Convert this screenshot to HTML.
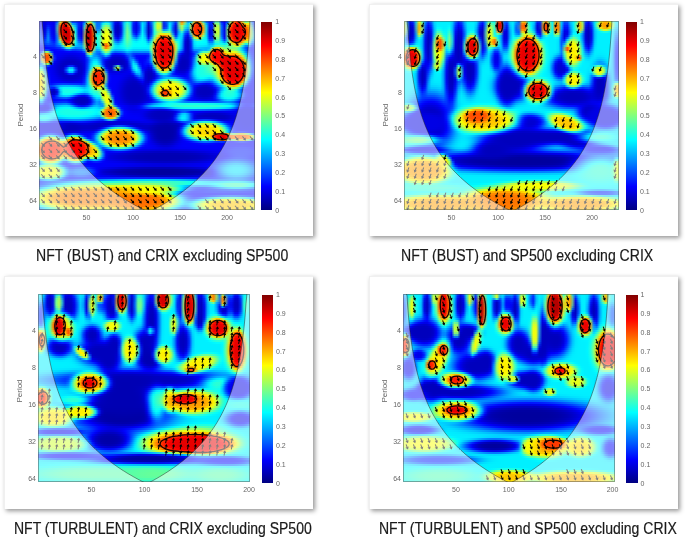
<!DOCTYPE html><html><head><meta charset="utf-8"><style>
*{margin:0;padding:0;box-sizing:border-box}
html,body{width:685px;height:541px;background:#fff;overflow:hidden;position:relative;font-family:"Liberation Sans",sans-serif}
.card{position:absolute;background:#fff;border-top:1px solid #f0f0f0;border-left:1px solid #f0f0f0;box-shadow:1.5px 1.5px 4.5px rgba(0,0,0,.42)}
.hm{position:absolute;overflow:hidden}
.ax{position:absolute;border:0.7px solid rgba(60,60,60,.45);pointer-events:none}
.hm i{position:absolute;left:0;width:100%;display:block}
.lb{position:absolute;font-size:7px;color:#666;line-height:1;white-space:nowrap;filter:blur(0.25px)}
.cap{position:absolute;font-size:16px;color:#1a1a1a;white-space:nowrap;transform-origin:0 0;line-height:1;-webkit-text-stroke:0.2px #1a1a1a}
.cb{position:absolute;background:linear-gradient(0deg,#000080 0%,#0000ff 12.5%,#00ffff 37.5%,#ffff00 62.5%,#ff0000 87.5%,#800000 100%)}
svg{position:absolute;overflow:hidden}
</style></head><body>
<svg width="0" height="0" style="position:absolute"><defs><filter id="bl" x="-5%" y="-5%" width="110%" height="110%"><feGaussianBlur stdDeviation="0.45"/></filter><g id="ar"><path d="M-2.6 0H1" stroke="#000" stroke-width="1"/><path d="M2.9 0L0.3-1.7V1.7Z" fill="#000"/></g></defs></svg>
<div class="card" style="left:4px;top:4px;width:309px;height:231.6px"></div>
<div class="hm" style="left:39px;top:21px;width:216px;height:189px"><i style="top:0px;height:2px;background:linear-gradient(90deg,#0000fa,#0000e8,#0000df,#0000fa,#0000f2,#0000ee,#005bff,#c0e23f,#ff6000,#fd9402,#4fdfb0,#0040ff,#003bff,#0017fe,#000afc,#0065ff,#78f487,#c0f43f,#0ab5f5,#0062ff,#006aff,#00adff,#00d9ff,#00c6ff,#0078ff,#000cf7,#0000e3,#002dfe,#00c2ff,#18ffe7,#04d8fb,#0030ff,#0003fc,#0055ff,#00c6ff,#009fff,#0008f7,#006aff,#16f9e9,#a2ff5d,#78fc87,#0028fc,#005dff,#00c4ff,#0087ff,#0032ff,#5ed1a1,#ff8300,#9dcd62,#00a2ff,#10d1ef,#ded421,#ff7200,#f8ac07,#40ddbf,#006bff,#0022ff,#001cff,#56e4a9,#55e0aa,#0025ff,#0000f6,#0058ff,#96f669,#ff7100,#ff2f00,#ff4e00,#dad925,#66ff99,#a3ff5c,#0061ff,#0000fa)"></i><i style="top:2px;height:2px;background:linear-gradient(90deg,#0000fd,#0000e6,#0000db,#0007fe,#0000f5,#0000ee,#138aec,#f79808,#f90a00,#fb1900,#d0c62f,#05a5fa,#007dff,#0025fc,#000bf6,#08acf7,#e5bd1a,#ff8500,#4bf0b4,#006eff,#0073ff,#0bf2f4,#3fffc0,#1efce1,#0086ff,#0004e8,#0000ce,#001ff7,#06d2f9,#3effc1,#10e2ef,#0021fc,#0000ee,#0044ff,#00e1ff,#00a1ff,#0000de,#005dfc,#37ffc8,#d0ff2f,#b5ff4a,#0020ec,#0050f7,#00edff,#007cff,#000df9,#65db9a,#ffb500,#6be794,#00cfff,#68fa97,#ff6f00,#ff2f00,#ff4900,#b1e44e,#00b4ff,#0023fd,#0023fd,#87ff78,#87fe78,#004dff,#0000f6,#149ceb,#eeb911,#fe1d00,#f90100,#fd0c00,#ff7e00,#f1ea0e,#f6ea09,#1f8ce0,#0001fe)"></i><i style="top:4px;height:2px;background:linear-gradient(90deg,#000cff,#0001e7,#0000da,#001dff,#0004f7,#0000ec,#31a2ce,#fe5500,#e00000,#e20000,#fe5e00,#41ebbe,#00b1ff,#0025f7,#0006eb,#30c6cf,#ff5d00,#fd2100,#8fe770,#006fff,#0076ff,#3dffc2,#8bff74,#5dffa2,#0088ff,#0000d9,#0000c2,#0012ee,#0bcff4,#52ffad,#18e2e7,#0019f9,#0000e8,#0035fe,#00e7ff,#0093ff,#0000ca,#004ef3,#43ffbc,#d8ff27,#c4ff3b,#0020eb,#0048f5,#00fcff,#0063fd,#0000e5,#5bd4a4,#b9ff46,#27f0d8,#00d2ff,#a2e75d,#ff4000,#ff2500,#ff2d00,#e6b419,#0ed7f1,#0018f5,#0020f4,#abff54,#b0ff4f,#0064ff,#0000f0,#3ec4c1,#ff6b00,#f60200,#e90000,#ef0000,#ff3300,#ff9000,#ffbd00,#41b7be,#000dff)"></i><i style="top:6px;height:2px;background:linear-gradient(90deg,#0026ff,#0005e8,#0000da,#0039ff,#0007f6,#0000ea,#40abbf,#f93600,#d60000,#d40000,#f41a00,#93eb6c,#00d2ff,#001ef2,#0001e4,#5bc9a4,#f42000,#e80200,#c0c33f,#0077ff,#0280fd,#70ff8f,#bfff40,#93ff6c,#0491fb,#0000d0,#0000be,#000de6,#0dcbf2,#60ff9f,#20e3df,#0017f8,#0000e7,#0031fc,#01e7fe,#0086ff,#0000c2,#0042ef,#3dffc2,#d1ff2e,#baff45,#002efc,#005dfd,#09fff6,#0055f7,#0000d9,#4ec7b1,#acff53,#1ddde2,#00b3ff,#b6d949,#ff3300,#ff2400,#ff2700,#f99c06,#1edde1,#000fea,#001eea,#baff45,#c1ff3e,#0068ff,#0005eb,#67d498,#ff3900,#ec0000,#e60000,#e80000,#fb1300,#ff5900,#ffa600,#69ce96,#0028ff)"></i><i style="top:8px;height:2px;background:linear-gradient(90deg,#0043ff,#000ce9,#0000db,#0051ff,#0009f5,#0000e8,#43a6bc,#f62e00,#d30000,#d10000,#e80400,#cfc430,#05e4fa,#001bed,#0000de,#73b28c,#e50900,#d40000,#d69729,#028cfd,#0d93f2,#9aff65,#dfff20,#bcff43,#139eec,#0000cd,#0000bd,#000be3,#0fcbf0,#6bff94,#27e7d8,#001cf9,#0000e8,#0037fe,#01e9fe,#0081ff,#0000c1,#003bee,#2fffd0,#b1ff4e,#a2ff5d,#008fff,#07b2f8,#24ffdb,#0055f5,#0000d6,#29b8d6,#8aff75,#06b8f9,#007eff,#a8da57,#ff3300,#ff2400,#ff2700,#fb9c04,#21dbde,#000ae5,#001be5,#bdff42,#c7ff38,#0065fe,#000ae9,#78d387,#fd2500,#e80000,#e60000,#e60000,#f70800,#ff4000,#ff9c00,#7dd682,#0046ff)"></i><i style="top:10px;height:2px;background:linear-gradient(90deg,#005dff,#0012ec,#0000df,#0065ff,#000bf5,#0000e7,#3998c6,#f73500,#d30000,#d10000,#de0000,#e99a16,#13eaec,#001aeb,#0000dc,#85a27a,#dc0000,#cc0000,#e57b17,#09b2f6,#18bde7,#b9ff46,#f0ff0f,#d7ff28,#23b6dc,#0000d2,#0000be,#000ee6,#11cfee,#71ff8e,#2eeed1,#002afc,#0000ef,#004bff,#01effe,#0087ff,#0000c2,#003dee,#26ffd9,#88ff77,#aeff51,#43fcbc,#57fda8,#5fffa0,#006bfa,#0000da,#0bacf4,#2ffcd0,#007cff,#0040ff,#87d978,#ff3f00,#ff2500,#ff2c00,#edaf12,#18d8e7,#0008e4,#0017e4,#b9ff46,#c5ff3a,#0064fd,#000ce9,#7dd282,#fc1f00,#e80000,#e60000,#e60000,#f50500,#ff3900,#ff9a00,#84dd7b,#0060ff)"></i><i style="top:12px;height:2px;background:linear-gradient(90deg,#006eff,#001af2,#0003e5,#0076ff,#000ef7,#0000e7,#2787d8,#fa4b00,#d40000,#d10000,#d90000,#fb8204,#23eedc,#001ced,#0000de,#959d6a,#d30000,#c90000,#ed6e0a,#0fe2f0,#28e9d7,#cdff32,#f7ff08,#e7ff18,#35cfca,#0002dd,#0000c2,#0014ef,#13d8ec,#74ff8b,#32f6cd,#0048ff,#0008fd,#006fff,#02f7fd,#0096ff,#0000ca,#0049f3,#2fffd0,#a4ff5b,#f5f00a,#e9ea16,#e9ef16,#b6ff49,#1397ec,#0001ed,#01bafe,#02e9fd,#0049ff,#000dfc,#53cdac,#ff6a00,#ff2e00,#ff4400,#cddb32,#0bd9f4,#000ae5,#0015e5,#adff52,#bbff44,#0067ff,#000aea,#79d286,#fd2300,#e80000,#e60000,#e60000,#f70700,#ff3e00,#ff9c00,#83e17c,#0070ff)"></i><i style="top:14px;height:2px;background:linear-gradient(90deg,#0074ff,#0028f8,#000ced,#0084ff,#0014f9,#0000ea,#0f7df0,#fb7604,#d90000,#d10000,#d90000,#ff7400,#2ff1d0,#0024f3,#0002e5,#a0a05f,#cf0000,#c80000,#f26802,#13fcec,#38fec7,#daff25,#f9ff06,#efff10,#4ddfb2,#000ceb,#0000d0,#0026f8,#14e4eb,#72ff8d,#35feca,#007aff,#0036ff,#009fff,#03fcfc,#00adff,#0000df,#0061fc,#4fffb0,#e2f31d,#ff9a00,#ff7800,#ff8900,#f7df08,#3dd5c2,#0023ff,#01d2fe,#00d9ff,#0026fa,#0000e4,#1391ec,#f1c40e,#ff6100,#ff9200,#83fd7c,#03dffc,#0011eb,#0017eb,#98ff67,#a8ff57,#0076ff,#0006ee,#6dd492,#ff3400,#ed0000,#e70000,#e80000,#fb0f00,#ff5400,#ffa500,#79e486,#0076ff)"></i><i style="top:16px;height:2px;background:linear-gradient(90deg,#006fff,#0036fe,#0019fb,#008dff,#001efd,#0000f2,#0077ff,#deaa21,#e60200,#d20000,#dd0000,#ff7900,#32f5cd,#0036f8,#000bee,#a5a85a,#ce0000,#c80000,#f36400,#17ffe8,#43ffbc,#e0ff1f,#faff05,#f2ff0d,#5eefa1,#0024fc,#0001ee,#004aff,#17eee8,#6bff94,#39ffc6,#00b4ff,#007dff,#00ceff,#04fffb,#00c9ff,#0012fa,#0190fe,#84ff7b,#fdbd02,#ff4f00,#ff2c00,#ff3d00,#ff9100,#8cf873,#0080ff,#01eafe,#00caff,#0012ef,#0000ce,#004ffc,#84fe7b,#ede012,#c4f63b,#29ffd6,#01e9fe,#0020f7,#0021f7,#77ff88,#86ff79,#0092ff,#000bfc,#4fd0b0,#ff5e00,#f90300,#ed0000,#f00000,#ff2700,#ff8100,#ffb800,#5bdfa4,#0070ff)"></i><i style="top:18px;height:2px;background:linear-gradient(90deg,#005fff,#0044ff,#0033ff,#008aff,#002eff,#0005fd,#0074ff,#a6e359,#f61900,#da0000,#e90100,#fb9104,#2af8d5,#0052ff,#001dfd,#a4b35b,#cf0000,#c80000,#f26802,#15ffea,#45ffba,#e2ff1d,#faff05,#f3ff0c,#67fc98,#005aff,#0026ff,#0080ff,#19f7e6,#61ff9e,#38ffc7,#01e4fe,#00c4ff,#00f0ff,#05fffa,#01e3fe,#0050ff,#10c2ef,#bef941,#ff7900,#ff1d00,#fe0600,#ff1000,#ff4f00,#d8df27,#0ce7f3,#02fbfd,#00bcff,#000ae3,#0000c3,#0031f5,#16f0e9,#53ffac,#33ffcc,#06fff9,#01f2fe,#0043ff,#0043ff,#50fcaf,#59ffa6,#00bbff,#003eff,#31d4ce,#fea301,#ff2400,#fd0700,#fe0b00,#ff6200,#ffd500,#fbe004,#30cccf,#005fff)"></i><i style="top:20px;height:2px;background:linear-gradient(90deg,#0045ff,#0044ff,#0044ff,#0078ff,#003dff,#0019ff,#0078ff,#4ff2b0,#ff6b00,#f40300,#fa1000,#e8b817,#19f8e6,#007cff,#004bff,#9dc062,#d30000,#c90000,#ec6f0a,#10ffef,#42ffbd,#e0ff1f,#fcfd03,#f3ff0c,#70ff8f,#0099ff,#006dff,#00b6ff,#18fee7,#55ffaa,#32ffcd,#04fbfb,#00f1ff,#02fefd,#05fffa,#02f5fd,#009dff,#26ebd9,#e3e01c,#ff4500,#fb0500,#f10000,#f70100,#ff2400,#fbb204,#54ffab,#08fff7,#00b2ff,#0004dd,#0000bf,#0025f1,#01e5fe,#07fff8,#03fffc,#00feff,#00f7ff,#007bff,#007cff,#27fad8,#2effd1,#02e7fd,#0096ff,#22e8dd,#e2e61d,#ff7000,#ff3c00,#ff4800,#f4c20b,#a4ff5b,#c2ff3d,#0aa2f5,#0045ff)"></i><i style="top:22px;height:2px;background:linear-gradient(90deg,#0027ff,#0030ff,#003bff,#0057ff,#003fff,#002cff,#0071ff,#09c6f6,#cdd932,#ff4b00,#ff5700,#beec41,#05ecfa,#009fff,#007eff,#8dce72,#dc0000,#cc0000,#e47c19,#08fef7,#37ffc8,#def321,#ff7600,#f6cd09,#6eff91,#00cfff,#00b2ff,#00e0ff,#17ffe8,#47ffb8,#2affd5,#07fff8,#01fffe,#04fffb,#04fffb,#02fdfd,#00dbff,#47fdb8,#f7be08,#ff2200,#f10000,#e90000,#ed0000,#fd0c00,#ff8000,#90ff6f,#0dfff2,#00abff,#0001db,#0000be,#001ff0,#00deff,#00fbff,#00f9ff,#00f7ff,#00f1ff,#00aeff,#00b1ff,#0bfbf4,#19ffe6,#13feec,#05effa,#2afdd5,#a1ff5e,#fad905,#ffa300,#febd01,#95fc6a,#15ecea,#3af9c5,#005dff,#0027ff)"></i><i style="top:24px;height:2px;background:linear-gradient(90deg,#000dff,#0015ff,#001fff,#002eff,#002dff,#002bff,#0054ff,#0079ff,#3be9c4,#e8df17,#f1dd0e,#54faab,#00c2ff,#00a7ff,#009cff,#76dd89,#e60b00,#d50000,#d29b2d,#01f5fe,#25fdda,#d6d829,#ff4e00,#f69e09,#5effa1,#00eaff,#00ddff,#00f3ff,#10ffef,#37ffc8,#1fffe0,#03fffc,#01fefe,#01fffe,#01fffe,#01fffe,#01f8fe,#67ff98,#ff9e00,#fc1000,#ea0000,#e60000,#e80000,#f70300,#ff5c00,#affa50,#0efdf1,#00a5ff,#0001da,#0000be,#001cef,#00d2ff,#00edff,#00e8ff,#00e3ff,#00ddff,#00c3ff,#04dafb,#3fffc0,#59ffa6,#41ffbe,#3affc5,#4effb1,#71ff8e,#b4ff4b,#d8ff27,#a6ff59,#1ce3e3,#0081ff,#0096ff,#0022ff,#000dff)"></i><i style="top:26px;height:2px;background:linear-gradient(90deg,#0001fe,#0003ff,#0007ff,#000dff,#0011ff,#0016ff,#0028ff,#0038ff,#0075ff,#29ead6,#3cfbc3,#04b6fb,#0082ff,#0085ff,#008bff,#4ddeb2,#f62800,#ea0400,#b0ca4f,#00d8ff,#0eedf1,#b5f54a,#ff7a00,#e3d11c,#3cfdc3,#00e4ff,#00e2ff,#00eaff,#04f9fb,#20ffdf,#0efef1,#00f4ff,#00f2ff,#00f3ff,#00f3ff,#00f3ff,#01f6fe,#76ff89,#ff8400,#f90700,#e80000,#e60000,#e60000,#f20000,#ff4700,#baf145,#0bf5f4,#009aff,#0001dc,#0000bf,#001af0,#00b9ff,#00ccff,#00c5ff,#00beff,#00b6ff,#00bcff,#5ffba0,#ecd613,#f8cc07,#baf945,#70ff8f,#76ff89,#79ff86,#80ff7f,#79ff86,#36ffc9,#00b4ff,#0053ff,#0036ff,#0007ff,#0001fe)"></i><i style="top:28px;height:2px;background:linear-gradient(90deg,#0000fa,#0003fd,#003dff,#003fff,#0005ff,#0002fe,#0007ff,#000dff,#0019ff,#004dff,#0069ff,#0040ff,#003aff,#0045ff,#0051ff,#15a4ea,#fc7503,#fe2d00,#78e387,#00a9ff,#00bfff,#73ff8c,#daff25,#abff54,#13e4ec,#00b7ff,#00bbff,#00c1ff,#00d4ff,#03f4fc,#00e5ff,#00cfff,#00ceff,#00cfff,#00d0ff,#00d0ff,#00d5ff,#6cff93,#ff7a00,#f60500,#e70000,#e60000,#e60000,#ef0000,#ff3e00,#b3ef4c,#02d3fd,#0078ff,#0001de,#0000c1,#0014f1,#0087ff,#0094ff,#00a0ff,#00b9ff,#00b0ff,#12d2ed,#e6c619,#ff3c00,#ff3200,#ff9400,#befd41,#a2ff5d,#a6ff59,#9bff64,#78ff87,#2effd1,#00c5ff,#0065ff,#0025ff,#0004ff,#0000fb)"></i><i style="top:30px;height:2px;background:linear-gradient(90deg,#0000fa,#055dfa,#88f577,#88f577,#055efa,#0000fb,#0000fb,#0000fa,#0000fa,#0004fb,#0008fc,#0005fb,#0007fd,#000cff,#0015ff,#004dff,#c4d33b,#fda102,#2ed0d1,#007cff,#0078ff,#27ebd8,#96ff69,#57fea8,#0092ff,#0062ff,#0068ff,#0070ff,#0087ff,#00b5ff,#00a5ff,#0088ff,#0086ff,#0088ff,#0089ff,#0088ff,#008dff,#4ef1b1,#ff8100,#f60400,#e60000,#e60000,#e60000,#ee0000,#ff4100,#98f467,#0085ff,#0035ff,#0000da,#0000c4,#0009ee,#0049ff,#0070ff,#0ed8f1,#4cffb3,#4affb5,#8af975,#ff5500,#fe0500,#fe0300,#ff3200,#f6d509,#d7ff28,#e9fe16,#e7fe18,#c4ff3b,#74ff8b,#13f1ec,#0092ff,#0039ff,#000aff,#0000fc)"></i><i style="top:32px;height:2px;background:linear-gradient(90deg,#0007fc,#65d09a,#ff8400,#ff8400,#65d09a,#0007fc,#0000f8,#0000f5,#0000f0,#0000ed,#0000eb,#0000eb,#0000ed,#0000f2,#0000f8,#0011fd,#55e4aa,#b2fc4d,#04adfb,#0074ff,#0053ff,#01a5fe,#2afed5,#09cff6,#0029fe,#000efb,#000ffc,#0015ff,#002dff,#0069ff,#006dff,#003fff,#0031ff,#0032ff,#0032ff,#0031ff,#003aff,#2dd6d2,#ff9500,#f70600,#e60000,#e60000,#e60000,#ef0000,#ff4c00,#7bf584,#0035fd,#0002ef,#0000ce,#0000c6,#0001ea,#002cff,#04a7fb,#7eff81,#d5ff2a,#d9ff26,#f8c107,#ff1c00,#fb0000,#fa0000,#ff0f00,#ff8300,#ffd400,#ffc000,#ffb400,#ffd000,#d8fa27,#59ffa6,#01c7fe,#0056ff,#0015ff,#0001fd)"></i><i style="top:34px;height:2px;background:linear-gradient(90deg,#001ffd,#b9cf46,#ff5200,#ff5200,#b9cf46,#001efc,#0000f5,#0000ee,#0000e7,#0000e1,#0000dd,#0000dd,#0000e1,#0000e7,#0000ee,#0003f9,#079af8,#1cf8e3,#00a3ff,#0090ff,#005dff,#005aff,#00a9ff,#0060ff,#0002ea,#0000dc,#0000dc,#0000e3,#0002f4,#0037ff,#0067ff,#0033ff,#0007ff,#0004fe,#0004fe,#0004fe,#0018ff,#1fc0e0,#f7a608,#f90900,#e70000,#e60000,#e60000,#f20000,#ff5b00,#65e79a,#0016f2,#0000d1,#0000c7,#0000c7,#0002ec,#0042ff,#2ae4d5,#d0ff2f,#f7ff08,#fbfd04,#ff9000,#fe0e00,#fa0000,#fa0000,#fe0300,#ff1d00,#ff4200,#ff5e00,#ff5b00,#ff6e00,#ffb300,#bcfb43,#1ceee3,#0077ff,#0022ff,#0002fe)"></i><i style="top:36px;height:2px;background:linear-gradient(90deg,#002ffd,#d2b82d,#ff4e00,#ff4e00,#d1b82e,#002dfc,#0000ef,#0000e5,#0000dc,#0000d4,#0000d1,#0000d1,#0000d4,#0000dc,#0000e6,#0000f5,#004bff,#00b4ff,#00b7ff,#00b4ff,#0077ff,#0035ff,#003dff,#0011f7,#0000d0,#0000c9,#0000c9,#0000ce,#0000dd,#0018fc,#0074ff,#0062ff,#000dff,#0000fa,#0000fa,#0002fd,#0024ff,#17bce8,#edb712,#fc1100,#e90000,#e60000,#e70000,#f50300,#ff7300,#49dab6,#000be5,#0000c5,#0000c3,#0000c8,#0006ef,#0063ff,#4af8b5,#e3ff1c,#faff05,#fcfd03,#ff9700,#ff1300,#fb0000,#fa0000,#f90000,#f10000,#f20000,#fe1000,#ff1d00,#ff2900,#ff5a00,#f8ce07,#5cffa3,#009cff,#0030ff,#0005ff)"></i><i style="top:38px;height:2px;background:linear-gradient(90deg,#0023fe,#bacf45,#ff5200,#ff5200,#b8cf47,#001df9,#0000e9,#0000dc,#0000d1,#0000ca,#0000c7,#0000c7,#0000ca,#0000d1,#0000dc,#0000ef,#0034ff,#009eff,#00d6ff,#00d6ff,#0091ff,#0028ff,#0003f6,#0000d8,#0000c3,#0000c0,#0000c0,#0000c3,#0000cd,#0007f0,#0071ff,#009fff,#0031ff,#0000fc,#0000fa,#0008fe,#0030ff,#0bb2f4,#dfd120,#fe2100,#ed0000,#e70000,#e90000,#fa0a00,#fe9901,#2ac3d5,#0002dc,#0000bf,#0000bf,#0000c6,#0009f0,#0076ff,#46fbb9,#daff25,#f8ff07,#f9ff06,#ffc400,#ff3200,#fe0200,#fc0000,#f50000,#e90000,#e70000,#ef0000,#fa0000,#fd0400,#ff2100,#ff7f00,#affa50,#04c2fb,#003eff,#0008ff)"></i><i style="top:40px;height:2px;background:linear-gradient(90deg,#001eff,#6ad995,#ff8400,#ff8400,#64cf9b,#0005f3,#0000e2,#0000d4,#0000c9,#0000c3,#0000c1,#0000c1,#0000c3,#0000c9,#0000d4,#0000ea,#0036ff,#00acff,#01f2fe,#01f2fe,#00a8ff,#0029ff,#0000df,#0000c7,#0000bf,#0000bd,#0000bd,#0000bf,#0000c6,#0000e2,#0060ff,#00ceff,#0070ff,#0007fd,#0000fa,#000efe,#0028ff,#0093ff,#bdea42,#ff4000,#f60100,#eb0000,#f00000,#fe1c00,#eabf15,#129eed,#0000d0,#0000bd,#0000bd,#0000c5,#000bf0,#0083ff,#29f7d6,#afff50,#e4ff1b,#e5ff1a,#e2f91d,#ff8b00,#ff2400,#ff0800,#f10000,#e70000,#e60000,#e80000,#ec0000,#ef0000,#fb0500,#ff4300,#e2dd1d,#19dde6,#004bff,#000bff)"></i><i style="top:42px;height:2px;background:linear-gradient(90deg,#004aff,#089ef7,#8af875,#88f577,#045bf9,#0000eb,#0000dc,#0000cd,#0000c4,#0000c2,#0000c9,#0000c9,#0000c2,#0000c4,#0000ce,#0000e6,#003dff,#00bfff,#0cfef3,#12feed,#00c6ff,#0033ff,#0000da,#0000c4,#0000be,#0000c0,#0000d3,#0000be,#0000c4,#0000d9,#004bff,#01e7fe,#00baff,#001eff,#0000fa,#000dff,#0010ff,#0059ff,#81fd7e,#ff7400,#fe0f00,#f70000,#fc0500,#ff4300,#c3e73c,#006eff,#0000c7,#0000bd,#0000bd,#0000c5,#000df3,#0092ff,#0df7f2,#5dffa2,#9cff63,#a2ff5d,#87ff78,#d5f22a,#ff8f00,#ff3a00,#f00000,#e60000,#e60000,#e70000,#e70000,#e80000,#f10000,#ff1e00,#fab505,#39ecc6,#0056ff,#000eff)"></i><i style="top:44px;height:2px;background:linear-gradient(90deg,#00a1ff,#00a5ff,#005bff,#003bff,#0003f6,#0000e8,#0000d8,#0000c9,#0000c3,#0002dd,#0029fc,#0029fc,#0002dd,#0000c3,#0000ca,#0000e4,#0043ff,#00cfff,#2dffd2,#66ff99,#33f7cc,#0061ff,#0000e1,#0000c6,#0000bf,#1762d4,#67f098,#001cd7,#0000c6,#0000d8,#0038fe,#06e8f9,#09eef6,#004eff,#0001fa,#0005fd,#0001f1,#0024fa,#38e6c7,#f8bc07,#ff3900,#ff1500,#ff2500,#ff8500,#7bfa84,#003bf7,#0000c3,#0000bd,#0000be,#0000c8,#0016f7,#00a5ff,#09fbf6,#23ffdc,#3dffc2,#4effb1,#57ffa8,#8aff75,#e2f91d,#ffa200,#f80e00,#e80000,#e60000,#e60000,#e60000,#e60000,#eb0000,#fc0d00,#ff8e00,#57f5a8,#005eff,#000eff)"></i><i style="top:46px;height:2px;background:linear-gradient(90deg,#19f1e6,#19f1e6,#0047ff,#0000fa,#0000f3,#0000e6,#0000d5,#0000c8,#0000ca,#0031fb,#00beff,#00beff,#0031fb,#0000ca,#0000c8,#0000e4,#004bff,#07dcf8,#8bff74,#efe510,#daee25,#28c9d7,#000cee,#0000cd,#0000c3,#50aaad,#deff21,#0b55df,#0000cc,#0000dd,#0024fb,#04d8fb,#11feee,#008bff,#0007fb,#0000f4,#0000db,#0007e9,#08abf7,#c3f53c,#ff8400,#ff4e00,#ff6800,#f0d80f,#2ddbd2,#0016f0,#0000c3,#0000bf,#0000c0,#0000d0,#0027fd,#00baff,#0cfff3,#1affe5,#22ffdd,#36ffc9,#52ffad,#7cff83,#bbff44,#f9dc06,#ff3a00,#f20000,#e80000,#e60000,#e60000,#e60000,#e80000,#f90600,#ff7500,#6afb95,#0061ff,#000eff)"></i><i style="top:48px;height:2px;background:linear-gradient(90deg,#6fff90,#6fff90,#0081ff,#0001fb,#0000f3,#0000e6,#0000d5,#0000c8,#0000d0,#0059ff,#01f1fe,#01f1fe,#0059ff,#0000d0,#0000c8,#0000e6,#0057ff,#26ecd9,#ead815,#ff7000,#ff7900,#adef52,#0046fb,#0000da,#0000ce,#1864d9,#69f296,#001ee3,#0000d8,#0000e6,#000ffa,#00abff,#06fdf9,#00bcff,#0018fb,#0000e5,#0000cc,#0000d3,#0051ff,#51f7ae,#f0e70f,#ffb000,#fccf03,#96ff69,#039bfc,#0005eb,#0000ca,#0000c5,#0000c8,#0000e0,#0040ff,#00ccff,#0ffff0,#1affe5,#20ffdf,#34ffcb,#4dffb2,#74ff8b,#b2ff4d,#f8e407,#ff5b00,#fa0600,#e90000,#e60000,#e60000,#e60000,#e70000,#f70400,#ff6c00,#6ffc90,#005dff,#000cff)"></i><i style="top:50px;height:2px;background:linear-gradient(90deg,#bcff43,#bcff43,#14b0eb,#0005fb,#0000f4,#0000e8,#0000d8,#0000c9,#0000cb,#0031fb,#00beff,#00beff,#0031fb,#0000cb,#0000ca,#0002eb,#0068ff,#65f99a,#ff8600,#ff3600,#ff3800,#f7a408,#1b97e4,#0000ec,#0000df,#0000de,#0004eb,#0000df,#0000e6,#0000ec,#0002f5,#0063ff,#00d7ff,#00c9ff,#002ffd,#0000d9,#0000c3,#0000c5,#0015f4,#07baf8,#74ff8b,#c1ff3e,#9aff65,#1ee7e1,#004bff,#0000ed,#0000d8,#0000d2,#0000d6,#0003f1,#0058ff,#00d4ff,#0efff1,#19ffe6,#1fffe0,#2dffd2,#41ffbe,#63ff9c,#a3ff5c,#f4e80b,#ff6100,#fb0800,#e90000,#e60000,#e60000,#e60000,#e70000,#f70500,#ff7200,#67f798,#0053ff,#0008ff)"></i><i style="top:52px;height:2px;background:linear-gradient(90deg,#ecfd13,#ecfd13,#31d4ce,#000bfc,#0000f5,#0000eb,#0000dc,#0000cd,#0000c6,#0002de,#0029fd,#0029fd,#0002de,#0000c6,#0000ce,#0007f0,#007fff,#9df062,#ff5100,#ff2700,#ff2700,#ff6200,#51ceae,#0005f8,#0000f0,#0000ed,#0000ec,#0000ee,#0000ee,#0000ec,#0000e9,#001ffc,#0091ff,#00aeff,#0041ff,#0000d3,#0000bf,#0000bf,#0001e1,#0054ff,#06d2f9,#23fadc,#11ebee,#008bff,#0020ff,#0001f8,#0000eb,#0000e5,#0000e8,#000afb,#0061ff,#00cfff,#0afef5,#17ffe8,#1bffe4,#22ffdd,#2bffd4,#48ffb7,#8bff74,#eaf115,#ff6e00,#fd0d00,#eb0000,#e60000,#e60000,#e60000,#e80000,#fa0800,#ff8800,#4fedb0,#0043ff,#0005ff)"></i><i style="top:54px;height:2px;background:linear-gradient(90deg,#fcf103,#fcf103,#56e6a9,#0014fd,#0000f7,#0000ef,#0000e2,#0000d4,#0000c9,#0000c6,#0000cc,#0000cc,#0000c6,#0000c9,#0000d5,#000df7,#0099ff,#c1df3e,#ff3c00,#ff2400,#ff2400,#ff4600,#79d586,#000cfd,#0000f8,#0000f7,#0000f6,#0000f3,#0000ed,#0000e5,#0000de,#0002ea,#0040ff,#007aff,#0044ff,#0000d2,#0000be,#0000be,#0000d5,#001cff,#006dff,#00a5ff,#009cff,#0068ff,#003dff,#0027ff,#0011ff,#0004fa,#0000f8,#000dff,#0059ff,#00bfff,#04f9fb,#12ffed,#14ffeb,#11ffee,#0cfff3,#22ffdd,#68ff97,#d3fc2c,#ff8900,#ff1800,#ef0000,#e70000,#e60000,#e60000,#ec0000,#fe1400,#f9af06,#2bdcd4,#002fff,#0002fe)"></i><i style="top:56px;height:2px;background:linear-gradient(90deg,#ffe600,#ffe600,#71f48e,#001efd,#0000f8,#0000f3,#0000e9,#0000dc,#0000d1,#0000ca,#0000c7,#0000c7,#0000ca,#0000d1,#0000de,#0017fb,#00afff,#d1d92e,#ff3700,#ff2400,#ff2400,#ff3e00,#82d47d,#0010fd,#0000fa,#0000f9,#0000f7,#0000f1,#0000e7,#0000dd,#0000d4,#0000d4,#0009f4,#003bff,#0033ff,#0000d3,#0000be,#0000c1,#0000e1,#002aff,#0071ff,#00adff,#00c7ff,#00c6ff,#00b7ff,#0098ff,#0069ff,#0038ff,#0014ff,#000fff,#0047ff,#00a5ff,#00e8ff,#04fdfb,#05fcfa,#01f2fe,#00e1ff,#03eefc,#39ffc6,#a7ff58,#ffb700,#ff3100,#f70100,#ea0000,#e70000,#e90000,#f40100,#ff3300,#dcd923,#0db7f2,#001cff,#0001fd)"></i><i style="top:58px;height:2px;background:linear-gradient(90deg,#ffe100,#ffe100,#84fe7b,#0026fe,#0000f9,#0000f6,#0000f0,#0000e6,#0000dc,#0000d5,#0000d1,#0000d1,#0000d5,#0000dc,#0000e8,#0020fe,#00bbff,#cbde34,#ff3c00,#ff2400,#ff2600,#ff4600,#79d586,#000dfd,#0000fa,#0000f9,#0000f6,#0000ed,#0000e0,#0000d4,#0000cc,#0000c9,#0000d6,#0009f9,#0017ff,#0000d3,#0000c1,#0000d2,#0019fb,#0081ff,#04d8fb,#27fcd8,#4dffb2,#5cffa3,#53ffac,#31fece,#0ce6f3,#00a2ff,#0051ff,#0022ff,#0036ff,#0081ff,#00c0ff,#00d3ff,#00ccff,#00b8ff,#00a4ff,#00b5ff,#0df2f2,#69ff96,#eae615,#ff6000,#fe1100,#f40000,#ee0000,#f20000,#fe0e00,#ff6f00,#97fa68,#007eff,#000dff,#0000fc)"></i><i style="top:60px;height:2px;background:linear-gradient(90deg,#ffde00,#ffde00,#93ff6c,#002dfe,#0000fc,#0001fc,#0002fb,#0001f8,#0000f3,#0000ed,#0000e9,#0000e8,#0000eb,#0000ef,#0000f6,#002bff,#00bfff,#b1ed4e,#ff5000,#ff2700,#ff3300,#ff6b00,#55d0aa,#0007fd,#0000fa,#0000f9,#0000f4,#0000e8,#0000da,#0000cd,#0000c6,#0000c3,#0000c5,#0000dc,#0001f7,#0000d3,#0000cb,#000af3,#006eff,#0fe9f0,#5cffa3,#9cff63,#beff41,#caff35,#c4ff3b,#aaff55,#75ff8a,#25fada,#00b2ff,#0051ff,#0031ff,#0055ff,#007aff,#007aff,#0068ff,#0057ff,#0052ff,#0070ff,#00beff,#24fcdb,#a8ff57,#ffb000,#ff4000,#ff1100,#fd0700,#ff1000,#ff4300,#f4ca0b,#36e9c9,#0042ff,#0004fe,#0000fb)"></i><i style="top:62px;height:2px;background:linear-gradient(90deg,#ffde00,#ffde00,#99ff66,#0036ff,#0010ff,#0020ff,#0031ff,#003dff,#0041ff,#003fff,#003aff,#0036ff,#0033ff,#002eff,#0028ff,#0046ff,#00c1ff,#85ff7a,#ff8300,#ff3700,#ff5700,#fbb804,#26a8d9,#0003fc,#0000fa,#0000f8,#0000f1,#0000e4,#0000d4,#0000c8,#0000c2,#0000bf,#0000c0,#0000c8,#0000df,#0000d4,#0000e1,#003cff,#05ccfa,#60ff9f,#b5ff4a,#e3ff1c,#f6ff09,#fafd05,#f9fe06,#ebff14,#c8ff37,#83ff7c,#1cf7e3,#0093ff,#003bff,#0028ff,#0028ff,#0018fe,#000cf7,#0007f4,#000afa,#002dff,#0078ff,#01d0fe,#3ffec0,#d0f72f,#ff9d00,#ff5400,#ff3f00,#ff5600,#fead01,#92fd6d,#039ffc,#001aff,#0000fd,#0000fa)"></i><i style="top:64px;height:2px;background:linear-gradient(90deg,#ffde00,#ffde00,#99ff66,#0052ff,#003bff,#0056ff,#0086ff,#00aaff,#00b7ff,#00b9ff,#00b6ff,#00b1ff,#00aaff,#009cff,#0085ff,#0081ff,#00ccff,#47ffb8,#f0d70f,#ff7000,#ff9a00,#dff520,#15a4ea,#0003fc,#0000fa,#0000f7,#0000ef,#0000e0,#0000d0,#0000c4,#0000bf,#0000be,#0000be,#0000c1,#0000cf,#0000d7,#000af4,#007bff,#29f8d6,#a2ff5d,#e4ff1b,#fdfc02,#fff500,#fff200,#fff300,#fff900,#f0ff0f,#beff41,#5cffa3,#03cefc,#0050ff,#000cfd,#0000ed,#0000da,#0000ce,#0000cc,#0000d7,#0004f4,#0037ff,#0085ff,#03d4fc,#4effb1,#cdf932,#fdcf02,#ffb700,#f7d708,#a7fd58,#13d7ec,#0044ff,#0006ff,#0000fb,#0000fa)"></i><i style="top:66px;height:2px;background:linear-gradient(90deg,#ffe100,#ffe000,#93ff6c,#0067ff,#0023fe,#001cfc,#0071ff,#00e4ff,#06fbf9,#07fcf8,#07fbf8,#06faf9,#03f7fc,#00edff,#00d5ff,#00beff,#00ddff,#22ffdd,#99ff66,#f3e30c,#f4f00b,#caff35,#37e5c8,#001afe,#0000fa,#0000f7,#0000ed,#0000dd,#0000cc,#0000c2,#0000be,#0000bd,#0000bd,#0000be,#0000c7,#0000da,#001bfc,#00a7ff,#51ffae,#c4ff3b,#f7fe08,#ffed00,#ffe900,#fff000,#fff000,#fff200,#fdfc02,#dbff24,#85ff7a,#10eaef,#0063ff,#0007f5,#0000d2,#0000c4,#0000bf,#0000bf,#0000c4,#0000d8,#000bfa,#004dff,#009eff,#07edf8,#53ffac,#9bff64,#aaff55,#72ff8d,#12e2ed,#0065ff,#0013ff,#0000fd,#0000fa,#0000fa)"></i><i style="top:68px;height:2px;background:linear-gradient(90deg,#ffe600,#ffe600,#80ff7f,#004fff,#0000dd,#0000c9,#001cf3,#01cdfe,#15ffea,#17ffe8,#17ffe8,#16ffe9,#14ffeb,#0bfff4,#00f6ff,#00ddff,#00e6ff,#15ffea,#44ffbb,#7aff85,#a2ff5d,#d6ff29,#9aff65,#0167fe,#0000fa,#0000f6,#0000ec,#0000db,#0000cb,#0000c1,#0000bd,#0000bd,#0000bd,#0000be,#0000c3,#0000db,#0023fe,#00b9ff,#61ff9e,#ceff31,#fce203,#ff7300,#ff7200,#ffd500,#fff000,#fff100,#fffa00,#e3ff1c,#92ff6d,#18f0e7,#0069ff,#0006f0,#0000c9,#0000bf,#0000bd,#0000bd,#0000bf,#0000ca,#0001ed,#0041ff,#00aaff,#03f3fc,#29ffd6,#49ffb6,#43ffbc,#0ef4f1,#0095ff,#0031ff,#0005ff,#0000fb,#0000fa,#0000fa)"></i><i style="top:70px;height:2px;background:linear-gradient(90deg,#fcf103,#fdf002,#63f79c,#0034fd,#0000c9,#0000bd,#0009e3,#00b4ff,#15ffea,#19ffe6,#19ffe6,#16ffe9,#0cfff3,#03f6fc,#00e1ff,#00caff,#00d5ff,#0afcf5,#2affd5,#33ffcc,#6dff92,#e3ff1c,#dfff20,#2bbdd4,#0004fb,#0000f6,#0000eb,#0000da,#0000ca,#0000c1,#0000bd,#0000bd,#0000bd,#0000bd,#0000c2,#0000d7,#001efd,#00acff,#54ffab,#c4ff3b,#ffa500,#ff3b00,#ff3b00,#ff9700,#fff000,#fff200,#fdfc02,#dbff24,#85ff7a,#10e9ef,#005eff,#0004ee,#0000c8,#0000be,#0000bd,#0000bd,#0000be,#0000c7,#0003ed,#0058ff,#00cfff,#11ffee,#27ffd8,#2effd1,#22ffdd,#03eefc,#0098ff,#003cff,#0009ff,#0000fb,#0000fa,#0000fa)"></i><i style="top:72px;height:2px;background:linear-gradient(90deg,#ecfd13,#eefd11,#3be3c4,#002aff,#0000d7,#0000c7,#0016f1,#00bcff,#07fef8,#0dfff2,#0afef5,#03eefc,#00c4ff,#0093ff,#0071ff,#0064ff,#0085ff,#00d6ff,#16ffe9,#20ffdf,#4bffb4,#e3ff1c,#f5ff0a,#72f58d,#001cfd,#0000f6,#0000ec,#0000db,#0000cb,#0000c1,#0000bd,#0000bd,#0000bd,#0000bd,#0000c2,#0000d2,#000ff9,#0086ff,#2efbd1,#a3ff5c,#faac05,#ff3b00,#ff3b00,#ff9900,#fff300,#fff900,#f0ff0f,#beff41,#5cffa3,#03cdfc,#0045ff,#0001eb,#0000ca,#0000c0,#0000be,#0000be,#0000c0,#0000cd,#000cf6,#0078ff,#01e7fe,#17ffe8,#21ffde,#22ffdd,#1affe5,#04f6fb,#00afff,#0050ff,#000fff,#0000fb,#0000fa,#0000fa)"></i><i style="top:74px;height:2px;background:linear-gradient(90deg,#bcff43,#bdff42,#15bbea,#001eff,#0005fa,#0006f5,#0041ff,#00a4ff,#00c6ff,#00cfff,#00bdff,#0085ff,#003dff,#0012f6,#0004ec,#0002ed,#001afb,#0078ff,#01dffe,#07fef8,#1ffbe0,#d7ff28,#faff05,#baff45,#0054fe,#0000f7,#0000ed,#0000dd,#0000cc,#0000c2,#0000be,#0000bd,#0000bd,#0000be,#0000c2,#0000ce,#0002ee,#0050ff,#07daf8,#62ff9d,#cbf134,#ff8200,#ff7b00,#fde302,#f9fe06,#ebff14,#c8ff37,#83ff7c,#1cf7e3,#0090ff,#0026ff,#0000eb,#0000d2,#0000c8,#0000c3,#0000c3,#0000c8,#0000da,#001afd,#008bff,#01ecfe,#13ffec,#1bffe4,#1bffe4,#14ffeb,#01f1fe,#00a8ff,#004aff,#000dff,#0000fa,#0000f9,#0000fa)"></i><i style="top:76px;height:2px;background:linear-gradient(90deg,#6fff90,#70ff8f,#0084ff,#0007ff,#0009ff,#0013ff,#002eff,#0049ff,#0059ff,#005dff,#0044ff,#0014fa,#0000df,#0000c8,#0000c2,#0000c3,#0000d7,#0024fc,#0099ff,#00deff,#04dcfb,#b5ff4a,#faff05,#e0ff1f,#158dea,#0000f8,#0000ef,#0000e0,#0000d0,#0000c4,#0000bf,#0000be,#0000be,#0000bf,#0000c4,#0000cf,#0000e2,#001dfe,#0087ff,#0fecf0,#5cffa3,#a6ff59,#c8ff37,#caff35,#c4ff3b,#aaff55,#75ff8a,#25fada,#00b1ff,#004cff,#000dff,#0000f0,#0000e1,#0000d6,#0000d1,#0000d1,#0000d7,#0000e8,#001eff,#007bff,#00d0ff,#04f9fb,#0dfff2,#0dfff2,#04f8fb,#00ccff,#007aff,#002aff,#0003fd,#0000f7,#0000f8,#0000f9)"></i><i style="top:78px;height:2px;background:linear-gradient(90deg,#19f1e6,#19f1e6,#0048ff,#0000fe,#0001ff,#0004ff,#000aff,#0010ff,#0015ff,#0014ff,#0004fb,#0000de,#0000c6,#0000be,#0000bd,#0000bd,#0000c5,#0007ef,#0065ff,#00b6ff,#00a8ff,#75fa8a,#f7ff08,#eeff11,#31bfce,#0002fa,#0000f1,#0000e4,#0000d4,#0000c8,#0000c2,#0000bf,#0000bf,#0000c2,#0000c8,#0000d3,#0000df,#0004f7,#0037ff,#0086ff,#04d6fb,#24fadb,#4bffb4,#5cffa3,#54ffab,#32ffcd,#0ce8f3,#00a5ff,#0055ff,#001dff,#0005fe,#0000fa,#0000f3,#0000ec,#0000e7,#0000e7,#0000eb,#0000f5,#0010ff,#0046ff,#0087ff,#00b9ff,#00d1ff,#00d1ff,#00b6ff,#007bff,#0035ff,#0008fe,#0000f5,#0000f3,#0000f5,#0000f8)"></i><i style="top:80px;height:2px;background:linear-gradient(90deg,#00a2ff,#00a3ff,#0024ff,#0009ff,#0012ff,#001aff,#0022ff,#002aff,#0030ff,#002eff,#0016fe,#0000e9,#0000ca,#0000bf,#0000bd,#0000be,#0000c6,#0005ee,#0056ff,#009eff,#0084ff,#33d6cc,#e9ff16,#f1ff0e,#4fdbb0,#000afc,#0000f4,#0000e9,#0000da,#0000ce,#0000c6,#0000c3,#0000c3,#0000c7,#0000d0,#0000e0,#0001f1,#000cfb,#0028ff,#0051ff,#0084ff,#00b7ff,#00ddff,#00f1ff,#00efff,#00dbff,#00baff,#0097ff,#007cff,#0070ff,#006eff,#006dff,#0069ff,#0061ff,#005bff,#0057ff,#0057ff,#0058ff,#0058ff,#005fff,#006fff,#0082ff,#008cff,#0085ff,#0069ff,#003cff,#0013ff,#0001fb,#0000f5,#0000f4,#0000f6,#0000f9)"></i><i style="top:82px;height:2px;background:linear-gradient(90deg,#004aff,#0048ff,#000afe,#000fff,#0030ff,#0052ff,#0068ff,#0076ff,#0081ff,#0083ff,#0066ff,#0027fe,#0002e9,#0000ce,#0000c6,#0000c9,#0000dd,#001afc,#0071ff,#00a3ff,#0083ff,#07a4f8,#bbff44,#eeff11,#60ef9f,#001dff,#0000fb,#0000f2,#0000e6,#0000da,#0000d2,#0000cf,#0000d1,#0000dc,#0003f1,#001cfe,#0046ff,#0071ff,#0098ff,#00b3ff,#00ceff,#01e8fe,#08f8f7,#10ffef,#17ffe8,#18ffe7,#15ffea,#12feed,#13feec,#13ffec,#14ffeb,#15ffea,#14ffeb,#13fdec,#12fbed,#11f9ee,#10f7ef,#0ff5f0,#0cf2f3,#09edf6,#05e9fa,#01e3fe,#00d8ff,#00c7ff,#00a6ff,#0071ff,#003aff,#0016ff,#0006ff,#0004ff,#000aff,#0012ff)"></i><i style="top:84px;height:2px;background:linear-gradient(90deg,#000cfe,#0009fc,#0000ed,#0002f8,#002eff,#007eff,#00b4ff,#00c8ff,#00d3ff,#00d8ff,#00c8ff,#0093ff,#004cff,#001cfc,#0010f4,#0014f7,#002fff,#006fff,#00aeff,#00c0ff,#00a0ff,#0095ff,#94ff6b,#fee601,#b9f846,#098cf6,#0018ff,#0003fe,#0000f7,#0000ed,#0000e5,#0000e4,#0000ea,#0003fa,#0021ff,#0054ff,#0088ff,#00b1ff,#00ccff,#00daff,#00e7ff,#03f4fc,#0afcf5,#17ffe8,#22ffdd,#29ffd6,#2bffd4,#2cffd3,#2dffd2,#2effd1,#2effd1,#2effd1,#2effd1,#2effd1,#2dffd2,#2dffd2,#2cffd3,#2affd5,#28ffd7,#24ffdb,#1effe1,#16ffe9,#0cfff3,#01f8fe,#00cfff,#0084ff,#003bff,#0010ff,#0002fd,#0003fd,#000dff,#001fff)"></i><i style="top:86px;height:2px;background:linear-gradient(90deg,#0000f1,#0000ec,#0000e6,#0000f0,#002aff,#0097ff,#00e4ff,#02f9fd,#05fdfa,#08fff7,#08fef7,#02f0fd,#00ccff,#00a4ff,#008fff,#0096ff,#00b1ff,#00d4ff,#00e7ff,#00e1ff,#00c8ff,#1fe6e0,#dedf21,#ff8c00,#ff9c00,#adf252,#0a8cf5,#000eff,#0000fb,#0000f1,#0000ea,#0000e9,#0000ef,#0003fb,#0019ff,#0039ff,#0053ff,#005fff,#0060ff,#0060ff,#0064ff,#0073ff,#008cff,#00adff,#00d0ff,#07e6f8,#0ef2f1,#11f9ee,#12fced,#13feec,#14ffeb,#15ffea,#15ffea,#14ffeb,#13feec,#12fced,#11faee,#0ff6f0,#0cf2f3,#09edf6,#05e7fa,#00dfff,#00d1ff,#00baff,#008cff,#0049ff,#0012fe,#0001f5,#0000ee,#0000ee,#0000f6,#0006fd)"></i><i style="top:88px;height:2px;background:linear-gradient(90deg,#0003f9,#0000ef,#0000f0,#000dfb,#0056ff,#00c3ff,#05fcfa,#10ffef,#15ffea,#17ffe8,#18ffe7,#16ffe9,#0ffff0,#08fcf7,#06f7f9,#06f8f9,#07fcf8,#07fff8,#03fefc,#00f5ff,#05effa,#a7f858,#ff9000,#ff6600,#ff6700,#ff9b00,#6aef95,#0030ff,#0002fd,#0000f3,#0000ea,#0000e6,#0000e7,#0000ec,#0000f2,#0000f5,#0000f1,#0000e9,#0000e0,#0000db,#0000da,#0000de,#0002e8,#000eef,#0020f9,#0038ff,#0053ff,#0065ff,#006dff,#006eff,#006eff,#006eff,#006eff,#006cff,#0069ff,#0064ff,#005fff,#0059ff,#0053ff,#004cff,#0044ff,#003dff,#0034ff,#0029ff,#0017ff,#0005f9,#0000ee,#0000e8,#0000e6,#0000e7,#0000e9,#0000ee)"></i><i style="top:90px;height:2px;background:linear-gradient(90deg,#0041ff,#0039ff,#0043ff,#006dff,#00b6ff,#01f3fe,#0efff1,#15ffea,#18ffe7,#19ffe6,#19ffe6,#19ffe6,#19ffe6,#19ffe6,#18ffe7,#17ffe8,#14ffeb,#10ffef,#08fff7,#00faff,#19fbe6,#e2de1d,#ff6f00,#ff6100,#ff6100,#ff7300,#b7e948,#0059ff,#0007ff,#0000fa,#0000f2,#0000ee,#0000ed,#0000ed,#0000eb,#0000e2,#0000d6,#0000cb,#0000c4,#0000c0,#0000bf,#0000c0,#0000c2,#0000c8,#0000d3,#0000ec,#0021ff,#0055ff,#005fff,#003bff,#0010ff,#0001fa,#0000f6,#0000f2,#0000ed,#0000e9,#0000e7,#0000e5,#0000e6,#0000e7,#0000ea,#0000ee,#0000f1,#0000f4,#0000f3,#0000ed,#0000e8,#0000e6,#0000e6,#0000e6,#0000e7,#0000eb)"></i><i style="top:92px;height:2px;background:linear-gradient(90deg,#00a0ff,#00baff,#00cbff,#00dbff,#00eeff,#01fdfe,#09fff6,#10ffef,#15ffea,#17ffe8,#18ffe7,#18ffe7,#18ffe7,#18ffe7,#17ffe8,#15ffea,#10ffef,#0afff5,#02fdfd,#00f0ff,#14f5eb,#dfdf20,#ff7000,#ff6100,#ff6100,#ff7300,#b5ea4a,#0057ff,#0007ff,#0000fd,#0000f7,#0000f4,#0000f3,#0000f1,#0000e9,#0000dc,#0000ce,#0000c4,#0000bf,#0000bd,#0000bd,#0000bd,#0000be,#0000c1,#0000ce,#000cf6,#006cff,#00c4ff,#00d5ff,#009dff,#0037ff,#0000ef,#0000db,#0000d3,#0000cd,#0000c8,#0000c6,#0000c5,#0000c6,#0000c7,#0000cb,#0000d0,#0000d8,#0000e1,#0000e8,#0000e9,#0000e7,#0000e6,#0000e6,#0000e6,#0000e7,#0000ea)"></i><i style="top:94px;height:2px;background:linear-gradient(90deg,#00e5ff,#07faf8,#08fef7,#03fcfc,#00f2ff,#00edff,#00f2ff,#02f9fd,#05fdfa,#09fff6,#0cfff3,#0dfff2,#0dfff2,#0cfff3,#09fff6,#05fdfa,#02f9fd,#00f0ff,#00e2ff,#00cfff,#00cdff,#94f96b,#ff9600,#ff6900,#ff6a00,#ff9f00,#67ed98,#002aff,#0003ff,#0000fc,#0000f9,#0000f8,#0000f7,#0000f4,#0000eb,#0000dc,#0000ce,#0000c4,#0000bf,#0000bd,#0000bc,#0000bc,#0000bd,#0000c1,#0000d4,#0023fd,#0098ff,#00e1ff,#00e6ff,#00adff,#0040ff,#0000e6,#0000cb,#0000c4,#0000c0,#0000be,#0000be,#0000bd,#0000bd,#0000be,#0000bf,#0000c2,#0000c8,#0000d2,#0000df,#0000e6,#0000e6,#0000e6,#0000e6,#0000e6,#0000e6,#0000ea)"></i><i style="top:96px;height:2px;background:linear-gradient(90deg,#06fbf9,#17ffe8,#18ffe7,#0afff5,#00e9ff,#00cbff,#00c2ff,#00c9ff,#00d3ff,#00dbff,#00e1ff,#00e3ff,#00e3ff,#00e1ff,#00dbff,#00d3ff,#00c8ff,#00b9ff,#00a8ff,#0093ff,#007eff,#11c0ee,#aff350,#fcc503,#fbc704,#9df662,#0880f7,#0006fe,#0000fc,#0000fa,#0000f9,#0000f9,#0000f9,#0000f7,#0000f0,#0000e4,#0000d6,#0000ca,#0000c3,#0000bf,#0000bd,#0000bd,#0000bf,#0000c6,#0000df,#003bff,#00b4ff,#00f0ff,#00eaff,#00aeff,#0041ff,#0000ea,#0000d3,#0000d0,#0000d0,#0000d0,#0000cd,#0000c8,#0000c3,#0000c0,#0000c0,#0000c2,#0000c8,#0000d2,#0000df,#0000e6,#0000e7,#0000e6,#0000e6,#0000e6,#0000e7,#0000ea)"></i><i style="top:98px;height:2px;background:linear-gradient(90deg,#00ceff,#04ecfb,#05eefa,#00d8ff,#00a9ff,#007fff,#0070ff,#0074ff,#007bff,#0081ff,#0086ff,#008aff,#008cff,#008bff,#0085ff,#007cff,#006eff,#005fff,#004eff,#003dff,#002cff,#0027ff,#0076ff,#27bcd8,#24badb,#0063ff,#0009f6,#0000f2,#0000f2,#0000f2,#0000f3,#0000f4,#0000f5,#0000f5,#0000f4,#0000ee,#0000e4,#0000d9,#0000cf,#0000c8,#0000c3,#0000c2,#0000c5,#0000cd,#0000e1,#002aff,#0096ff,#00d7ff,#00d9ff,#00a1ff,#0048ff,#001bff,#0024ff,#0036ff,#0043ff,#0044ff,#0039ff,#0025fc,#0013f2,#0003e9,#0000db,#0000d5,#0000d9,#0000e1,#0000e8,#0000ea,#0000e8,#0000e6,#0000e6,#0000e6,#0000e7,#0000eb)"></i><i style="top:100px;height:2px;background:linear-gradient(90deg,#004aff,#0062ff,#0062ff,#004cff,#002dff,#0019ff,#0013ff,#0014fd,#0013fa,#0013f8,#0013f7,#0015f9,#0018fc,#001aff,#001bff,#0016fe,#0010fb,#000af6,#0004f2,#0000ec,#0000e5,#0000df,#0000dd,#0000e4,#0000e2,#0000d9,#0000d7,#0000d7,#0000d8,#0000da,#0000dc,#0000df,#0000e3,#0000e6,#0000e9,#0000ea,#0000e8,#0000e1,#0000d6,#0000cc,#0000c4,#0000c1,#0000c1,#0000c6,#0000cf,#0001e4,#0018f7,#003dff,#0053ff,#0058ff,#006aff,#009bff,#06cff9,#1ce6e3,#29f2d6,#2cf4d3,#25ecda,#13dbec,#01b8fe,#007aff,#003dff,#0013fd,#0003f8,#0000f5,#0000f3,#0000ee,#0000e9,#0000e7,#0000e6,#0000e6,#0000e8,#0000ed)"></i><i style="top:102px;height:2px;background:linear-gradient(90deg,#0000f7,#0002f6,#0001f5,#0000f1,#0000ed,#0000ea,#0000e6,#0000df,#0000d5,#0000cd,#0000ca,#0000cb,#0000cf,#0000d5,#0000d9,#0000da,#0000d7,#0000d2,#0000cd,#0000c9,#0000c6,#0000c5,#0000c6,#0000ca,#0000d0,#0000d7,#0000dc,#0000dd,#0000d9,#0000d3,#0000ce,#0000cc,#0000cd,#0000d1,#0000d4,#0000d7,#0000d6,#0000d0,#0000c6,#0000bd,#0000b6,#0000b3,#0000b2,#0000b4,#0000b9,#0000c1,#0000ce,#0000ea,#0024ff,#007cff,#09daf6,#40ffbf,#84ff7b,#afff50,#c4ff3b,#c9ff36,#bfff40,#a3ff5c,#72ff8d,#2dfad2,#03c8fc,#006fff,#002aff,#0007ff,#0000f8,#0000f1,#0000eb,#0000e8,#0000e7,#0000e7,#0000ea,#0000ee)"></i><i style="top:104px;height:2px;background:linear-gradient(90deg,#0000e9,#0000e7,#0000e6,#0000e6,#0000e6,#0000e5,#0000e3,#0000db,#0000ce,#0000c4,#0000bf,#0000be,#0000c0,#0000c3,#0000c7,#0000c8,#0000c8,#0000c5,#0000c2,#0000c0,#0000c2,#0000cb,#0000e0,#000ef2,#0026fe,#0042ff,#0053ff,#0053ff,#0042ff,#0026fe,#000ef3,#0000e4,#0000d0,#0000c9,#0000c9,#0000c9,#0000c7,#0000c1,#0000b8,#0000b1,#0000ad,#0000ac,#0000ab,#0000ad,#0000b0,#0000b6,#0000ca,#000cf6,#006aff,#0ae2f5,#64ff9b,#b8ff47,#e9fe16,#fbf704,#fff100,#ffee00,#fff300,#f8fa07,#dfff20,#a6ff59,#4effb1,#05d6fa,#006cff,#0021ff,#0002fd,#0000f3,#0000ed,#0000ea,#0000e9,#0000e9,#0000ec,#0000f1)"></i><i style="top:106px;height:2px;background:linear-gradient(90deg,#0000e9,#0000e7,#0000e6,#0000e6,#0000e6,#0000e5,#0000e2,#0000d9,#0000cd,#0000c3,#0000be,#0000bd,#0000be,#0000c0,#0000c4,#0000c7,#0000c7,#0000c5,#0000c3,#0000c7,#0000db,#0011f7,#004eff,#009cff,#0dd5f2,#27edd8,#34f9cb,#34f9cb,#27edd8,#0dd5f2,#009eff,#0051ff,#0014f9,#0000e1,#0000ce,#0000c8,#0000c3,#0000bb,#0000b3,#0000ad,#0000aa,#0000a9,#0000a9,#0000aa,#0000ad,#0000b6,#0000d9,#0031ff,#00b9ff,#49ffb6,#b5ff4a,#f2fd0d,#ffec00,#ffe100,#ffde00,#ffdd00,#ffde00,#ffe400,#fff200,#e7ff18,#a0ff5f,#33fdcc,#00afff,#0044ff,#000cff,#0000f7,#0000f0,#0000ed,#0000eb,#0000ec,#0000ef,#0000f3)"></i><i style="top:108px;height:2px;background:linear-gradient(90deg,#0000ef,#0000eb,#0000e9,#0000e8,#0000e7,#0000e5,#0000de,#0000d3,#0000c7,#0000c0,#0000be,#0000bf,#0000c1,#0000c5,#0000cb,#0000d0,#0000d1,#0000d0,#0000d2,#0002e7,#0029fd,#008bff,#16e7e9,#63ff9c,#acff53,#d7fd28,#e5f51a,#e5f51a,#d8fd27,#adff52,#65ff9a,#18e9e7,#0092ff,#0030ff,#0003ef,#0000d7,#0000c9,#0000bc,#0000b2,#0000ab,#0000a9,#0000a9,#0000a9,#0000a9,#0000ac,#0000b8,#0001e6,#0053ff,#0ae0f5,#78ff87,#d8ff27,#fef401,#ffe200,#ffdc00,#ffdb00,#ffdb00,#ffdc00,#ffdd00,#ffe600,#fafa05,#c4ff3b,#5effa1,#02d5fd,#005cff,#0015ff,#0000fa,#0000f3,#0000f0,#0000ef,#0000ef,#0000f2,#0000f6)"></i><i style="top:110px;height:2px;background:linear-gradient(90deg,#0000f7,#0000f6,#0000f7,#0002f8,#0002f8,#0000f2,#0000e5,#0000d8,#0000cf,#0000cb,#0000cf,#0000d7,#0000db,#0000dc,#0000e0,#0000e5,#0000e7,#0000e8,#0004f4,#0033ff,#00a0ff,#2ff8d0,#a1ff5e,#edf512,#ffd300,#ffb800,#ffad00,#ffad00,#ffb800,#ffd200,#eef511,#a3ff5c,#32f9cd,#00a7ff,#003aff,#0005f5,#0000da,#0000c4,#0000b4,#0000ac,#0000a9,#0000a8,#0000a8,#0000a9,#0000ab,#0000b9,#0003e9,#005cff,#0de5f2,#7dff82,#daff25,#fff400,#ffe200,#ffdc00,#ffdb00,#ffdb00,#ffdc00,#ffdd00,#ffe500,#fdf602,#d8ff27,#78ff87,#09ddf6,#0060ff,#001dff,#0018fd,#0025fb,#0024f9,#0014f8,#0003f8,#0000f6,#0000f8)"></i><i style="top:112px;height:2px;background:linear-gradient(90deg,#0000fc,#000bff,#0027ff,#0044ff,#004dff,#003aff,#0018fe,#0003f5,#0000ec,#0007f3,#0026fd,#004dff,#0050ff,#002eff,#000bfc,#0000f8,#0000f8,#0002fc,#0025ff,#0084ff,#1df3e2,#9dff62,#f6f009,#ffbc00,#ff9f00,#ff9300,#ff8f00,#ff8f00,#ff9300,#ff9f00,#ffbc00,#f7f008,#9eff61,#1ef4e1,#0086ff,#0022ff,#0000ec,#0000cd,#0000b8,#0000ad,#0000a9,#0000a8,#0000a8,#0000a9,#0000ad,#0000bb,#0001e8,#004aff,#03cefc,#58ffa7,#bbff44,#f4fd0b,#ffec00,#ffe100,#ffde00,#ffdd00,#ffde00,#ffd100,#ff9500,#ff5300,#ff3a00,#ff5400,#e0a61f,#87df78,#7fea80,#abd754,#cec631,#cec631,#aad855,#6ee091,#1594ea,#0024fe)"></i><i style="top:114px;height:2px;background:linear-gradient(90deg,#0016ff,#005aff,#01b3fe,#19dfe6,#23e8dc,#0fd7f0,#0096ff,#003eff,#001eff,#0068ff,#11d2ee,#3bf9c4,#3dfac2,#14d7eb,#0072ff,#0016ff,#0000fd,#000aff,#0041ff,#00b8ff,#52ffad,#d8fe27,#ffcd00,#ffa100,#ff9000,#ff8b00,#ff8a00,#ff8a00,#ff8b00,#ff9000,#ffa100,#ffcd00,#d8fe27,#53ffac,#00b8ff,#003dff,#0003f4,#0000d3,#0000bc,#0000ae,#0000aa,#0000a8,#0000a8,#0000a9,#0000ae,#0000bd,#0000df,#0024ff,#008aff,#13efec,#6fff90,#bcff43,#eafe15,#fbf704,#fff000,#ffee00,#ffe900,#ff9200,#fd1a00,#ed0000,#e70000,#ee0000,#ff1c00,#ff5f00,#ff7400,#ff6700,#ff6200,#ff6200,#ff6700,#ff8700,#dfe520,#21cfde)"></i><i style="top:116px;height:2px;background:linear-gradient(90deg,#0069ff,#1ae5e5,#89ff76,#d1f82e,#dcf023,#c2fd3d,#61ff9e,#09c9f6,#0098ff,#30eecf,#c1f83e,#f6d609,#fad205,#d3ef2c,#56f7a9,#018cfe,#001aff,#0010ff,#004bff,#00caff,#67ff98,#e6fa19,#ffc100,#ff9a00,#ff8d00,#ff8a00,#ff8a00,#ff8a00,#ff8a00,#ff8d00,#ff9a00,#ffc100,#e6fa19,#67ff98,#00c9ff,#0048ff,#0005f8,#0000d8,#0000c0,#0000b2,#0000ab,#0000a9,#0000a9,#0000ab,#0000b2,#0000c1,#0000da,#0006f9,#003aff,#008dff,#0ce1f3,#44ffbb,#86ff79,#afff50,#c5ff3a,#caff35,#cbff34,#f7c308,#fe2e00,#f00100,#e70000,#ee0000,#ff1d00,#ff6000,#ff7400,#ff6700,#ff6200,#ff6200,#ff6700,#ff8700,#dfe520,#21d0de)"></i><i style="top:118px;height:2px;background:linear-gradient(90deg,#1bdde4,#b7fa48,#fec101,#ff8700,#ff7b00,#ff9500,#f5da0a,#93ff6c,#5cffa3,#d4f12b,#ff8c00,#ff4d00,#ff4400,#ff6400,#f8ba07,#86fa79,#09a8f6,#003fff,#0049ff,#00b8ff,#53ffac,#d8fe27,#ffcd00,#ffa100,#ff9000,#ff8b00,#ff8a00,#ff8a00,#ff8b00,#ff9000,#ffa100,#ffcd00,#d8fe27,#53ffac,#00b8ff,#003fff,#0005fa,#0000df,#0000c8,#0000b8,#0000b0,#0000ad,#0000ad,#0000b0,#0000b8,#0000c8,#0000de,#0000f2,#0009fe,#002bff,#005fff,#009fff,#07d4f8,#1debe2,#2bf8d4,#2efbd1,#28f5d7,#36e9c9,#80e57f,#caa635,#fa8a05,#f48d0b,#afb350,#7ece81,#7de482,#abd754,#cfc630,#cfc630,#abd754,#6fe190,#1595ea,#0024fe)"></i><i style="top:120px;height:2px;background:linear-gradient(90deg,#91ff6e,#feb501,#ff5c00,#ff3b00,#ff3500,#ff4200,#ff7100,#fccb03,#f4e70b,#ff9000,#ff3200,#ff1100,#ff0b00,#ff1500,#ff3b00,#ff9e00,#a6f959,#19d9e6,#007bff,#0092ff,#1ef6e1,#a0ff5f,#f7f008,#ffbb00,#ff9e00,#ff9300,#ff8f00,#ff8f00,#ff9300,#ff9e00,#ffbb00,#f7f008,#a0ff5f,#1ef5e1,#0088ff,#0029ff,#0002fa,#0000e7,#0000d4,#0000c3,#0000b9,#0000b4,#0000b4,#0000b9,#0000c3,#0000d4,#0000e6,#0000f3,#0000fa,#0003fe,#000fff,#0024ff,#003eff,#0057ff,#0068ff,#006cff,#0063ff,#0050ff,#0038ff,#0030ff,#0037ff,#002ffe,#0014fd,#0001fc,#0006fc,#0017fd,#0027fd,#0027fd,#0017fd,#0006fc,#0000fb,#0000fa)"></i><i style="top:122px;height:2px;background:linear-gradient(90deg,#e7e018,#ff6600,#ff3000,#ff2100,#ff1f00,#ff2400,#ff3b00,#ff7200,#ff8800,#ff4800,#ff0f00,#fd0100,#fc0000,#fe0100,#ff0e00,#ff3f00,#ffac00,#c0fb3f,#2ff0d0,#009aff,#00bcff,#3bfcc4,#acff53,#f2f30d,#ffcf00,#ffb500,#ffab00,#ffab00,#ffb500,#ffcf00,#f2f30d,#acff53,#3bfcc4,#00b6ff,#004bff,#0010ff,#0000fa,#0000ee,#0000e1,#0000d2,#0000c7,#0000c1,#0000c1,#0000c7,#0000d2,#0000e1,#0000ee,#0000f6,#0000f9,#0000fa,#0000fb,#0001fd,#0003fe,#0007ff,#000aff,#000bff,#0009ff,#0006fe,#0002fd,#0000fc,#0000fb,#0000fa,#0000fa,#0000fa,#0000fb,#0000fb,#0000fb,#0000fb,#0000fb,#0000fb,#0000fa,#0000fa)"></i><i style="top:124px;height:2px;background:linear-gradient(90deg,#ffb000,#ff4000,#ff2100,#ff1b00,#ff1a00,#ff1c00,#ff2600,#ff4700,#ff5600,#ff2b00,#fe0500,#fb0000,#fa0000,#fb0000,#fe0300,#ff2000,#ff6f00,#ffcf00,#c5fd3a,#25e8da,#0086ff,#00b4ff,#26f5d9,#79ff86,#bdff42,#e1fa1e,#ecf113,#ecf113,#e1fa1e,#bdff42,#79ff86,#26f5d9,#00b2ff,#0055ff,#0019ff,#0002fe,#0000f9,#0000f4,#0000ec,#0000e1,#0000d8,#0000d3,#0000d3,#0000d8,#0000e1,#0000ec,#0000f4,#0000f8,#0000fa,#0000fa,#0000fa,#0000fa,#0000fa,#0000fa,#0000fa,#0000fa,#0000fa,#0000fa,#0000fa,#0000fa,#0000fa,#0000fa,#0000fb,#0000fd,#0002fe,#0004ff,#0006ff,#0006ff,#0004ff,#0002fe,#0000fd,#0000fb)"></i><i style="top:126px;height:2px;background:linear-gradient(90deg,#ff8b00,#ff3100,#ff1c00,#ff1a00,#ff1a00,#ff1a00,#ff1f00,#ff3600,#ff4400,#ff2200,#fe0300,#fa0000,#fa0000,#fa0000,#fd0100,#ff1500,#ff5b00,#ffb100,#fde302,#9aff65,#06b1f9,#0050ff,#007fff,#02c4fd,#1ce9e3,#36fdc9,#4bffb4,#4bffb4,#35fdca,#1ce9e3,#02c3fd,#007dff,#003dff,#0012ff,#0002fb,#0000f7,#0000f6,#0000f4,#0000f0,#0000ea,#0000e5,#0000e1,#0000e1,#0000e5,#0000ea,#0000f0,#0000f4,#0000f6,#0000f6,#0000f7,#0000f7,#0000f8,#0000f8,#0000f9,#0000f9,#0000f9,#0000f9,#0000fa,#0000fa,#0000fa,#0000fa,#0000fc,#0002ff,#0008ff,#000eff,#0012ff,#0013ff,#0013ff,#0012ff,#000eff,#0008ff,#0002ff)"></i><i style="top:128px;height:2px;background:linear-gradient(90deg,#ff8000,#ff2d00,#ff1b00,#ff1a00,#ff1a00,#ff1a00,#ff1e00,#ff3300,#ff4300,#ff2400,#fe0300,#fa0000,#fa0000,#fa0000,#fd0000,#ff1300,#ff5700,#ffab00,#ffce00,#e5f81a,#32ebcd,#0045ff,#001cff,#0037ff,#0056ff,#0071ff,#007fff,#007eff,#006dff,#0051ff,#002eff,#0011fd,#0003f5,#0000ed,#0000e8,#0000e5,#0000e4,#0000e2,#0000e0,#0000de,#0000db,#0000da,#0000da,#0000db,#0000de,#0000e0,#0000e2,#0000e4,#0000e5,#0000e7,#0000e9,#0000eb,#0000ed,#0000ef,#0000f1,#0000f3,#0000f4,#0000f6,#0000f7,#0000f8,#0000fa,#0001fe,#0008ff,#0010ff,#0016ff,#0018ff,#0019ff,#0019ff,#0018ff,#0015ff,#0010ff,#0008ff)"></i><i style="top:130px;height:2px;background:linear-gradient(90deg,#ff8b00,#ff3100,#ff1c00,#ff1a00,#ff1a00,#ff1a00,#ff1f00,#ff3900,#ff5300,#ff3200,#ff0800,#fb0000,#fa0000,#fb0000,#ff0300,#ff1a00,#ff5e00,#ffae00,#ffcb00,#f8ee07,#68ff97,#0070ff,#0004fd,#0001f9,#0005f9,#0009f9,#000bf8,#0009f6,#0005f3,#0000ed,#0000e2,#0000da,#0000d4,#0000d0,#0000cd,#0000cb,#0000c9,#0000c7,#0000c5,#0000c4,#0000c3,#0000c3,#0000c3,#0000c3,#0000c4,#0000c5,#0000c7,#0000c9,#0000cb,#0000cd,#0000d0,#0000d3,#0000d7,#0000da,#0000de,#0000e2,#0000e6,#0000ea,#0000ed,#0000f1,#0000f5,#0001fd,#0009ff,#0013ff,#0018ff,#001aff,#001aff,#001aff,#001aff,#0018ff,#0013ff,#000bff)"></i><i style="top:132px;height:2px;background:linear-gradient(90deg,#ffb000,#ff4000,#ff2100,#ff1b00,#ff1a00,#ff1c00,#ff2600,#ff5000,#ff7e00,#ff5900,#ff1800,#fe0200,#fd0000,#fe0200,#ff1100,#ff3700,#ff7b00,#ffbd00,#ffd300,#f8f307,#7aff85,#008dff,#0007f8,#0000ea,#0000e5,#0000e1,#0000dc,#0000d6,#0000d1,#0000cc,#0000c7,#0000c3,#0000c0,#0000bd,#0000bb,#0000b9,#0000b8,#0000b7,#0000b6,#0000b6,#0000b5,#0000b5,#0000b5,#0000b5,#0000b6,#0000b6,#0000b7,#0000b8,#0000b9,#0000bb,#0000bd,#0000c0,#0000c3,#0000c7,#0000cb,#0000d0,#0000d5,#0000da,#0000e0,#0000e5,#0000ec,#0000f7,#0005ff,#0011ff,#0018ff,#001cff,#001cff,#001cff,#001aff,#0017ff,#0011ff,#0008ff)"></i><i style="top:134px;height:2px;background:linear-gradient(90deg,#e7e018,#ff6600,#ff3000,#ff2100,#ff1f00,#ff2400,#ff3b00,#ff8300,#fdd902,#ffb300,#ff4a00,#ff1800,#ff0d00,#ff1700,#ff4300,#ff9300,#fad905,#f6ef09,#f8f407,#d7ff28,#53ffac,#0082ff,#0006f5,#0000e2,#0000dc,#0000d6,#0000d1,#0000cb,#0000c6,#0000c2,#0000be,#0000bb,#0000b8,#0000b7,#0000b5,#0000b4,#0000b3,#0000b3,#0000b3,#0000b3,#0000b3,#0000b3,#0000b3,#0000b3,#0000b3,#0000b3,#0000b3,#0000b3,#0000b4,#0000b5,#0000b7,#0000b8,#0000bb,#0000be,#0000c2,#0000c6,#0000cb,#0000d1,#0000d8,#0000df,#0000e8,#0000f3,#0002fe,#000fff,#0019ff,#001eff,#0020ff,#001eff,#001aff,#0014ff,#000bff,#0003ff)"></i><i style="top:136px;height:2px;background:linear-gradient(90deg,#91ff6e,#feb501,#ff5c00,#ff3b00,#ff3500,#ff4200,#ff7100,#f4da0b,#89ff76,#a2fe5d,#fabb05,#ff6000,#ff4500,#ff5b00,#fdb002,#aafb55,#47feb8,#61ff9e,#85ff7a,#64ff9b,#0fe1f0,#0053ff,#0002f3,#0000e2,#0000dc,#0000d6,#0000d1,#0000cb,#0000c6,#0000c2,#0000be,#0000bb,#0000b8,#0000b7,#0000b5,#0000b4,#0000b3,#0000b3,#0000b3,#0000b3,#0000b3,#0000b3,#0000b3,#0000b3,#0000b3,#0000b3,#0000b3,#0000b3,#0000b4,#0000b5,#0000b7,#0000b8,#0000bb,#0000be,#0000c2,#0000c7,#0000cc,#0000d3,#0000dc,#0000e7,#0000f3,#0004fc,#000fff,#001bff,#0025ff,#002aff,#002bff,#0026ff,#001fff,#0015ff,#000bff,#0004ff)"></i><i style="top:138px;height:2px;background:linear-gradient(90deg,#1bdde4,#b7fa48,#fec101,#ff8800,#ff7b00,#ff9500,#f5da0a,#81ff7e,#07c9f8,#08c5f7,#76ff89,#e3e61c,#fdd002,#ece013,#95ff6a,#0ecaf1,#005fff,#007eff,#00b4ff,#00afff,#006fff,#001dff,#0000f3,#0000e9,#0000e4,#0000df,#0000da,#0000d5,#0000d0,#0000cb,#0000c7,#0000c3,#0000c0,#0000bd,#0000bb,#0000b9,#0000b8,#0000b7,#0000b6,#0000b6,#0000b5,#0000b5,#0000b5,#0000b5,#0000b6,#0000b6,#0000b7,#0000b8,#0000b9,#0000bb,#0000bd,#0000c0,#0000c3,#0000c7,#0000cc,#0000d1,#0000d8,#0000e1,#0000ee,#0003fa,#0011ff,#0024ff,#0036ff,#0044ff,#004dff,#0050ff,#004eff,#0045ff,#0038ff,#0029ff,#001aff,#000eff)"></i><i style="top:140px;height:2px;background:linear-gradient(90deg,#006fff,#1debe2,#90ff6f,#d5f92a,#dff020,#c5fd3a,#64ff9b,#08c4f7,#0047ff,#0035ff,#009aff,#25e6da,#42febd,#31f2ce,#05b8fa,#0045ff,#0008fe,#000afe,#001dff,#0023ff,#0015ff,#0002fd,#0000f6,#0000f3,#0000f0,#0000ed,#0000ea,#0000e6,#0000e2,#0000de,#0000da,#0000d7,#0000d3,#0000d0,#0000cd,#0000cb,#0000c9,#0000c7,#0000c5,#0000c4,#0000c4,#0000c3,#0000c3,#0000c4,#0000c4,#0000c5,#0000c7,#0000c9,#0000cb,#0000cd,#0000d0,#0000d3,#0000d7,#0000db,#0000df,#0000e5,#0000ed,#0001f8,#000bfe,#0020ff,#0039ff,#0052ff,#0068ff,#007aff,#0084ff,#0087ff,#0082ff,#0076ff,#0064ff,#004dff,#0036ff,#0021ff)"></i><i style="top:142px;height:2px;background:linear-gradient(90deg,#0066ff,#00c9ff,#28ffd7,#5effa1,#66ff99,#3dffc2,#03defc,#006dff,#001cff,#0005ff,#001bff,#0048ff,#0064ff,#0057ff,#002cff,#0009ff,#0000fc,#0000fb,#0000fc,#0000fc,#0000fb,#0000fa,#0000f9,#0000f8,#0000f8,#0000f7,#0000f6,#0000f4,#0000f2,#0000f1,#0000ef,#0000ed,#0000ea,#0000e8,#0000e6,#0000e4,#0000e3,#0000e1,#0000e0,#0000df,#0000de,#0000de,#0000de,#0000df,#0000df,#0000e0,#0000e1,#0000e3,#0000e5,#0000e7,#0000e9,#0000eb,#0000ed,#0000ef,#0000f2,#0000f7,#0002fd,#000fff,#0025ff,#0041ff,#0060ff,#007eff,#0098ff,#00aaff,#00b4ff,#00b7ff,#00b2ff,#00a5ff,#0090ff,#0075ff,#0056ff,#0038ff)"></i><i style="top:144px;height:2px;background:linear-gradient(90deg,#1aeae5,#53ffac,#85ff7a,#9bff64,#97ff68,#75ff8a,#33fbcc,#04c6fb,#0064ff,#0020ff,#0009ff,#000fff,#0019ff,#001bff,#0017ff,#0011ff,#000cff,#0005ff,#0001fe,#0000fb,#0000f9,#0000f8,#0000f7,#0000f6,#0000f5,#0000f4,#0000f2,#0000f1,#0000ef,#0000ed,#0000eb,#0000e9,#0000e7,#0000e6,#0000e4,#0000e2,#0000e1,#0000e0,#0000df,#0000df,#0000de,#0000de,#0000df,#0000df,#0000e0,#0000e2,#0000e3,#0000e5,#0000e7,#0000e9,#0000eb,#0000ed,#0000ef,#0000f1,#0000f5,#0000fb,#0007ff,#001bff,#0037ff,#005aff,#007fff,#00a0ff,#00baff,#00cbff,#00d4ff,#00d6ff,#00d2ff,#00c7ff,#00b3ff,#0096ff,#0073ff,#004fff)"></i><i style="top:146px;height:2px;background:linear-gradient(90deg,#98ff67,#cbff34,#e1ff1e,#e8ff17,#e5ff1a,#d5ff2a,#adff52,#5cffa3,#07daf8,#006aff,#002fff,#002dff,#003cff,#0047ff,#0049ff,#0043ff,#0035ff,#0022ff,#000eff,#0001fc,#0000f2,#0000ec,#0000e8,#0000e3,#0000df,#0000db,#0000d7,#0000d2,#0000ce,#0000ca,#0000c7,#0000c3,#0000c0,#0000be,#0000bb,#0000ba,#0000b8,#0000b7,#0000b6,#0000b6,#0000b6,#0000b6,#0000b6,#0000b7,#0000b8,#0000ba,#0000bc,#0000be,#0000c1,#0000c4,#0000c8,#0000cb,#0000d0,#0000d5,#0000db,#0000e6,#0001f7,#0015ff,#003aff,#0065ff,#0090ff,#00b4ff,#00cdff,#00dcff,#00e2ff,#00e3ff,#00e1ff,#00d8ff,#00c7ff,#00abff,#0087ff,#005fff)"></i><i style="top:148px;height:2px;background:linear-gradient(90deg,#d5ff2a,#f0ff0f,#f8ff07,#f9ff06,#f8ff07,#f4ff0b,#dfff20,#a5ff5a,#32fdcd,#00a7ff,#005aff,#0057ff,#0068ff,#0073ff,#0075ff,#0070ff,#0061ff,#0046ff,#0023ff,#0004fc,#0000e8,#0000d9,#0000d0,#0000ca,#0000c4,#0000be,#0000b9,#0000b4,#0000b0,#0000ad,#0000aa,#0000a8,#0000a6,#0000a4,#0000a3,#0000a2,#0000a1,#0000a1,#0000a0,#0000a0,#0000a0,#0000a0,#0000a1,#0000a1,#0000a1,#0000a2,#0000a3,#0000a4,#0000a6,#0000a8,#0000ab,#0000ae,#0000b2,#0000b7,#0000bf,#0000cc,#0000e2,#0007fc,#0030ff,#0062ff,#0091ff,#00b8ff,#00d2ff,#00e0ff,#00e5ff,#00e5ff,#00e4ff,#00ddff,#00cdff,#00b2ff,#008dff,#0065ff)"></i><i style="top:150px;height:2px;background:linear-gradient(90deg,#e3ff1c,#f6ff09,#faff05,#faff05,#faff05,#f8ff07,#e9ff16,#b5ff4a,#44ffbb,#00b8ff,#0069ff,#0066ff,#0076ff,#007eff,#007fff,#007cff,#0070ff,#0055ff,#002eff,#0007fd,#0000e4,#0000d1,#0000c7,#0000c0,#0000ba,#0000b4,#0000af,#0000ab,#0000a8,#0000a5,#0000a3,#0000a1,#0000a0,#00009f,#00009f,#00009e,#00009e,#00009e,#00009e,#00009e,#00009e,#00009e,#00009e,#00009e,#00009e,#00009f,#00009f,#0000a0,#0000a1,#0000a2,#0000a4,#0000a6,#0000a9,#0000ae,#0000b5,#0000c1,#0000d7,#0002f5,#0024ff,#0056ff,#0087ff,#00afff,#00cbff,#00dbff,#00e2ff,#00e3ff,#00e0ff,#00d8ff,#00c6ff,#00abff,#0086ff,#005fff)"></i><i style="top:152px;height:2px;background:linear-gradient(90deg,#d5ff2a,#f0ff0f,#f8ff07,#f9ff06,#f8ff07,#f4ff0b,#dfff20,#a5ff5a,#32fdcd,#00a7ff,#005aff,#0057ff,#0068ff,#0073ff,#0075ff,#0070ff,#0061ff,#0046ff,#0023ff,#0004fc,#0000e8,#0000d9,#0000d0,#0000ca,#0000c4,#0000be,#0000b9,#0000b4,#0000b0,#0000ad,#0000aa,#0000a8,#0000a6,#0000a4,#0000a3,#0000a2,#0000a1,#0000a1,#0000a0,#0000a0,#0000a0,#0000a0,#0000a1,#0000a1,#0000a1,#0000a2,#0000a3,#0000a4,#0000a6,#0000a8,#0000ab,#0000ae,#0000b2,#0000b7,#0000be,#0000c9,#0000da,#0001f5,#001cff,#0047ff,#0073ff,#009aff,#00b7ff,#00caff,#00d3ff,#00d6ff,#00d2ff,#00c6ff,#00b2ff,#0096ff,#0073ff,#004fff)"></i><i style="top:154px;height:2px;background:linear-gradient(90deg,#97ff68,#caff35,#e1ff1e,#e7ff18,#e4ff1b,#d4ff2b,#acff53,#5cffa3,#07daf8,#006bff,#002fff,#002dff,#003cff,#0047ff,#0049ff,#0043ff,#0036ff,#0023ff,#000fff,#0001fd,#0000f3,#0000ed,#0000e9,#0000e5,#0000e1,#0000dd,#0000d8,#0000d4,#0000d0,#0000cc,#0000c9,#0000c6,#0000c3,#0000c0,#0000be,#0000bd,#0000bb,#0000ba,#0000b9,#0000b9,#0000b9,#0000b9,#0000b9,#0000ba,#0000bb,#0000bc,#0000be,#0000c0,#0000c3,#0000c6,#0000c9,#0000cd,#0000d1,#0000d5,#0000da,#0000e2,#0000ee,#0003fc,#001aff,#0039ff,#005bff,#007bff,#0096ff,#00a9ff,#00b4ff,#00b7ff,#00b2ff,#00a5ff,#0090ff,#0075ff,#0056ff,#0038ff)"></i><i style="top:156px;height:2px;background:linear-gradient(90deg,#1aeae5,#4effb1,#79ff86,#89ff76,#81ff7e,#60ff9f,#2af6d5,#04c3fb,#0068ff,#0026ff,#000fff,#0011ff,#0018ff,#001eff,#0020ff,#0020ff,#001dff,#0019ff,#0016ff,#0015ff,#0015ff,#0016ff,#0018ff,#0019ff,#001aff,#001bff,#001cff,#001dff,#001eff,#001fff,#001ffe,#0020fd,#0021fd,#0021fc,#0021fb,#0022fb,#0021fa,#0021fa,#0021f9,#0020f9,#0020f9,#001ff9,#001ef9,#001df8,#001cf8,#001bf9,#001af9,#0019f9,#0017f9,#0016fa,#0015fa,#0013fb,#0012fb,#0010fc,#000ffd,#000efe,#000fff,#0016ff,#0021ff,#0032ff,#0046ff,#005cff,#0070ff,#007fff,#0089ff,#008bff,#0085ff,#0079ff,#0066ff,#0050ff,#0038ff,#0023ff)"></i><i style="top:158px;height:2px;background:linear-gradient(90deg,#0057ff,#0089ff,#00b0ff,#00c3ff,#00beff,#00a3ff,#007cff,#0054ff,#003bff,#0035ff,#003bff,#0043ff,#004dff,#0056ff,#005fff,#0067ff,#006fff,#0076ff,#007eff,#0085ff,#008cff,#0093ff,#0099ff,#00a0ff,#00a6ff,#00acff,#00b2ff,#00b8ff,#00bdff,#00c2ff,#00c7ff,#00caff,#00ceff,#00d0ff,#01d2fe,#01d2fe,#02d2fd,#02d2fd,#01d2fe,#01d1fe,#00d0ff,#00cdff,#00caff,#00c6ff,#00c2ff,#00bcff,#00b7ff,#00b0ff,#00aaff,#00a2ff,#009aff,#0092ff,#008aff,#0081ff,#0079ff,#0071ff,#006bff,#0067ff,#0066ff,#0069ff,#0070ff,#007aff,#0083ff,#008bff,#008eff,#008dff,#0086ff,#007aff,#0068ff,#0053ff,#003eff,#002aff)"></i><i style="top:160px;height:2px;background:linear-gradient(90deg,#001bff,#002bff,#003cff,#004bff,#0055ff,#005dff,#0066ff,#0072ff,#0082ff,#0094ff,#00a6ff,#00b8ff,#00c9ff,#00d8ff,#04e2fb,#0ae9f5,#0feef0,#14f3eb,#17f8e8,#1afce5,#1dffe2,#21ffde,#25ffda,#29ffd6,#2cffd3,#2fffd0,#32ffcd,#35ffca,#38ffc7,#3bffc4,#3effc1,#40ffbf,#42ffbd,#44ffbb,#45ffba,#45ffba,#45ffba,#45ffba,#44ffbb,#43ffbc,#42ffbd,#40ffbf,#3effc1,#3bffc4,#37ffc8,#33ffcc,#2effd1,#28ffd7,#21ffde,#1affe5,#11ffee,#0cfbf3,#07f6f8,#02f1fd,#00e9ff,#00e0ff,#00daff,#00d7ff,#00d8ff,#00ddff,#00e4ff,#05e8fa,#0aecf5,#0deff2,#0ff0f0,#0eeef1,#0bebf4,#06e4f9,#00d6ff,#00bdff,#009fff,#007fff)"></i><i style="top:162px;height:2px;background:linear-gradient(90deg,#0025ff,#0034ff,#0047ff,#005dff,#0075ff,#008fff,#00aaff,#00c5ff,#00dfff,#09f0f6,#14fbeb,#25ffda,#37ffc8,#46ffb9,#52ffad,#5cffa3,#63ff9c,#68ff97,#6bff94,#6dff92,#6dff92,#6eff91,#6eff91,#6fff90,#70ff8f,#73ff8c,#76ff89,#79ff86,#7dff82,#81ff7e,#84ff7b,#87ff78,#89ff76,#8aff75,#8aff75,#88ff77,#85ff7a,#80ff7f,#7aff85,#73ff8c,#6aff95,#61ff9e,#58ffa7,#4effb1,#45ffba,#3cffc3,#33ffcc,#2bffd4,#23ffdc,#1affe5,#11ffee,#0cfcf3,#07f7f8,#02f3fd,#00efff,#00ecff,#00eeff,#00f6ff,#04fefb,#12ffed,#22ffdd,#31ffce,#3bffc4,#42ffbd,#46ffb9,#46ffb9,#44ffbb,#3effc1,#31ffce,#1cffe3,#05f7fa,#00d6ff)"></i><i style="top:164px;height:2px;background:linear-gradient(90deg,#0045ff,#0061ff,#0081ff,#00a3ff,#00c6ff,#04e5fb,#15f7ea,#2dffd2,#4affb5,#64ff9b,#7aff85,#8cff73,#9bff64,#a6ff59,#aeff51,#b3ff4c,#b7ff48,#b9ff46,#bbff44,#beff41,#c2ff3d,#c7ff38,#cdff32,#d4ff2b,#daff25,#e0ff1f,#e4ff1b,#e6fe19,#e8fe17,#e9ff16,#e9ff16,#e8ff17,#e7ff18,#e6ff19,#e4ff1b,#e2ff1d,#deff21,#d8ff27,#d1ff2e,#c6ff39,#b8ff47,#a6ff59,#8fff70,#74ff8b,#55ffaa,#33ffcc,#11ffee,#01eefe,#00d1ff,#00b9ff,#00a6ff,#0099ff,#0090ff,#008cff,#008dff,#0094ff,#00a3ff,#00b9ff,#00d5ff,#04eefb,#10fcef,#24ffdb,#34ffcb,#3effc1,#43ffbc,#44ffbb,#42ffbd,#3affc5,#2cffd3,#16fee9,#04f0fb,#00cdff)"></i><i style="top:166px;height:2px;background:linear-gradient(90deg,#0091ff,#00bbff,#05e3fa,#1bf9e4,#40ffbf,#68ff97,#8cff73,#abff54,#c5ff3a,#dbff24,#e9fa16,#f0f40f,#f6ef09,#faec05,#fdea02,#ffe800,#ffe500,#ffe300,#ffe000,#ffdc00,#ffd800,#ffd300,#ffcf00,#ffcc00,#ffcb00,#ffcb00,#ffce00,#ffd300,#ffda00,#ffe200,#ffe900,#fff000,#fff700,#fffc00,#fefe01,#fcff03,#faff05,#f8ff07,#f6ff09,#f2ff0d,#ebff14,#dfff20,#cdff32,#b2ff4d,#8dff72,#5fffa0,#28ffd7,#01ebfe,#00b2ff,#007dff,#0053ff,#0036ff,#0025ff,#001fff,#0020ff,#0027ff,#0035ff,#0048ff,#005fff,#0079ff,#0094ff,#00acff,#00c0ff,#00ceff,#02d5fd,#03d6fc,#01d3fe,#00c7ff,#00b5ff,#009eff,#0082ff,#0065ff)"></i><i style="top:168px;height:2px;background:linear-gradient(90deg,#07ebf8,#28fed7,#5bffa4,#8aff75,#b4ff4b,#d8ff27,#f0f80f,#fdeb02,#ffd900,#ffca00,#ffbd00,#ffb400,#ffae00,#ffaa00,#ffa700,#ffa500,#ffa500,#ffa500,#ffa500,#ffa500,#ffa500,#ffa500,#ffa500,#ffa600,#ffa800,#ffab00,#ffb100,#ffb800,#ffc100,#ffcb00,#ffd500,#ffdf00,#ffe900,#fff100,#fff800,#fffd00,#fdff02,#fbff04,#f8ff07,#f5ff0a,#efff10,#e4ff1b,#d2ff2d,#b6ff49,#8eff71,#5affa5,#1efde1,#00d9ff,#009aff,#0063ff,#003aff,#001fff,#0012ff,#000eff,#000fff,#0013ff,#0018ff,#001dff,#0023ff,#002aff,#0032ff,#0039ff,#003fff,#0044ff,#0047ff,#0047ff,#0044ff,#003eff,#0036ff,#002cff,#0021ff,#0016ff)"></i><i style="top:170px;height:2px;background:linear-gradient(90deg,#4dffb2,#84ff7b,#b5ff4a,#e1ff1e,#faf405,#ffdc00,#ffc500,#ffb300,#ffa500,#ff9c00,#ff9500,#ff9000,#ff8d00,#ff8b00,#ff8a00,#ff8900,#ff8a00,#ff8b00,#ff8c00,#ff8e00,#ff9100,#ff9300,#ff9600,#ff9800,#ff9b00,#ff9e00,#ffa200,#ffa800,#ffaf00,#ffb800,#ffc200,#ffce00,#ffd900,#ffe300,#ffed00,#fff500,#fffb00,#fcfe03,#f6ff09,#ecff13,#ddff22,#c6ff39,#a4ff5b,#76ff89,#3bffc4,#0aedf5,#00b3ff,#0075ff,#0044ff,#0023ff,#0010ff,#0008ff,#0007ff,#0009ff,#000cff,#0010ff,#0012ff,#0015ff,#0016ff,#0017ff,#0018ff,#0019ff,#0019ff,#0019ff,#0019ff,#0018ff,#0017ff,#0014ff,#0011ff,#000dff,#0009ff,#0005ff)"></i><i style="top:172px;height:2px;background:linear-gradient(90deg,#8eff71,#c3ff3c,#effd10,#ffe800,#ffca00,#ffb400,#ffa300,#ff9700,#ff8f00,#ff8900,#ff8600,#ff8300,#ff8200,#ff8100,#ff8100,#ff8100,#ff8100,#ff8100,#ff8200,#ff8300,#ff8500,#ff8700,#ff8a00,#ff8c00,#ff8e00,#ff9000,#ff9200,#ff9400,#ff9600,#ff9900,#ff9c00,#ffa100,#ffa600,#ffab00,#ffb100,#ffb700,#ffbe00,#ffc600,#ffd200,#fee401,#f4f40b,#daff25,#a9ff56,#6cff93,#27fed8,#01dbfe,#0097ff,#005cff,#0030ff,#0014ff,#0005ff,#0000fd,#0000fb,#0000fb,#0000fc,#0000fd,#0000fd,#0001fe,#0002ff,#0004ff,#0005ff,#0006ff,#0007ff,#0007ff,#0006ff,#0005ff,#0004ff,#0002ff,#0000ff,#0000fd,#0000fc,#0000fb)"></i><i style="top:174px;height:2px;background:linear-gradient(90deg,#b5ff4a,#e7ff18,#ffee00,#ffcd00,#ffb300,#ffa100,#ff9400,#ff8c00,#ff8600,#ff8300,#ff8100,#ff8000,#ff8000,#ff8000,#ff8000,#ff8000,#ff8000,#ff8000,#ff8000,#ff8000,#ff8100,#ff8200,#ff8300,#ff8400,#ff8500,#ff8500,#ff8500,#ff8400,#ff8300,#ff8100,#ff7f00,#ff7d00,#ff7b00,#ff7a00,#ff7900,#ff7900,#ff7c00,#ff8100,#ff8b00,#ff9a00,#ffb100,#ffd200,#f6f509,#c7ff38,#83ff7c,#36ffc9,#04e2fb,#009cff,#005dff,#0030ff,#0014ff,#0006ff,#0002fe,#0004fe,#0009ff,#0011ff,#001cff,#0028ff,#0035ff,#0042ff,#004eff,#0057ff,#005dff,#005fff,#005eff,#0059ff,#0051ff,#0046ff,#003aff,#002dff,#0020ff,#0014ff)"></i><i style="top:176px;height:2px;background:linear-gradient(90deg,#c1ff3e,#f1fe0e,#ffe400,#ffc400,#ffad00,#ff9c00,#ff9000,#ff8900,#ff8400,#ff8200,#ff8000,#ff8000,#ff8000,#ff8000,#ff8000,#ff8000,#ff8000,#ff8000,#ff8000,#ff8000,#ff8000,#ff8100,#ff8100,#ff8200,#ff8200,#ff8200,#ff8100,#ff8000,#ff7e00,#ff7c00,#ff7a00,#ff7800,#ff7600,#ff7300,#ff7200,#ff7000,#ff7000,#ff7100,#ff7500,#ff7e00,#ff8c00,#ffa300,#ffc500,#fbf204,#cbff34,#80ff7f,#2cffd3,#00d7ff,#008cff,#0052ff,#002fff,#0024ff,#002eff,#0045ff,#0066ff,#008cff,#00b3ff,#0acff5,#1cdee3,#2becd4,#37f7c8,#40febf,#4affb5,#4effb1,#4cffb3,#44ffbb,#3afbc5,#2ff0d0,#21e3de,#10d4ef,#01bffe,#0099ff)"></i><i style="top:178px;height:2px;background:linear-gradient(90deg,#b5ff4a,#e7ff18,#ffee00,#ffcd00,#ffb300,#ffa100,#ff9400,#ff8c00,#ff8600,#ff8300,#ff8100,#ff8000,#ff8000,#ff8000,#ff8000,#ff8000,#ff8000,#ff8000,#ff8000,#ff8000,#ff8100,#ff8100,#ff8200,#ff8200,#ff8200,#ff8100,#ff8000,#ff7e00,#ff7d00,#ff7b00,#ff7900,#ff7700,#ff7500,#ff7300,#ff7100,#ff6f00,#ff6e00,#ff6e00,#ff7000,#ff7500,#ff7f00,#ff9100,#ffae00,#ffd800,#ebfe14,#a5ff5a,#52ffad,#08f3f7,#00b0ff,#007dff,#006cff,#007cff,#00a5ff,#06d7f9,#22f5dd,#4fffb0,#7fff80,#a6ff59,#c4ff3b,#dbff24,#e6fa19,#edf612,#f1f40e,#f2f30d,#f2f30d,#eef511,#e9f916,#e0fe1f,#ccff33,#b1ff4e,#8cff73,#60ff9f)"></i><i style="top:180px;height:2px;background:linear-gradient(90deg,#8eff71,#c3ff3c,#effd10,#ffe800,#ffca00,#ffb400,#ffa300,#ff9700,#ff8f00,#ff8900,#ff8600,#ff8300,#ff8200,#ff8100,#ff8100,#ff8100,#ff8100,#ff8100,#ff8200,#ff8200,#ff8300,#ff8400,#ff8400,#ff8400,#ff8300,#ff8200,#ff8000,#ff7e00,#ff7c00,#ff7a00,#ff7800,#ff7500,#ff7300,#ff7100,#ff7000,#ff6e00,#ff6d00,#ff6e00,#ff7000,#ff7500,#ff7f00,#ff9100,#ffae00,#ffd800,#ecfe13,#a5ff5a,#54ffab,#0cf9f3,#00c8ff,#00aeff,#00bbff,#04e4fb,#29fed6,#69ff96,#a2ff5d,#d1ff2e,#f0fc0f,#fdf102,#ffe300,#ffd800,#ffd200,#ffcf00,#ffcd00,#ffcc00,#ffcd00,#ffce00,#ffd100,#ffd600,#ffdf00,#ffec00,#f6f909,#ddff22)"></i><i style="top:182px;height:2px;background:linear-gradient(90deg,#4dffb2,#84ff7b,#b5ff4a,#e1ff1e,#faf405,#ffdc00,#ffc500,#ffb300,#ffa500,#ff9c00,#ff9500,#ff9000,#ff8d00,#ff8b00,#ff8a00,#ff8900,#ff8900,#ff8a00,#ff8b00,#ff8c00,#ff8d00,#ff8d00,#ff8d00,#ff8c00,#ff8a00,#ff8700,#ff8400,#ff8000,#ff7d00,#ff7a00,#ff7700,#ff7400,#ff7200,#ff7000,#ff6f00,#ff6e00,#ff6f00,#ff7100,#ff7500,#ff7e00,#ff8c00,#ffa300,#ffc600,#fbf204,#cbff34,#81ff7e,#34ffcb,#02edfd,#00c7ff,#00c6ff,#01eafe,#28ffd7,#6dff92,#abff54,#ddff22,#fcfa03,#ffe500,#ffd600,#ffce00,#ffca00,#ffc800,#ffc700,#ffc700,#ffc700,#ffc700,#ffc700,#ffc800,#ffc900,#ffcc00,#ffd300,#ffdf00,#fff300)"></i><i style="top:184px;height:2px;background:linear-gradient(90deg,#07ebf8,#28fed7,#5bffa4,#8aff75,#b4ff4b,#d8ff27,#f0f80f,#fdeb02,#ffd900,#ffca00,#ffbd00,#ffb400,#ffae00,#ffaa00,#ffa700,#ffa700,#ffa700,#ffa800,#ffaa00,#ffab00,#ffac00,#ffac00,#ffa900,#ffa600,#ffa100,#ff9a00,#ff9400,#ff8d00,#ff8700,#ff8200,#ff7d00,#ff7a00,#ff7700,#ff7600,#ff7600,#ff7700,#ff7a00,#ff8000,#ff8a00,#ff9a00,#ffb100,#ffd200,#f6f509,#c7ff38,#83ff7c,#38ffc7,#06eaf9,#00b8ff,#00a0ff,#00afff,#00dfff,#24ffdb,#6cff93,#abff54,#ddff22,#fcfa03,#ffe500,#ffd600,#ffce00,#ffca00,#ffc800,#ffc700,#ffc700,#ffc700,#ffc700,#ffc700,#ffc800,#ffc900,#ffcc00,#ffd300,#ffdf00,#fff300)"></i><i style="top:186px;height:2px;background:linear-gradient(90deg,#0090ff,#00bbff,#05e3fa,#1bf9e4,#3fffc0,#67ff98,#8aff75,#a9ff56,#c4ff3b,#daff25,#e7fb18,#eff410,#f4f00b,#f8ed07,#faeb05,#fbea04,#faeb05,#f9ec06,#f6ed09,#f4ee0b,#f3ef0c,#f4ee0b,#f6ec09,#fae905,#ffe400,#ffd800,#ffcc00,#ffbf00,#ffb400,#ffaa00,#ffa200,#ff9c00,#ff9800,#ff9700,#ff9900,#ff9d00,#ffa600,#ffb300,#ffc600,#fedf01,#f0f30f,#cfff30,#99ff66,#5affa5,#1df8e2,#01cffe,#0093ff,#0069ff,#005bff,#006cff,#009bff,#02d9fd,#26fdd9,#68ff97,#a2ff5d,#d1ff2e,#f0fc0f,#fdf102,#ffe300,#ffd800,#ffd200,#ffcf00,#ffcd00,#ffcc00,#ffcd00,#ffce00,#ffd100,#ffd600,#ffdf00,#ffec00,#f6f909,#ddff22)"></i><i style="top:188px;height:1px;background:linear-gradient(90deg,#004fff,#006dff,#0090ff,#00b4ff,#00d9ff,#04fafb,#21ffde,#41ffbe,#5dffa2,#76ff89,#8aff75,#9bff64,#a7ff58,#b0ff4f,#b5ff4a,#b6ff49,#b4ff4b,#b0ff4f,#a9ff56,#a3ff5c,#9fff60,#9eff61,#a2ff5d,#abff54,#b8ff47,#c8ff37,#daff25,#ecff13,#fcfe03,#fff100,#ffe500,#ffdc00,#ffd600,#ffd500,#ffd800,#ffdf00,#ffec00,#fcfd03,#e5ff1a,#c3ff3c,#9aff65,#68ff97,#2fffd0,#02effd,#00b5ff,#007dff,#0050ff,#0032ff,#0027ff,#0033ff,#0054ff,#0087ff,#00c4ff,#0bfaf4,#44ffbb,#7bff84,#a9ff56,#cdff32,#e8ff17,#fbff04,#fff600,#ffed00,#ffe800,#ffe600,#ffe700,#ffeb00,#fff200,#fefd01,#efff10,#d7ff28,#b6ff49,#8cff73)"></i></div>
<svg style="left:39px;top:21px" width="216" height="189" viewBox="0 0 216 189"><path d="M31.5 22.9L29.5 23.4L27.5 22.6L26.5 21.8L25.5 20.7L24.7 19.5L24.1 18.5L23.5 17.2L22.9 15.5L22.5 14.3L22.2 12.5L22.0 10.5L21.9 8.5L22.1 6.5L22.5 4.6L23.0 3.5L23.6 2.5L24.8 1.5L26.5 1.1L28.0 1.5L29.5 2.5L30.4 3.5L31.1 4.5L31.8 5.5L32.5 6.9L33.1 8.5L33.5 9.6L33.9 11.5L34.2 13.5L34.3 15.5L34.1 17.5L33.7 19.5L33.4 20.5L32.5 22.1L31.5 22.9 M198.6 0.5L200.4 1.5L201.5 2.5L202.2 3.5L202.8 4.5L203.5 5.7L204.5 7.0L205.5 7.5L206.2 9.5L206.3 11.5L206.0 13.5L205.5 14.8L204.5 15.5L203.5 16.9L202.6 18.5L201.8 19.5L200.8 20.5L199.5 21.2L198.4 21.5L196.8 21.5L195.5 21.2L193.9 20.5L192.5 19.5L191.5 18.5L190.9 17.5L190.4 16.5L189.9 14.5L189.5 12.5L189.5 11.5L189.5 10.5L189.7 8.5L190.2 6.5L190.5 5.5L191.5 3.7L192.5 2.5L193.5 1.5L194.5 0.9 M158.5 14.6L157.0 14.5L155.5 13.6L154.5 12.5L154.1 11.5L153.5 9.8L153.4 8.5L153.5 6.5L153.7 5.5L154.5 3.7L155.5 2.5L156.5 1.9L158.5 1.6L160.4 2.5L161.3 3.5L161.8 4.5L162.5 6.3L162.6 7.5L162.5 9.5L162.3 10.5L161.5 12.5L160.6 13.5L159.5 14.3L158.5 14.6 M52.5 30.0L50.5 29.9L49.5 28.7L49.0 27.5L48.5 26.3L48.1 24.5L47.7 22.5L47.5 20.9L47.4 19.5L47.4 17.5L47.4 15.5L47.5 13.5L47.6 12.5L47.9 10.5L48.3 8.5L48.5 7.3L49.2 5.5L49.8 4.5L50.8 3.5L52.2 3.5L53.2 4.5L53.8 5.5L54.5 7.3L54.7 8.5L55.1 10.5L55.4 12.5L55.5 13.5L55.6 15.5L55.6 17.5L55.6 19.5L55.5 21.0L55.3 22.5L54.9 24.5L54.5 26.5L54.0 27.5L53.5 28.8L52.5 30.0 M126.5 46.8L124.5 47.0L122.7 46.5L121.5 45.8L120.5 44.8L119.5 43.6L118.9 42.5L118.3 41.5L117.5 39.5L117.3 38.5L116.8 36.5L116.5 34.7L116.4 33.5L116.2 31.5L116.1 29.5L116.2 27.5L116.5 25.6L116.8 24.5L117.5 22.5L118.0 21.5L118.5 20.4L119.5 18.9L120.5 17.8L121.5 17.0L122.5 16.4L124.5 15.9L126.5 16.1L127.7 16.5L129.1 17.5L130.1 18.5L130.9 19.5L131.5 20.5L132.5 22.5L132.9 23.5L133.5 25.5L133.6 26.5L133.8 28.5L133.8 30.5L133.7 32.5L133.5 34.5L133.3 35.5L132.9 37.5L132.5 39.3L132.0 40.5L131.5 41.8L130.5 43.5L129.8 44.5L128.8 45.5L127.5 46.4L126.5 46.8 M197.5 62.5L195.5 63.1L193.5 63.4L191.5 63.1L189.5 62.5L188.5 62.0L187.5 61.4L186.3 60.5L185.3 59.5L184.5 58.4L183.5 56.8L182.9 55.5L182.5 54.3L182.1 52.5L181.9 50.5L181.7 48.5L181.3 47.5L180.5 46.1L179.5 44.6L178.6 43.5L177.5 42.7L176.5 42.4L174.5 41.6L173.5 40.9L172.5 39.9L171.5 38.7L170.9 37.5L170.5 35.7L170.5 35.4L171.0 33.5L171.5 32.4L172.5 30.9L173.5 29.8L174.5 29.1L175.7 28.5L177.5 28.3L178.9 28.5L180.5 29.3L181.5 30.1L182.5 31.3L183.2 32.5L183.9 33.5L185.5 34.4L186.5 34.7L188.5 35.0L190.5 35.4L192.5 35.4L194.5 35.4L195.5 35.5L197.5 36.2L198.5 36.7L199.8 37.5L200.9 38.5L201.8 39.5L202.6 40.5L203.5 42.2L204.0 43.5L204.5 44.7L204.9 46.5L205.1 48.5L205.0 50.5L204.8 52.5L204.5 53.9L203.9 55.5L203.5 56.5L202.5 58.2L201.5 59.5L200.5 60.5L199.5 61.3L198.5 62.0L197.5 62.5 M60.5 63.7L58.5 64.2L57.3 63.5L56.3 62.5L55.5 61.3L54.9 59.5L54.5 57.5L54.7 55.5L55.2 53.5L55.6 52.5L56.5 51.2L57.5 50.3L59.5 49.5L61.5 49.9L62.5 50.5L63.5 51.6L64.5 53.4L64.8 54.5L65.1 56.5L65.0 58.5L64.5 60.3L63.5 61.3L62.5 61.9L61.5 62.6L60.5 63.7 M126.5 74.6L124.7 74.5L123.5 73.7L122.7 72.5L123.2 70.5L124.5 69.5L125.5 69.3L127.5 69.5L128.5 70.2L129.4 71.5L128.8 73.5L127.5 74.5L126.5 74.6 M186.5 118.5L184.5 118.7L182.5 118.8L180.5 118.7L178.5 118.5L177.5 118.2L175.5 117.6L174.5 116.9L173.6 115.5L174.5 114.4L176.3 113.5L177.5 113.2L179.5 112.9L181.5 112.8L183.5 112.9L185.5 113.2L187.5 113.5L188.5 114.1L189.5 114.9L189.7 116.5L189.3 117.5L187.5 118.2L186.5 118.5 M15.5 137.7L13.5 137.9L11.5 137.9L9.6 137.5L8.5 137.0L7.3 136.5L5.9 135.5L4.9 134.5L4.1 133.5L3.5 132.5L2.9 130.5L2.8 128.5L3.2 126.5L3.5 125.5L4.5 124.0L5.5 122.9L6.5 122.1L7.5 121.4L9.5 120.5L10.5 120.3L12.5 120.1L14.5 120.1L16.4 120.5L17.5 121.0L18.7 121.5L20.1 122.5L21.3 123.5L22.4 124.5L23.5 125.5L24.5 126.2L26.0 125.5L27.0 124.5L27.8 123.5L28.7 122.5L29.7 121.5L30.9 120.5L32.5 119.6L33.5 119.2L35.5 118.8L37.5 118.8L39.5 119.1L41.1 119.5L42.5 120.1L43.5 120.5L45.3 121.5L46.5 122.4L47.5 123.4L48.2 124.5L48.7 125.5L49.1 127.5L49.2 129.5L48.8 131.5L48.2 132.5L47.0 133.5L45.5 134.2L44.5 134.7L43.2 135.5L41.5 136.4L40.5 136.8L38.5 137.2L36.5 137.1L34.5 136.7L33.5 136.3L32.0 135.5L30.6 134.5L29.5 133.5L28.5 132.6L27.5 131.6L26.5 130.7L25.5 130.2L24.5 130.5L23.5 131.6L22.5 132.9L21.5 134.1L20.5 135.1L19.5 135.9L18.5 136.6L16.5 137.5L15.5 137.7" fill="none" stroke="#140500" stroke-width="1.3" stroke-linejoin="round"/><g filter="url(#bl)"><use href="#ar" transform="translate(26.3 4.0) rotate(50)"/><use href="#ar" transform="translate(48.7 4.0) rotate(50)"/><use href="#ar" transform="translate(153.0 4.0) rotate(50)"/><use href="#ar" transform="translate(160.4 4.0) rotate(50)"/><use href="#ar" transform="translate(175.3 4.0) rotate(50)"/><use href="#ar" transform="translate(190.2 4.0) rotate(50)"/><use href="#ar" transform="translate(197.7 4.0) rotate(50)"/><use href="#ar" transform="translate(205.1 4.0) rotate(50)"/><use href="#ar" transform="translate(26.3 10.3) rotate(50)"/><use href="#ar" transform="translate(33.8 10.3) rotate(50)"/><use href="#ar" transform="translate(48.7 10.3) rotate(50)"/><use href="#ar" transform="translate(56.2 10.3) rotate(50)"/><use href="#ar" transform="translate(63.6 10.3) rotate(50)"/><use href="#ar" transform="translate(71.1 10.3) rotate(50)"/><use href="#ar" transform="translate(153.0 10.3) rotate(50)"/><use href="#ar" transform="translate(160.4 10.3) rotate(50)"/><use href="#ar" transform="translate(175.3 10.3) rotate(50)"/><use href="#ar" transform="translate(190.2 10.3) rotate(50)"/><use href="#ar" transform="translate(197.7 10.3) rotate(50)"/><use href="#ar" transform="translate(205.1 10.3) rotate(50)"/><use href="#ar" transform="translate(26.3 16.6) rotate(50)"/><use href="#ar" transform="translate(33.8 16.6) rotate(50)"/><use href="#ar" transform="translate(48.7 16.6) rotate(50)"/><use href="#ar" transform="translate(56.2 16.6) rotate(50)"/><use href="#ar" transform="translate(63.6 16.6) rotate(50)"/><use href="#ar" transform="translate(71.1 16.6) rotate(50)"/><use href="#ar" transform="translate(123.2 16.6) rotate(50)"/><use href="#ar" transform="translate(130.7 16.6) rotate(50)"/><use href="#ar" transform="translate(160.4 16.6) rotate(50)"/><use href="#ar" transform="translate(175.3 16.6) rotate(50)"/><use href="#ar" transform="translate(190.2 16.6) rotate(50)"/><use href="#ar" transform="translate(197.7 16.6) rotate(50)"/><use href="#ar" transform="translate(205.1 16.6) rotate(50)"/><use href="#ar" transform="translate(26.3 22.9) rotate(50)"/><use href="#ar" transform="translate(33.8 22.9) rotate(50)"/><use href="#ar" transform="translate(48.7 22.9) rotate(50)"/><use href="#ar" transform="translate(56.2 22.9) rotate(50)"/><use href="#ar" transform="translate(63.6 22.9) rotate(50)"/><use href="#ar" transform="translate(71.1 22.9) rotate(50)"/><use href="#ar" transform="translate(115.8 22.9) rotate(50)"/><use href="#ar" transform="translate(123.2 22.9) rotate(50)"/><use href="#ar" transform="translate(130.7 22.9) rotate(50)"/><use href="#ar" transform="translate(190.2 22.9) rotate(50)"/><use href="#ar" transform="translate(197.7 22.9) rotate(50)"/><use href="#ar" transform="translate(48.7 29.2) rotate(50)"/><use href="#ar" transform="translate(115.8 29.2) rotate(50)"/><use href="#ar" transform="translate(123.2 29.2) rotate(50)"/><use href="#ar" transform="translate(130.7 29.2) rotate(50)"/><use href="#ar" transform="translate(175.3 29.2) rotate(50)"/><use href="#ar" transform="translate(182.8 29.2) rotate(50)"/><use href="#ar" transform="translate(190.2 29.2) rotate(50)"/><use href="#ar" transform="translate(4.0 35.5) rotate(50)"/><use href="#ar" transform="translate(11.4 35.5) rotate(50)"/><use href="#ar" transform="translate(115.8 35.5) rotate(50)"/><use href="#ar" transform="translate(123.2 35.5) rotate(50)"/><use href="#ar" transform="translate(130.7 35.5) rotate(50)"/><use href="#ar" transform="translate(160.4 35.5) rotate(50)"/><use href="#ar" transform="translate(167.9 35.5) rotate(50)"/><use href="#ar" transform="translate(175.3 35.5) rotate(50)"/><use href="#ar" transform="translate(182.8 35.5) rotate(50)"/><use href="#ar" transform="translate(190.2 35.5) rotate(50)"/><use href="#ar" transform="translate(197.7 35.5) rotate(50)"/><use href="#ar" transform="translate(11.4 41.8) rotate(50)"/><use href="#ar" transform="translate(115.8 41.8) rotate(50)"/><use href="#ar" transform="translate(123.2 41.8) rotate(50)"/><use href="#ar" transform="translate(130.7 41.8) rotate(50)"/><use href="#ar" transform="translate(160.4 41.8) rotate(50)"/><use href="#ar" transform="translate(167.9 41.8) rotate(50)"/><use href="#ar" transform="translate(175.3 41.8) rotate(50)"/><use href="#ar" transform="translate(182.8 41.8) rotate(50)"/><use href="#ar" transform="translate(190.2 41.8) rotate(50)"/><use href="#ar" transform="translate(197.7 41.8) rotate(50)"/><use href="#ar" transform="translate(205.1 41.8) rotate(50)"/><use href="#ar" transform="translate(56.2 48.1) rotate(50)"/><use href="#ar" transform="translate(63.6 48.1) rotate(50)"/><use href="#ar" transform="translate(78.5 48.1) rotate(50)"/><use href="#ar" transform="translate(123.2 48.1) rotate(50)"/><use href="#ar" transform="translate(130.7 48.1) rotate(50)"/><use href="#ar" transform="translate(175.3 48.1) rotate(50)"/><use href="#ar" transform="translate(182.8 48.1) rotate(50)"/><use href="#ar" transform="translate(190.2 48.1) rotate(50)"/><use href="#ar" transform="translate(197.7 48.1) rotate(50)"/><use href="#ar" transform="translate(205.1 48.1) rotate(50)"/><use href="#ar" transform="translate(4.0 54.4) rotate(50)"/><use href="#ar" transform="translate(56.2 54.4) rotate(50)"/><use href="#ar" transform="translate(63.6 54.4) rotate(50)"/><use href="#ar" transform="translate(182.8 54.4) rotate(50)"/><use href="#ar" transform="translate(190.2 54.4) rotate(50)"/><use href="#ar" transform="translate(197.7 54.4) rotate(50)"/><use href="#ar" transform="translate(205.1 54.4) rotate(50)"/><use href="#ar" transform="translate(4.0 60.7) rotate(50)"/><use href="#ar" transform="translate(56.2 60.7) rotate(50)"/><use href="#ar" transform="translate(63.6 60.7) rotate(50)"/><use href="#ar" transform="translate(130.7 60.7) rotate(50)"/><use href="#ar" transform="translate(182.8 60.7) rotate(50)"/><use href="#ar" transform="translate(190.2 60.7) rotate(50)"/><use href="#ar" transform="translate(197.7 60.7) rotate(50)"/><use href="#ar" transform="translate(4.0 67.0) rotate(50)"/><use href="#ar" transform="translate(56.2 67.0) rotate(50)"/><use href="#ar" transform="translate(63.6 67.0) rotate(50)"/><use href="#ar" transform="translate(123.2 67.0) rotate(50)"/><use href="#ar" transform="translate(130.7 67.0) rotate(50)"/><use href="#ar" transform="translate(138.1 67.0) rotate(50)"/><use href="#ar" transform="translate(145.6 67.0) rotate(50)"/><use href="#ar" transform="translate(190.2 67.0) rotate(50)"/><use href="#ar" transform="translate(4.0 73.3) rotate(50)"/><use href="#ar" transform="translate(63.6 73.3) rotate(50)"/><use href="#ar" transform="translate(123.2 73.3) rotate(50)"/><use href="#ar" transform="translate(130.7 73.3) rotate(50)"/><use href="#ar" transform="translate(138.1 73.3) rotate(50)"/><use href="#ar" transform="translate(71.1 79.6) rotate(50)"/><use href="#ar" transform="translate(71.1 85.9) rotate(50)"/><use href="#ar" transform="translate(63.6 92.2) rotate(50)"/><use href="#ar" transform="translate(71.1 92.2) rotate(50)"/><use href="#ar" transform="translate(78.5 92.2) rotate(50)"/><use href="#ar" transform="translate(153.0 104.8) rotate(50)"/><use href="#ar" transform="translate(160.4 104.8) rotate(50)"/><use href="#ar" transform="translate(167.9 104.8) rotate(50)"/><use href="#ar" transform="translate(175.3 104.8) rotate(50)"/><use href="#ar" transform="translate(71.1 111.1) rotate(50)"/><use href="#ar" transform="translate(78.5 111.1) rotate(50)"/><use href="#ar" transform="translate(86.0 111.1) rotate(50)"/><use href="#ar" transform="translate(93.4 111.1) rotate(50)"/><use href="#ar" transform="translate(153.0 111.1) rotate(50)"/><use href="#ar" transform="translate(160.4 111.1) rotate(50)"/><use href="#ar" transform="translate(167.9 111.1) rotate(50)"/><use href="#ar" transform="translate(175.3 111.1) rotate(50)"/><use href="#ar" transform="translate(182.8 111.1) rotate(50)"/><use href="#ar" transform="translate(11.4 117.4) rotate(50)"/><use href="#ar" transform="translate(18.9 117.4) rotate(50)"/><use href="#ar" transform="translate(33.8 117.4) rotate(50)"/><use href="#ar" transform="translate(41.2 117.4) rotate(50)"/><use href="#ar" transform="translate(63.6 117.4) rotate(50)"/><use href="#ar" transform="translate(71.1 117.4) rotate(50)"/><use href="#ar" transform="translate(78.5 117.4) rotate(50)"/><use href="#ar" transform="translate(86.0 117.4) rotate(50)"/><use href="#ar" transform="translate(93.4 117.4) rotate(50)"/><use href="#ar" transform="translate(160.4 117.4) rotate(50)"/><use href="#ar" transform="translate(167.9 117.4) rotate(50)"/><use href="#ar" transform="translate(175.3 117.4) rotate(50)"/><use href="#ar" transform="translate(182.8 117.4) rotate(50)"/><use href="#ar" transform="translate(190.2 117.4) rotate(50)"/><use href="#ar" transform="translate(197.7 117.4) rotate(50)"/><use href="#ar" transform="translate(205.1 117.4) rotate(50)"/><use href="#ar" transform="translate(212.6 117.4) rotate(50)"/><use href="#ar" transform="translate(4.0 123.7) rotate(50)"/><use href="#ar" transform="translate(11.4 123.7) rotate(50)"/><use href="#ar" transform="translate(18.9 123.7) rotate(50)"/><use href="#ar" transform="translate(26.3 123.7) rotate(50)"/><use href="#ar" transform="translate(33.8 123.7) rotate(50)"/><use href="#ar" transform="translate(41.2 123.7) rotate(50)"/><use href="#ar" transform="translate(48.7 123.7) rotate(50)"/><use href="#ar" transform="translate(71.1 123.7) rotate(50)"/><use href="#ar" transform="translate(78.5 123.7) rotate(50)"/><use href="#ar" transform="translate(86.0 123.7) rotate(50)"/><use href="#ar" transform="translate(93.4 123.7) rotate(50)"/><use href="#ar" transform="translate(4.0 130.0) rotate(50)"/><use href="#ar" transform="translate(11.4 130.0) rotate(50)"/><use href="#ar" transform="translate(18.9 130.0) rotate(50)"/><use href="#ar" transform="translate(26.3 130.0) rotate(50)"/><use href="#ar" transform="translate(33.8 130.0) rotate(50)"/><use href="#ar" transform="translate(41.2 130.0) rotate(50)"/><use href="#ar" transform="translate(48.7 130.0) rotate(50)"/><use href="#ar" transform="translate(56.2 130.0) rotate(50)"/><use href="#ar" transform="translate(4.0 136.3) rotate(50)"/><use href="#ar" transform="translate(11.4 136.3) rotate(50)"/><use href="#ar" transform="translate(18.9 136.3) rotate(50)"/><use href="#ar" transform="translate(26.3 136.3) rotate(50)"/><use href="#ar" transform="translate(33.8 136.3) rotate(50)"/><use href="#ar" transform="translate(41.2 136.3) rotate(50)"/><use href="#ar" transform="translate(48.7 136.3) rotate(50)"/><use href="#ar" transform="translate(56.2 136.3) rotate(50)"/><use href="#ar" transform="translate(4.0 148.9) rotate(50)"/><use href="#ar" transform="translate(11.4 148.9) rotate(50)"/><use href="#ar" transform="translate(18.9 148.9) rotate(50)"/><use href="#ar" transform="translate(4.0 155.2) rotate(50)"/><use href="#ar" transform="translate(11.4 155.2) rotate(50)"/><use href="#ar" transform="translate(18.9 155.2) rotate(50)"/><use href="#ar" transform="translate(18.9 167.8) rotate(50)"/><use href="#ar" transform="translate(26.3 167.8) rotate(50)"/><use href="#ar" transform="translate(33.8 167.8) rotate(50)"/><use href="#ar" transform="translate(41.2 167.8) rotate(50)"/><use href="#ar" transform="translate(48.7 167.8) rotate(50)"/><use href="#ar" transform="translate(56.2 167.8) rotate(50)"/><use href="#ar" transform="translate(63.6 167.8) rotate(50)"/><use href="#ar" transform="translate(71.1 167.8) rotate(50)"/><use href="#ar" transform="translate(78.5 167.8) rotate(50)"/><use href="#ar" transform="translate(86.0 167.8) rotate(50)"/><use href="#ar" transform="translate(93.4 167.8) rotate(50)"/><use href="#ar" transform="translate(100.9 167.8) rotate(50)"/><use href="#ar" transform="translate(108.3 167.8) rotate(50)"/><use href="#ar" transform="translate(115.8 167.8) rotate(50)"/><use href="#ar" transform="translate(123.2 167.8) rotate(50)"/><use href="#ar" transform="translate(130.7 167.8) rotate(50)"/><use href="#ar" transform="translate(4.0 174.1) rotate(50)"/><use href="#ar" transform="translate(11.4 174.1) rotate(50)"/><use href="#ar" transform="translate(18.9 174.1) rotate(50)"/><use href="#ar" transform="translate(26.3 174.1) rotate(50)"/><use href="#ar" transform="translate(33.8 174.1) rotate(50)"/><use href="#ar" transform="translate(41.2 174.1) rotate(50)"/><use href="#ar" transform="translate(48.7 174.1) rotate(50)"/><use href="#ar" transform="translate(56.2 174.1) rotate(50)"/><use href="#ar" transform="translate(63.6 174.1) rotate(50)"/><use href="#ar" transform="translate(71.1 174.1) rotate(50)"/><use href="#ar" transform="translate(78.5 174.1) rotate(50)"/><use href="#ar" transform="translate(86.0 174.1) rotate(50)"/><use href="#ar" transform="translate(93.4 174.1) rotate(50)"/><use href="#ar" transform="translate(100.9 174.1) rotate(50)"/><use href="#ar" transform="translate(108.3 174.1) rotate(50)"/><use href="#ar" transform="translate(115.8 174.1) rotate(50)"/><use href="#ar" transform="translate(123.2 174.1) rotate(50)"/><use href="#ar" transform="translate(130.7 174.1) rotate(50)"/><use href="#ar" transform="translate(4.0 180.4) rotate(50)"/><use href="#ar" transform="translate(11.4 180.4) rotate(50)"/><use href="#ar" transform="translate(18.9 180.4) rotate(50)"/><use href="#ar" transform="translate(26.3 180.4) rotate(50)"/><use href="#ar" transform="translate(33.8 180.4) rotate(50)"/><use href="#ar" transform="translate(41.2 180.4) rotate(50)"/><use href="#ar" transform="translate(48.7 180.4) rotate(50)"/><use href="#ar" transform="translate(56.2 180.4) rotate(50)"/><use href="#ar" transform="translate(63.6 180.4) rotate(50)"/><use href="#ar" transform="translate(71.1 180.4) rotate(50)"/><use href="#ar" transform="translate(78.5 180.4) rotate(50)"/><use href="#ar" transform="translate(86.0 180.4) rotate(50)"/><use href="#ar" transform="translate(93.4 180.4) rotate(50)"/><use href="#ar" transform="translate(100.9 180.4) rotate(50)"/><use href="#ar" transform="translate(108.3 180.4) rotate(50)"/><use href="#ar" transform="translate(115.8 180.4) rotate(50)"/><use href="#ar" transform="translate(123.2 180.4) rotate(50)"/><use href="#ar" transform="translate(130.7 180.4) rotate(50)"/><use href="#ar" transform="translate(167.9 180.4) rotate(50)"/><use href="#ar" transform="translate(175.3 180.4) rotate(50)"/><use href="#ar" transform="translate(182.8 180.4) rotate(50)"/><use href="#ar" transform="translate(190.2 180.4) rotate(50)"/><use href="#ar" transform="translate(197.7 180.4) rotate(50)"/><use href="#ar" transform="translate(205.1 180.4) rotate(50)"/><use href="#ar" transform="translate(212.6 180.4) rotate(50)"/><use href="#ar" transform="translate(18.9 186.7) rotate(50)"/><use href="#ar" transform="translate(26.3 186.7) rotate(50)"/><use href="#ar" transform="translate(33.8 186.7) rotate(50)"/><use href="#ar" transform="translate(41.2 186.7) rotate(50)"/><use href="#ar" transform="translate(48.7 186.7) rotate(50)"/><use href="#ar" transform="translate(56.2 186.7) rotate(50)"/><use href="#ar" transform="translate(63.6 186.7) rotate(50)"/><use href="#ar" transform="translate(71.1 186.7) rotate(50)"/><use href="#ar" transform="translate(78.5 186.7) rotate(50)"/><use href="#ar" transform="translate(86.0 186.7) rotate(50)"/><use href="#ar" transform="translate(93.4 186.7) rotate(50)"/><use href="#ar" transform="translate(100.9 186.7) rotate(50)"/><use href="#ar" transform="translate(108.3 186.7) rotate(50)"/><use href="#ar" transform="translate(115.8 186.7) rotate(50)"/><use href="#ar" transform="translate(123.2 186.7) rotate(50)"/><use href="#ar" transform="translate(160.4 186.7) rotate(50)"/><use href="#ar" transform="translate(167.9 186.7) rotate(50)"/><use href="#ar" transform="translate(175.3 186.7) rotate(50)"/><use href="#ar" transform="translate(182.8 186.7) rotate(50)"/><use href="#ar" transform="translate(190.2 186.7) rotate(50)"/><use href="#ar" transform="translate(197.7 186.7) rotate(50)"/><use href="#ar" transform="translate(205.1 186.7) rotate(50)"/><use href="#ar" transform="translate(212.6 186.7) rotate(50)"/></g><polygon points="0,190 0,-1.0 1,-1.0 2,-1.0 3,-1.0 4,10.0 5,23.7 6,34.4 7,43.4 8,51.0 9,57.6 10,63.5 11,68.8 12,73.6 13,78.0 14,82.0 15,85.8 16,89.3 17,92.6 18,95.7 19,98.6 20,101.3 21,103.9 22,106.4 23,108.8 24,111.1 25,113.3 26,115.4 27,117.4 28,119.3 29,121.2 30,123.0 31,124.7 32,126.4 33,128.0 34,129.6 35,131.2 36,132.6 37,134.1 38,135.5 39,136.9 40,138.2 41,139.5 42,140.8 43,142.0 44,143.2 45,144.4 46,145.6 47,146.7 48,147.8 49,148.9 50,150.0 51,151.0 52,152.0 53,153.0 54,154.0 55,155.0 56,155.9 57,156.9 58,157.8 59,158.7 60,159.6 61,160.4 62,161.3 63,162.1 64,163.0 65,163.8 66,164.6 67,165.4 68,166.1 69,166.9 70,167.7 71,168.4 72,169.1 73,169.9 74,170.6 75,171.3 76,172.0 77,172.7 78,173.3 79,174.0 80,174.7 81,175.3 82,175.9 83,176.6 84,177.2 85,177.8 86,178.4 87,179.0 88,179.6 89,180.2 90,180.8 91,181.4 92,182.0 93,182.5 94,183.1 95,183.7 96,184.2 97,184.7 98,185.3 99,185.8 100,186.3 101,186.9 102,187.4 103,187.9 104,188.4 105,188.9 106,189.4 107,189.9 108,190.0 109,190.0 110,190.0 111,190.0 112,190.0 113,189.5 114,189.0 115,188.5 116,188.0 117,187.4 118,186.9 119,186.3 120,185.8 121,185.2 122,184.7 123,184.1 124,183.5 125,182.9 126,182.3 127,181.7 128,181.1 129,180.5 130,179.9 131,179.3 132,178.7 133,178.0 134,177.4 135,176.7 136,176.0 137,175.4 138,174.7 139,174.0 140,173.3 141,172.6 142,171.9 143,171.1 144,170.4 145,169.6 146,168.9 147,168.1 148,167.3 149,166.5 150,165.7 151,164.9 152,164.0 153,163.2 154,162.3 155,161.4 156,160.6 157,159.6 158,158.7 159,157.8 160,156.8 161,155.8 162,154.8 163,153.8 164,152.8 165,151.7 166,150.6 167,149.5 168,148.4 169,147.3 170,146.1 171,144.9 172,143.6 173,142.4 174,141.1 175,139.8 176,138.4 177,137.0 178,135.5 179,134.1 180,132.5 181,131.0 182,129.4 183,127.7 184,126.0 185,124.2 186,122.3 187,120.4 188,118.4 189,116.3 190,114.2 191,111.9 192,109.6 193,107.1 194,104.5 195,101.8 196,98.9 197,95.9 198,92.6 199,89.2 200,85.5 201,81.5 202,77.2 203,72.5 204,67.4 205,61.6 206,55.2 207,47.8 208,39.3 209,29.0 210,16.2 211,-0.9 212,-1.0 213,-1.0 214,-1.0 215,-1.0 216,-1.0 216,190" fill="#fff" fill-opacity="0.5"/><polyline points="0,-1.0 1,-1.0 2,-1.0 3,-1.0 4,10.0 5,23.7 6,34.4 7,43.4 8,51.0 9,57.6 10,63.5 11,68.8 12,73.6 13,78.0 14,82.0 15,85.8 16,89.3 17,92.6 18,95.7 19,98.6 20,101.3 21,103.9 22,106.4 23,108.8 24,111.1 25,113.3 26,115.4 27,117.4 28,119.3 29,121.2 30,123.0 31,124.7 32,126.4 33,128.0 34,129.6 35,131.2 36,132.6 37,134.1 38,135.5 39,136.9 40,138.2 41,139.5 42,140.8 43,142.0 44,143.2 45,144.4 46,145.6 47,146.7 48,147.8 49,148.9 50,150.0 51,151.0 52,152.0 53,153.0 54,154.0 55,155.0 56,155.9 57,156.9 58,157.8 59,158.7 60,159.6 61,160.4 62,161.3 63,162.1 64,163.0 65,163.8 66,164.6 67,165.4 68,166.1 69,166.9 70,167.7 71,168.4 72,169.1 73,169.9 74,170.6 75,171.3 76,172.0 77,172.7 78,173.3 79,174.0 80,174.7 81,175.3 82,175.9 83,176.6 84,177.2 85,177.8 86,178.4 87,179.0 88,179.6 89,180.2 90,180.8 91,181.4 92,182.0 93,182.5 94,183.1 95,183.7 96,184.2 97,184.7 98,185.3 99,185.8 100,186.3 101,186.9 102,187.4 103,187.9 104,188.4 105,188.9 106,189.4 107,189.9 108,190.0 109,190.0 110,190.0 111,190.0 112,190.0 113,189.5 114,189.0 115,188.5 116,188.0 117,187.4 118,186.9 119,186.3 120,185.8 121,185.2 122,184.7 123,184.1 124,183.5 125,182.9 126,182.3 127,181.7 128,181.1 129,180.5 130,179.9 131,179.3 132,178.7 133,178.0 134,177.4 135,176.7 136,176.0 137,175.4 138,174.7 139,174.0 140,173.3 141,172.6 142,171.9 143,171.1 144,170.4 145,169.6 146,168.9 147,168.1 148,167.3 149,166.5 150,165.7 151,164.9 152,164.0 153,163.2 154,162.3 155,161.4 156,160.6 157,159.6 158,158.7 159,157.8 160,156.8 161,155.8 162,154.8 163,153.8 164,152.8 165,151.7 166,150.6 167,149.5 168,148.4 169,147.3 170,146.1 171,144.9 172,143.6 173,142.4 174,141.1 175,139.8 176,138.4 177,137.0 178,135.5 179,134.1 180,132.5 181,131.0 182,129.4 183,127.7 184,126.0 185,124.2 186,122.3 187,120.4 188,118.4 189,116.3 190,114.2 191,111.9 192,109.6 193,107.1 194,104.5 195,101.8 196,98.9 197,95.9 198,92.6 199,89.2 200,85.5 201,81.5 202,77.2 203,72.5 204,67.4 205,61.6 206,55.2 207,47.8 208,39.3 209,29.0 210,16.2 211,-0.9 212,-1.0 213,-1.0 214,-1.0 215,-1.0 216,-1.0" fill="none" stroke="#222" stroke-width="0.6" opacity=".8"/></svg>
<div class="ax" style="left:38.7px;top:20.7px;width:216.6px;height:189.6px"></div>
<div class="cb" style="left:261px;top:21.7px;width:11.300000000000011px;height:188.3px"></div>
<div class="lb" style="left:275.3px;top:206.5px">0</div>
<div class="lb" style="left:275.3px;top:187.7px">0.1</div>
<div class="lb" style="left:275.3px;top:168.8px">0.2</div>
<div class="lb" style="left:275.3px;top:150.0px">0.3</div>
<div class="lb" style="left:275.3px;top:131.2px">0.4</div>
<div class="lb" style="left:275.3px;top:112.3px">0.5</div>
<div class="lb" style="left:275.3px;top:93.5px">0.6</div>
<div class="lb" style="left:275.3px;top:74.7px">0.7</div>
<div class="lb" style="left:275.3px;top:55.9px">0.8</div>
<div class="lb" style="left:275.3px;top:37.0px">0.9</div>
<div class="lb" style="left:275.3px;top:18.2px">1</div>
<div class="lb" style="right:648.0px;top:52.5px">4</div>
<div class="lb" style="right:648.0px;top:88.5px">8</div>
<div class="lb" style="right:648.0px;top:124.5px">16</div>
<div class="lb" style="right:648.0px;top:160.5px">32</div>
<div class="lb" style="right:648.0px;top:196.5px">64</div>
<div class="lb" style="left:6.2px;width:30px;text-align:center;top:111.4px;height:8px;font-size:8px;line-height:8px;transform:rotate(-90deg);transform-origin:50% 50%">Period</div>
<div class="lb" style="left:80.5px;width:12px;text-align:center;top:214.0px">50</div>
<div class="lb" style="left:127.0px;width:12px;text-align:center;top:214.0px">100</div>
<div class="lb" style="left:174.0px;width:12px;text-align:center;top:214.0px">150</div>
<div class="lb" style="left:221.0px;width:12px;text-align:center;top:214.0px">200</div>
<div class="cap" style="left:36.4px;top:247.8px;transform:scaleX(0.879)">NFT (BUST) and CRIX excluding SP500</div>
<div class="card" style="left:369px;top:4px;width:308.79999999999995px;height:231.8px"></div>
<div class="hm" style="left:404px;top:21px;width:215px;height:189px"><i style="top:0px;height:2px;background:linear-gradient(90deg,#c7ff38,#21a5de,#0001f2,#0029fd,#16cce9,#f2ee0d,#5ff5a0,#008cff,#002cff,#0060ff,#00d7ff,#00f0ff,#00f0ff,#00f0ff,#00f0ff,#00f0ff,#00cdff,#0061ff,#001fff,#0041ff,#00adff,#00ebff,#00f0ff,#00f0ff,#00d5ff,#005aff,#0026ff,#009eff,#62ff9d,#26fdd9,#16f5e9,#f13900,#f23f00,#0073ff,#0052ff,#00dbff,#00efff,#00a6ff,#005eff,#e1c01e,#f7b208,#1ff9e0,#00f0ff,#00ceff,#0024fc,#002afc,#afd650,#ff7800,#70f88f,#00f4ff,#dbb224,#dbb224,#00c3ff,#004dff,#004dff,#00beff,#00efff,#42fabd,#fed801,#86ec79,#0034ff,#0004fa,#0065ff,#00e6ff,#54ffab,#f0e80f,#ffb300,#ffb300,#f0e80f,#54ffab,#00e8ff,#00e1ff)"></i><i style="top:2px;height:2px;background:linear-gradient(90deg,#deff21,#34b2cb,#0000d7,#0011f2,#2ec0d1,#ffc800,#85ed7a,#0075ff,#0011ff,#0046ff,#00ceff,#00f0ff,#00f0ff,#00f0ff,#00f0ff,#00f2ff,#00c4ff,#004bff,#0009ff,#002aff,#009eff,#00e9ff,#00f0ff,#00efff,#00c8ff,#0036ff,#0006fb,#0a97f5,#a1ff5e,#50ffaf,#34f7cb,#e41200,#e41600,#1164ee,#002bff,#00cfff,#00eeff,#0087ff,#126ded,#ff8300,#ff7200,#48fbb7,#00f0ff,#00bbff,#000be8,#0020e9,#d7a228,#ff4300,#a1db5e,#06f5f9,#f89507,#f79508,#00bcff,#0034ff,#0034ff,#00b1ff,#00eeff,#6efb91,#ffb800,#a7ea58,#001df8,#0000e2,#0046ff,#04e3fb,#96ff69,#ffbe00,#ff9f00,#ff9f00,#ffbe00,#95ff6a,#02e6fd,#00d7ff)"></i><i style="top:4px;height:2px;background:linear-gradient(90deg,#e4ff1b,#45b9ba,#0000c8,#0006e5,#3fb7c0,#ffb900,#96e669,#005fff,#0002f7,#002eff,#00c5ff,#00f2ff,#00f3ff,#00f0ff,#00f1ff,#00f9ff,#00bdff,#0036ff,#0000f5,#0017fe,#008fff,#00e7ff,#00f0ff,#00efff,#00baff,#001dfa,#0000e6,#1d96e2,#d0ff2f,#7cff83,#40f9bf,#e20900,#e20d00,#1958df,#0014f7,#00c2ff,#00edff,#006fff,#2d73d0,#ff6800,#ff6000,#65fc9a,#00f4ff,#00abff,#0001da,#0024dc,#ea8e15,#ff3a00,#bccb43,#0bf6f4,#ff8600,#ff8600,#03b2fc,#001dff,#001dff,#00a4ff,#00edff,#7af885,#ffb400,#b3e64c,#0012ed,#0000d0,#0030fa,#04dcfb,#96ff69,#ffbe00,#ff9f00,#ff9f00,#ffbe00,#94ff6b,#01dcfe,#00c9ff)"></i><i style="top:6px;height:2px;background:linear-gradient(90deg,#e5ff1a,#4bb8b4,#0000c1,#0000dc,#44aebb,#ffb600,#9ce463,#004bff,#0000e6,#001dfa,#00bcff,#02fafd,#02fbfd,#00f1ff,#00f3ff,#06fff9,#00b9ff,#0024fe,#0000e5,#000bf7,#0080ff,#00e4ff,#00f0ff,#00efff,#00abff,#000ef0,#0000d3,#2ea1d1,#e9ff16,#a0ff5f,#34fbcb,#e41200,#e41a00,#0651e8,#0009ec,#00b5ff,#00ecff,#0061ff,#2d73cf,#ff6d00,#ff6700,#69ff96,#01fcfe,#00a6ff,#0000d4,#001fd8,#e78e18,#ff3a00,#bccb43,#0bf6f4,#ff8600,#ff8700,#01a6fe,#000efa,#000efa,#0095ff,#00ecff,#6efb91,#ffb800,#a1e35e,#0008e3,#0000c5,#0021f5,#00d0ff,#54ffab,#f0e80f,#ffb300,#ffb300,#f0e80f,#52ffad,#00c6ff,#00b7ff)"></i><i style="top:8px;height:2px;background:linear-gradient(90deg,#e4ff1b,#3fb2c0,#0000bf,#0000d5,#3ea4c1,#ffb900,#95e06a,#0039fe,#0000d8,#0011f4,#00b6ff,#16ffe9,#17ffe8,#00f5ff,#00f6ff,#1affe5,#00baff,#0019fa,#0000d8,#0005ee,#0071ff,#00e2ff,#00f5ff,#00f3ff,#009fff,#0007e5,#0000c8,#3bb0c4,#f4ff0b,#b8ff47,#1afae5,#f13900,#f04a02,#0029e6,#0003e6,#00aaff,#00edff,#0060ff,#136beb,#ff9200,#ff8500,#62ff9d,#14ffeb,#01b2fe,#0001dd,#000fd9,#cba434,#ff4300,#a1db5e,#06f5f9,#f89507,#f69509,#0093ff,#0006f1,#0006f1,#0087ff,#00ebff,#42fabd,#fed801,#7bd284,#0001dc,#0000c0,#0017f0,#00c6ff,#0dfaf2,#74ff8b,#cefb31,#cefb31,#74ff8b,#0df6f2,#00b1ff,#00a3ff)"></i><i style="top:10px;height:2px;background:linear-gradient(90deg,#ddff22,#2f99ce,#0000be,#0000d3,#2b9bd4,#ffc800,#83e07c,#002df9,#0000ce,#000beb,#01b7fe,#40ffbf,#40ffbf,#06faf9,#04f7fb,#33ffcc,#05bcfa,#000ff5,#0000cf,#0000e6,#0064ff,#01e7fe,#0efff1,#0efef1,#009eff,#0002df,#0000c2,#4ab6b5,#f8ff07,#c6ff39,#09f9f6,#dd9d22,#bca043,#0006e3,#0000e2,#00a3ff,#00eeff,#0071ff,#005dff,#dfd220,#fdc202,#6dff92,#40ffbf,#0ccff3,#000df0,#0003e1,#9fce60,#ff7800,#70f88f,#00f4ff,#dbb224,#d8b227,#007eff,#0001e8,#0002e9,#007fff,#00eeff,#10f8ef,#aeff51,#28b6d7,#0000d6,#0000be,#0013eb,#00c1ff,#00f0ff,#06f8f9,#1cfee3,#1cfee3,#06f8f9,#00eaff,#009dff,#008cff)"></i><i style="top:12px;height:2px;background:linear-gradient(90deg,#c3ff3c,#157ce0,#0000be,#0000d5,#0f98f0,#f1ee0e,#59e3a6,#0023f5,#0000c7,#0007e4,#0cbcf3,#73ff8c,#74ff8b,#17fde8,#08f9f7,#4bffb4,#0ec0f1,#000bee,#0000c8,#0000dd,#005cff,#10f2ef,#4affb5,#49ffb6,#05b5fa,#0003dc,#0000c0,#53b8ac,#f9ff06,#cdff32,#09f6f6,#62fd9d,#4ecab1,#0000e0,#0000e0,#009fff,#00f3ff,#0095ff,#0072ff,#92fd6d,#f4f60b,#b1ff4e,#8fff70,#32f0cd,#003afe,#0006f6,#55d7aa,#dcee23,#25fada,#00f0ff,#aded52,#a7ed58,#006dff,#0000df,#0004e9,#008bff,#03fbfc,#00f9ff,#1bfee4,#008fff,#0000d3,#0000bd,#0011e8,#00beff,#00efff,#00f0ff,#00f0ff,#00f0ff,#00f0ff,#00e6ff,#0087ff,#0074ff)"></i><i style="top:14px;height:2px;background:linear-gradient(90deg,#82ff7d,#0056f2,#0000c0,#0000dc,#0097ff,#94ff6b,#20d9df,#001bf2,#0000c2,#0004e0,#1bc9e4,#a9ff56,#beff41,#33ffcc,#0cfbf3,#60ff9f,#16c5e9,#0007e8,#0000c3,#0000d6,#0061ff,#3dfdc2,#bffe40,#befe41,#26dad9,#000ee2,#0000bf,#52b7ad,#f9ff06,#d1ff2e,#24fcdb,#02f5fd,#01a5fe,#0000e0,#0000e0,#00a0ff,#01fbfe,#00ccff,#06cbf9,#97ff68,#ffe500,#ffde00,#eff310,#8aff75,#0198fe,#0035ff,#0bd1f4,#36ffc9,#02f4fd,#00f0ff,#45fdba,#44f7bb,#0061ff,#0000dd,#0019f8,#04befb,#2bffd4,#10feef,#00f3ff,#0082ff,#0000d3,#0000bd,#0011e8,#00beff,#00efff,#00f0ff,#00f0ff,#00f0ff,#00f0ff,#00e2ff,#0072ff,#005eff)"></i><i style="top:16px;height:2px;background:linear-gradient(90deg,#2cfad3,#0035f6,#0000c7,#0006e5,#009eff,#22fedd,#03cbfc,#0016ef,#0000c0,#0005dd,#31d7ce,#e5e21a,#ffac00,#6eff91,#10fdef,#6eff91,#1ccae3,#0005e4,#0000c0,#0000d1,#0079ff,#96fa69,#ff9400,#ff9300,#78f587,#002bf1,#0000c0,#47b2b8,#f8ff07,#f3f60c,#dce223,#0ff5f0,#00a2ff,#0000e2,#0000e3,#00a7ff,#0afef5,#16fce9,#5affa5,#efdf10,#ff8800,#ff7600,#ff9900,#e8e917,#2ee9d1,#0089ff,#00e2ff,#00f6ff,#00f0ff,#00f0ff,#05f8fa,#05eefa,#0057ff,#0002ec,#0066ff,#28f5d7,#6eff91,#3cffc3,#05f8fa,#0087ff,#0000d6,#0000be,#0013eb,#00c1ff,#00efff,#00f0ff,#00f0ff,#00f0ff,#00f0ff,#00ddff,#005eff,#0048ff)"></i><i style="top:18px;height:2px;background:linear-gradient(90deg,#02e8fd,#003afd,#0000d7,#0011f2,#00afff,#00f3ff,#00c2ff,#0014eb,#0000be,#0009dc,#4ee2b1,#fe9f01,#ff5b00,#aadf55,#13ffec,#75ff8a,#1fcce0,#0002e0,#0000bf,#0000d0,#0998f6,#dec721,#fe1f00,#fe1f00,#cdc932,#005efb,#0000c3,#39a3c6,#f4ff0b,#fdc402,#ff7700,#45faba,#00aaff,#0003e6,#0004e6,#00b4ff,#1cffe3,#60ff9f,#d8f327,#ff7f00,#ff3b00,#ff2e00,#ff4800,#ff9b00,#9dfc62,#07e8f8,#02fbfd,#00f4ff,#00f0ff,#00f0ff,#00f0ff,#00e5ff,#0051ff,#001ffc,#0acef5,#7fff80,#b1ff4e,#76ff89,#18fde7,#0091ff,#0000dc,#0000c0,#0017f0,#00c6ff,#00f0ff,#00f0ff,#00f0ff,#00f0ff,#00f0ff,#00d8ff,#004bff,#0036ff)"></i><i style="top:20px;height:2px;background:linear-gradient(90deg,#00e1ff,#005cff,#0005f6,#0030fe,#00c4ff,#00efff,#00bfff,#0012e9,#0000be,#000edc,#6aee95,#ff7400,#ff4e00,#ccbd33,#13ffec,#77ff88,#20c9df,#0000de,#0000be,#0000d3,#20b2df,#fc8103,#f10100,#f10100,#f88407,#118eee,#0000ca,#2a8fd1,#e8ff17,#fcb403,#ff6600,#5ff6a0,#00b5ff,#0009ed,#000bed,#01c5fe,#33ffcc,#abff54,#ffae00,#ff3800,#ff0d00,#fe0600,#ff1600,#ff5100,#edd912,#53ffac,#17ffe8,#00f7ff,#00f0ff,#00f0ff,#00f0ff,#00e3ff,#0051ff,#005fff,#4afbb5,#c8ff37,#e2ff1d,#acff53,#39ffc6,#00a1ff,#0005e3,#0000c5,#0021f5,#00ccff,#00f0ff,#00f0ff,#00f0ff,#00f0ff,#00f0ff,#00d2ff,#003bff,#0026ff)"></i><i style="top:22px;height:2px;background:linear-gradient(90deg,#00e9ff,#0096ff,#0054ff,#0082ff,#00e3ff,#00f2ff,#00beff,#0011e8,#0000bd,#0015dd,#7dfa82,#ff6800,#ff4d00,#d7ad28,#12fced,#73ff8c,#1dc0e2,#0000da,#0000bd,#0000d8,#36c8c9,#fe4b00,#e80000,#e80000,#fe4d00,#2daed2,#0000d3,#147be3,#ccff33,#edd112,#ff7800,#43f6bc,#00c1ff,#0014f7,#0017f8,#06d6f9,#4fffb0,#dfef20,#ff6600,#fe1100,#f50000,#f10000,#f90100,#ff2300,#ff9900,#a5ff5a,#2effd1,#02fafd,#00f1ff,#00f0ff,#00f0ff,#00e2ff,#0057ff,#05a4fa,#98ff67,#f2fe0d,#fbfe04,#d4ff2b,#5fffa0,#00b6ff,#000ced,#0000d0,#0030fa,#00d3ff,#00f0ff,#00f0ff,#00f0ff,#00f0ff,#00f0ff,#00cdff,#002dff,#001aff)"></i><i style="top:24px;height:2px;background:linear-gradient(90deg,#02f8fd,#0aebf5,#1ce3e3,#28f5d7,#21ffde,#04fafb,#00beff,#0011e8,#0000bd,#001cdf,#88ff77,#ff7100,#ff4e00,#d6b629,#0bf8f4,#66ff99,#16b1e9,#0000d6,#0000bd,#0002d9,#46d1b9,#fb3600,#e60000,#e60000,#fb3600,#3dc2c2,#0000dd,#0167f7,#9aff65,#99fe66,#cbe434,#09dcf6,#00caff,#002bff,#0031ff,#0ce7f3,#6dff92,#f6cd09,#ff3900,#f80200,#eb0000,#e90000,#ee0000,#fd0a00,#ff6200,#d4f22b,#43ffbc,#05fdfa,#00f1ff,#00f0ff,#00f0ff,#00e1ff,#0063ff,#2fd1d0,#e9d916,#fef701,#fff500,#edfe12,#80ff7f,#06c9f9,#001af8,#0000e2,#0046ff,#00dbff,#00f0ff,#00f0ff,#00f0ff,#00f0ff,#00f0ff,#00c7ff,#0022ff,#0010ff)"></i><i style="top:26px;height:2px;background:linear-gradient(90deg,#21ffde,#8aff75,#dde222,#e4df1b,#98ff67,#22ffdd,#00c2ff,#0012e9,#0000be,#0021e1,#8fff70,#ff9400,#ff5900,#cfd630,#05ecfa,#48ffb7,#099cf6,#0000d3,#0000bd,#0001d9,#43d0bc,#fb3600,#e60000,#e60000,#fb3600,#3fc9c0,#0001e7,#0050fc,#57ffa8,#22f7dd,#05c3fa,#00a0ff,#00c9ff,#0052ff,#005bff,#15f2ea,#8aff75,#ffa900,#ff1d00,#f00000,#e70000,#e60000,#e90000,#f70100,#ff3f00,#ecdc13,#58ffa7,#0afef5,#00f2ff,#00f0ff,#00f0ff,#00e1ff,#0071ff,#82bc7d,#ff5a00,#ffe300,#fff100,#f8fc07,#98ff67,#0ddbf2,#0034ff,#0004fa,#0065ff,#00e2ff,#00f0ff,#00f0ff,#00f0ff,#00f0ff,#00f0ff,#00c1ff,#001aff,#0009ff)"></i><i style="top:28px;height:2px;background:linear-gradient(90deg,#66ff99,#f6bb09,#ff4600,#ff4500,#f7b908,#65ff9a,#02cafd,#0013eb,#0000be,#0023e3,#93ff6c,#fed301,#ff9700,#bef641,#02d6fd,#19fce6,#007aff,#0000d0,#0000bd,#0000d6,#31c1ce,#fe4e00,#e80000,#e80000,#fe4b00,#33c3cc,#0003f3,#0052ff,#1bfbe4,#05d5fa,#0063ff,#0063ff,#00baff,#007eff,#0088ff,#1dfbe2,#a3ff5c,#ff8a00,#fd0f00,#eb0000,#e60000,#e60000,#e70000,#f00000,#ff2900,#f7c508,#6aff95,#0ffff0,#00f3ff,#00f0ff,#00efff,#00e0ff,#007bff,#8ac475,#ff5900,#ffe200,#fff000,#fbf904,#a6ff59,#12eaed,#005aff,#0025ff,#0086ff,#00e7ff,#00efff,#00efff,#00f0ff,#00f0ff,#00f0ff,#00bcff,#0014ff,#0005fe)"></i><i style="top:30px;height:2px;background:linear-gradient(90deg,#b8f247,#ff4700,#f80300,#f80300,#ff4700,#b5f24a,#0ad0f5,#0015ee,#0000c0,#0023e5,#91ff6e,#fbfc04,#fef101,#afff50,#00baff,#00d0ff,#004cfe,#0000ce,#0000bd,#0000d0,#16a5e9,#f78708,#f10100,#f10100,#fb8204,#1fb8e0,#000dfe,#0069ff,#01effe,#00a9ff,#002cff,#002cff,#009fff,#00a6ff,#00b3ff,#24ffdb,#b5ff4a,#ff7500,#fb0800,#e90000,#e60000,#e60000,#e60000,#ed0000,#ff1c00,#feb601,#78ff87,#12ffed,#00f4ff,#00efff,#00ecff,#00d7ff,#007cff,#60f39f,#fdcc02,#ffef00,#fff000,#fcf903,#abff54,#16f2e9,#0082ff,#0052ff,#00a6ff,#00ebff,#00efff,#00eeff,#00efff,#00f0ff,#00f0ff,#00b8ff,#0010fe,#0003fd)"></i><i style="top:32px;height:2px;background:linear-gradient(90deg,#e4c71b,#fb1200,#e90000,#e90000,#fb1200,#e0c81f,#13d4ec,#0017f2,#0000c2,#0022e6,#88ff77,#f7ff08,#f7ff08,#a4ff5b,#009aff,#0084ff,#0025f9,#0000cd,#0000be,#0000cc,#0078ff,#c3d03c,#ff2200,#ff2100,#d7cb28,#09aff6,#002bff,#0087ff,#00e4ff,#0083ff,#000afc,#000afc,#0080ff,#00c4ff,#00d3ff,#29ffd6,#bbfc44,#ff6c00,#f90600,#e80000,#e60000,#e60000,#e60000,#eb0000,#fe1800,#ffad00,#7fff80,#15ffea,#00f4ff,#00edff,#00ddff,#00bbff,#006fff,#4af0b5,#f0fc0f,#fff000,#fff000,#fcf903,#b0ff4f,#16f7e9,#00a8ff,#0081ff,#00c2ff,#00edff,#00ecff,#00ebff,#00edff,#00efff,#00f0ff,#00b4ff,#000dfe,#0001fd)"></i><i style="top:34px;height:2px;background:linear-gradient(90deg,#f5a20a,#f40400,#e60000,#e60000,#f40400,#efa410,#19d1e6,#0019f4,#0000c6,#001fe9,#79ff86,#f4ff0b,#f5ff0a,#92ff6d,#007aff,#003eff,#0009f2,#0000cd,#0000be,#0000ca,#003bfd,#52f1ad,#faa905,#fda702,#7afe85,#00a6ff,#0052ff,#00a6ff,#00e2ff,#0068ff,#0001f2,#0001f2,#0066ff,#00d2ff,#00e3ff,#28ffd7,#bbfc44,#ff6c00,#f90600,#e80000,#e60000,#e60000,#e60000,#eb0000,#fe1800,#ffad00,#7fff80,#14ffeb,#00f3ff,#00e5ff,#00bbff,#0087ff,#0052ff,#37e7c8,#e5fe1a,#fff200,#fff100,#ffda00,#f79b08,#1ff9e0,#00c6ff,#00abff,#00d7ff,#00ebff,#00e6ff,#00e4ff,#00e8ff,#00eeff,#00efff,#00b2ff,#000bfd,#0000fd)"></i><i style="top:36px;height:2px;background:linear-gradient(90deg,#fb9704,#f20200,#e60000,#e60000,#f20200,#f3990c,#17c4e8,#0016f7,#0000cd,#001cee,#69f996,#eeff11,#eeff11,#78ff87,#005dff,#000bfd,#0000e3,#0000cd,#0000c0,#0000cb,#0011f8,#0399fc,#60fc9f,#6aff95,#0ce7f3,#00a2ff,#007dff,#00c0ff,#00e1ff,#0057ff,#0000ec,#0000ec,#0054ff,#00d2ff,#00e3ff,#20ffdf,#b3ff4c,#ff7600,#fb0800,#e90000,#e60000,#e60000,#e60000,#ed0000,#ff1c00,#feb601,#78ff87,#12ffed,#00f2ff,#00d3ff,#0088ff,#0046ff,#002bff,#1cd3e3,#cbff34,#fef801,#fff500,#ffb800,#ff5700,#39fac6,#00dbff,#00ccff,#00e3ff,#00e7ff,#00daff,#00d6ff,#00deff,#00eaff,#00efff,#00b0ff,#000afd,#0000fc)"></i><i style="top:38px;height:2px;background:linear-gradient(90deg,#f5a20a,#f40400,#e60000,#e60000,#f40400,#e7a718,#09aaf6,#000ef8,#0000d6,#001cf4,#55f1aa,#e0ff1f,#e0ff1f,#59fca6,#0044ff,#0000e8,#0000d4,#0000cd,#0000c3,#0000cf,#0000ef,#0024fd,#0086ff,#009aff,#0090ff,#00aaff,#00a5ff,#00d5ff,#00e2ff,#0051ff,#0000ea,#0000ea,#004bff,#00c5ff,#00d2ff,#13faec,#9fff60,#ff8a00,#fd0f00,#eb0000,#e60000,#e60000,#e70000,#f00000,#ff2900,#f7c508,#6aff95,#0ffff0,#00eeff,#00b8ff,#0050ff,#000ffe,#0008fb,#06a9f9,#99ff66,#f2fe0d,#fbfd04,#f2ea0d,#f0a70f,#12f8ed,#00e7ff,#00e0ff,#00e8ff,#00ddff,#00c6ff,#00beff,#00cdff,#00e3ff,#00eeff,#00b0ff,#000afd,#0000fc)"></i><i style="top:40px;height:2px;background:linear-gradient(90deg,#e4c71b,#fb1200,#e90000,#e90000,#fb1200,#c8ce37,#0078ff,#0003f8,#0000e1,#0023fa,#49ebb6,#daff25,#c9ff36,#3eefc1,#0031fd,#0000d5,#0000cb,#0000ce,#0000d9,#0000d6,#0000e5,#0000df,#000df5,#001afe,#0054ff,#00b4ff,#00c5ff,#00e2ff,#00e3ff,#0057ff,#0000ec,#0000ec,#004aff,#00aeff,#00b5ff,#06eaf9,#80ff7f,#ffaa00,#ff1d00,#f00000,#e70000,#e60000,#e90000,#f70100,#ff3f00,#ecdc13,#58ffa7,#0afef5,#00e8ff,#009aff,#0023fe,#0000e9,#0000e7,#0065ff,#4dfcb2,#caff35,#e2ff1d,#adff52,#47ffb8,#00f5ff,#00edff,#00eaff,#00e6ff,#00ccff,#00a9ff,#009dff,#00b3ff,#00d7ff,#00ecff,#00b0ff,#000afd,#0000fc)"></i><i style="top:42px;height:2px;background:linear-gradient(90deg,#b8f247,#ff4600,#f80300,#f80300,#ff4800,#80ee7f,#0037fd,#0000ef,#0000ef,#0030ff,#70eb8f,#f3ff0c,#aeff51,#20e2df,#0024f9,#0000cc,#0000c6,#0000d3,#005aff,#000eed,#0000e2,#0000c8,#0000ca,#0000dd,#003aff,#00baff,#00daff,#00eaff,#00e6ff,#0068ff,#0001f2,#0001f2,#004eff,#008fff,#008dff,#00c9ff,#55ffaa,#f4ce0b,#ff3800,#f80200,#eb0000,#e90000,#ee0000,#fd0a00,#ff6100,#d6f129,#44ffbb,#05fcfa,#00e2ff,#007fff,#000cf7,#0000d9,#0000d8,#0026fb,#0bd3f4,#84ff7b,#b2ff4d,#76ff89,#19fee6,#00f2ff,#00efff,#00edff,#00e0ff,#00bdff,#00aeff,#00a1ff,#009cff,#00c5ff,#00e7ff,#00b1ff,#000bfd,#0000fd)"></i><i style="top:44px;height:2px;background:linear-gradient(90deg,#67ff98,#f7b908,#ff4400,#ff4400,#f3bc0c,#27c8d8,#000cee,#0000e4,#0003fb,#0046ff,#87f378,#f8ff07,#90ff6f,#0dd0f2,#001bf6,#0000c6,#0000c3,#000de0,#2af1d5,#0258f7,#0000e1,#0000c3,#0000be,#0000cf,#0030ff,#00bcff,#00e6ff,#00eeff,#00eaff,#0082ff,#000afc,#0007fb,#0052ff,#0068ff,#005cff,#0095ff,#26f6d9,#d7ef28,#ff6500,#fe1100,#f50000,#f10000,#f90100,#ff2300,#ff9400,#b2ff4d,#2fffd0,#02fafd,#00ddff,#006dff,#0005ef,#0000d3,#0000d3,#0004ed,#006fff,#2ef7d1,#6fff90,#3cffc3,#05fbfa,#00f0ff,#00f0ff,#00edff,#00dbff,#11ecee,#56ffa9,#4fffb0,#0ad5f5,#00b6ff,#00e1ff,#00b3ff,#000dfe,#0001fd)"></i><i style="top:46px;height:2px;background:linear-gradient(90deg,#22ffdd,#9bff64,#f0db0f,#f0db0f,#89ff76,#0074ff,#0000d4,#0000db,#000ffe,#005fff,#63ee9c,#e7ff18,#58ffa7,#01bffe,#0014f3,#0000c3,#0000c1,#0035e5,#8aff75,#228fdc,#0000e2,#0000c1,#0000bd,#0000cb,#002dfd,#00bcff,#00ebff,#00efff,#00edff,#00a4ff,#002aff,#0020ff,#004fff,#003bff,#0029ff,#0059ff,#06d1f9,#94ff6b,#ffa800,#ff3800,#ff0e00,#fe0700,#ff1600,#ff5100,#f9d106,#7eff81,#1cffe3,#00f7ff,#00dbff,#0067ff,#0003ec,#0000d2,#0000d2,#0000db,#0020fc,#05c8fa,#2dffd2,#10feef,#00f4ff,#00f0ff,#00f0ff,#00ebff,#04ebfb,#7dff82,#deff21,#ddff22,#6dff92,#00c3ff,#00d7ff,#00b6ff,#0010fe,#0003fd)"></i><i style="top:48px;height:2px;background:linear-gradient(90deg,#04fbfb,#2cffd3,#61ff9e,#61ff9e,#1befe4,#0031f6,#0000c4,#0000d5,#001fff,#007aff,#10e9ef,#5cffa3,#18ffe7,#00b0ff,#0011f0,#0000c1,#0000c0,#0152eb,#a9ff56,#36b3c9,#0000e4,#0000c1,#0000bd,#0000ca,#002cfc,#00bcff,#00edff,#00f0ff,#00eeff,#00c3ff,#005dff,#0042ff,#003fff,#0010fe,#0003f8,#001fff,#0088ff,#37f9c8,#e0eb1f,#ff7c00,#ff3d00,#ff2f00,#ff4900,#ff9800,#d2f92d,#50ffaf,#0dfff2,#00f4ff,#00dcff,#006dff,#0005ef,#0000d3,#0000d2,#0000d6,#000bf2,#00a9ff,#10ffef,#03fcfc,#00f1ff,#00f0ff,#00efff,#00e8ff,#14f4eb,#bcff43,#f8ff07,#f8ff07,#b3ff4c,#08d1f7,#00ccff,#00b9ff,#0014ff,#0005fe)"></i><i style="top:50px;height:2px;background:linear-gradient(90deg,#00f2ff,#03fbfc,#0efff1,#0efff1,#01d1fe,#0017ef,#0000bf,#0000d1,#002fff,#0094ff,#00e5ff,#02fbfd,#01f9fe,#00a7ff,#000fee,#0000c0,#0000bf,#0859e6,#aeff51,#43bcbc,#0000e9,#0000c2,#0000bd,#0000cb,#002dfd,#00bdff,#00edff,#00f0ff,#00efff,#00d9ff,#008fff,#005aff,#0023ff,#0000eb,#0000db,#0002ee,#003dff,#04c0fb,#75ff8a,#f4df0b,#ff9100,#ff7b00,#ff9c00,#f2e90d,#89ff76,#2bffd4,#03fcfc,#00f1ff,#00e0ff,#007fff,#000cf7,#0000d9,#0000d6,#0000e1,#003bfc,#1de5e2,#58ffa7,#38ffc7,#08fbf7,#00f1ff,#00efff,#00e3ff,#10eaef,#b7ff48,#f8ff07,#f7ff08,#aeff51,#04c0fb,#00beff,#00bcff,#001aff,#0009ff)"></i><i style="top:52px;height:2px;background:linear-gradient(90deg,#00f0ff,#00f1ff,#00f4ff,#00f3ff,#00c1ff,#0012e9,#0000be,#0000cf,#0040ff,#00abff,#00e8ff,#00f2ff,#00f0ff,#00a4ff,#000eec,#0000bf,#0000bf,#0254ec,#a9ff56,#39bdc6,#0002ee,#0000c3,#0000bd,#0000ce,#0030ff,#00bfff,#00eeff,#00efff,#00eeff,#00e1ff,#00aaff,#0059ff,#000bf7,#0000d3,#0000c9,#0000d3,#000bf6,#0062ff,#0edef1,#82ff7d,#e1f51e,#f4e70b,#e6f619,#a0ff5f,#49ffb6,#12ffed,#00f8ff,#00f0ff,#00e6ff,#009aff,#0023fe,#0000ea,#0000e4,#001efb,#15cdea,#9fff60,#ccff33,#a6ff59,#46ffb9,#03f8fc,#00efff,#00ddff,#00beff,#62fc9d,#d8ff27,#d7ff28,#57f6a8,#007aff,#00afff,#00bfff,#0022ff,#0010ff)"></i><i style="top:54px;height:2px;background:linear-gradient(90deg,#00f0ff,#00f0ff,#00f0ff,#00f0ff,#00beff,#0011e8,#0000bd,#0000d0,#0051ff,#00bfff,#00ebff,#00f0ff,#00edff,#00a3ff,#000dec,#0000bf,#0000be,#003ae8,#8fff70,#26acd9,#0007f3,#0000c6,#0000bf,#0000d3,#0039ff,#00c4ff,#00eeff,#00efff,#00ebff,#00dcff,#00a8ff,#0043ff,#0001e7,#0000c6,#0000c1,#0000c5,#0000db,#0019fc,#0073ff,#0bdcf4,#4affb5,#79ff86,#71ff8e,#4cffb3,#26ffd9,#0bfff4,#00f9ff,#00f2ff,#00ebff,#00b8ff,#0050ff,#0010fe,#000cfd,#0085ff,#81ff7e,#f3fd0c,#fefa01,#eefe11,#96ff69,#18fde7,#00efff,#00d7ff,#0082ff,#0393fc,#35e8ca,#33e5cc,#0076ff,#0033ff,#00a0ff,#00c3ff,#002dff,#001aff)"></i><i style="top:56px;height:2px;background:linear-gradient(90deg,#00f0ff,#00f0ff,#00f0ff,#00efff,#00bfff,#0012e9,#0000be,#0000d2,#0062ff,#00ceff,#00ecff,#00efff,#00ecff,#00a4ff,#000eec,#0000bf,#0000bf,#0018e6,#3ff8c0,#0894f7,#0010f9,#0000cc,#0000c2,#0000da,#0045ff,#00c9ff,#00eeff,#00eeff,#00e8ff,#00d3ff,#0095ff,#0028ff,#0000d7,#0000c0,#0000be,#0000bf,#0000c8,#0000e4,#001efe,#0069ff,#00b8ff,#08edf7,#1cffe3,#31ffce,#36ffc9,#2bffd4,#15ffea,#03fcfc,#00f1ff,#00d3ff,#0088ff,#004aff,#0047ff,#18d2e7,#cdff32,#fff400,#fff000,#fef701,#c7ff38,#35ffca,#00f1ff,#00d2ff,#0069ff,#000cf8,#0019ed,#0016ea,#0000df,#001afb,#0093ff,#00c6ff,#003bff,#0027ff)"></i><i style="top:58px;height:2px;background:linear-gradient(90deg,#00f0ff,#00f0ff,#00f0ff,#00efff,#00c2ff,#0015ed,#0000bf,#0000d7,#0072ff,#00d9ff,#00ebff,#00edff,#00ecff,#00a5ff,#000fee,#0000c0,#0000bf,#0006e8,#00acff,#0074ff,#001cfd,#0000d5,#0000c7,#0000e5,#0054ff,#00cfff,#00eeff,#00eeff,#00e4ff,#00c7ff,#0080ff,#0016fa,#0000cd,#0000be,#0000bd,#0000bd,#0000c0,#0000cb,#0000e7,#0019fe,#005eff,#00bdff,#1ffee0,#66ff99,#88ff77,#7fff80,#57ffa8,#27ffd8,#05fcfa,#00e6ff,#00baff,#008dff,#0089ff,#30edcf,#e1fe1e,#fff100,#fff000,#fff400,#d4ff2b,#3fffc0,#00efff,#00cbff,#005cff,#0002e9,#0000c3,#0000bf,#0000ca,#0012f7,#0089ff,#00c9ff,#005bff,#004cff)"></i><i style="top:60px;height:2px;background:linear-gradient(90deg,#00f0ff,#00f0ff,#00efff,#00efff,#00c7ff,#001bf2,#0000c2,#0001df,#0082ff,#00ddff,#00e8ff,#00eaff,#00e9ff,#00a7ff,#0010f0,#0000c1,#0000c0,#0007eb,#0065ff,#0078ff,#0030ff,#0000e2,#0000d2,#0005f0,#0066ff,#00d6ff,#00efff,#00edff,#00e0ff,#00bdff,#006eff,#000bf5,#0000c7,#0000bd,#0000bd,#0000bd,#0000bd,#0000c0,#0000cc,#0002ee,#004dff,#09d9f6,#86ff79,#e8e317,#ffc600,#f8d307,#cdf932,#6dff92,#20ffdf,#00f1ff,#00d5ff,#00bbff,#00afff,#27f0d8,#d4ff2b,#fff400,#fff000,#fef801,#c1ff3e,#28fcd7,#00e0ff,#00bfff,#0050ff,#0000e4,#0000c0,#0000bd,#0000c6,#000cf4,#0082ff,#00cfff,#0bcdf4,#10d7ef)"></i><i style="top:62px;height:2px;background:linear-gradient(90deg,#00f0ff,#00efff,#00efff,#00eeff,#00ccff,#0027f7,#0000c9,#0007e6,#008fff,#00dbff,#00e2ff,#00e4ff,#00e5ff,#00a9ff,#0013f3,#0000c3,#0000c2,#000bf0,#006fff,#0091ff,#0049ff,#0003f2,#0000e1,#0010fb,#007bff,#00dcff,#00efff,#00ecff,#00deff,#00b6ff,#0063ff,#0008f0,#0000c5,#0000bd,#0000bd,#0000bd,#0000bd,#0000bd,#0000c4,#0004ea,#0079ff,#5dfba2,#f7bb08,#ff4c00,#ff2900,#ff3800,#ff8500,#d4f42b,#4cffb3,#04f1fb,#00cdff,#00b9ff,#00a5ff,#07cff8,#94ff6b,#f1fd0e,#fbfb04,#e5ff1a,#78ff87,#06daf9,#00bbff,#00a4ff,#0041ff,#0000df,#0000bf,#0000bd,#0000c4,#000bf2,#007eff,#03e0fc,#98ff67,#bdff42)"></i><i style="top:64px;height:2px;background:linear-gradient(90deg,#00f0ff,#00efff,#00eeff,#00ecff,#00d0ff,#0035fd,#0000d6,#000df2,#0098ff,#00d2ff,#00d7ff,#00daff,#00deff,#00aaff,#0019f6,#0000c6,#0000c6,#0012f5,#0084ff,#00a9ff,#0064ff,#0010fd,#0001f6,#0025ff,#0091ff,#00e1ff,#00efff,#00ecff,#00ddff,#00b4ff,#005fff,#0006ee,#0000c4,#0000bd,#0000bd,#0000bd,#0000bd,#0000bd,#0000c4,#0013f4,#0bbcf4,#d1df2e,#ff3f00,#f80400,#f00000,#f40100,#fe1d00,#ffa000,#85ff7a,#07e8f8,#00a7ff,#008aff,#0072ff,#0071ff,#1de3e2,#8aff75,#a9ff56,#6eff91,#0fd3f0,#0080ff,#007eff,#0076ff,#002cff,#0000da,#0000bf,#0000bd,#0000c4,#000af1,#007dff,#1de9e2,#f1e10e,#ffd300)"></i><i style="top:66px;height:2px;background:linear-gradient(90deg,#00efff,#00eeff,#00ecff,#00e8ff,#00d1ff,#004aff,#0000ea,#001afb,#009aff,#00c3ff,#00c6ff,#00ccff,#00d2ff,#00a9ff,#001ef8,#0000cb,#0000cb,#001cf8,#0098ff,#00bfff,#0081ff,#002cff,#0014ff,#0044ff,#00a6ff,#00e6ff,#00efff,#00ecff,#00deff,#00b6ff,#0063ff,#0008f0,#0000c5,#0000bd,#0000bd,#0000bd,#0000bd,#0000bd,#0000ca,#002bfb,#36e5c9,#fc9c03,#fb0c00,#e90000,#e60000,#e70000,#f40200,#ff5000,#b6f449,#09daf6,#0073ff,#004aff,#0032ff,#001bff,#0049ff,#01a8fe,#06c2f9,#008fff,#003fff,#002bff,#003aff,#003fff,#0014fe,#0000d6,#0000bf,#0000bd,#0000c5,#000bf3,#007dff,#39eec6,#ffc700,#ffb700)"></i><i style="top:68px;height:2px;background:linear-gradient(90deg,#00efff,#00edff,#00e9ff,#00e1ff,#00cdff,#0060ff,#0007fc,#002bff,#0094ff,#00adff,#00b0ff,#00b8ff,#00c2ff,#00a4ff,#0024fc,#0000d1,#0000d2,#0026fc,#00aaff,#00cfff,#009cff,#004eff,#0037ff,#0065ff,#00bbff,#00eaff,#00efff,#00edff,#00e0ff,#00bdff,#006eff,#000bf5,#0000c7,#0000bd,#0000bd,#0000bd,#0000bd,#0000bf,#0000d0,#003eff,#5df3a2,#ff6e00,#f40200,#e60000,#e60000,#e60000,#ed0000,#ff2f00,#c9e536,#08c9f7,#0042ff,#0012ff,#0003f7,#0000e9,#0000e6,#0007ef,#000df0,#0003ed,#0000ea,#0000f2,#0007fa,#000eff,#0002f6,#0000d3,#0000c0,#0000be,#0000c7,#000cf5,#007eff,#45eeba,#ffc000,#ffb400)"></i><i style="top:70px;height:2px;background:linear-gradient(90deg,#00eeff,#00eaff,#00e3ff,#00d8ff,#00c4ff,#0070ff,#001eff,#003dff,#0085ff,#0091ff,#0096ff,#009fff,#00adff,#009cff,#002bff,#0000da,#0000db,#0034ff,#00b9ff,#00dcff,#00b5ff,#0072ff,#005cff,#0086ff,#00ccff,#00ecff,#00efff,#00eeff,#00e4ff,#00c7ff,#0080ff,#0016fa,#0000cd,#0000be,#0000bd,#0000bd,#0000bf,#0000c3,#0000d9,#004aff,#61f69e,#ff6d00,#f40200,#e60000,#e60000,#e60000,#ed0000,#ff3000,#c0e73f,#01b1fe,#001cfe,#0000ea,#0000d9,#0000ce,#0000c9,#0000c7,#0000c7,#0000c8,#0000cb,#0000d2,#0000de,#0000ea,#0000e6,#0000d0,#0000c1,#0000bf,#0000cb,#0010f7,#0080ff,#39edc6,#ffc600,#ffb700)"></i><i style="top:72px;height:2px;background:linear-gradient(90deg,#00ecff,#00e7ff,#00dcff,#00ccff,#00b5ff,#0076ff,#0033ff,#0045ff,#006eff,#0073ff,#0078ff,#0083ff,#0094ff,#008fff,#0032ff,#0000e5,#0000e7,#0045ff,#00c4ff,#00e4ff,#00caff,#0095ff,#0082ff,#00a5ff,#00d9ff,#00eeff,#00f0ff,#00eeff,#00e8ff,#00d3ff,#0096ff,#0028ff,#0000d7,#0000c0,#0000be,#0000bf,#0000c3,#0000ce,#0000e8,#004cff,#45f0ba,#fe9801,#fb0c00,#e90000,#e60000,#e70000,#f40200,#ff5500,#95f96a,#0086ff,#0008f4,#0000d5,#0000c9,#0000c3,#0000c0,#0000be,#0000be,#0000bf,#0000c0,#0000c4,#0000cc,#0000d7,#0000da,#0000cf,#0000c4,#0000c2,#0000d1,#0016fa,#0084ff,#1fe5e0,#f5de0a,#ffcd00)"></i><i style="top:74px;height:2px;background:linear-gradient(90deg,#00eaff,#00e1ff,#00d2ff,#00bcff,#00a1ff,#0072ff,#003dff,#0041ff,#0052ff,#0053ff,#0058ff,#0065ff,#0078ff,#007dff,#0038ff,#0000f1,#0003f3,#0056ff,#00cdff,#00e9ff,#00d9ff,#00b3ff,#00a5ff,#00c0ff,#00e3ff,#00efff,#00f0ff,#00efff,#00ebff,#00ddff,#00aeff,#0046ff,#0001e8,#0000c6,#0000c1,#0000c4,#0000cf,#0000e5,#0008fb,#0051ff,#1ce5e3,#e0da1f,#ff3c00,#f80400,#f00000,#f50100,#fe1f00,#f8ac07,#42f2bd,#0054ff,#0000e8,#0000cd,#0000c3,#0000bf,#0000bd,#0000bd,#0000bd,#0000bd,#0000be,#0000c0,#0000c6,#0000cf,#0000d6,#0000d0,#0000c7,#0000c7,#0000da,#001ffe,#008bff,#05defa,#b8fc47,#dbfb24)"></i><i style="top:76px;height:2px;background:linear-gradient(90deg,#00e7ff,#00daff,#00c5ff,#00a9ff,#008aff,#0063ff,#003aff,#0033ff,#0035ff,#0033ff,#0039ff,#0046ff,#005bff,#0069ff,#003bff,#0004fb,#000afc,#0067ff,#00d3ff,#00ebff,#00e3ff,#00cbff,#00c1ff,#00d4ff,#00e9ff,#00efff,#00f0ff,#00efff,#00eeff,#00e6ff,#00c5ff,#006aff,#000cf7,#0000d3,#0000c9,#0000cf,#0000e7,#000efd,#002eff,#0064ff,#05d6fa,#8bff74,#fbb304,#ff4b00,#ff2900,#ff3a00,#ff9000,#a5f85a,#07c1f8,#0029ff,#0000e1,#0000cc,#0000c3,#0000bf,#0000bd,#0000bd,#0000bd,#0000bd,#0000be,#0000c0,#0000c6,#0000cf,#0000d8,#0000d5,#0000ce,#0000cf,#0000e8,#0031ff,#0098ff,#00d7ff,#37fdc8,#4fffb0)"></i><i style="top:78px;height:2px;background:linear-gradient(90deg,#00e2ff,#00d1ff,#00b6ff,#0095ff,#0071ff,#004dff,#002cff,#001fff,#0019ff,#0017ff,#001cff,#0029ff,#003eff,#0053ff,#003aff,#000cff,#0018ff,#0076ff,#00d6ff,#00ecff,#00e9ff,#00dcff,#00d6ff,#00e1ff,#00edff,#00f0ff,#00f0ff,#00f0ff,#00efff,#00ebff,#00d7ff,#008fff,#0029ff,#0000eb,#0000db,#0000e7,#0010fd,#0040ff,#0064ff,#0087ff,#00ccff,#32ffcd,#a5ff5a,#ece113,#ffc900,#f0d80f,#abfc54,#20f1df,#007cff,#0015ff,#0000e8,#0000d4,#0000c9,#0000c3,#0000c0,#0000be,#0000be,#0000bf,#0000c0,#0000c4,#0000cb,#0000d6,#0000e0,#0000e0,#0000da,#0000de,#0006f7,#004bff,#00a8ff,#00d9ff,#00edff,#00f3ff)"></i><i style="top:80px;height:2px;background:linear-gradient(90deg,#00ddff,#00c7ff,#00a7ff,#007fff,#0058ff,#0035ff,#0019ff,#0009ff,#0003fc,#0002fb,#0004fd,#000fff,#0024ff,#003cff,#0035ff,#0017ff,#0029ff,#0083ff,#00d7ff,#00ebff,#00ecff,#00e7ff,#00e4ff,#00eaff,#00f0ff,#00f2ff,#00f2ff,#00f2ff,#00f2ff,#00f0ff,#00e5ff,#00b0ff,#0053ff,#0011fe,#0003f8,#0010fe,#0042ff,#007aff,#009aff,#00b1ff,#00d2ff,#0afaf5,#3dffc2,#6aff95,#7cff83,#61ff9e,#1ffbe0,#00baff,#005dff,#0021ff,#0004fb,#0000e9,#0000da,#0000d0,#0000ca,#0000c7,#0000c6,#0000c8,#0000ca,#0000cf,#0000d5,#0000df,#0000e9,#0000ec,#0000eb,#0000f4,#0019ff,#0061ff,#00adff,#00d5ff,#00e3ff,#00e9ff)"></i><i style="top:82px;height:2px;background:linear-gradient(90deg,#0cf0f3,#22f0dd,#18e0e7,#00a2ff,#0049ff,#001eff,#0006fe,#0000f3,#0000eb,#0000e8,#0000ed,#0001f7,#000dff,#0026ff,#002eff,#0020ff,#0037ff,#008dff,#00d6ff,#00eaff,#00f0ff,#00f1ff,#00f3ff,#01f9fe,#04fcfb,#06fdf9,#07fdf8,#07fdf8,#06fdf9,#04fcfb,#01f6fe,#00d1ff,#0084ff,#0040ff,#0029ff,#0041ff,#007aff,#00aeff,#00c5ff,#00d2ff,#00e0ff,#00f1ff,#09fef6,#1affe5,#1dffe2,#0cfbf3,#00dbff,#00a2ff,#006fff,#0049ff,#002aff,#0011ff,#0004f8,#0000ee,#0000e5,#0000e0,#0000df,#0000df,#0000df,#0000de,#0000dd,#0000df,#0000e6,#0000ed,#0000f4,#0003fd,#0021ff,#0054ff,#0087ff,#00acff,#00caff,#00ddff)"></i><i style="top:84px;height:2px;background:linear-gradient(90deg,#7aff85,#a1ff5e,#9eff61,#5affa5,#0292fd,#0010fe,#0000f1,#0000e2,#0000db,#0000d9,#0000dd,#0000e6,#0001f7,#0012ff,#0024ff,#0025ff,#0043ff,#0095ff,#00d8ff,#00f1ff,#04fcfb,#0dfff2,#1affe5,#28ffd7,#34ffcb,#3bffc4,#3effc1,#3effc1,#3affc5,#32ffcd,#25ffda,#0df9f2,#00c7ff,#0085ff,#0067ff,#007aff,#00abff,#00d2ff,#00dfff,#00e5ff,#00eaff,#00eeff,#00f2ff,#00f6ff,#00f4ff,#00e8ff,#00d2ff,#00b7ff,#009bff,#007eff,#0063ff,#004aff,#0035ff,#0025ff,#0019ff,#0013ff,#000fff,#0009fd,#0001f6,#0000e6,#0000d9,#0000d4,#0000d9,#0000e3,#0000ed,#0001f9,#000dff,#0026ff,#0042ff,#0062ff,#008bff,#00b1ff)"></i><i style="top:86px;height:2px;background:linear-gradient(90deg,#a1ff5e,#b2ff4d,#b2ff4d,#95ff6a,#12c4ed,#000ef9,#0000e2,#0000d5,#0000cf,#0000ce,#0000d1,#0000d9,#0000e8,#0004fc,#001aff,#0029ff,#0050ff,#00a2ff,#00e7ff,#10feef,#2effd1,#4dffb2,#73ff8c,#9aff65,#b2ff4d,#b7ff48,#acff53,#9eff61,#92ff6d,#86ff79,#74ff8b,#58ffa7,#27fdd8,#04e2fb,#00bdff,#00bcff,#00d6ff,#00e9ff,#00ecff,#00edff,#00eeff,#00efff,#00efff,#00efff,#00edff,#00e9ff,#00e1ff,#00d5ff,#00c5ff,#00b3ff,#009fff,#008bff,#007aff,#006bff,#0061ff,#0059ff,#004eff,#0033ff,#000bfd,#0000e2,#0000ce,#0000cc,#0000d3,#0000de,#0000e6,#0000ed,#0000f5,#0003fb,#000cff,#0020ff,#0045ff,#0071ff)"></i><i style="top:88px;height:2px;background:linear-gradient(90deg,#76ff89,#9eff61,#97ff68,#4ef9b1,#0075ff,#0002ed,#0000d8,#0000ce,#0000c9,#0000c7,#0000c9,#0000cf,#0000dc,#0000f3,#0011ff,#0030ff,#0067ff,#00c0ff,#12fced,#47ffb8,#7dff82,#c3fe3c,#f4e20b,#ffb800,#ffa200,#ffa500,#ffbe00,#fbe304,#ecfa13,#daff25,#c8ff37,#afff50,#88ff77,#52ffad,#22ffdd,#0ef9f1,#07fbf8,#02fbfd,#00f4ff,#00efff,#00ecff,#00ebff,#00ebff,#00ecff,#00edff,#00edff,#00ebff,#00e8ff,#00e3ff,#00ddff,#00d4ff,#00c7ff,#00baff,#00afff,#00a7ff,#00a0ff,#008bff,#0056ff,#0012fd,#0000db,#0000c9,#0000ce,#0000d8,#0000e0,#0000e5,#0000e7,#0000e9,#0000ec,#0000f0,#0002f9,#0014ff,#0038ff)"></i><i style="top:90px;height:2px;background:linear-gradient(90deg,#04dbfb,#13d0ec,#06b0f9,#0052ff,#0007f7,#0000e2,#0000d7,#0000d2,#0000ce,#0000cb,#0000ca,#0000cc,#0000d5,#0000ea,#000fff,#0040ff,#008cff,#06eaf9,#48ffb7,#8eff71,#ddfa22,#ffbb00,#ff7b00,#ff6000,#ff5800,#ff5a00,#ff6800,#ff8a00,#ffbd00,#ffe500,#fcf603,#f1fe0e,#d5ff2a,#acff53,#7dff82,#54ffab,#34ffcb,#15ffea,#00f7ff,#00e1ff,#00d1ff,#00c9ff,#00c9ff,#00cfff,#00daff,#00e5ff,#00ecff,#00f5ff,#07fcf8,#14ffeb,#1dffe2,#18fde7,#0ef4f1,#01eafe,#00dbff,#00d1ff,#00b5ff,#006eff,#0017fe,#0000da,#0000cb,#0000d4,#0000dd,#0000e3,#0000e5,#0000e6,#0000e6,#0000e6,#0000e8,#0000ec,#0001f9,#0014ff)"></i><i style="top:92px;height:2px;background:linear-gradient(90deg,#0098ff,#005aff,#0024ff,#0003fa,#0000ea,#0000e2,#0000de,#0000dc,#0000da,#0000d8,#0000d4,#0000d2,#0000d5,#0000e7,#0013ff,#0059ff,#00baff,#29fed6,#81ff7e,#d0ff2f,#ffce00,#ff7c00,#ff5800,#ff4e00,#ff4d00,#ff4d00,#ff5200,#ff6400,#ff8f00,#ffc100,#ffd900,#ffe600,#fdf702,#e8ff17,#c0ff3f,#92ff6d,#60ff9f,#26ffd9,#00e7ff,#00b0ff,#0089ff,#0076ff,#0075ff,#0083ff,#009eff,#00beff,#00ddff,#07fbf8,#35ffca,#68ff97,#8aff75,#92ff6d,#81ff7e,#59ffa6,#26ffd9,#06f4f9,#00cfff,#0085ff,#0026ff,#0000e3,#0000d1,#0000d8,#0000e0,#0000e4,#0000e5,#0000e6,#0000e6,#0000e6,#0000e6,#0000e8,#0000f0,#0004fe)"></i><i style="top:94px;height:2px;background:linear-gradient(90deg,#0067ff,#002aff,#0005fc,#0000ee,#0000e6,#0000e4,#0000e3,#0000e3,#0000e2,#0000e1,#0000de,#0000db,#0000da,#0000e8,#0017ff,#0070ff,#04dffb,#55ffaa,#acff53,#f1f80e,#ffad00,#ff6b00,#ff5200,#ff4d00,#ff4d00,#ff4d00,#ff4f00,#ff5c00,#ff8200,#ffb300,#ffcb00,#ffd400,#ffe000,#fef501,#e8ff17,#bbff44,#7cff83,#27ffd8,#00c4ff,#006dff,#0034ff,#001bff,#0018ff,#0027ff,#0048ff,#0078ff,#00b5ff,#0df7f2,#63ff9c,#b3ff4c,#e4ff1b,#f3f90c,#f0f90f,#defe21,#aaff55,#5cffa3,#10f4ef,#00a9ff,#0049ff,#0006f6,#0000dd,#0000dd,#0000e3,#0000e5,#0000e6,#0000e6,#0000e6,#0000e6,#0000e6,#0000e7,#0000ec,#0000fa)"></i><i style="top:96px;height:2px;background:linear-gradient(90deg,#0039ff,#000afe,#0000f0,#0000e8,#0000e6,#0000e5,#0000e5,#0000e5,#0000e5,#0000e4,#0000e3,#0000e1,#0000e0,#0000e8,#0015ff,#0075ff,#0cecf3,#70ff8f,#c4ff3b,#faf405,#ffb000,#ff7200,#ff5600,#ff4e00,#ff4d00,#ff4d00,#ff5200,#ff6300,#ff8b00,#ffb600,#ffc800,#ffcd00,#ffd600,#ffe600,#f9fc06,#cfff30,#87ff78,#21fbde,#00a4ff,#003fff,#0007fa,#0000e7,#0000e3,#0000ec,#000afb,#0036ff,#007fff,#09e5f6,#73ff8c,#d8ff27,#ffef00,#ffd900,#ffd400,#ffd900,#fdec02,#dafd25,#7dff82,#14eceb,#0088ff,#002dff,#0003f5,#0000e8,#0000e6,#0000e6,#0000e6,#0000e6,#0000e6,#0000e6,#0000e6,#0000e7,#0000ec,#0000fa)"></i><i style="top:98px;height:2px;background:linear-gradient(90deg,#001cff,#0001f7,#0000ea,#0000e6,#0000e5,#0000e5,#0000e5,#0000e5,#0000e5,#0000e5,#0000e5,#0000e4,#0000e2,#0000e8,#000ffd,#006aff,#0de9f2,#76ff89,#cbff34,#fbf704,#ffc800,#ff9100,#ff6b00,#ff5a00,#ff5500,#ff5700,#ff6300,#ff7e00,#ffa500,#ffc000,#ffc800,#ffcc00,#ffd300,#ffe200,#fcfa03,#d2ff2d,#82ff7d,#17f5e8,#008dff,#0028ff,#0000ef,#0000d9,#0000d4,#0000d7,#0000e7,#000ffe,#0053ff,#00c6ff,#5effa1,#daff25,#ffe400,#ffce00,#ffc900,#ffc800,#ffcc00,#ffdd00,#e8fb17,#81ff7e,#0ee3f1,#0079ff,#002cff,#0006fc,#0000f0,#0000ea,#0000e7,#0000e6,#0000e6,#0000e6,#0000e6,#0000e8,#0000f0,#0004fe)"></i><i style="top:100px;height:2px;background:linear-gradient(90deg,#0010ff,#0000f2,#0000e8,#0000e6,#0000e6,#0000e5,#0000e5,#0000e5,#0000e5,#0000e5,#0000e5,#0000e4,#0000e3,#0000e7,#0008fb,#0059ff,#07dcf8,#69ff96,#c2ff3d,#f6fd09,#ffe100,#ffbe00,#ff9c00,#ff8500,#ff7c00,#ff8000,#ff9000,#ffa900,#ffbf00,#ffc700,#ffc900,#ffcd00,#ffd700,#ffe800,#f6fd09,#c3ff3c,#6dff92,#0be9f4,#0077ff,#001aff,#0000e8,#0000d6,#0000d1,#0000d3,#0000df,#0006fa,#0041ff,#00a2ff,#30fccf,#b8ff47,#fdee02,#ffcf00,#ffc800,#ffc700,#ffc700,#ffca00,#ffde00,#e0fd1f,#69ff96,#06d7f9,#0077ff,#0033ff,#000bfe,#0000f4,#0000eb,#0000e8,#0000e7,#0000e7,#0000e8,#0000ec,#0001f9,#0014ff)"></i><i style="top:102px;height:2px;background:linear-gradient(90deg,#0010ff,#0000f2,#0000e8,#0000e6,#0000e6,#0000e5,#0000e5,#0000e5,#0000e5,#0000e5,#0000e5,#0000e4,#0000e3,#0000e5,#0004f8,#0049ff,#00c8ff,#4bffb4,#a8ff57,#e4ff1b,#fef501,#ffde00,#ffcc00,#ffbe00,#ffb700,#ffb800,#ffbe00,#ffc500,#ffc800,#ffca00,#ffce00,#ffd500,#ffe400,#fbf904,#daff25,#9eff61,#44ffbb,#01cffe,#005eff,#000ffd,#0000e1,#0000d3,#0000d1,#0000d5,#0000e4,#000dfd,#004bff,#009aff,#0aedf5,#72ff8d,#e1fd1e,#ffde00,#ffca00,#ffc700,#ffc700,#ffc800,#ffcf00,#fdee02,#b9ff46,#39fec6,#00c5ff,#0077ff,#0039ff,#0011ff,#0001f9,#0000f0,#0000ed,#0000ed,#0000f1,#0002f9,#0014ff,#0038ff)"></i><i style="top:104px;height:2px;background:linear-gradient(90deg,#001dff,#0001f8,#0000ea,#0000e6,#0000e6,#0000e5,#0000e5,#0000e5,#0000e5,#0000e5,#0000e5,#0000e4,#0000e2,#0000e3,#0002f6,#003bff,#00aaff,#22fcdd,#7cff83,#bdff42,#e9ff16,#fdf602,#ffe500,#ffda00,#ffd300,#ffd000,#ffce00,#ffcf00,#ffd100,#ffd500,#ffde00,#ffed00,#f5fc0a,#d2ff2d,#9dff62,#56ffa9,#0ef0f1,#009bff,#0042ff,#0007fb,#0000e2,#0000d7,#0000d7,#0000e1,#0002f6,#0023ff,#0060ff,#009eff,#00cfff,#1af8e5,#82ff7d,#e5fb1a,#ffdf00,#ffcd00,#ffc900,#ffc900,#ffce00,#ffe500,#d8ff27,#69ff96,#09f1f6,#00b2ff,#0077ff,#0043ff,#0020ff,#000dff,#0007fd,#0007fd,#000dff,#0021ff,#0045ff,#0071ff)"></i><i style="top:106px;height:2px;background:linear-gradient(90deg,#003bff,#000bfe,#0000f1,#0000e8,#0000e6,#0000e5,#0000e5,#0000e5,#0000e5,#0000e4,#0000e3,#0000e1,#0000df,#0000e2,#0002f6,#0031ff,#008aff,#04e7fb,#42ffbd,#84ff7b,#b5ff4a,#d9ff26,#f1fe0e,#fcf703,#ffef00,#ffe900,#ffe700,#ffe800,#ffee00,#fbf504,#f0fc0f,#d6ff29,#acff53,#75ff8a,#32fdcd,#06ddf9,#0097ff,#0052ff,#001bff,#0001f6,#0000e6,#0000e1,#0000e4,#0000f0,#0009ff,#002bff,#0054ff,#0077ff,#008dff,#00a2ff,#0bd5f4,#57fda8,#c4ff3b,#f7f108,#ffde00,#ffd700,#ffde00,#fbf504,#c4ff3b,#59ffa6,#05ecfa,#00bdff,#00a2ff,#0082ff,#0062ff,#004cff,#0041ff,#0040ff,#004cff,#0065ff,#008cff,#00b2ff)"></i><i style="top:108px;height:2px;background:linear-gradient(90deg,#006bff,#002eff,#0007fd,#0000f0,#0000e7,#0000e5,#0000e4,#0000e3,#0000e2,#0000e1,#0000df,#0000dc,#0000db,#0000e2,#0003f9,#002fff,#0074ff,#00bfff,#0df9f2,#42ffbd,#70ff8f,#94ff6b,#b0ff4f,#c5ff3a,#d3ff2c,#daff25,#daff25,#d3ff2c,#c5ff3a,#aeff51,#8dff72,#60ff9f,#2bfbd4,#09dcf6,#009fff,#005eff,#0028ff,#0009f7,#0000ea,#0000de,#0000da,#0000db,#0000de,#0000e6,#0001f2,#0008fa,#0013fe,#001fff,#0028ff,#002fff,#003dff,#0074ff,#15cdea,#5cfda3,#abff54,#d1ff2e,#d3ff2c,#b2ff4d,#67ff98,#10ecef,#00a2ff,#0088ff,#0095ff,#00a1ff,#00a2ff,#009fff,#009bff,#009bff,#00a3ff,#00b4ff,#00cbff,#00dcff)"></i><i style="top:110px;height:2px;background:linear-gradient(90deg,#009fff,#0063ff,#002eff,#000cfd,#0001f5,#0000ec,#0000e7,#0000e4,#0000e0,#0000dc,#0000d8,#0000d5,#0000d9,#0000e8,#0009fd,#0036ff,#006eff,#00a9ff,#00deff,#0cfcf3,#2affd5,#43ffbc,#58ffa7,#67ff98,#6fff90,#6fff90,#66ff99,#54ffab,#3affc5,#21f5de,#0cdff3,#00b9ff,#0083ff,#004eff,#001ffe,#0005f1,#0000dd,#0000cf,#0000c9,#0000c7,#0000c7,#0000c8,#0000ca,#0000cc,#0000cf,#0000d3,#0000d7,#0000da,#0000dd,#0000df,#0000e2,#0001e9,#0015f2,#004eff,#02a4fd,#1ad3e5,#25e6da,#19e3e6,#02c7fd,#008bff,#0069ff,#0076ff,#0098ff,#00b9ff,#00cfff,#00dbff,#00e0ff,#00e0ff,#00dfff,#00e0ff,#00e3ff,#00e5ff)"></i><i style="top:112px;height:2px;background:linear-gradient(90deg,#00c9ff,#00a4ff,#007dff,#005cff,#0045ff,#0035ff,#0027ff,#001afe,#000ff8,#0004f2,#0000e8,#0000e1,#0000e4,#0001f5,#0017ff,#0043ff,#0076ff,#00a7ff,#00ceff,#00e9ff,#02f7fd,#08fbf7,#0cfaf3,#0df7f2,#0bf0f4,#05e5fa,#00d3ff,#00b5ff,#0093ff,#006fff,#0049ff,#0026ff,#000ef6,#0001e9,#0000d6,#0000c9,#0000c2,#0000c0,#0000bf,#0000be,#0000bf,#0000bf,#0000bf,#0000c0,#0000c0,#0000c0,#0000c0,#0000c1,#0000c1,#0000c2,#0000c2,#0000c3,#0000c5,#0000cd,#0002e3,#0018f4,#0032ff,#0049ff,#0054ff,#0064ff,#0084ff,#00b1ff,#00daff,#04f3fb,#0cfdf3,#11ffee,#10ffef,#0bfff4,#05fcfa,#00f6ff,#00ecff,#00e6ff)"></i><i style="top:114px;height:2px;background:linear-gradient(90deg,#06f6f9,#07f0f8,#08e9f7,#0ae3f5,#0adef5,#07d8f8,#01cefe,#00b5ff,#0091ff,#0068ff,#003fff,#001fff,#000fff,#0014ff,#002cff,#0055ff,#0083ff,#00afff,#00cfff,#00e1ff,#00e6ff,#00e3ff,#00d9ff,#00c7ff,#00adff,#008cff,#0068ff,#0043ff,#0021ff,#000af9,#0000eb,#0000da,#0000cd,#0000c5,#0000c0,#0000be,#0000bd,#0000bd,#0000bd,#0000bd,#0000bd,#0000bd,#0000bd,#0000bd,#0000bd,#0000bd,#0000bd,#0000bd,#0000bd,#0000bd,#0000bd,#0000bd,#0000be,#0000bf,#0000c3,#0000cf,#0000e6,#000dfe,#003cff,#0075ff,#00b0ff,#00e5ff,#0cfef3,#21ffde,#2affd5,#2cffd3,#2affd5,#23ffdc,#17ffe8,#08fff7,#00f6ff,#00ebff)"></i><i style="top:116px;height:2px;background:linear-gradient(90deg,#32ffcd,#41ffbe,#50ffaf,#5cffa3,#64ff9b,#64ff9b,#5bffa4,#46ffb9,#23fedc,#06e8f9,#00b2ff,#0078ff,#004fff,#003fff,#004aff,#006aff,#0094ff,#00baff,#00d5ff,#00e2ff,#00e4ff,#00dcff,#00cdff,#00b3ff,#0091ff,#0068ff,#003dff,#0016ff,#0001f5,#0000de,#0000cf,#0000c6,#0000c1,#0000be,#0000bd,#0000bd,#0000bd,#0000bd,#0000bd,#0000bd,#0000bd,#0000bd,#0000bd,#0000bd,#0000bd,#0000bd,#0000bd,#0000bd,#0000bd,#0000bd,#0000bd,#0000bd,#0000bd,#0000bf,#0000c2,#0000cb,#0000df,#0007fb,#0035ff,#0071ff,#00afff,#00e4ff,#0cfef3,#21ffde,#2affd5,#2bffd4,#29ffd6,#23ffdc,#17ffe8,#08fff7,#00f6ff,#00ebff)"></i><i style="top:118px;height:2px;background:linear-gradient(90deg,#49ffb6,#5cffa3,#6dff92,#78ff87,#7eff81,#7fff80,#7cff83,#70ff8f,#53ffac,#24ffdb,#00e6ff,#00a7ff,#0076ff,#005fff,#0065ff,#0080ff,#00a4ff,#00c5ff,#00dbff,#00e6ff,#00e6ff,#00dfff,#00ceff,#00b1ff,#0089ff,#005aff,#002bff,#0007fd,#0000e8,#0000d6,#0000ca,#0000c3,#0000c0,#0000be,#0000bd,#0000bd,#0000bd,#0000bd,#0000bd,#0000bd,#0000bd,#0000bd,#0000be,#0000be,#0000be,#0000bf,#0000bf,#0000c0,#0000c0,#0000c1,#0000c2,#0000c2,#0000c1,#0000c1,#0000c1,#0000c6,#0000d3,#0000eb,#0012fe,#0041ff,#0076ff,#00a9ff,#00d2ff,#03eefc,#0af8f5,#0dfef2,#0efff1,#0afff5,#04fcfb,#00f6ff,#00ecff,#00e6ff)"></i><i style="top:120px;height:2px;background:linear-gradient(90deg,#39ffc6,#49ffb6,#57ffa8,#62ff9d,#68ff97,#68ff97,#60ff9f,#4cffb3,#2bffd4,#09f2f6,#00c5ff,#0092ff,#0070ff,#0067ff,#0074ff,#0092ff,#00b3ff,#00cfff,#00e1ff,#00e9ff,#00e9ff,#00e1ff,#00cdff,#00a9ff,#0078ff,#0043ff,#0014ff,#0000f1,#0000dc,#0000cf,#0000c7,#0000c3,#0000c0,#0000be,#0000bd,#0000bd,#0000bd,#0000bd,#0000bd,#0000bd,#0000be,#0000bf,#0000c0,#0000c3,#0000c6,#0000c9,#0000cd,#0000d2,#0000d6,#0000da,#0000dc,#0000da,#0000d5,#0000cd,#0000c7,#0000c4,#0000c7,#0000d0,#0000e3,#0007f6,#0020ff,#0045ff,#006bff,#008fff,#00afff,#00c9ff,#00dbff,#00e5ff,#00e8ff,#00e8ff,#00e6ff,#00e6ff)"></i><i style="top:122px;height:2px;background:linear-gradient(90deg,#10ffef,#15ffea,#17ffe8,#16fee9,#16f9e9,#13f2ec,#0be8f4,#01d8fe,#00b9ff,#0096ff,#0076ff,#0061ff,#005cff,#0068ff,#0082ff,#00a2ff,#00c0ff,#00d8ff,#00e6ff,#00ebff,#00eaff,#00deff,#00c2ff,#0092ff,#0056ff,#001fff,#0002f3,#0000db,#0000cd,#0000c6,#0000c3,#0000c2,#0000c0,#0000c0,#0000bf,#0000be,#0000be,#0000be,#0000be,#0000c0,#0000c2,#0000c5,#0000cb,#0000d2,#0000dc,#0000e8,#0002f3,#000bf9,#0013fe,#001dff,#0022ff,#001dff,#0011fc,#0005f3,#0000e3,#0000d4,#0000cb,#0000c9,#0000cc,#0000d6,#0000e6,#0004fa,#001dff,#0042ff,#0068ff,#008dff,#00acff,#00c3ff,#00d2ff,#00ddff,#00e5ff,#00e9ff)"></i><i style="top:124px;height:2px;background:linear-gradient(90deg,#00e6ff,#00d9ff,#00c5ff,#00adff,#0094ff,#007dff,#0068ff,#0056ff,#0048ff,#0040ff,#003eff,#0045ff,#0057ff,#0071ff,#0091ff,#00b0ff,#00cbff,#00ddff,#00e7ff,#00eaff,#00e5ff,#00d3ff,#00acff,#0071ff,#0031ff,#0004f7,#0000da,#0000c9,#0000c2,#0000c0,#0000bf,#0000bf,#0000c0,#0000c1,#0000c2,#0000c2,#0000c3,#0000c3,#0000c5,#0000c8,#0000ce,#0000d6,#0000e1,#0000f0,#0008fc,#001cff,#0034ff,#004eff,#0065ff,#0077ff,#0081ff,#007eff,#006aff,#004bff,#0028ff,#000efb,#0003f1,#0000e8,#0000e4,#0000e8,#0000f2,#0002fc,#000dff,#001aff,#0026ff,#0033ff,#0043ff,#0057ff,#0072ff,#0092ff,#00b4ff,#00cdff)"></i><i style="top:126px;height:2px;background:linear-gradient(90deg,#0080ff,#0059ff,#0037ff,#001dfe,#0010f9,#0008f6,#0003f5,#0001f4,#0001f5,#0003f6,#0007f9,#0010fe,#0026ff,#0047ff,#006fff,#0099ff,#00bbff,#00d1ff,#00daff,#00dcff,#00d4ff,#00bcff,#008eff,#0050ff,#0013fe,#0000e5,#0000cc,#0000c1,#0000be,#0000bd,#0000bd,#0000be,#0000bf,#0000c1,#0000c4,#0000c8,#0000cb,#0000ce,#0000d3,#0000d8,#0000e0,#0000ec,#0002fa,#0010ff,#0028ff,#0043ff,#005fff,#0079ff,#0091ff,#00a3ff,#00aeff,#00b0ff,#00a6ff,#0090ff,#0073ff,#0055ff,#003cff,#0028ff,#001aff,#0010ff,#0009ff,#0003ff,#0000fb,#0000f7,#0000f5,#0000f5,#0000f7,#0005fb,#0012ff,#0031ff,#005dff,#0088ff)"></i><i style="top:128px;height:2px;background:linear-gradient(90deg,#003bff,#0016ff,#0001fb,#0000ee,#0000e8,#0000e6,#0000e6,#0000e6,#0000e6,#0000e7,#0000eb,#0000f3,#0004fe,#001eff,#0042ff,#006cff,#0090ff,#00a8ff,#00b3ff,#00b3ff,#00a9ff,#0090ff,#0066ff,#0030ff,#0004f8,#0000d9,#0000c6,#0000bf,#0000bd,#0000bd,#0000bd,#0000bd,#0000bf,#0000c2,#0000c6,#0000cc,#0000d2,#0000d7,#0000dd,#0000e3,#0000eb,#0000f6,#0005ff,#0015ff,#0028ff,#003bff,#004fff,#0061ff,#0071ff,#007dff,#0085ff,#008aff,#008bff,#0087ff,#007eff,#0072ff,#0063ff,#0051ff,#003bff,#0025ff,#0011ff,#0003fe,#0000fa,#0000f7,#0000f7,#0000f7,#0000f7,#0000f8,#0002fd,#0014ff,#0039ff,#0062ff)"></i><i style="top:130px;height:2px;background:linear-gradient(90deg,#0079ff,#0055ff,#0036ff,#0020ff,#0015fa,#0010f8,#000df7,#000bf6,#000af7,#000bf8,#000dfb,#0015ff,#0029ff,#003cff,#0053ff,#0067ff,#0074ff,#0079ff,#0076ff,#0070ff,#0065ff,#0052ff,#0034ff,#0010fe,#0000ec,#0000d3,#0000c5,#0000bf,#0000bd,#0000bd,#0000bd,#0000be,#0000bf,#0000c2,#0000c6,#0000ca,#0000cf,#0000d3,#0000d7,#0000db,#0000e0,#0000e6,#0000ee,#0001f6,#0007fa,#000dfe,#0016ff,#001fff,#0027ff,#002dff,#0033ff,#0038ff,#003dff,#0041ff,#0044ff,#0047ff,#0048ff,#0046ff,#003eff,#0032ff,#0025ff,#001bff,#0015ff,#0012ff,#0012ff,#0013ff,#0013ff,#0016ff,#001eff,#0030ff,#004fff,#0070ff)"></i><i style="top:132px;height:2px;background:linear-gradient(90deg,#00c4ff,#00b9ff,#00b0ff,#00a8ff,#00a1ff,#009bff,#0093ff,#0089ff,#007bff,#006cff,#0061ff,#008aff,#05c4fa,#01abfe,#005cff,#0044ff,#003eff,#0037ff,#002fff,#0027ff,#001dff,#0011ff,#0006f9,#0000ed,#0000db,#0000cd,#0000c5,#0000c0,#0000be,#0000be,#0000be,#0000be,#0000be,#0000bf,#0000c0,#0000c0,#0000c1,#0000c1,#0000c1,#0000c2,#0000c4,#0000c6,#0000c9,#0000cd,#0000d0,#0000d4,#0000d8,#0000dc,#0000e0,#0000e3,#0000e7,#0000eb,#0000ef,#0003f2,#0006f5,#0009f9,#000dfd,#0015ff,#0020ff,#002aff,#0033ff,#003aff,#003fff,#0044ff,#0047ff,#004aff,#004dff,#0051ff,#0058ff,#0063ff,#0076ff,#0085ff)"></i><i style="top:134px;height:2px;background:linear-gradient(90deg,#00c3ff,#00d0ff,#00e3ff,#09f1f6,#15f8ea,#1dfce2,#20fbdf,#1cf6e3,#11ebee,#02d9fd,#00bfff,#31f6ce,#9fff60,#94ff6b,#20d2df,#002bff,#0009fc,#0004f8,#0001f3,#0000ec,#0000e5,#0000dd,#0000d5,#0000cd,#0000c7,#0000c2,#0000bf,#0000bd,#0000bc,#0000bc,#0000bb,#0000bb,#0000b9,#0000b7,#0000b4,#0000b1,#0000ae,#0000ac,#0000ab,#0000ab,#0000ab,#0000ac,#0000ad,#0000ae,#0000af,#0000b0,#0000b1,#0000b3,#0000b5,#0000b7,#0000b9,#0000bc,#0000c0,#0000c4,#0000cb,#0000d3,#0000df,#0000ef,#0004fd,#0018ff,#002eff,#0043ff,#0056ff,#0065ff,#0070ff,#0076ff,#0079ff,#0079ff,#0078ff,#0076ff,#008dff,#0095ff)"></i><i style="top:136px;height:2px;background:linear-gradient(90deg,#01e4fe,#17fbe8,#43ffbc,#6fff90,#90ff6f,#a4ff5b,#acff53,#a8ff57,#95ff6a,#73ff8c,#4cffb3,#9eff61,#f5fc0a,#f5fe0a,#b8ff47,#0f99f0,#0000e9,#0000d9,#0000d1,#0000cb,#0000c5,#0000bf,#0000bb,#0000b7,#0000b5,#0000b4,#0000b3,#0000b4,#0000b4,#0000b4,#0000b3,#0000b1,#0000af,#0000ab,#0000a8,#0000a5,#0000a2,#0000a1,#0000a0,#0000a0,#0000a0,#0000a0,#0000a0,#0000a1,#0000a1,#0000a1,#0000a2,#0000a3,#0000a4,#0000a5,#0000a6,#0000a8,#0000ab,#0000af,#0000b7,#0000c2,#0000d2,#0000e8,#0005fd,#0020ff,#003eff,#005aff,#0072ff,#0084ff,#0091ff,#0097ff,#0098ff,#0093ff,#008aff,#0081ff,#03c9fc,#04dafb)"></i><i style="top:138px;height:2px;background:linear-gradient(90deg,#3affc5,#7eff81,#b8ff47,#e2fe1d,#f5f30a,#feec01,#ffe600,#ffe800,#faee05,#edf812,#cfff30,#deff21,#ffe400,#ffeb00,#f6fc09,#5ef2a1,#001cef,#0000cc,#0000c2,#0000bc,#0000b7,#0000b3,#0000af,#0000ac,#0000aa,#0000a9,#0000a9,#0000a9,#0000aa,#0000a9,#0000a9,#0000a7,#0000a5,#0000a3,#0000a1,#00009f,#00009f,#00009e,#00009e,#00009e,#00009e,#00009e,#00009e,#00009e,#00009e,#00009e,#00009f,#00009f,#00009f,#0000a0,#0000a1,#0000a2,#0000a5,#0000ab,#0000b5,#0000c4,#0000da,#0002f6,#001aff,#0040ff,#0064ff,#0085ff,#00a0ff,#00b4ff,#00c0ff,#00c5ff,#00c3ff,#00bbff,#00aeff,#00a5ff,#3bf9c4,#50ffaf)"></i><i style="top:140px;height:2px;background:linear-gradient(90deg,#9cff63,#defe21,#fced03,#ffd100,#ffc000,#ffb600,#ffb300,#ffb300,#ffb800,#ffc400,#ffda00,#fef201,#ffdb00,#ffd500,#ffee00,#98ff67,#0053fc,#0000d6,#0000c4,#0000bd,#0000b7,#0000b3,#0000af,#0000ac,#0000a9,#0000a7,#0000a6,#0000a5,#0000a4,#0000a3,#0000a3,#0000a2,#0000a1,#0000a0,#00009f,#00009f,#00009e,#00009e,#00009e,#00009e,#00009e,#00009e,#00009e,#00009e,#00009e,#00009e,#00009f,#00009f,#00009f,#0000a0,#0000a1,#0000a3,#0000a7,#0000af,#0000bc,#0000d1,#0000ee,#0013ff,#003dff,#0069ff,#0092ff,#00b5ff,#00d1ff,#00e4ff,#00efff,#00f3ff,#00f0ff,#00e6ff,#00d7ff,#02d7fd,#8eff71,#a7ff58)"></i><i style="top:142px;height:2px;background:linear-gradient(90deg,#e6fd19,#ffe100,#ffc100,#ffb000,#ffa700,#ffa300,#ffa200,#ffa200,#ffa400,#ffa800,#ffb300,#ffc800,#ffdc00,#ffdd00,#fbf304,#8cff73,#007eff,#0005f4,#0000d7,#0000cb,#0000c5,#0000bf,#0000bb,#0000b6,#0000b3,#0000b0,#0000ad,#0000ab,#0000a9,#0000a7,#0000a6,#0000a4,#0000a3,#0000a3,#0000a2,#0000a1,#0000a1,#0000a1,#0000a1,#0000a0,#0000a0,#0000a0,#0000a1,#0000a1,#0000a1,#0000a2,#0000a2,#0000a3,#0000a4,#0000a5,#0000a7,#0000aa,#0000b0,#0000ba,#0000cb,#0000e5,#000bfd,#0034ff,#0063ff,#0092ff,#00bcff,#00dfff,#02f6fd,#0afff5,#12ffed,#15ffea,#12ffed,#0afff5,#02f9fd,#14f6eb,#c0ff3f,#d2ff2d)"></i><i style="top:144px;height:2px;background:linear-gradient(90deg,#ffe700,#ffc100,#ffad00,#ffa400,#ffa000,#ff9f00,#ff9e00,#ff9e00,#ff9f00,#ffa000,#ffa500,#ffb000,#ffc900,#fff000,#d7ff28,#5cffa3,#00a7ff,#0034ff,#0007f9,#0000ed,#0000e5,#0000de,#0000d8,#0000d3,#0000cd,#0000c9,#0000c5,#0000c1,#0000be,#0000bb,#0000b8,#0000b6,#0000b4,#0000b3,#0000b1,#0000b0,#0000af,#0000af,#0000ae,#0000ae,#0000ae,#0000ae,#0000ae,#0000af,#0000b0,#0000b1,#0000b2,#0000b3,#0000b5,#0000b7,#0000ba,#0000bf,#0000c7,#0000d4,#0000e8,#000afc,#002dff,#005aff,#008aff,#00b8ff,#00dfff,#03fafc,#13ffec,#1fffe0,#25ffda,#27ffd8,#25ffda,#1fffe0,#14ffeb,#32ffcd,#d5ff2a,#e0ff1f)"></i><i style="top:146px;height:2px;background:linear-gradient(90deg,#ffd000,#ffb300,#ffa500,#ffa000,#ff9f00,#ff9e00,#ff9e00,#ff9e00,#ff9e00,#ff9f00,#ffa000,#ffa700,#ffb800,#ffde00,#d9ff26,#6cff93,#07e1f8,#007bff,#003fff,#0029ff,#001fff,#0017ff,#0011fe,#000dfb,#000af8,#0007f5,#0004f3,#0002f1,#0000ee,#0000ea,#0000e6,#0000e3,#0000e0,#0000dd,#0000db,#0000da,#0000d8,#0000d7,#0000d6,#0000d6,#0000d6,#0000d6,#0000d6,#0000d7,#0000d9,#0000da,#0000dc,#0000de,#0000e1,#0000e4,#0000e8,#0000ee,#0004f3,#000bfa,#001bff,#0038ff,#005cff,#0086ff,#00b1ff,#00d8ff,#01f8fe,#12ffed,#21ffde,#29ffd6,#2cffd3,#2dffd2,#2cffd3,#28ffd7,#21ffde,#48ffb7,#ddff22,#e4ff1b)"></i><i style="top:148px;height:2px;background:linear-gradient(90deg,#ffc800,#ffaf00,#ffa300,#ff9f00,#ff9e00,#ff9e00,#ff9e00,#ff9e00,#ff9e00,#ff9e00,#ff9f00,#ffa400,#ffb100,#ffd000,#eefb11,#94ff6b,#26fcd9,#00c0ff,#0088ff,#0073ff,#006bff,#0064ff,#005dff,#0057ff,#0051ff,#004bff,#0046ff,#0040ff,#003cff,#0037ff,#0033ff,#0030ff,#002dff,#002aff,#0027ff,#0025ff,#0023ff,#0022ff,#0021ff,#0021ff,#0021ff,#0021ff,#0021ff,#0023ff,#0024ff,#0026ff,#0028ff,#002bff,#002eff,#0031ff,#0036ff,#003bff,#0044ff,#0050ff,#0061ff,#0078ff,#0095ff,#00b5ff,#00d5ff,#00f2ff,#0bfff4,#1cffe3,#27ffd8,#2cffd3,#2effd1,#2effd1,#2dffd2,#2bffd4,#26ffd9,#52ffad,#dfff20,#e5ff1a)"></i><i style="top:150px;height:2px;background:linear-gradient(90deg,#ffcc00,#ffb100,#ffa400,#ffa000,#ff9e00,#ff9e00,#ff9e00,#ff9e00,#ff9e00,#ff9e00,#ffa000,#ffa500,#ffb200,#ffd000,#f2fa0d,#a4ff5b,#43ffbc,#03effc,#00c6ff,#00b7ff,#00b2ff,#00adff,#00a9ff,#00a5ff,#00a1ff,#009dff,#0099ff,#0095ff,#0092ff,#008eff,#008bff,#0088ff,#0086ff,#0084ff,#0082ff,#0080ff,#007fff,#007eff,#007dff,#007cff,#007cff,#007dff,#007dff,#007eff,#007fff,#0081ff,#0082ff,#0084ff,#0087ff,#008aff,#008dff,#0091ff,#0097ff,#009fff,#00aaff,#00b9ff,#00cbff,#00dfff,#00f4ff,#08fef7,#16ffe9,#21ffde,#28ffd7,#2cffd3,#2dffd2,#2effd1,#2dffd2,#2bffd4,#28ffd7,#52ffad,#ddff22,#e4ff1b)"></i><i style="top:152px;height:2px;background:linear-gradient(90deg,#ffdd00,#ffbb00,#ffaa00,#ffa200,#ffa000,#ff9f00,#ff9e00,#ff9e00,#ff9f00,#ffa000,#ffa200,#ffaa00,#ffbc00,#ffde00,#e5fe1a,#97ff68,#43ffbc,#08fcf7,#00e8ff,#00dfff,#00ddff,#00dbff,#00daff,#00d8ff,#00d6ff,#00d4ff,#00d3ff,#00d1ff,#00cfff,#00ceff,#00cdff,#00cbff,#00caff,#00c9ff,#00c8ff,#00c7ff,#00c6ff,#00c6ff,#00c5ff,#00c5ff,#00c5ff,#00c5ff,#00c5ff,#00c6ff,#00c6ff,#00c7ff,#00c8ff,#00c9ff,#00caff,#00ccff,#00cdff,#00cfff,#00d2ff,#00d6ff,#00dcff,#00e4ff,#00eeff,#00f9ff,#06fff9,#11ffee,#1bffe4,#22ffdd,#27ffd8,#2affd5,#2cffd3,#2cffd3,#2cffd3,#2affd5,#27ffd8,#49ffb6,#d8ff27,#e1ff1e)"></i><i style="top:154px;height:2px;background:linear-gradient(90deg,#f7f708,#ffd300,#ffb900,#ffab00,#ffa500,#ffa200,#ffa100,#ffa100,#ffa200,#ffa500,#ffab00,#ffb900,#ffd300,#f7f708,#bfff40,#72ff8d,#2cffd3,#04fcfb,#00f0ff,#00edff,#00edff,#00ecff,#00ecff,#00ecff,#00ebff,#00ebff,#00eaff,#00eaff,#00e9ff,#00e9ff,#00e9ff,#00e8ff,#00e8ff,#00e8ff,#00e8ff,#00e7ff,#00e7ff,#00e7ff,#00e7ff,#00e7ff,#00e7ff,#00e7ff,#00e7ff,#00e7ff,#00e7ff,#00e7ff,#00e8ff,#00e8ff,#00e8ff,#00e9ff,#00e9ff,#00eaff,#00ebff,#00edff,#00f0ff,#00f4ff,#00faff,#02fffd,#0afff5,#12ffed,#1affe5,#20ffdf,#24ffdb,#27ffd8,#29ffd6,#29ffd6,#28ffd7,#26ffd9,#23ffdc,#3affc5,#c9ff36,#d8ff27)"></i><i style="top:156px;height:2px;background:linear-gradient(90deg,#c7ff38,#f7f808,#ffda00,#ffc300,#ffb600,#ffaf00,#ffac00,#ffac00,#ffaf00,#ffb600,#ffc300,#ffdb00,#f7f808,#c7ff38,#83ff7c,#40ffbf,#0ffff0,#00f7ff,#00f0ff,#00f0ff,#00efff,#00efff,#00efff,#00efff,#00efff,#00efff,#00efff,#00efff,#00efff,#00efff,#00efff,#00efff,#00efff,#00efff,#00efff,#00efff,#00efff,#00efff,#00efff,#00efff,#00efff,#00efff,#00efff,#00efff,#00efff,#00efff,#00efff,#00efff,#00efff,#00efff,#00efff,#00efff,#00f0ff,#00f1ff,#00f3ff,#00f6ff,#00faff,#01fefe,#07fff8,#0efff1,#14ffeb,#1affe5,#1effe1,#21ffde,#23ffdc,#23ffdc,#22ffdd,#20ffdf,#1dffe2,#27ffd8,#aaff55,#bdff42)"></i><i style="top:158px;height:2px;background:linear-gradient(90deg,#7aff85,#b3ff4c,#e2fe1d,#f9f306,#ffe200,#ffd400,#ffce00,#ffce00,#ffd400,#ffe200,#f9f306,#e2fe1d,#b3ff4c,#7aff85,#40ffbf,#13ffec,#01f9fe,#00f1ff,#00f0ff,#00f0ff,#00f0ff,#00f0ff,#00f0ff,#00f0ff,#00f0ff,#00f0ff,#00f0ff,#00f0ff,#00f0ff,#00f0ff,#00f0ff,#00f0ff,#00f0ff,#00f0ff,#00f1ff,#00f2ff,#00f4ff,#00f7ff,#02f8fd,#05f8fa,#09f9f6,#0cf9f3,#0ffaf0,#11faee,#12faed,#13fbec,#12faed,#11faee,#0efaf1,#0bf9f4,#08f9f7,#04f8fb,#01f8fe,#00f7ff,#00f5ff,#00f6ff,#00f8ff,#00fcff,#02fffd,#07fff8,#0dfff2,#12ffed,#16ffe9,#19ffe6,#1bffe4,#1bffe4,#1affe5,#18ffe7,#15ffea,#16ffe9,#76ff89,#8aff75)"></i><i style="top:160px;height:2px;background:linear-gradient(90deg,#2effd1,#58ffa7,#83ff7c,#a8ff57,#c4ff3b,#d6ff29,#deff21,#deff21,#d5ff2a,#c3ff3c,#a7ff58,#82ff7d,#58ffa7,#2effd1,#0efff1,#01fafe,#00f3ff,#00f1ff,#00f0ff,#00f0ff,#00f0ff,#00f0ff,#00f0ff,#00f0ff,#00f0ff,#00f0ff,#00f1ff,#00f1ff,#00f2ff,#00f4ff,#00f6ff,#02f9fd,#08fbf7,#10feef,#1effe1,#30ffcf,#44ffbb,#58ffa7,#6bff94,#7cff83,#8bff74,#97ff68,#a0ff5f,#a6ff59,#a9ff56,#aaff55,#a8ff57,#a4ff5b,#9dff62,#93ff6c,#86ff79,#76ff89,#63ff9c,#4fffb0,#3bffc4,#27ffd8,#17ffe8,#0cfff3,#06fff9,#05fffa,#06fff9,#0afff5,#0dfff2,#0ffff0,#11ffee,#11ffee,#10ffef,#0efff1,#0cfff3,#09fff6,#39ffc6,#45ffba)"></i><i style="top:162px;height:2px;background:linear-gradient(90deg,#0afff5,#1affe5,#2effd1,#41ffbe,#51ffae,#5bffa4,#60ff9f,#60ff9f,#5affa5,#4fffb0,#40ffbf,#2effd1,#1dffe2,#0ffff0,#06fff9,#03fdfc,#02fbfd,#01fbfe,#00f9ff,#00f7ff,#00f6ff,#00f5ff,#00f4ff,#00f5ff,#00f6ff,#00f8ff,#01fafe,#03fcfc,#08fef7,#12ffed,#22ffdd,#37ffc8,#52ffad,#6fff90,#8bff74,#a6ff59,#bcff43,#ceff31,#dbff24,#e5ff1a,#ecff13,#f0ff0f,#f3ff0c,#f5ff0a,#f5ff0a,#f5ff0a,#f5ff0a,#f4ff0b,#f2ff0d,#efff10,#e9ff16,#e1ff1e,#d5ff2a,#c3ff3c,#adff52,#90ff6f,#70ff8f,#50ffaf,#33ffcc,#1dffe2,#0ffff0,#08fff7,#06fff9,#06fff9,#07fff8,#07fff8,#07fff8,#05fffa,#03fffc,#01fefe,#0dfff2,#0ffff0)"></i><i style="top:164px;height:2px;background:linear-gradient(90deg,#16ffe9,#1bffe4,#20ffdf,#25ffda,#29ffd6,#2bffd4,#2cffd3,#2cffd3,#2cffd3,#2affd5,#29ffd6,#26ffd9,#23ffdc,#21ffde,#1effe1,#1affe5,#17ffe8,#13ffec,#0ffff0,#0bfff4,#08fff7,#06fff9,#06fff9,#08fff7,#0dfff2,#15ffea,#20ffdf,#2dffd2,#3cffc3,#50ffaf,#67ff98,#81ff7e,#9aff65,#b2ff4d,#c7ff38,#d7ff28,#e4ff1b,#edff12,#f2ff0d,#f6ff09,#f8ff07,#f9ff06,#faff05,#faff05,#faff05,#faff05,#faff05,#faff05,#faff05,#f9ff06,#f7ff08,#f4ff0b,#edff12,#e2ff1d,#d1ff2e,#b9ff46,#9bff64,#78ff87,#54ffab,#33ffcc,#1affe5,#0afff5,#02fffd,#01fefe,#00fdff,#00fdff,#00fdff,#00fcff,#00faff,#00f9ff,#00f9ff,#00f8ff)"></i><i style="top:166px;height:2px;background:linear-gradient(90deg,#21ffde,#24ffdb,#28ffd7,#2affd5,#2cffd3,#2dffd2,#2dffd2,#2effd1,#2effd1,#2effd1,#2effd1,#2dffd2,#2cffd3,#2bffd4,#28ffd7,#26ffd9,#22ffdd,#1effe1,#1affe5,#17ffe8,#16ffe9,#18ffe7,#1fffe0,#2affd5,#3affc5,#4dffb2,#62ff9d,#78ff87,#8dff72,#a0ff5f,#b2ff4d,#c1ff3e,#ceff31,#d8ff27,#dfff20,#e4ff1b,#e9ff16,#ecff13,#efff10,#f1ff0e,#f3ff0c,#f4ff0b,#f5ff0a,#f6ff09,#f6ff09,#f6ff09,#f5ff0a,#f4ff0b,#f2ff0d,#efff10,#e9ff16,#e1ff1e,#d5ff2a,#c4ff3b,#aeff51,#92ff6d,#73ff8c,#52ffad,#33ffcc,#1affe5,#08fff7,#01fcfe,#00f8ff,#00f7ff,#00f6ff,#00f6ff,#00f6ff,#00f6ff,#00f5ff,#00f4ff,#00f3ff,#00f2ff)"></i><i style="top:168px;height:2px;background:linear-gradient(90deg,#15ffea,#19ffe6,#1dffe2,#1fffe0,#22ffdd,#23ffdc,#25ffda,#25ffda,#26ffd9,#26ffd9,#25ffda,#24ffdb,#22ffdd,#20ffdf,#1effe1,#1bffe4,#18ffe7,#16ffe9,#16ffe9,#1affe5,#23ffdc,#32ffcd,#48ffb7,#62ff9d,#80ff7f,#9fff60,#bcff43,#d6ff29,#eafc15,#f3f40c,#faee05,#ffe900,#ffe400,#ffe300,#ffe500,#ffea00,#fdef02,#faf505,#f7fb08,#f3ff0c,#eaff15,#e2ff1d,#dbff24,#d3ff2c,#cbff34,#c3ff3c,#b9ff46,#afff50,#a4ff5b,#96ff69,#88ff77,#77ff88,#64ff9b,#50ffaf,#3bffc4,#26ffd9,#15feea,#0af8f5,#02f0fd,#00e1ff,#00d1ff,#00c1ff,#00b2ff,#00a8ff,#00a1ff,#009fff,#00a3ff,#00abff,#00b7ff,#00c5ff,#00d4ff,#00deff)"></i><i style="top:170px;height:2px;background:linear-gradient(90deg,#01fbfe,#03fcfc,#04fdfb,#05fefa,#07fff8,#09fff6,#0bfff4,#0cfff3,#0dfff2,#0efff1,#0efff1,#0dfff2,#0cfff3,#0afff5,#09fff6,#08fff7,#0afff5,#0ffff0,#1bffe4,#2effd1,#49ffb6,#6aff95,#8eff71,#b4ff4b,#d7ff28,#f1f90e,#feea01,#ffd500,#ffc400,#ffb600,#ffad00,#ffa600,#ffa200,#ffa100,#ffa200,#ffa500,#ffab00,#ffb400,#ffc000,#ffd000,#ffe300,#f9f406,#e9fe16,#ccff33,#abff54,#8aff75,#68ff97,#4affb5,#30ffcf,#1bffe4,#0dfff2,#06fbf9,#01f9fe,#00f6ff,#00f2ff,#00ecff,#00dfff,#00c5ff,#00a2ff,#007aff,#0057ff,#003dff,#002dff,#0025ff,#0021ff,#0020ff,#0022ff,#0027ff,#0031ff,#0044ff,#0061ff,#0080ff)"></i><i style="top:172px;height:2px;background:linear-gradient(90deg,#00faff,#04fcfb,#08fdf7,#0dfff2,#15ffea,#1cffe3,#23ffdc,#2affd5,#30ffcf,#35ffca,#38ffc7,#39ffc6,#39ffc6,#38ffc7,#36ffc9,#36ffc9,#39ffc6,#43ffbc,#54ffab,#6eff91,#8eff71,#b3ff4c,#d9ff26,#f6f809,#ffe100,#ffc700,#ffb200,#ffa200,#ff9700,#ff8e00,#ff8900,#ff8500,#ff8300,#ff8300,#ff8300,#ff8400,#ff8700,#ff8c00,#ff9300,#ff9e00,#ffac00,#ffbf00,#ffd800,#fbf304,#e2ff1d,#b9ff46,#8eff71,#64ff9b,#3fffc0,#22ffdd,#0efff1,#05fdfa,#03fbfc,#03fafc,#05f9fa,#05f6fa,#03effc,#00dbff,#00baff,#0094ff,#0072ff,#0057ff,#0044ff,#0038ff,#0031ff,#002cff,#002aff,#002cff,#0034ff,#0046ff,#0062ff,#0080ff)"></i><i style="top:174px;height:2px;background:linear-gradient(90deg,#2fffd0,#42ffbd,#55ffaa,#68ff97,#7bff84,#8cff73,#9bff64,#a8ff57,#b2ff4d,#baff45,#bfff40,#c2ff3d,#c2ff3d,#c0ff3f,#bdff42,#baff45,#b9ff46,#bcff43,#c4ff3b,#d3ff2c,#e7fe18,#f6f609,#ffe500,#ffcc00,#ffb600,#ffa300,#ff9400,#ff8a00,#ff8200,#ff7e00,#ff7b00,#ff7900,#ff7800,#ff7800,#ff7800,#ff7900,#ff7a00,#ff7c00,#ff8000,#ff8600,#ff9000,#ff9d00,#ffb100,#ffca00,#ffeb00,#ecfe13,#c3ff3c,#9aff65,#77ff88,#5dffa2,#4effb1,#4affb5,#4effb1,#57ffa8,#62ff9d,#6bff94,#71ff8e,#74ff8b,#72ff8d,#69ff96,#5bffa4,#4afeb5,#3ff5c0,#36e8c9,#2cddd3,#22d5dd,#19d0e6,#11cfee,#0ad1f5,#05d8fa,#01e1fe,#00e7ff)"></i><i style="top:176px;height:2px;background:linear-gradient(90deg,#93ff6c,#afff50,#caff35,#e0fe1f,#edf712,#f6f009,#fdea02,#ffe100,#ffd900,#ffd300,#ffd000,#ffce00,#ffce00,#ffcf00,#ffd200,#ffd500,#ffd800,#ffda00,#ffda00,#ffd700,#ffd000,#ffc700,#ffbb00,#ffae00,#ffa100,#ff9500,#ff8b00,#ff8300,#ff7d00,#ff7a00,#ff7800,#ff7600,#ff7600,#ff7600,#ff7600,#ff7600,#ff7600,#ff7700,#ff7900,#ff7d00,#ff8300,#ff8d00,#ff9c00,#ffb000,#ffca00,#ffe800,#f5fc0a,#dfff20,#ccff33,#c4ff3b,#c6ff39,#cfff30,#dcff23,#e4f91b,#ebf314,#f1ef0e,#f5eb0a,#f8ea07,#f9e906,#f8e907,#f6eb09,#f2ed0d,#edf212,#e6f819,#dcfe23,#c9ff36,#b1ff4e,#97ff68,#7aff85,#5dffa2,#42ffbd,#2dffd2)"></i><i style="top:178px;height:2px;background:linear-gradient(90deg,#ebfe14,#fbf304,#ffe200,#ffd000,#ffc300,#ffb900,#ffb200,#ffad00,#ffaa00,#ffa700,#ffa600,#ffa500,#ffa500,#ffa600,#ffa700,#ffa900,#ffab00,#ffad00,#ffaf00,#ffb000,#ffaf00,#ffad00,#ffa900,#ffa300,#ff9c00,#ff9400,#ff8c00,#ff8600,#ff8000,#ff7c00,#ff7900,#ff7700,#ff7600,#ff7600,#ff7500,#ff7500,#ff7500,#ff7600,#ff7700,#ff7a00,#ff7f00,#ff8700,#ff9400,#ffa400,#ffb800,#ffcb00,#ffdb00,#ffe500,#ffe800,#ffe400,#ffdb00,#ffd000,#ffc600,#ffbd00,#ffb600,#ffb100,#ffae00,#ffac00,#ffab00,#ffab00,#ffad00,#ffb000,#ffb400,#ffbb00,#ffc400,#ffd100,#ffe200,#f8f207,#e8fd17,#c9ff36,#a4ff5b,#84ff7b)"></i><i style="top:180px;height:2px;background:linear-gradient(90deg,#ffe200,#ffcd00,#ffbd00,#ffb200,#ffaa00,#ffa500,#ffa200,#ffa000,#ff9f00,#ff9f00,#ff9f00,#ff9e00,#ff9e00,#ff9f00,#ff9f00,#ff9f00,#ffa000,#ffa100,#ffa200,#ffa400,#ffa500,#ffa500,#ffa400,#ffa100,#ff9c00,#ff9700,#ff9100,#ff8a00,#ff8500,#ff8000,#ff7c00,#ff7900,#ff7700,#ff7600,#ff7600,#ff7500,#ff7600,#ff7600,#ff7700,#ff7a00,#ff8000,#ff8900,#ff9500,#ffa300,#ffb200,#ffbe00,#ffc600,#ffc800,#ffc400,#ffbd00,#ffb500,#ffae00,#ffa800,#ffa400,#ffa100,#ffa000,#ff9f00,#ff9f00,#ff9f00,#ff9f00,#ff9f00,#ffa000,#ffa100,#ffa300,#ffa700,#ffad00,#ffb600,#ffc500,#ffd900,#fdf202,#e8ff17,#c7ff38)"></i><i style="top:182px;height:2px;background:linear-gradient(90deg,#ffd400,#ffc200,#ffb400,#ffab00,#ffa500,#ffa200,#ffa000,#ff9f00,#ff9e00,#ff9e00,#ff9e00,#ff9e00,#ff9e00,#ff9e00,#ff9e00,#ff9e00,#ff9f00,#ff9f00,#ffa000,#ffa200,#ffa300,#ffa400,#ffa400,#ffa200,#ff9f00,#ff9a00,#ff9400,#ff8e00,#ff8800,#ff8200,#ff7e00,#ff7a00,#ff7800,#ff7700,#ff7600,#ff7600,#ff7600,#ff7700,#ff7900,#ff7e00,#ff8500,#ff8f00,#ff9c00,#ffaa00,#ffb700,#ffc100,#ffc400,#ffc300,#ffbd00,#ffb500,#ffad00,#ffa700,#ffa300,#ffa000,#ff9f00,#ff9e00,#ff9e00,#ff9e00,#ff9e00,#ff9e00,#ff9e00,#ff9e00,#ff9f00,#ffa000,#ffa200,#ffa600,#ffad00,#ffb800,#ffc900,#ffe100,#fafc05,#deff21)"></i><i style="top:184px;height:2px;background:linear-gradient(90deg,#ffe200,#ffcd00,#ffbd00,#ffb200,#ffaa00,#ffa500,#ffa200,#ffa000,#ff9f00,#ff9f00,#ff9f00,#ff9e00,#ff9e00,#ff9f00,#ff9f00,#ff9f00,#ffa000,#ffa100,#ffa300,#ffa600,#ffa800,#ffa900,#ffaa00,#ffa800,#ffa500,#ffa000,#ff9900,#ff9200,#ff8b00,#ff8500,#ff8000,#ff7c00,#ff7a00,#ff7900,#ff7800,#ff7900,#ff7a00,#ff7c00,#ff8000,#ff8700,#ff9000,#ff9d00,#ffad00,#ffbe00,#ffcc00,#ffd600,#ffd900,#ffd500,#ffcd00,#ffc200,#ffb700,#ffae00,#ffa800,#ffa400,#ffa100,#ffa000,#ff9f00,#ff9f00,#ff9f00,#ff9f00,#ff9f00,#ffa000,#ffa100,#ffa300,#ffa700,#ffad00,#ffb600,#ffc500,#ffd900,#fdf202,#e8ff17,#c7ff38)"></i><i style="top:186px;height:2px;background:linear-gradient(90deg,#ebfe14,#fbf304,#ffe200,#ffd000,#ffc300,#ffb900,#ffb200,#ffad00,#ffaa00,#ffa700,#ffa600,#ffa500,#ffa500,#ffa600,#ffa700,#ffa900,#ffac00,#ffb000,#ffb400,#ffb900,#ffbd00,#ffc000,#ffc000,#ffbe00,#ffba00,#ffb300,#ffaa00,#ffa100,#ff9800,#ff9100,#ff8b00,#ff8700,#ff8400,#ff8300,#ff8300,#ff8400,#ff8700,#ff8c00,#ff9300,#ff9e00,#ffac00,#ffbe00,#ffd300,#ffe900,#f7f608,#effc10,#ebfe14,#edfc12,#f2f70d,#faf005,#ffe400,#ffd400,#ffc700,#ffbd00,#ffb600,#ffb100,#ffae00,#ffac00,#ffab00,#ffab00,#ffad00,#ffb000,#ffb400,#ffbb00,#ffc400,#ffd100,#ffe200,#f8f207,#e8fd17,#c9ff36,#a4ff5b,#84ff7b)"></i><i style="top:188px;height:1px;background:linear-gradient(90deg,#adff52,#cbff34,#e5ff1a,#fafe05,#fff000,#ffe100,#ffd500,#ffcc00,#ffc500,#ffc100,#ffbe00,#ffbc00,#ffbc00,#ffbe00,#ffc100,#ffc500,#ffcb00,#ffd200,#ffd900,#ffe100,#ffe600,#ffea00,#ffea00,#ffe600,#ffdf00,#ffd500,#ffc900,#ffbd00,#ffb100,#ffa700,#ffa000,#ff9a00,#ff9700,#ff9600,#ff9600,#ff9900,#ff9e00,#ffa500,#ffaf00,#ffbe00,#ffd000,#ffe700,#fafd05,#e0ff1f,#c6ff39,#b1ff4e,#a5ff5a,#a3ff5c,#acff53,#bcff43,#d1ff2e,#e6ff19,#f9ff06,#fff500,#ffe800,#ffde00,#ffd800,#ffd400,#ffd200,#ffd300,#ffd600,#ffdc00,#ffe400,#fff000,#fdfd02,#ebff14,#d4ff2b,#b9ff46,#9aff65,#7aff85,#59ffa6,#40ffbf)"></i></div>
<svg style="left:404px;top:21px" width="215" height="189" viewBox="0 0 215 189"><path d="M97.8 0.5L98.4 2.5L98.6 3.5L98.6 5.5L98.5 7.0L98.0 8.5L97.5 10.1L96.5 11.1L94.7 10.5L94.2 9.5L93.5 7.6L93.4 6.5L93.3 4.5L93.5 2.5L93.8 1.5 M142.5 10.1L140.9 9.5L140.4 8.5L140.1 6.5L140.2 4.5L140.5 3.0L141.5 1.9L143.1 2.5L143.6 3.5L143.9 5.5L143.8 7.5L143.5 9.0L142.5 10.1 M70.5 34.0L68.5 34.3L66.8 33.5L65.9 32.5L65.2 31.5L64.5 29.9L64.2 28.5L64.0 26.5L64.1 24.5L64.4 22.5L64.7 21.5L65.5 19.8L66.5 18.6L67.5 17.9L69.5 17.5L71.4 18.5L72.3 19.5L72.8 20.5L73.5 22.0L73.8 23.5L74.0 25.5L73.9 27.5L73.6 29.5L73.3 30.5L72.5 32.1L71.5 33.3L70.5 34.0 M126.5 49.6L124.5 49.9L122.5 49.8L121.4 49.5L119.5 48.6L118.5 47.8L117.5 46.9L116.5 45.7L115.7 44.5L115.1 43.5L114.5 42.2L113.9 40.5L113.5 39.0L113.2 37.5L113.0 35.5L113.0 33.5L113.1 31.5L113.4 29.5L113.6 28.5L114.3 26.5L114.6 25.5L115.5 23.8L116.4 22.5L117.2 21.5L118.2 20.5L119.4 19.5L120.5 18.8L121.5 18.4L123.5 18.0L125.5 18.1L126.8 18.5L128.5 19.4L129.5 20.1L130.5 21.1L131.5 22.2L132.3 23.5L132.9 24.5L133.5 25.8L134.1 27.5L134.5 29.0L134.8 30.5L135.0 32.5L135.0 34.5L134.9 36.5L134.6 38.5L134.4 39.5L133.7 41.5L133.4 42.5L132.5 44.2L131.7 45.5L130.9 46.5L129.9 47.5L128.7 48.5L127.5 49.2L126.5 49.6 M11.5 44.8L9.5 45.4L7.5 45.2L5.9 44.5L4.7 43.5L3.9 42.5L3.3 41.5L2.5 39.5L2.3 38.5L2.3 36.5L2.5 34.5L2.9 33.5L3.5 32.0L4.5 30.7L5.5 29.8L6.5 29.2L8.5 28.6L10.5 28.8L12.1 29.5L13.3 30.5L14.1 31.5L14.7 32.5L15.5 34.5L15.7 35.5L15.7 37.5L15.5 39.4L15.1 40.5L14.5 41.9L13.5 43.3L12.5 44.2L11.5 44.8 M135.5 77.6L133.5 77.6L132.0 77.5L130.5 77.1L129.1 76.5L127.5 75.5L126.5 74.5L125.8 73.5L125.3 72.5L124.8 70.5L125.0 68.5L125.5 67.0L126.5 65.5L127.5 64.5L128.5 63.9L129.5 63.3L131.5 62.6L132.5 62.4L134.5 62.3L136.1 62.5L137.5 62.9L139.0 63.5L140.5 64.5L141.5 65.4L142.3 66.5L142.8 67.5L143.2 69.5L143.0 71.5L142.5 73.0L141.5 74.5L140.5 75.4L139.5 76.1L138.5 76.7L136.5 77.4L135.5 77.6" fill="none" stroke="#140500" stroke-width="1.3" stroke-linejoin="round"/><g filter="url(#bl)"><use href="#ar" transform="translate(18.8 4.0) rotate(110)"/><use href="#ar" transform="translate(85.4 4.0) rotate(110)"/><use href="#ar" transform="translate(92.8 4.0) rotate(110)"/><use href="#ar" transform="translate(122.4 4.0) rotate(110)"/><use href="#ar" transform="translate(144.6 4.0) rotate(110)"/><use href="#ar" transform="translate(152.0 4.0) rotate(110)"/><use href="#ar" transform="translate(174.2 4.0) rotate(110)"/><use href="#ar" transform="translate(196.4 4.0) rotate(110)"/><use href="#ar" transform="translate(203.8 4.0) rotate(110)"/><use href="#ar" transform="translate(18.8 10.3) rotate(110)"/><use href="#ar" transform="translate(85.4 10.3) rotate(110)"/><use href="#ar" transform="translate(122.4 10.3) rotate(110)"/><use href="#ar" transform="translate(144.6 10.3) rotate(110)"/><use href="#ar" transform="translate(152.0 10.3) rotate(110)"/><use href="#ar" transform="translate(174.2 10.3) rotate(110)"/><use href="#ar" transform="translate(33.6 16.6) rotate(110)"/><use href="#ar" transform="translate(70.6 16.6) rotate(110)"/><use href="#ar" transform="translate(85.4 16.6) rotate(110)"/><use href="#ar" transform="translate(122.4 16.6) rotate(110)"/><use href="#ar" transform="translate(129.8 16.6) rotate(110)"/><use href="#ar" transform="translate(33.6 22.9) rotate(110)"/><use href="#ar" transform="translate(41.0 22.9) rotate(110)"/><use href="#ar" transform="translate(63.2 22.9) rotate(110)"/><use href="#ar" transform="translate(70.6 22.9) rotate(110)"/><use href="#ar" transform="translate(85.4 22.9) rotate(110)"/><use href="#ar" transform="translate(92.8 22.9) rotate(110)"/><use href="#ar" transform="translate(115.0 22.9) rotate(110)"/><use href="#ar" transform="translate(122.4 22.9) rotate(110)"/><use href="#ar" transform="translate(129.8 22.9) rotate(110)"/><use href="#ar" transform="translate(166.8 22.9) rotate(110)"/><use href="#ar" transform="translate(174.2 22.9) rotate(110)"/><use href="#ar" transform="translate(4.0 29.2) rotate(110)"/><use href="#ar" transform="translate(11.4 29.2) rotate(110)"/><use href="#ar" transform="translate(33.6 29.2) rotate(110)"/><use href="#ar" transform="translate(63.2 29.2) rotate(110)"/><use href="#ar" transform="translate(70.6 29.2) rotate(110)"/><use href="#ar" transform="translate(115.0 29.2) rotate(110)"/><use href="#ar" transform="translate(122.4 29.2) rotate(110)"/><use href="#ar" transform="translate(129.8 29.2) rotate(110)"/><use href="#ar" transform="translate(137.2 29.2) rotate(110)"/><use href="#ar" transform="translate(166.8 29.2) rotate(110)"/><use href="#ar" transform="translate(174.2 29.2) rotate(110)"/><use href="#ar" transform="translate(4.0 35.5) rotate(110)"/><use href="#ar" transform="translate(11.4 35.5) rotate(110)"/><use href="#ar" transform="translate(33.6 35.5) rotate(110)"/><use href="#ar" transform="translate(70.6 35.5) rotate(110)"/><use href="#ar" transform="translate(115.0 35.5) rotate(110)"/><use href="#ar" transform="translate(122.4 35.5) rotate(110)"/><use href="#ar" transform="translate(129.8 35.5) rotate(110)"/><use href="#ar" transform="translate(137.2 35.5) rotate(110)"/><use href="#ar" transform="translate(166.8 35.5) rotate(110)"/><use href="#ar" transform="translate(174.2 35.5) rotate(110)"/><use href="#ar" transform="translate(4.0 41.8) rotate(110)"/><use href="#ar" transform="translate(11.4 41.8) rotate(110)"/><use href="#ar" transform="translate(33.6 41.8) rotate(110)"/><use href="#ar" transform="translate(115.0 41.8) rotate(110)"/><use href="#ar" transform="translate(122.4 41.8) rotate(110)"/><use href="#ar" transform="translate(129.8 41.8) rotate(110)"/><use href="#ar" transform="translate(137.2 41.8) rotate(110)"/><use href="#ar" transform="translate(166.8 41.8) rotate(110)"/><use href="#ar" transform="translate(33.6 48.1) rotate(110)"/><use href="#ar" transform="translate(55.8 48.1) rotate(110)"/><use href="#ar" transform="translate(115.0 48.1) rotate(110)"/><use href="#ar" transform="translate(122.4 48.1) rotate(110)"/><use href="#ar" transform="translate(129.8 48.1) rotate(110)"/><use href="#ar" transform="translate(189.0 48.1) rotate(110)"/><use href="#ar" transform="translate(196.4 48.1) rotate(110)"/><use href="#ar" transform="translate(55.8 54.4) rotate(110)"/><use href="#ar" transform="translate(122.4 54.4) rotate(110)"/><use href="#ar" transform="translate(166.8 54.4) rotate(110)"/><use href="#ar" transform="translate(174.2 54.4) rotate(110)"/><use href="#ar" transform="translate(129.8 60.7) rotate(110)"/><use href="#ar" transform="translate(137.2 60.7) rotate(110)"/><use href="#ar" transform="translate(166.8 60.7) rotate(110)"/><use href="#ar" transform="translate(174.2 60.7) rotate(110)"/><use href="#ar" transform="translate(129.8 67.0) rotate(110)"/><use href="#ar" transform="translate(137.2 67.0) rotate(110)"/><use href="#ar" transform="translate(144.6 67.0) rotate(110)"/><use href="#ar" transform="translate(211.2 67.0) rotate(110)"/><use href="#ar" transform="translate(122.4 73.3) rotate(110)"/><use href="#ar" transform="translate(129.8 73.3) rotate(110)"/><use href="#ar" transform="translate(137.2 73.3) rotate(110)"/><use href="#ar" transform="translate(144.6 73.3) rotate(110)"/><use href="#ar" transform="translate(211.2 73.3) rotate(110)"/><use href="#ar" transform="translate(129.8 79.6) rotate(110)"/><use href="#ar" transform="translate(137.2 79.6) rotate(110)"/><use href="#ar" transform="translate(4.0 85.9) rotate(110)"/><use href="#ar" transform="translate(63.2 92.2) rotate(110)"/><use href="#ar" transform="translate(70.6 92.2) rotate(110)"/><use href="#ar" transform="translate(78.0 92.2) rotate(110)"/><use href="#ar" transform="translate(85.4 92.2) rotate(110)"/><use href="#ar" transform="translate(92.8 92.2) rotate(110)"/><use href="#ar" transform="translate(100.2 92.2) rotate(110)"/><use href="#ar" transform="translate(55.8 98.5) rotate(110)"/><use href="#ar" transform="translate(63.2 98.5) rotate(110)"/><use href="#ar" transform="translate(70.6 98.5) rotate(110)"/><use href="#ar" transform="translate(78.0 98.5) rotate(110)"/><use href="#ar" transform="translate(85.4 98.5) rotate(110)"/><use href="#ar" transform="translate(92.8 98.5) rotate(110)"/><use href="#ar" transform="translate(100.2 98.5) rotate(110)"/><use href="#ar" transform="translate(107.6 98.5) rotate(110)"/><use href="#ar" transform="translate(152.0 98.5) rotate(110)"/><use href="#ar" transform="translate(159.4 98.5) rotate(110)"/><use href="#ar" transform="translate(166.8 98.5) rotate(110)"/><use href="#ar" transform="translate(55.8 104.8) rotate(110)"/><use href="#ar" transform="translate(63.2 104.8) rotate(110)"/><use href="#ar" transform="translate(70.6 104.8) rotate(110)"/><use href="#ar" transform="translate(78.0 104.8) rotate(110)"/><use href="#ar" transform="translate(85.4 104.8) rotate(110)"/><use href="#ar" transform="translate(92.8 104.8) rotate(110)"/><use href="#ar" transform="translate(100.2 104.8) rotate(110)"/><use href="#ar" transform="translate(152.0 104.8) rotate(110)"/><use href="#ar" transform="translate(159.4 104.8) rotate(110)"/><use href="#ar" transform="translate(166.8 104.8) rotate(110)"/><use href="#ar" transform="translate(174.2 104.8) rotate(110)"/><use href="#ar" transform="translate(18.8 136.3) rotate(110)"/><use href="#ar" transform="translate(41.0 136.3) rotate(110)"/><use href="#ar" transform="translate(4.0 142.6) rotate(110)"/><use href="#ar" transform="translate(11.4 142.6) rotate(110)"/><use href="#ar" transform="translate(18.8 142.6) rotate(110)"/><use href="#ar" transform="translate(26.2 142.6) rotate(110)"/><use href="#ar" transform="translate(33.6 142.6) rotate(110)"/><use href="#ar" transform="translate(41.0 142.6) rotate(110)"/><use href="#ar" transform="translate(211.2 142.6) rotate(110)"/><use href="#ar" transform="translate(4.0 148.9) rotate(110)"/><use href="#ar" transform="translate(11.4 148.9) rotate(110)"/><use href="#ar" transform="translate(18.8 148.9) rotate(110)"/><use href="#ar" transform="translate(26.2 148.9) rotate(110)"/><use href="#ar" transform="translate(33.6 148.9) rotate(110)"/><use href="#ar" transform="translate(41.0 148.9) rotate(110)"/><use href="#ar" transform="translate(211.2 148.9) rotate(110)"/><use href="#ar" transform="translate(4.0 155.2) rotate(110)"/><use href="#ar" transform="translate(11.4 155.2) rotate(110)"/><use href="#ar" transform="translate(18.8 155.2) rotate(110)"/><use href="#ar" transform="translate(26.2 155.2) rotate(110)"/><use href="#ar" transform="translate(33.6 155.2) rotate(110)"/><use href="#ar" transform="translate(41.0 155.2) rotate(110)"/><use href="#ar" transform="translate(211.2 155.2) rotate(110)"/><use href="#ar" transform="translate(11.4 161.5) rotate(110)"/><use href="#ar" transform="translate(18.8 161.5) rotate(110)"/><use href="#ar" transform="translate(26.2 161.5) rotate(110)"/><use href="#ar" transform="translate(115.0 161.5) rotate(110)"/><use href="#ar" transform="translate(122.4 161.5) rotate(110)"/><use href="#ar" transform="translate(129.8 161.5) rotate(110)"/><use href="#ar" transform="translate(137.2 161.5) rotate(110)"/><use href="#ar" transform="translate(144.6 161.5) rotate(110)"/><use href="#ar" transform="translate(152.0 161.5) rotate(110)"/><use href="#ar" transform="translate(85.4 167.8) rotate(110)"/><use href="#ar" transform="translate(92.8 167.8) rotate(110)"/><use href="#ar" transform="translate(100.2 167.8) rotate(110)"/><use href="#ar" transform="translate(107.6 167.8) rotate(110)"/><use href="#ar" transform="translate(115.0 167.8) rotate(110)"/><use href="#ar" transform="translate(122.4 167.8) rotate(110)"/><use href="#ar" transform="translate(129.8 167.8) rotate(110)"/><use href="#ar" transform="translate(137.2 167.8) rotate(110)"/><use href="#ar" transform="translate(144.6 167.8) rotate(110)"/><use href="#ar" transform="translate(152.0 167.8) rotate(110)"/><use href="#ar" transform="translate(159.4 167.8) rotate(110)"/><use href="#ar" transform="translate(26.2 174.1) rotate(110)"/><use href="#ar" transform="translate(33.6 174.1) rotate(110)"/><use href="#ar" transform="translate(41.0 174.1) rotate(110)"/><use href="#ar" transform="translate(48.4 174.1) rotate(110)"/><use href="#ar" transform="translate(55.8 174.1) rotate(110)"/><use href="#ar" transform="translate(63.2 174.1) rotate(110)"/><use href="#ar" transform="translate(70.6 174.1) rotate(110)"/><use href="#ar" transform="translate(78.0 174.1) rotate(110)"/><use href="#ar" transform="translate(85.4 174.1) rotate(110)"/><use href="#ar" transform="translate(92.8 174.1) rotate(110)"/><use href="#ar" transform="translate(100.2 174.1) rotate(110)"/><use href="#ar" transform="translate(107.6 174.1) rotate(110)"/><use href="#ar" transform="translate(115.0 174.1) rotate(110)"/><use href="#ar" transform="translate(122.4 174.1) rotate(110)"/><use href="#ar" transform="translate(129.8 174.1) rotate(110)"/><use href="#ar" transform="translate(137.2 174.1) rotate(110)"/><use href="#ar" transform="translate(4.0 180.4) rotate(110)"/><use href="#ar" transform="translate(11.4 180.4) rotate(110)"/><use href="#ar" transform="translate(18.8 180.4) rotate(110)"/><use href="#ar" transform="translate(26.2 180.4) rotate(110)"/><use href="#ar" transform="translate(33.6 180.4) rotate(110)"/><use href="#ar" transform="translate(41.0 180.4) rotate(110)"/><use href="#ar" transform="translate(48.4 180.4) rotate(110)"/><use href="#ar" transform="translate(55.8 180.4) rotate(110)"/><use href="#ar" transform="translate(63.2 180.4) rotate(110)"/><use href="#ar" transform="translate(70.6 180.4) rotate(110)"/><use href="#ar" transform="translate(78.0 180.4) rotate(110)"/><use href="#ar" transform="translate(85.4 180.4) rotate(110)"/><use href="#ar" transform="translate(92.8 180.4) rotate(110)"/><use href="#ar" transform="translate(100.2 180.4) rotate(110)"/><use href="#ar" transform="translate(107.6 180.4) rotate(110)"/><use href="#ar" transform="translate(115.0 180.4) rotate(110)"/><use href="#ar" transform="translate(122.4 180.4) rotate(110)"/><use href="#ar" transform="translate(129.8 180.4) rotate(110)"/><use href="#ar" transform="translate(137.2 180.4) rotate(110)"/><use href="#ar" transform="translate(144.6 180.4) rotate(110)"/><use href="#ar" transform="translate(152.0 180.4) rotate(110)"/><use href="#ar" transform="translate(159.4 180.4) rotate(110)"/><use href="#ar" transform="translate(166.8 180.4) rotate(110)"/><use href="#ar" transform="translate(174.2 180.4) rotate(110)"/><use href="#ar" transform="translate(181.6 180.4) rotate(110)"/><use href="#ar" transform="translate(189.0 180.4) rotate(110)"/><use href="#ar" transform="translate(196.4 180.4) rotate(110)"/><use href="#ar" transform="translate(203.8 180.4) rotate(110)"/><use href="#ar" transform="translate(211.2 180.4) rotate(110)"/><use href="#ar" transform="translate(4.0 186.7) rotate(110)"/><use href="#ar" transform="translate(11.4 186.7) rotate(110)"/><use href="#ar" transform="translate(18.8 186.7) rotate(110)"/><use href="#ar" transform="translate(26.2 186.7) rotate(110)"/><use href="#ar" transform="translate(33.6 186.7) rotate(110)"/><use href="#ar" transform="translate(41.0 186.7) rotate(110)"/><use href="#ar" transform="translate(48.4 186.7) rotate(110)"/><use href="#ar" transform="translate(55.8 186.7) rotate(110)"/><use href="#ar" transform="translate(63.2 186.7) rotate(110)"/><use href="#ar" transform="translate(70.6 186.7) rotate(110)"/><use href="#ar" transform="translate(78.0 186.7) rotate(110)"/><use href="#ar" transform="translate(85.4 186.7) rotate(110)"/><use href="#ar" transform="translate(92.8 186.7) rotate(110)"/><use href="#ar" transform="translate(100.2 186.7) rotate(110)"/><use href="#ar" transform="translate(107.6 186.7) rotate(110)"/><use href="#ar" transform="translate(115.0 186.7) rotate(110)"/><use href="#ar" transform="translate(122.4 186.7) rotate(110)"/><use href="#ar" transform="translate(129.8 186.7) rotate(110)"/><use href="#ar" transform="translate(137.2 186.7) rotate(110)"/><use href="#ar" transform="translate(144.6 186.7) rotate(110)"/><use href="#ar" transform="translate(152.0 186.7) rotate(110)"/><use href="#ar" transform="translate(159.4 186.7) rotate(110)"/><use href="#ar" transform="translate(166.8 186.7) rotate(110)"/><use href="#ar" transform="translate(174.2 186.7) rotate(110)"/><use href="#ar" transform="translate(181.6 186.7) rotate(110)"/><use href="#ar" transform="translate(189.0 186.7) rotate(110)"/><use href="#ar" transform="translate(196.4 186.7) rotate(110)"/><use href="#ar" transform="translate(203.8 186.7) rotate(110)"/><use href="#ar" transform="translate(211.2 186.7) rotate(110)"/></g><polygon points="0,190 0,-1.0 1,-1.0 2,-1.0 3,-1.0 4,10.0 5,23.7 6,34.4 7,43.4 8,51.0 9,57.6 10,63.5 11,68.8 12,73.6 13,78.0 14,82.0 15,85.8 16,89.3 17,92.6 18,95.7 19,98.6 20,101.3 21,103.9 22,106.4 23,108.8 24,111.1 25,113.3 26,115.4 27,117.4 28,119.3 29,121.2 30,123.0 31,124.7 32,126.4 33,128.0 34,129.6 35,131.2 36,132.6 37,134.1 38,135.5 39,136.9 40,138.2 41,139.5 42,140.8 43,142.0 44,143.2 45,144.4 46,145.6 47,146.7 48,147.8 49,148.9 50,150.0 51,151.0 52,152.0 53,153.0 54,154.0 55,155.0 56,155.9 57,156.9 58,157.8 59,158.7 60,159.6 61,160.4 62,161.3 63,162.1 64,163.0 65,163.8 66,164.6 67,165.4 68,166.1 69,166.9 70,167.7 71,168.4 72,169.1 73,169.9 74,170.6 75,171.3 76,172.0 77,172.7 78,173.3 79,174.0 80,174.7 81,175.3 82,175.9 83,176.6 84,177.2 85,177.8 86,178.4 87,179.0 88,179.6 89,180.2 90,180.8 91,181.4 92,182.0 93,182.5 94,183.1 95,183.7 96,184.2 97,184.7 98,185.3 99,185.8 100,186.3 101,186.9 102,187.4 103,187.9 104,188.4 105,188.9 106,189.4 107,189.9 108,190.0 109,190.0 110,189.5 111,189.0 112,188.4 113,187.9 114,187.4 115,186.8 116,186.3 117,185.7 118,185.2 119,184.6 120,184.0 121,183.5 122,182.9 123,182.3 124,181.7 125,181.1 126,180.5 127,179.9 128,179.2 129,178.6 130,178.0 131,177.3 132,176.6 133,176.0 134,175.3 135,174.6 136,173.9 137,173.2 138,172.5 139,171.8 140,171.1 141,170.3 142,169.6 143,168.8 144,168.0 145,167.2 146,166.4 147,165.6 148,164.8 149,164.0 150,163.1 151,162.2 152,161.4 153,160.5 154,159.6 155,158.6 156,157.7 157,156.7 158,155.7 159,154.7 160,153.7 161,152.7 162,151.6 163,150.5 164,149.4 165,148.3 166,147.2 167,146.0 168,144.8 169,143.5 170,142.3 171,141.0 172,139.6 173,138.3 174,136.9 175,135.4 176,133.9 177,132.4 178,130.8 179,129.2 180,127.5 181,125.8 182,124.0 183,122.1 184,120.2 185,118.2 186,116.1 187,114.0 188,111.7 189,109.4 190,106.9 191,104.3 192,101.5 193,98.6 194,95.6 195,92.3 196,88.9 197,85.2 198,81.1 199,76.8 200,72.1 201,66.9 202,61.1 203,54.6 204,47.1 205,38.4 206,27.9 207,14.8 208,-1.0 209,-1.0 210,-1.0 211,-1.0 212,-1.0 213,-1.0 214,-1.0 215,-1.0 215,190" fill="#fff" fill-opacity="0.5"/><polyline points="0,-1.0 1,-1.0 2,-1.0 3,-1.0 4,10.0 5,23.7 6,34.4 7,43.4 8,51.0 9,57.6 10,63.5 11,68.8 12,73.6 13,78.0 14,82.0 15,85.8 16,89.3 17,92.6 18,95.7 19,98.6 20,101.3 21,103.9 22,106.4 23,108.8 24,111.1 25,113.3 26,115.4 27,117.4 28,119.3 29,121.2 30,123.0 31,124.7 32,126.4 33,128.0 34,129.6 35,131.2 36,132.6 37,134.1 38,135.5 39,136.9 40,138.2 41,139.5 42,140.8 43,142.0 44,143.2 45,144.4 46,145.6 47,146.7 48,147.8 49,148.9 50,150.0 51,151.0 52,152.0 53,153.0 54,154.0 55,155.0 56,155.9 57,156.9 58,157.8 59,158.7 60,159.6 61,160.4 62,161.3 63,162.1 64,163.0 65,163.8 66,164.6 67,165.4 68,166.1 69,166.9 70,167.7 71,168.4 72,169.1 73,169.9 74,170.6 75,171.3 76,172.0 77,172.7 78,173.3 79,174.0 80,174.7 81,175.3 82,175.9 83,176.6 84,177.2 85,177.8 86,178.4 87,179.0 88,179.6 89,180.2 90,180.8 91,181.4 92,182.0 93,182.5 94,183.1 95,183.7 96,184.2 97,184.7 98,185.3 99,185.8 100,186.3 101,186.9 102,187.4 103,187.9 104,188.4 105,188.9 106,189.4 107,189.9 108,190.0 109,190.0 110,189.5 111,189.0 112,188.4 113,187.9 114,187.4 115,186.8 116,186.3 117,185.7 118,185.2 119,184.6 120,184.0 121,183.5 122,182.9 123,182.3 124,181.7 125,181.1 126,180.5 127,179.9 128,179.2 129,178.6 130,178.0 131,177.3 132,176.6 133,176.0 134,175.3 135,174.6 136,173.9 137,173.2 138,172.5 139,171.8 140,171.1 141,170.3 142,169.6 143,168.8 144,168.0 145,167.2 146,166.4 147,165.6 148,164.8 149,164.0 150,163.1 151,162.2 152,161.4 153,160.5 154,159.6 155,158.6 156,157.7 157,156.7 158,155.7 159,154.7 160,153.7 161,152.7 162,151.6 163,150.5 164,149.4 165,148.3 166,147.2 167,146.0 168,144.8 169,143.5 170,142.3 171,141.0 172,139.6 173,138.3 174,136.9 175,135.4 176,133.9 177,132.4 178,130.8 179,129.2 180,127.5 181,125.8 182,124.0 183,122.1 184,120.2 185,118.2 186,116.1 187,114.0 188,111.7 189,109.4 190,106.9 191,104.3 192,101.5 193,98.6 194,95.6 195,92.3 196,88.9 197,85.2 198,81.1 199,76.8 200,72.1 201,66.9 202,61.1 203,54.6 204,47.1 205,38.4 206,27.9 207,14.8 208,-1.0 209,-1.0 210,-1.0 211,-1.0 212,-1.0 213,-1.0 214,-1.0 215,-1.0" fill="none" stroke="#222" stroke-width="0.6" opacity=".8"/></svg>
<div class="ax" style="left:403.7px;top:20.7px;width:215.6px;height:189.6px"></div>
<div class="cb" style="left:625.7px;top:21.7px;width:11.299999999999955px;height:188.3px"></div>
<div class="lb" style="left:640px;top:206.5px">0</div>
<div class="lb" style="left:640px;top:187.7px">0.1</div>
<div class="lb" style="left:640px;top:168.8px">0.2</div>
<div class="lb" style="left:640px;top:150.0px">0.3</div>
<div class="lb" style="left:640px;top:131.2px">0.4</div>
<div class="lb" style="left:640px;top:112.3px">0.5</div>
<div class="lb" style="left:640px;top:93.5px">0.6</div>
<div class="lb" style="left:640px;top:74.7px">0.7</div>
<div class="lb" style="left:640px;top:55.9px">0.8</div>
<div class="lb" style="left:640px;top:37.0px">0.9</div>
<div class="lb" style="left:640px;top:18.2px">1</div>
<div class="lb" style="right:283.2px;top:52.5px">4</div>
<div class="lb" style="right:283.2px;top:88.5px">8</div>
<div class="lb" style="right:283.2px;top:124.5px">16</div>
<div class="lb" style="right:283.2px;top:160.5px">32</div>
<div class="lb" style="right:283.2px;top:196.5px">64</div>
<div class="lb" style="left:371.0px;width:30px;text-align:center;top:111.4px;height:8px;font-size:8px;line-height:8px;transform:rotate(-90deg);transform-origin:50% 50%">Period</div>
<div class="lb" style="left:445.5px;width:12px;text-align:center;top:214.0px">50</div>
<div class="lb" style="left:492.0px;width:12px;text-align:center;top:214.0px">100</div>
<div class="lb" style="left:539.0px;width:12px;text-align:center;top:214.0px">150</div>
<div class="lb" style="left:586.0px;width:12px;text-align:center;top:214.0px">200</div>
<div class="cap" style="left:400.6px;top:247.8px;transform:scaleX(0.879)">NFT (BUST) and SP500 excluding CRIX</div>
<div class="card" style="left:4px;top:276px;width:309.4px;height:232.60000000000002px"></div>
<div class="hm" style="left:38px;top:294px;width:212px;height:188px"><i style="top:0px;height:2px;background:linear-gradient(90deg,#00efff,#00ecff,#00b9ff,#0022fc,#0000e2,#0022fc,#11d9ee,#35feca,#006bff,#0009fb,#0000ee,#0009fb,#004cff,#00aeff,#00e6ff,#00d8ff,#0042ff,#0784f8,#77ff88,#0ceff3,#bbde44,#adde52,#0080ff,#002fff,#0001f2,#0011f9,#84c07b,#fa0f00,#fa0e00,#a9d756,#0063ff,#0000ef,#0066ff,#14fdeb,#18ffe7,#00d0ff,#0062ff,#0017ff,#001eff,#41d0be,#fb3b00,#dd0000,#f00800,#efba10,#4effb1,#00eeff,#0079ff,#0009fc,#2bc4d4,#fe6000,#ea0000,#ff6c00,#1fb8e0,#000cfb,#000afb,#006eff,#08e4f7,#e5c51a,#ff8700,#8be174,#0075ff,#c1ef3e,#288bd7,#0070ff,#0077ff,#001afe,#001afe,#0082ff,#06f4f9,#08fdf7,#00f1ff)"></i><i style="top:2px;height:2px;background:linear-gradient(90deg,#00ebff,#00e2ff,#00a3ff,#000def,#0000ca,#0010ef,#39e3c6,#81ff7e,#0581fa,#0000e6,#0000d4,#0000e6,#0029ff,#0096ff,#00e0ff,#00c9ff,#001cf7,#2799d8,#bbff44,#1ef4e1,#ecb313,#e4b31b,#0063ff,#0011fa,#0000d8,#0012ea,#abaf54,#ee0000,#ee0000,#cea531,#0052fb,#0000d5,#0056fd,#2dffd2,#33ffcc,#00cfff,#004fff,#0007fc,#0014fd,#6fca90,#ec0f00,#d20000,#dc0000,#ff8400,#70ff8f,#02ecfd,#005bff,#0006ef,#49d5b6,#f73400,#d90000,#f83c00,#32bacd,#0002eb,#0000e8,#0050ff,#0fddf0,#f3b80c,#ff8100,#99d866,#1089ef,#ffa600,#61a49e,#004aff,#0049ff,#0001eb,#0001eb,#0059ff,#11f3ee,#16ffe9,#00f3ff)"></i><i style="top:4px;height:2px;background:linear-gradient(90deg,#00e2ff,#00cbff,#008eff,#0004e2,#0000c0,#000fe3,#5af3a5,#a6ff59,#1d97e2,#0000d3,#0000c6,#0000d3,#0013fa,#0080ff,#00d9ff,#00b8ff,#000ce8,#48b8b7,#e3ff1c,#30f1cf,#e9b316,#e1b41e,#0044ff,#0004ed,#0000c8,#0018e3,#c08d3f,#e80000,#e80000,#e0841f,#004ef4,#0000c7,#0057f9,#48ffb7,#4fffb0,#03cefc,#003eff,#0001f2,#0010f7,#81bc7e,#e50400,#d10000,#d60000,#ff6200,#84ff7b,#04e9fb,#0043fd,#000be6,#6adf95,#f11b00,#d30000,#f12000,#46c3b9,#0000dd,#0000d5,#0037fe,#07d4f8,#e4c51b,#ff8700,#86d379,#3082cf,#ff8900,#83967c,#002cff,#0025fd,#0000d2,#0000d2,#003cfd,#1cf4e3,#26ffd9,#00f5ff)"></i><i style="top:6px;height:2px;background:linear-gradient(90deg,#00ceff,#00a7ff,#007cff,#0000dc,#0000bd,#0013dd,#6cff93,#b0ff4f,#2badd4,#0000c9,#0000bf,#0000c8,#0008f2,#006eff,#00d3ff,#00aaff,#0003e0,#6cc893,#f3ff0c,#43e2bc,#aadd55,#a4d75b,#0023ff,#0000e0,#0000c1,#001de0,#cb8134,#e70000,#e70000,#e87917,#004bf0,#0000c1,#005ef7,#5effa1,#63ff9c,#08ccf7,#002eff,#0000e5,#000cee,#7eb981,#e50400,#d10000,#d60000,#ff6200,#84ff7b,#04e5fb,#0037f8,#0012e4,#7add85,#ea1000,#d20000,#ea1300,#58c7a7,#0000d5,#0000ca,#0027f9,#00c7ff,#a9f456,#fdc602,#44cebb,#2f75d0,#ff8900,#82927d,#001bfa,#0013f6,#0000c5,#0000c5,#002ff6,#26f7d9,#32ffcd,#00f8ff)"></i><i style="top:8px;height:2px;background:linear-gradient(90deg,#00b3ff,#007bff,#006eff,#0000d8,#0000bd,#0015dc,#75ff8a,#b1ff4e,#2eb4d1,#0000c4,#0000bd,#0000c3,#0004eb,#0061ff,#00ceff,#00a0ff,#0000db,#7ed581,#f7ff08,#4fdeb0,#14b2eb,#139dec,#0015ff,#0000d7,#0000be,#001ade,#c58a3a,#e80000,#e80000,#e3811c,#0044ee,#0000c0,#0066f7,#6aff95,#6eff91,#0ccaf3,#0021fd,#0000da,#0004e6,#66c199,#ec1000,#d20000,#dc0000,#ff8400,#70ff8f,#02e2fd,#002ff5,#0018e4,#83db7c,#e60a00,#d10000,#e60c00,#60c09f,#0000d2,#0000c3,#001df5,#00bcff,#28fcd7,#71ff8e,#06abf9,#0b60f4,#ffa800,#5f989b,#0011f7,#000af1,#0000c0,#0000c0,#002af3,#2bf9d4,#39ffc6,#01f9fe)"></i><i style="top:10px;height:2px;background:linear-gradient(90deg,#0093ff,#0054ff,#0064ff,#0000dc,#0000bd,#0013dd,#6bff94,#b0ff4f,#2aa7d5,#0000c2,#0000bd,#0000c1,#0002e7,#005bff,#00ccff,#009dff,#0000d9,#83da7c,#f8ff07,#55e0aa,#005fff,#0044ff,#0013ff,#0000d4,#0000bd,#0011db,#b0aa4f,#ed0000,#ed0000,#d39d2c,#0039ed,#0000bf,#0069f8,#6dff92,#71ff8e,#0cc5f3,#0018f9,#0000d1,#0000da,#34a8cb,#fb4000,#dd0000,#f00800,#efba10,#4effb1,#00dfff,#002df4,#001be5,#88db77,#e50700,#d10000,#e50900,#64bb9b,#0000d1,#0000c0,#0016f2,#00b7ff,#00f1ff,#01f4fe,#009aff,#0026f9,#b3f14c,#2170cf,#000ef6,#0008ee,#0000bf,#0000bf,#0028f1,#2dfad2,#3bffc4,#02f9fd)"></i><i style="top:12px;height:2px;background:linear-gradient(90deg,#0076ff,#0037ff,#0060ff,#0004e2,#0000c0,#000ee3,#59f3a6,#a5ff5a,#1a8ae3,#0000c2,#0000bd,#0000c1,#0002e7,#005bff,#00ccff,#00a0ff,#0000db,#7ed581,#f7ff08,#53e5ac,#0068ff,#0046ff,#0019ff,#0000d4,#0000bd,#0005d7,#8ebc71,#f90c00,#f90b00,#b9cd46,#002fee,#0000c0,#0066f7,#6aff95,#6eff91,#09bdf6,#0010f6,#0000cb,#0000ce,#036afb,#dfb320,#fd1d00,#ff5100,#c4f43b,#26ffd9,#00ddff,#002ff5,#001be6,#88db77,#e50700,#d10000,#e50900,#63bb9c,#0000d0,#0000bf,#0013f0,#00b4ff,#00efff,#00edff,#009cff,#0009ee,#048afb,#0015e0,#0011f7,#000af1,#0000c0,#0000c0,#002af3,#2bf9d4,#39ffc6,#01f9fe)"></i><i style="top:14px;height:2px;background:linear-gradient(90deg,#005fff,#0026ff,#0060ff,#000def,#0000ca,#0010ef,#36e2c9,#7bff84,#026bf8,#0000ce,#0000c1,#0000c3,#0004eb,#0061ff,#00ceff,#00aaff,#0003e0,#6cc893,#f3ff0c,#49ebb6,#007eff,#0055ff,#0029ff,#0000d9,#0000be,#0000cf,#51c2ae,#ff5400,#ff4e00,#85f67a,#002af0,#0000c1,#005ef7,#5effa1,#62ff9d,#04b3fb,#000cf1,#0000c6,#0000c7,#0029f6,#5ff0a0,#f8c607,#e5e41a,#68ff97,#0afbf5,#00deff,#0037f8,#0018e7,#84db7b,#e60a00,#d10000,#e60c00,#5dbda2,#0000ce,#0000bf,#0013f0,#00b4ff,#00efff,#00edff,#00a4ff,#000dec,#0000d4,#0000ca,#001bfa,#0013f6,#0000c5,#0000c5,#002ff6,#26f7d9,#32ffcd,#00f8ff)"></i><i style="top:16px;height:2px;background:linear-gradient(90deg,#0050ff,#001eff,#0063ff,#0022fc,#0000e2,#0029fc,#12deed,#33fecc,#0066ff,#000cf6,#0000d8,#0000cc,#0008f2,#006eff,#00d3ff,#00b8ff,#000ce8,#48b8b7,#e3ff1c,#37f2c8,#00a1ff,#0076ff,#0045ff,#0001e3,#0000c1,#0000ca,#0e8ef1,#e4da1b,#f4d50b,#44f6bb,#002ff4,#0000c7,#0057f9,#48ffb7,#4bffb4,#00a3ff,#0008ec,#0000c3,#0000c3,#000dee,#07b6f8,#60ff9f,#5dffa2,#1dffe2,#00f4ff,#00e3ff,#0043fd,#0013ea,#7bdd84,#ea1000,#d20000,#ea1400,#53bfac,#0000cb,#0000bf,#0014f0,#00b7ff,#00efff,#00efff,#00b1ff,#0017f5,#0000c8,#0000d1,#002cff,#0025fd,#0000d2,#0000d2,#003cfd,#1cf4e3,#26ffd9,#00f5ff)"></i><i style="top:18px;height:2px;background:linear-gradient(90deg,#0048ff,#001cff,#0069ff,#004eff,#0011ff,#006aff,#13f3ec,#25feda,#00c4ff,#0074ff,#0020fc,#0000e8,#0014fb,#0080ff,#00d9ff,#00c8ff,#001cf7,#2799d8,#bbff44,#20f7df,#00c7ff,#00a4ff,#0067ff,#0007ee,#0000c8,#0000d0,#0053ff,#5dfea2,#84ff7b,#15f2ea,#003efb,#0000d5,#0056fd,#2dffd2,#2dffd2,#008fff,#0005e8,#0000c1,#0000c1,#0006e8,#0084ff,#08f7f7,#0cfef3,#01f7fe,#00f4ff,#05f3fa,#005bff,#000ff2,#6de192,#f11b00,#d30000,#f12100,#41abbe,#0000c8,#0000bf,#0016f0,#00bcff,#00f1ff,#00f6ff,#00ceff,#003dff,#0000e5,#0001e7,#004bff,#0049ff,#0001eb,#0001eb,#0059ff,#11f3ee,#16ffe9,#00f3ff)"></i><i style="top:20px;height:2px;background:linear-gradient(90deg,#0045ff,#001bff,#0071ff,#0083ff,#0058ff,#05c4fa,#72ff8d,#afff50,#5bffa4,#14efeb,#0090ff,#0028ff,#0031ff,#0096ff,#00e0ff,#00d8ff,#0042ff,#0784f8,#77ff88,#0df6f2,#00e2ff,#00cdff,#0089ff,#0014fa,#0000d8,#0000e1,#0041ff,#0fe8f0,#25ffda,#02eefd,#005bff,#0000ef,#0066ff,#14fdeb,#12fbed,#007fff,#0003e5,#0000bf,#0000bf,#0003e5,#0075ff,#00e4ff,#00f2ff,#00f0ff,#10f9ef,#3effc1,#0080ff,#0010fd,#50dbaf,#f73300,#d90000,#f83e00,#2991d6,#0000c4,#0000bf,#0018ef,#00c6ff,#05fcfa,#19ffe6,#15faea,#00a6ff,#0040ff,#0023ff,#0075ff,#0077ff,#001afe,#001afe,#0082ff,#06f4f9,#08fdf7,#00f1ff)"></i><i style="top:22px;height:2px;background:linear-gradient(90deg,#0048ff,#001cff,#007bff,#00b6ff,#00acff,#3cf9c3,#f2c80d,#ff7b00,#e5e01a,#7fff80,#1df3e2,#0085ff,#0061ff,#00afff,#00e6ff,#00e4ff,#0079ff,#007fff,#2bffd4,#01f4fe,#00edff,#00e4ff,#00a6ff,#0030ff,#0001f2,#0006f8,#0057ff,#00d4ff,#01f9fe,#00ecff,#0080ff,#0018ff,#0083ff,#04fafb,#03f3fc,#0075ff,#0002e3,#0000bf,#0000bf,#0002e3,#0071ff,#00e1ff,#00f0ff,#00f0ff,#3bfdc4,#9aff65,#07acf8,#0028ff,#30d2cf,#fe5f00,#ea0000,#fd6e02,#107bed,#0000c1,#0000be,#001df0,#03dbfc,#2dffd2,#61ff9e,#7cff83,#4afdb5,#0cd5f3,#0096ff,#00b1ff,#00a8ff,#0055ff,#0055ff,#00acff,#01f3fe,#01f9fe,#00f0ff)"></i><i style="top:24px;height:2px;background:linear-gradient(90deg,#0050ff,#001eff,#0087ff,#00dcff,#0aeff5,#a1f55e,#fd3d00,#f60800,#ff6c00,#d1fd2e,#77ff88,#0ae1f5,#009dff,#00c6ff,#00eaff,#00ebff,#00adff,#009dff,#03f7fc,#00f0ff,#00efff,#00ecff,#00bfff,#006aff,#0051ff,#005dff,#008bff,#00d8ff,#00f0ff,#00eeff,#00a5ff,#004cff,#00a6ff,#00f4ff,#00e7ff,#006fff,#0001e2,#0000be,#0000be,#0001e2,#006eff,#00e0ff,#00f0ff,#00f0ff,#6dff92,#d8ff27,#22cadd,#0046ff,#19c3e6,#f29e0d,#ff1400,#e3a61c,#0067f7,#0000bf,#0000bf,#002ef2,#1af1e5,#79ff86,#d9f226,#fdcc02,#f5d10a,#b2f94d,#32fccd,#08f3f7,#00d7ff,#0095ff,#0094ff,#00cfff,#00f1ff,#00f3ff,#00f0ff)"></i><i style="top:26px;height:2px;background:linear-gradient(90deg,#005fff,#0026ff,#0097ff,#00f2ff,#31ffce,#dac725,#ed0700,#d90000,#f82100,#f3e60c,#b6ff49,#41ffbe,#00d9ff,#00dbff,#00edff,#00eeff,#00d1ff,#00c2ff,#00e7ff,#00ebff,#00eeff,#00eeff,#00e6ff,#20ebdf,#52ffad,#57ffa8,#27f7d8,#03f1fc,#00f0ff,#00efff,#00c5ff,#0083ff,#00c5ff,#00f0ff,#00e0ff,#006cff,#0000e2,#0000be,#0000be,#0000e2,#006dff,#00e0ff,#00f0ff,#00f1ff,#95ff6a,#f1ff0e,#39dec6,#005cff,#04b0fb,#c8de37,#ff6400,#bbe344,#0052f5,#0000bf,#0000c3,#0050fa,#4affb5,#dfeb20,#ff7100,#ff2f00,#ff3000,#ff7800,#cdf132,#4affb5,#09f6f6,#00cdff,#00caff,#00e5ff,#00f0ff,#00f1ff,#00f0ff)"></i><i style="top:28px;height:2px;background:linear-gradient(90deg,#0076ff,#0038ff,#00aaff,#05fafa,#52ffad,#f0970f,#dc0000,#d20000,#ea0a00,#fbc904,#d7ff28,#7bff84,#10faef,#00eaff,#00efff,#00ecff,#00d7ff,#00c2ff,#00c8ff,#00d4ff,#00e5ff,#00f0ff,#2fffd0,#abff54,#e4ff1b,#e5ff1a,#b0ff4f,#35ffca,#00f3ff,#00efff,#00dbff,#00b4ff,#00dbff,#00ecff,#00d9ff,#0067ff,#0000e1,#0000be,#0000be,#0000e2,#006dff,#00e0ff,#00f0ff,#00f2ff,#abff54,#f7ff08,#4bdfb4,#005eff,#0084ff,#6cfc93,#f8e007,#74ff8b,#0050fa,#0000c3,#0000ce,#0185fe,#95ff6a,#ff8d00,#fd1300,#f20000,#f20000,#fd1400,#ff9200,#9aff65,#24ffdb,#01f6fe,#00f3ff,#00f4ff,#00f1ff,#00f0ff,#00f0ff)"></i><i style="top:30px;height:2px;background:linear-gradient(90deg,#0097ff,#005bff,#00c1ff,#09fcf6,#64ff9b,#fc8003,#d60000,#d10000,#e50200,#feb901,#e6ff19,#9cff63,#2bffd4,#00f4ff,#00eeff,#00deff,#00b5ff,#008bff,#0080ff,#0099ff,#00c6ff,#01eefe,#65ff9a,#e0ff1f,#f9ff06,#f9ff06,#e1ff1e,#67ff98,#02f6fd,#00f0ff,#00e8ff,#00d5ff,#00e5ff,#00e4ff,#00caff,#005eff,#0000e1,#0000cb,#0000c2,#0001e2,#006eff,#00e0ff,#00f0ff,#00f2ff,#b1ff4e,#f8ff07,#4dd9b2,#004aff,#004dff,#11d8ee,#7dff82,#2bfdd4,#0067ff,#0000d3,#0003e2,#10b5ef,#caed35,#ff4100,#f10000,#e70000,#e70000,#f10000,#ff4200,#cfee30,#46ffb9,#21ffde,#1effe1,#09fef6,#00f5ff,#00f0ff,#00f0ff)"></i><i style="top:32px;height:2px;background:linear-gradient(90deg,#00d0ff,#00abff,#00e3ff,#0bfcf4,#69ff96,#fd7f02,#d60000,#d10000,#e50200,#ffb700,#f9eb06,#b6ff49,#3affc5,#01f7fe,#00e8ff,#00beff,#0072ff,#0037ff,#0028ff,#0047ff,#008cff,#00daff,#65ff9a,#e2ff1d,#f9ff06,#f9ff06,#e2ff1d,#68ff97,#02f6fd,#00f0ff,#00eeff,#00e6ff,#00e5ff,#00d1ff,#00acff,#004bff,#0001ee,#0032fd,#000ae3,#0002e4,#0071ff,#00e1ff,#00f0ff,#00f2ff,#aaff55,#f7ff08,#3fccc0,#002aff,#001bff,#0080ff,#0cf1f3,#05f8fa,#0093ff,#0009f3,#001af8,#1fdce0,#e2dc1d,#fe2400,#ea0000,#e60000,#e60000,#ea0000,#fe2500,#e6dd19,#66ff99,#5cffa3,#65ff9a,#2fffd0,#03fbfc,#00f1ff,#00f0ff)"></i><i style="top:34px;height:2px;background:linear-gradient(90deg,#3cffc3,#44ffbb,#24fedb,#09fcf6,#63ff9c,#f5930a,#dc0000,#d20000,#ea0a00,#ffac00,#ff7500,#ded021,#3affc5,#01f6fe,#00dbff,#0090ff,#002dff,#0002ef,#0000e5,#0008f7,#004bff,#00b3ff,#33fccc,#b9ff46,#eaff15,#eaff15,#b7ff48,#37ffc8,#00f3ff,#00f0ff,#00efff,#00ebff,#00daff,#00b2ff,#0081ff,#0030ff,#001cfa,#01d1fe,#0052f9,#0003e8,#0075ff,#00e1ff,#00f0ff,#00f1ff,#94ff6b,#efff10,#2eadd1,#000cfc,#0001f3,#0036ff,#00adff,#00e9ff,#00c0ff,#0048ff,#005aff,#2cf1d3,#e3dc1c,#fe2400,#ea0000,#e60000,#e60000,#ea0000,#fe2700,#e8df17,#87ff78,#b5ff4a,#cfff30,#77ff88,#14ffeb,#00f4ff,#00f0ff)"></i><i style="top:36px;height:2px;background:linear-gradient(90deg,#c1fa3e,#e7ee18,#80ff7f,#06fef9,#53ffac,#e6bf19,#ec0600,#d80000,#f72000,#ffa200,#ff4f00,#f39f0c,#32ffcd,#00f3ff,#00cbff,#0064ff,#0008f3,#0000cd,#0000c6,#0000d7,#001bfc,#008aff,#05e8fa,#4affb5,#86ff79,#7fff80,#39fdc6,#04f2fb,#00efff,#00f0ff,#00f0ff,#00e8ff,#00c6ff,#0087ff,#004dff,#0013fd,#0032f9,#0ff9f0,#007cff,#0005ec,#007aff,#00e3ff,#00f0ff,#00f0ff,#6dff92,#d1ff2e,#1289ed,#0001ec,#0000db,#000ff8,#007eff,#00ddff,#00ddff,#009bff,#00a6ff,#2afcd5,#ceed31,#ff4100,#f10000,#e70000,#e70000,#f10000,#ff4700,#dbf024,#b2ff4d,#fadc05,#ffbb00,#d2f72d,#37ffc8,#01f8fe,#00f0ff)"></i><i style="top:38px;height:2px;background:linear-gradient(90deg,#f7bd08,#ff8500,#c3e53c,#06fdf9,#3cffc3,#c5ef3a,#fd3500,#f60600,#ff6200,#ffbb00,#ff4f00,#eda112,#21ffde,#00efff,#00bcff,#0046ff,#0000e2,#0000c1,#0000be,#0000c6,#0008f1,#006cff,#00ccff,#00dfff,#00c9ff,#00abff,#00a2ff,#00cbff,#00ebff,#00f1ff,#00f5ff,#00e7ff,#00acff,#0059ff,#001cff,#0001f0,#001af1,#01d2fe,#0052fb,#0007ed,#0080ff,#00e4ff,#00f0ff,#00f0ff,#39fdc6,#85ff7a,#0057ff,#0000da,#0000cb,#0002eb,#0060ff,#00d4ff,#00eaff,#00d2ff,#00d8ff,#1dffe2,#9eff61,#ff8d00,#fd1300,#f20000,#f20000,#fd1400,#ff9300,#c2ff3d,#e0f41f,#ff8200,#ff5d00,#fbbb04,#6dff92,#07fcf8,#00f1ff)"></i><i style="top:40px;height:2px;background:linear-gradient(90deg,#ff8200,#ff4c00,#e1bc1e,#0bfaf4,#1dffe2,#82ff7d,#f9b306,#ff6700,#fcca03,#f1f00e,#ff8200,#bcdd43,#0efdf1,#00ebff,#00b5ff,#003aff,#0000da,#0000bf,#0000bd,#0000c2,#0003ea,#0055ff,#00b3ff,#00a8ff,#005eff,#0034ff,#004dff,#009fff,#00e3ff,#03fafc,#10ffef,#06f5f9,#009cff,#002fff,#0002f2,#0000da,#0000db,#0033fe,#000ae8,#000aef,#0087ff,#00e5ff,#00f0ff,#00f0ff,#0df9f2,#20f0df,#002bfb,#0000ce,#0000c3,#0000dd,#004cff,#00cdff,#00edff,#00e8ff,#00eaff,#0cfdf3,#5bffa4,#dfeb20,#ff7100,#ff2f00,#ff2f00,#ff7200,#e4ec1b,#aaff55,#f7cb08,#ff3e00,#ff2100,#ff6c00,#aafa55,#13feec,#00f3ff)"></i><i style="top:42px;height:2px;background:linear-gradient(90deg,#ff6200,#ff3c00,#f1a30e,#13f2ec,#02ecfd,#29fdd6,#98ff67,#dcf423,#c5ff3a,#a8ff57,#a8ff57,#3dffc2,#02f7fd,#00e8ff,#00b4ff,#003dff,#0000de,#0000c0,#0000bd,#0000c4,#0001ea,#0043ff,#008bff,#006bff,#001bfd,#0001f2,#0010fb,#006aff,#00daff,#22ffdd,#4fffb0,#38ffc7,#00b4ff,#001dfc,#0000d9,#0000ca,#0000c6,#0000cd,#0000cb,#000df3,#008fff,#00e7ff,#00f0ff,#00f0ff,#00eeff,#00b8ff,#0018f7,#0000c7,#0000bf,#0000d3,#003dff,#00c7ff,#00eeff,#00eeff,#00eeff,#01f8fe,#27ffd8,#7aff85,#d9f226,#fdca02,#fdca02,#daf225,#93ff6c,#acff53,#ff9500,#fe1400,#fc0300,#ff3300,#d5e02a,#24ffdb,#00f5ff)"></i><i style="top:44px;height:2px;background:linear-gradient(90deg,#ff5700,#ff3900,#f99906,#15e3ea,#00aeff,#00b2ff,#0fe6f0,#3affc5,#4cffb3,#37ffc8,#15f5ea,#01eafe,#00e6ff,#00e0ff,#00b3ff,#004aff,#0001eb,#0000c8,#0000c2,#0000cb,#0000ec,#002bff,#0055ff,#002bff,#0001e6,#0000ce,#0000df,#0039ff,#06d5f9,#5fffa0,#9dff62,#8bff74,#1be4e4,#002ffb,#0000cc,#0000c1,#0000c2,#0000c2,#0000ca,#0013f7,#0098ff,#00e8ff,#00f0ff,#00f0ff,#00eaff,#009cff,#0010f4,#0000c3,#0000bd,#0000ce,#0033ff,#00c3ff,#00eeff,#00efff,#00efff,#00f2ff,#06fdf9,#2effd1,#61ff9e,#86ff79,#87ff78,#65ff9a,#61ff9e,#befd41,#ff6400,#f80300,#ef0000,#fd1200,#edba12,#3affc5,#00f9ff)"></i><i style="top:46px;height:2px;background:linear-gradient(90deg,#ff5700,#ff3900,#f79a08,#0fcaf0,#006aff,#0040ff,#005cff,#0092ff,#00aaff,#009cff,#008eff,#00a8ff,#00ceff,#00d1ff,#00a9ff,#0053ff,#0007f7,#0000d6,#0000cc,#0000d3,#0000e9,#000dfe,#001dff,#0005f4,#0000cd,#0000c0,#0000ca,#0020f8,#16dce9,#9fff60,#daff25,#d0ff2f,#5dffa2,#0063ff,#0000cc,#0000be,#0000bf,#0000c2,#0000ce,#001af9,#00a1ff,#00e9ff,#00f0ff,#00f0ff,#00e9ff,#0097ff,#000ef1,#0000c2,#0000bd,#0000cb,#002ffe,#00c0ff,#00eeff,#00f0ff,#00f0ff,#00f0ff,#00f3ff,#05fdfa,#19ffe6,#2affd5,#2bffd4,#22ffdd,#4fffb0,#cef131,#ff4000,#ef0000,#e90000,#f70500,#fd9802,#52ffad,#03fbfc)"></i><i style="top:48px;height:2px;background:linear-gradient(90deg,#ff6200,#ff3a00,#eaa515,#03aefc,#0035ff,#0003f4,#0003ee,#0012f8,#001bfe,#0019ff,#002eff,#0071ff,#00b2ff,#00baff,#0092ff,#004eff,#000dfc,#0000e1,#0000d4,#0000d4,#0000dd,#0000e9,#0000ee,#0000d9,#0000c3,#0000bd,#0000c2,#001cf3,#32e7cd,#cfff30,#fafd05,#f7fe08,#a9ff56,#09a8f6,#0001d8,#0000bd,#0000be,#0000c2,#0000d2,#0022fc,#00abff,#00efff,#00f4ff,#00f1ff,#00e9ff,#0097ff,#000ef1,#0000c2,#0000bd,#0000cb,#002ffe,#00c0ff,#00eeff,#00f0ff,#00f0ff,#00f0ff,#00f0ff,#00f2ff,#00f7ff,#02fbfd,#02fbfd,#07fef8,#52ffad,#dfe520,#fe2900,#ea0000,#e60000,#f20000,#ff7600,#68ff97,#06fcf9)"></i><i style="top:50px;height:2px;background:linear-gradient(90deg,#ff7f00,#ff4300,#d5c02a,#008cff,#0018fd,#0000d8,#0000c7,#0000cc,#0000d1,#0000d8,#0007f6,#0050ff,#00abff,#00b6ff,#0077ff,#003aff,#0008fb,#0000e1,#0000d2,#0000cd,#0000cd,#0000cf,#0000d1,#0000c9,#0000bf,#0000bd,#0000c0,#0025f2,#4ff3b0,#ebfe14,#fff400,#fff600,#d8ff27,#24d4db,#000ce2,#0000bd,#0000be,#0000c3,#0000d6,#002eff,#01c8fe,#1dffe2,#21ffde,#09fdf6,#00ecff,#009aff,#0010f4,#0000c3,#0000bd,#0000ce,#0033ff,#00c3ff,#00eeff,#00f0ff,#00f0ff,#00f0ff,#00f0ff,#00f0ff,#00f0ff,#00f1ff,#00f1ff,#06fbf9,#5dffa2,#e9d916,#fc1c00,#e80000,#e60000,#ed0000,#ff5d00,#7bff84,#09fef6)"></i><i style="top:52px;height:2px;background:linear-gradient(90deg,#f8b207,#ff6200,#ade452,#0078ff,#0011fa,#0000d1,#0000bf,#0000be,#0000bf,#0000c9,#0003ef,#0046ff,#0dd9f2,#4affb5,#12bced,#002aff,#0001f2,#0000d7,#0000c9,#0000c3,#0000c2,#0000c2,#0000c3,#0000c1,#0000be,#0000bd,#0000c0,#0033f3,#65fe9a,#f7fc08,#fff100,#fff100,#eefd11,#43e9bc,#0018ea,#0000bc,#0000bc,#0000c2,#0000d9,#0050ff,#29f5d6,#85ff7a,#89ff76,#4fffb0,#0af7f5,#00a2ff,#0017f7,#0000c7,#0000bf,#0000d3,#003dff,#00c7ff,#00eeff,#00f0ff,#00f0ff,#00f0ff,#00f0ff,#00f0ff,#00f0ff,#00f0ff,#00f0ff,#07fbf8,#65ff9a,#edce12,#fa1500,#e70000,#e60000,#ea0000,#ff4d00,#89ff76,#0bfff4)"></i><i style="top:54px;height:2px;background:linear-gradient(90deg,#d0e82f,#ffad00,#72f98d,#007aff,#0018fd,#0000d7,#0000c1,#0000be,#0000bf,#0000cd,#0006f4,#004bff,#24e0db,#cfff30,#c2ff3d,#1ca4e3,#0002e8,#0000cd,#0000c2,#0000be,#0000bd,#0000bd,#0000be,#0000be,#0000be,#0000bd,#0000c2,#003ef6,#76ff89,#faf905,#fff000,#fff000,#f5fb0a,#54f2ab,#0020ef,#0000bb,#0000bb,#0000c0,#0001e0,#0498fb,#8aff75,#deff21,#e1ff1e,#abff54,#37ffc8,#00b2ff,#0021fb,#0000ce,#0000c3,#0000dd,#004cff,#00cdff,#00efff,#00f0ff,#00f0ff,#00f0ff,#00f0ff,#00f0ff,#00f0ff,#00f0ff,#00f0ff,#08fcf7,#69ff96,#efc910,#fa1200,#e60000,#e60000,#e90000,#ff4600,#90ff6f,#0dfff2)"></i><i style="top:56px;height:2px;background:linear-gradient(90deg,#77ff88,#d1fd2e,#2ef1d1,#0091ff,#0034ff,#0002ed,#0000ce,#0000c6,#0000ca,#0000e0,#0018fd,#0062ff,#11c8ee,#d7fe28,#fff300,#c1fd3e,#0956ee,#0000c9,#0000c0,#0000bd,#0000bd,#0000bd,#0000bd,#0000bd,#0000bd,#0000be,#0000c5,#0042f8,#77ff88,#faf905,#fff000,#fff000,#f6fb09,#55f3aa,#0021ef,#0000ba,#0000b9,#0000bd,#000de5,#22d3dd,#d2ff2d,#fef901,#fff800,#e5ff1a,#74ff8b,#02cafd,#0031ff,#0000da,#0000cb,#0002ea,#005fff,#00d4ff,#00efff,#00f0ff,#00f0ff,#00f1ff,#00f1ff,#00f2ff,#00f1ff,#00f1ff,#00f0ff,#08fcf7,#69ff96,#efc910,#fa1200,#e60000,#e60000,#e90000,#ff4600,#90ff6f,#0dfff2)"></i><i style="top:58px;height:2px;background:linear-gradient(90deg,#20fedf,#50ffaf,#08eef7,#00b4ff,#0067ff,#001fff,#0002f1,#0000e4,#0000eb,#0010fc,#0048ff,#0088ff,#00aaff,#84fb7b,#fff300,#fef401,#64e19b,#0009d8,#0000c0,#0000bd,#0000bd,#0000bd,#0000bd,#0000bd,#0000bd,#0000be,#0000c8,#003ef9,#67ff98,#f7fc08,#fff100,#fff100,#effc10,#47ebb8,#001aeb,#0000b9,#0000b7,#0000ba,#001bec,#48ecb7,#effd10,#fff100,#fff100,#f9fb06,#9cff63,#0ddcf2,#004bff,#0001ec,#0000da,#000cf7,#0076ff,#00dcff,#00f1ff,#00f7ff,#05fafa,#0bfdf4,#0ffff0,#0efff1,#08fdf7,#02fafd,#00f4ff,#08fcf7,#65ff9a,#edce12,#fa1500,#e70000,#e60000,#ea0000,#ff4d00,#89ff76,#0bfff4)"></i><i style="top:60px;height:2px;background:linear-gradient(90deg,#01f6fe,#07fdf8,#00edff,#00d4ff,#00a2ff,#0066ff,#0039ff,#0027ff,#0030ff,#0054ff,#0089ff,#00b1ff,#00adff,#11c7ee,#cdfd32,#fff300,#c3ff3c,#0050f1,#0000c3,#0000be,#0000bd,#0000bd,#0000bd,#0000bd,#0000bd,#0000bf,#0000cb,#0035fa,#4ef7b1,#eafe15,#fff500,#fff500,#ddff22,#2adbd5,#000fe4,#0000b8,#0000b5,#0000b6,#001fed,#53f2ac,#f5fb0a,#fff000,#fff000,#fcf903,#aaff55,#12e8ed,#0068ff,#000cfc,#0000f2,#0022ff,#0093ff,#02edfd,#15feea,#35ffca,#53ffac,#66ff99,#6aff95,#5dffa2,#43ffbc,#22ffdd,#06fef9,#07fef8,#5dffa2,#e9d916,#fc1c00,#e80000,#e60000,#ed0000,#ff5d00,#7bff84,#09fef6)"></i><i style="top:62px;height:2px;background:linear-gradient(90deg,#00f0ff,#00f1ff,#00efff,#00e7ff,#00d1ff,#00afff,#008fff,#0080ff,#0087ff,#00a2ff,#00c2ff,#00d0ff,#00beff,#0095ff,#23d3dc,#bfff40,#baff45,#0b89f4,#0000ce,#0000c3,#0000bf,#0000be,#0000bd,#0000bd,#0000bd,#0000bf,#0000cf,#002bfb,#2de9d2,#cbff34,#fafd05,#f9fe06,#b4ff4b,#0fb4f0,#0003dd,#0000b7,#0000b3,#0000b4,#0016e5,#40e7bf,#ecfd13,#fff100,#fff100,#f9fb06,#9dff62,#0feef0,#0087ff,#002dff,#0016ff,#0053ff,#05d1fa,#42ffbd,#80ff7f,#abff54,#c5ff3a,#ceff31,#c9ff36,#b3ff4c,#8aff75,#52ffad,#1bffe4,#08fff7,#51ffae,#dee521,#fe2900,#ea0000,#e60000,#f20000,#ff7600,#68ff97,#06fcf9)"></i><i style="top:64px;height:2px;background:linear-gradient(90deg,#00f0ff,#00f0ff,#00f0ff,#00eeff,#00e9ff,#00ddff,#00d0ff,#00c8ff,#00ccff,#00d8ff,#00e3ff,#00e1ff,#00ceff,#00a8ff,#007eff,#0bb7f4,#28e7d7,#0077ff,#0000e3,#0000cf,#0000c5,#0000c0,#0000bd,#0000bd,#0000bd,#0000bf,#0000d4,#0026fe,#0fd3f0,#96ff69,#d9ff26,#d4ff2b,#6fff90,#007cff,#0000d3,#0000b7,#0000b3,#0000b3,#0004d7,#15beea,#c1ff3e,#fcfb03,#fef901,#e4ff1b,#75ff8a,#07eff8,#00a6ff,#0059ff,#0059ff,#06c1f9,#5cffa3,#b7ff48,#e3ff1c,#f6fe09,#fcfb03,#fcfc03,#f7ff08,#e1ff1e,#b4ff4b,#6fff90,#28ffd7,#07fff8,#43ffbc,#cdf132,#ff4000,#ef0000,#e90000,#f70500,#fd9802,#52ffad,#03fbfc)"></i><i style="top:66px;height:2px;background:linear-gradient(90deg,#00f0ff,#00f0ff,#00f0ff,#00f0ff,#00efff,#00edff,#00eaff,#00e8ff,#00e9ff,#00ecff,#00edff,#00e9ff,#00dbff,#00c0ff,#0098ff,#006dff,#005cff,#0035ff,#0006fa,#0000e8,#0000d3,#0000c4,#0000be,#0000bd,#0000bd,#0000c0,#0000db,#002cff,#00baff,#4fffb0,#98ff67,#8fff70,#26f1d9,#0047ff,#0000d3,#0000b8,#0000b3,#0000b3,#0000c1,#005dfd,#57faa8,#c8ff37,#d8ff27,#a7ff58,#3affc5,#00efff,#00c3ff,#009dff,#07d2f8,#63ff9c,#ccff33,#f7fd08,#fff600,#fff200,#fff100,#fff300,#fff900,#efff10,#bcff43,#6dff92,#20ffdf,#01fdfe,#32ffcd,#b7fd48,#ff6400,#f80300,#ef0000,#fd1200,#edba12,#3affc5,#00f9ff)"></i><i style="top:68px;height:2px;background:linear-gradient(90deg,#00f0ff,#00f0ff,#00f0ff,#00f0ff,#00f0ff,#00f0ff,#00efff,#00efff,#00efff,#00efff,#00efff,#00edff,#00e6ff,#00d5ff,#00baff,#0097ff,#0071ff,#0050ff,#0033ff,#0013fe,#0000eb,#0000cf,#0000c1,#0000bd,#0000bd,#0000c4,#0000e6,#0039ff,#00a5ff,#10f7ef,#41ffbe,#35ffca,#03c8fc,#0037ff,#0000e0,#0000bf,#0000b5,#0000b4,#0000b9,#000eeb,#04a9fb,#45fdba,#6eff91,#47ffb8,#0afcf5,#00efff,#00e6ff,#0cf2f3,#61ff9e,#c9ff36,#f9fd06,#fff300,#fff000,#fff000,#fff000,#fff100,#fefa01,#e6ff19,#a5ff5a,#4dffb2,#0cfef3,#00f6ff,#20ffdf,#92ff6d,#ff9700,#fe1400,#fc0300,#ff3300,#d5e02a,#24ffdb,#00f5ff)"></i><i style="top:70px;height:2px;background:linear-gradient(90deg,#00f0ff,#00f0ff,#00f0ff,#00f0ff,#00f0ff,#00f0ff,#00f0ff,#00f0ff,#00f0ff,#00f0ff,#00efff,#00efff,#00ecff,#00e4ff,#00d5ff,#00beff,#00a4ff,#0089ff,#006eff,#004aff,#0016fe,#0000e3,#0000c9,#0000c1,#0000c1,#0000cd,#0004f2,#0048ff,#009cff,#00cfff,#01ebfe,#00e3ff,#00a2ff,#0045ff,#0005f4,#0000d0,#0000bf,#0000bb,#0000c2,#0000e3,#0042ff,#00b9ff,#08f2f7,#04f8fb,#00f0ff,#00f4ff,#11feee,#53ffac,#b0ff4f,#f0ff0f,#fff600,#fff000,#fff000,#fff000,#fff100,#fff600,#f3fe0c,#c0ff3f,#6dff92,#1effe1,#01f7fe,#00f2ff,#11feee,#6bff94,#f3cd0c,#ff3e00,#ff2100,#ff6c00,#aafa55,#13feec,#00f3ff)"></i><i style="top:72px;height:2px;background:linear-gradient(90deg,#00f0ff,#00f0ff,#00f0ff,#00efff,#00efff,#00efff,#00efff,#00efff,#00efff,#00eeff,#00eeff,#00edff,#00ecff,#00e9ff,#00e2ff,#00d7ff,#00c7ff,#00b6ff,#00a2ff,#0080ff,#0044ff,#0009f9,#0000db,#0000cb,#0000cb,#0000dc,#000dfc,#004eff,#0088ff,#00a0ff,#00a9ff,#00a7ff,#008bff,#0056ff,#001aff,#0000ec,#0000d6,#0000d0,#0000db,#0008f8,#0042ff,#0091ff,#00c9ff,#00ddff,#00e3ff,#00f3ff,#29ffd6,#7cff83,#c9ff36,#f8f707,#ffba00,#ffb700,#ffe800,#fff300,#fef901,#eefe11,#beff41,#71ff8e,#23ffdc,#02f7fd,#00efff,#00efff,#06fbf9,#46ffb9,#cff630,#ff8300,#ff5d00,#fbbb04,#6dff92,#07fcf8,#00f1ff)"></i><i style="top:74px;height:2px;background:linear-gradient(90deg,#00efff,#00eeff,#00eeff,#00edff,#00edff,#00ecff,#00ebff,#00eaff,#00e8ff,#00e7ff,#00e5ff,#00e3ff,#00e0ff,#00deff,#00dcff,#00daff,#00d6ff,#00cdff,#00beff,#009fff,#0066ff,#0023ff,#0001f1,#0000dc,#0000db,#0000eb,#000fff,#003aff,#0057ff,#0060ff,#0063ff,#0064ff,#005eff,#0048ff,#0026ff,#0008fe,#0000f2,#0000ed,#0002f8,#001eff,#0051ff,#0083ff,#00a3ff,#00b0ff,#00b8ff,#00d2ff,#18fce7,#6dff92,#b8ff47,#fdb902,#ff4200,#ff4200,#ffac00,#effe10,#d1ff2e,#9bff64,#50ffaf,#13f9ec,#00e9ff,#00e3ff,#00e4ff,#00e6ff,#00f1ff,#22ffdd,#89ff76,#f8de07,#ffbb00,#d1f72e,#36ffc9,#01f7fe,#00efff)"></i><i style="top:76px;height:2px;background:linear-gradient(90deg,#00ebff,#00e9ff,#00e7ff,#00e5ff,#00e2ff,#00dfff,#00dcff,#00d8ff,#00d3ff,#00ceff,#00c9ff,#00c3ff,#00c0ff,#00c4ff,#00d3ff,#00e8ff,#05f3fa,#08f3f7,#01e9fe,#00c3ff,#0084ff,#003aff,#0006fb,#0000e7,#0000e1,#0000e9,#0002f7,#000cfe,#0013ff,#0014ff,#0014ff,#0016ff,#0018ff,#0014ff,#000cff,#0003fc,#0000f7,#0000f6,#0003fd,#0018ff,#0034ff,#004bff,#0059ff,#0060ff,#0068ff,#0084ff,#00c3ff,#20f9df,#68ff97,#e2cc1d,#ff4700,#ff4700,#e5cb1a,#7dff82,#41febe,#14e8eb,#00ccff,#00bbff,#00bdff,#00c3ff,#00c8ff,#00ceff,#00d7ff,#04f3fb,#3dffc2,#a6ff59,#c9ff36,#6fff90,#0efdf1,#00edff,#00eaff)"></i><i style="top:78px;height:2px;background:linear-gradient(90deg,#00e0ff,#00dcff,#00d7ff,#00d1ff,#00cbff,#00c4ff,#00bcff,#00b4ff,#00abff,#00a2ff,#0099ff,#0093ff,#009eff,#00c5ff,#0cf5f3,#3effc1,#66ff99,#74ff8b,#63ff9c,#33fdcc,#06d8f9,#0077ff,#001cfe,#0000e8,#0000d7,#0000d6,#0000d9,#0000db,#0000db,#0000da,#0000da,#0000db,#0000dc,#0000de,#0000de,#0000de,#0000de,#0000e0,#0000e7,#0000f0,#0005f6,#000af9,#000dfc,#0010fe,#0015ff,#0026ff,#004eff,#0089ff,#01c3fe,#26ddd9,#7ae585,#79e086,#1ccde3,#00a9ff,#0083ff,#0072ff,#0074ff,#007fff,#008cff,#0097ff,#00a1ff,#00aaff,#00b3ff,#00c8ff,#05edfa,#2effd1,#42ffbd,#14f9eb,#00e3ff,#00dbff,#00deff)"></i><i style="top:80px;height:2px;background:linear-gradient(90deg,#00ceff,#00c6ff,#00beff,#00b5ff,#00aaff,#00a0ff,#0094ff,#0088ff,#007cff,#0070ff,#0067ff,#0071ff,#00a8ff,#16f4e9,#73ff8c,#c3ff3c,#e8f717,#f1f00e,#eaf515,#c9ff36,#76ff89,#12e5ed,#006aff,#000af4,#0000cf,#0000c4,#0000c2,#0000c1,#0000bf,#0000bf,#0000bf,#0000bf,#0000c0,#0000c1,#0000c2,#0000c3,#0000c5,#0000c7,#0000ca,#0000ce,#0000d1,#0000d4,#0000d7,#0000da,#0000dd,#0000e3,#0002ef,#000ff7,#001ffe,#002dff,#0030ff,#002aff,#0021ff,#001fff,#0026ff,#0036ff,#004bff,#0060ff,#0075ff,#0086ff,#0092ff,#009aff,#009eff,#00a2ff,#00aaff,#00b3ff,#00b3ff,#00a6ff,#00a9ff,#00bbff,#00c8ff)"></i><i style="top:82px;height:2px;background:linear-gradient(90deg,#00bbff,#00b0ff,#00a5ff,#0099ff,#008cff,#007fff,#0071ff,#0063ff,#0056ff,#0049ff,#0048ff,#0076ff,#08e0f7,#76ff89,#e2fa1d,#ffd300,#ffac00,#ff9c00,#ffac00,#ffca00,#edf512,#87ff78,#0bd7f4,#003dff,#0000da,#0000bc,#0000b8,#0000b7,#0000b7,#0000b6,#0000b6,#0000b6,#0000b7,#0000b7,#0000b8,#0000b9,#0000ba,#0000bb,#0000be,#0000c0,#0000c1,#0000c1,#0000c2,#0000c4,#0000c6,#0000c8,#0000cb,#0000cf,#0000d4,#0000d8,#0000dd,#0000e2,#0000eb,#0000f9,#0011ff,#002eff,#0051ff,#0074ff,#0092ff,#00a8ff,#00b5ff,#00b8ff,#00aeff,#008fff,#0069ff,#004eff,#0042ff,#0044ff,#005bff,#0084ff,#00a6ff)"></i><i style="top:84px;height:2px;background:linear-gradient(90deg,#00afff,#00a3ff,#0096ff,#0089ff,#007bff,#006cff,#005eff,#004fff,#0041ff,#0036ff,#0045ff,#009dff,#3cfcc3,#cefd31,#ffce00,#ff8300,#ff2d00,#fc1800,#ff4100,#ff9000,#ffbf00,#e4f91b,#50feaf,#008cff,#0009ee,#0000bf,#0000b5,#0000b5,#0000b4,#0000b4,#0000b4,#0000b4,#0000b5,#0000b5,#0000b6,#0000b7,#0000b8,#0000ba,#0000bd,#0000bf,#0000bf,#0000be,#0000be,#0000be,#0000bf,#0000c0,#0000c2,#0000c4,#0000c6,#0000c9,#0000ce,#0000d5,#0000e3,#0002f8,#001eff,#004cff,#007fff,#00adff,#00d0ff,#00e7ff,#01f1fe,#00ecff,#00c1ff,#0074ff,#0034ff,#0012ff,#0008fe,#000afe,#001cff,#0045ff,#0076ff)"></i><i style="top:86px;height:2px;background:linear-gradient(90deg,#00afff,#00a3ff,#0096ff,#0089ff,#007bff,#006cff,#005eff,#004fff,#0041ff,#0039ff,#0056ff,#02c7fd,#75ff8a,#f4ef0b,#ffa600,#fe2f00,#ec0000,#e70000,#f30300,#ff5400,#ffa200,#fde002,#92ff6d,#05c2fa,#001cf8,#0000c4,#0000b5,#0000b4,#0000b4,#0000b4,#0000b4,#0000b4,#0000b4,#0000b4,#0000b5,#0000b6,#0000b7,#0000ba,#0000c1,#0000c6,#0000c5,#0000c0,#0000be,#0000be,#0000bf,#0000c0,#0000c2,#0000c4,#0000c6,#0000ca,#0000cf,#0000d8,#0000eb,#000efe,#003dff,#0077ff,#00b2ff,#00e3ff,#09fcf6,#18ffe7,#1effe1,#0bfbf4,#00aeff,#0047ff,#000dfe,#0000f4,#0000ee,#0000ef,#0001f8,#0018ff,#0048ff)"></i><i style="top:88px;height:2px;background:linear-gradient(90deg,#00bbff,#00b1ff,#00a5ff,#0099ff,#008cff,#007fff,#0071ff,#0063ff,#0056ff,#004eff,#0070ff,#0addf5,#91ff6e,#fbe404,#ff9600,#fb1700,#e70000,#e60000,#eb0000,#ff3900,#ff9900,#ffd300,#a8ff57,#0dd0f2,#0026fb,#0000c7,#0000b5,#0000b4,#0000b3,#0000b3,#0000b3,#0000b4,#0000b4,#0000b4,#0000b5,#0000b6,#0000b8,#0000bf,#0000cc,#0000d6,#0000d4,#0000cb,#0000c5,#0000c6,#0000c7,#0000c8,#0000ca,#0000cd,#0000d1,#0000d5,#0000dc,#0000e8,#0004fb,#0026ff,#005cff,#009aff,#00d5ff,#06fcf9,#1effe1,#2affd5,#29ffd6,#08f0f7,#0081ff,#001eff,#0000f4,#0000e9,#0000e7,#0000e7,#0000ec,#0004fb,#0027ff)"></i><i style="top:90px;height:2px;background:linear-gradient(90deg,#00d3ff,#00d5ff,#00c7ff,#00b6ff,#00aaff,#00a0ff,#0094ff,#0088ff,#007cff,#0074ff,#008eff,#0ce8f3,#8eff71,#f9e906,#ffa300,#fe2f00,#ec0000,#e70000,#f30300,#ff5400,#ffa100,#fddf02,#93ff6c,#05c3fa,#001df8,#0000c4,#0000b5,#0000b4,#0000b3,#0000b3,#0000b3,#0000b4,#0000b4,#0000b5,#0000b6,#0000b8,#0000bd,#0000cc,#0000e7,#0005f7,#0005f6,#0000ed,#0000e4,#0004ee,#0004ee,#0000e3,#0000e5,#0000ea,#0000ef,#0002f4,#0007f8,#000efe,#0023ff,#0046ff,#0077ff,#00aeff,#00e1ff,#0afff5,#21ffde,#2bffd4,#25ffda,#01dbfe,#005aff,#0009fc,#0000eb,#0000e6,#0000e6,#0000e6,#0000e8,#0000f3,#0014ff)"></i><i style="top:92px;height:2px;background:linear-gradient(90deg,#1afce5,#43ffbc,#26fcd9,#02e1fd,#00cbff,#00c4ff,#00bcff,#00b4ff,#00aaff,#00a3ff,#00afff,#09edf6,#74ff8b,#e8fa17,#ffc300,#ff8000,#ff2c00,#fc1800,#ff4100,#ff8f00,#ffbd00,#e6f819,#53feac,#008eff,#000aef,#0000be,#0000b5,#0000b4,#0000b3,#0000b3,#0000b3,#0000b4,#0000b5,#0000b7,#0000b9,#0000be,#0000ca,#0001e8,#001cfe,#0041ff,#0049ff,#003bff,#0038ff,#0074ff,#0071ff,#002bff,#0024ff,#002fff,#003bff,#0048ff,#0054ff,#0060ff,#006eff,#0084ff,#00a1ff,#00c3ff,#00e6ff,#05fefa,#17ffe8,#22ffdd,#1affe5,#00c6ff,#0045ff,#0003f8,#0000e8,#0000e6,#0000e6,#0000e6,#0000e6,#0000ef,#000dff)"></i><i style="top:94px;height:2px;background:linear-gradient(90deg,#a3ff5c,#e5ea1a,#c6fa39,#3cfec3,#00e8ff,#00dfff,#00dbff,#00d6ff,#00d0ff,#00caff,#00ccff,#02eefd,#46ffb9,#b0ff4f,#f7f108,#ffc600,#ffa500,#ff9800,#ffa900,#ffc700,#f0f30f,#8aff75,#0cd8f3,#003dff,#0000d8,#0000b9,#0000b4,#0000b3,#0000b3,#0000b3,#0000b3,#0000b4,#0000b5,#0000b8,#0000bc,#0000c5,#0000de,#0019fd,#0063ff,#0099ff,#00aaff,#00a3ff,#01bbfe,#30facf,#2ef9d1,#00b1ff,#0099ff,#00b1ff,#00caff,#06d9f9,#0ee0f1,#12e5ed,#12e8ed,#10eaef,#0deef2,#0af4f5,#08faf7,#0afff5,#11ffee,#16ffe9,#0dfff2,#00bdff,#0041ff,#0003f8,#0000e8,#0000e6,#0000e6,#0000e6,#0000e6,#0000f0,#000fff)"></i><i style="top:96px;height:2px;background:linear-gradient(90deg,#fabd05,#ff6f00,#ff9600,#b0f84f,#0ef8f1,#00ebff,#00e9ff,#00e6ff,#00e2ff,#00ddff,#00d9ff,#00e2ff,#10fbef,#54ffab,#a2ff5d,#dbfd24,#f0f00f,#f5ec0a,#ecf213,#cafe35,#73ff8c,#12dfed,#0060ff,#0006ec,#0000c1,#0000b5,#0000b3,#0000b3,#0000b3,#0000b3,#0000b3,#0000b3,#0000b5,#0000b8,#0000bd,#0000cc,#0004f1,#004bff,#00abff,#00e3ff,#03f3fc,#04f3fb,#3bfdc4,#afff50,#b5ff4a,#51ffae,#2fffd0,#52ffad,#72ff8d,#8aff75,#98ff67,#9dff62,#9aff65,#8eff71,#7bff84,#64ff9b,#4bffb4,#34ffcb,#22ffdd,#16ffe9,#08fef7,#00c4ff,#004fff,#0007fc,#0000eb,#0000e6,#0000e6,#0000e6,#0000e8,#0001f5,#001bff)"></i><i style="top:98px;height:2px;background:linear-gradient(90deg,#ff5f00,#ff2d00,#ff4200,#f0c70f,#32fecd,#00edff,#00eaff,#00e8ff,#00e4ff,#00e0ff,#00daff,#00d6ff,#00dbff,#05eefa,#20fcdf,#47ffb8,#63ff9c,#67ff98,#4cffb3,#23eddc,#02b3fd,#004dff,#0008ee,#0000c7,#0000b7,#0000b4,#0000b3,#0000b3,#0000b3,#0000b3,#0000b3,#0000b3,#0000b4,#0000b7,#0000bd,#0000d0,#0012fa,#007bff,#00e0ff,#10ffef,#1fffe0,#2bffd4,#8eff71,#f0fd0f,#f9f806,#cbff34,#b1ff4e,#d9fa26,#ece613,#f6df09,#fbe404,#fdeb02,#faef05,#f4f50b,#e8fd17,#cdff32,#a7ff58,#7cff83,#51ffae,#2dffd2,#10ffef,#00d7ff,#006eff,#0019ff,#0000f3,#0000e9,#0000e7,#0000e8,#0000ee,#0009fd,#0038ff)"></i><i style="top:100px;height:2px;background:linear-gradient(90deg,#ff3400,#ff1c00,#ff2400,#ff8f00,#5bffa4,#00edff,#00e9ff,#00e8ff,#00e7ff,#00e8ff,#00e7ff,#00e5ff,#00deff,#00d5ff,#00cdff,#00c6ff,#00bcff,#00a9ff,#0085ff,#0052ff,#001cfb,#0001e4,#0000c6,#0000b9,#0000b5,#0000b3,#0000b3,#0000b3,#0000b3,#0000b3,#0000b3,#0000b3,#0000b4,#0000b6,#0000bc,#0000d3,#0020fd,#009eff,#08f7f7,#24ffdb,#33ffcc,#4dffb2,#c7ff38,#ffe900,#ffd600,#ffd400,#ffa000,#ff4e00,#ff2900,#ff2500,#ff3d00,#ff7200,#ffa800,#ffc100,#ffd000,#ffe600,#f1fa0e,#c8ff37,#92ff6d,#5affa5,#29ffd6,#04f1fb,#009eff,#0043ff,#000efe,#0000f6,#0000f1,#0000f4,#0006fc,#002cff,#006aff)"></i><i style="top:102px;height:2px;background:linear-gradient(90deg,#ff2700,#ff1a00,#ff1d00,#ff7100,#74ff8b,#00edff,#00eaff,#00eeff,#00f6ff,#04fcfb,#0bfff4,#10ffef,#0ffff0,#09faf6,#01eafe,#00c2ff,#008eff,#0055ff,#0020ff,#0002f3,#0000d7,#0000c5,#0000bb,#0000b7,#0000b4,#0000b3,#0000b3,#0000b3,#0000b3,#0000b3,#0000b3,#0000b3,#0000b3,#0000b5,#0000bb,#0000d4,#0029ff,#00b2ff,#10feef,#2dffd2,#3fffc0,#6aff95,#e6f919,#ffd400,#ffb300,#ff6300,#fc1300,#ee0000,#e80000,#e80000,#ed0000,#fb0c00,#ff5100,#ff9a00,#ffaf00,#ffbd00,#ffd600,#f9f706,#cdff32,#8dff72,#4effb1,#18fee7,#00d7ff,#0087ff,#0046ff,#0024ff,#0019ff,#001fff,#0039ff,#006eff,#00aaff)"></i><i style="top:104px;height:2px;background:linear-gradient(90deg,#ff2700,#ff1a00,#ff1d00,#ff7100,#73ff8c,#00ebff,#00ebff,#00f4ff,#05fffa,#16ffe9,#23ffdc,#2affd5,#2bffd4,#27ffd8,#14ffeb,#00e9ff,#00a8ff,#005aff,#0015ff,#0000e5,#0000cb,#0000bf,#0000b9,#0000b6,#0000b4,#0000b3,#0000b3,#0000b3,#0000b3,#0000b3,#0000b3,#0000b3,#0000b3,#0000b5,#0000ba,#0000d2,#0029ff,#00b6ff,#13ffec,#32ffcd,#4affb5,#7fff80,#f3f10c,#ffc700,#ff9900,#ff3500,#f40000,#e60000,#e60000,#e60000,#e60000,#f30000,#ff2d00,#ff8500,#ffa300,#ffab00,#ffbc00,#ffdb00,#f1fd0e,#b4ff4b,#6eff91,#31ffce,#06f9f9,#00d1ff,#00a4ff,#0087ff,#007eff,#0087ff,#009eff,#00c3ff,#00e0ff)"></i><i style="top:106px;height:2px;background:linear-gradient(90deg,#ff3400,#ff1c00,#ff2500,#ff9100,#55ffaa,#00e5ff,#00e4ff,#00eeff,#03fcfc,#12ffed,#22ffdd,#29ffd6,#2bffd4,#26ffd9,#12ffed,#00e4ff,#009fff,#004fff,#000dfc,#0000dd,#0000c7,#0000bc,#0000b8,#0000b5,#0000b4,#0000b3,#0000b3,#0000b3,#0000b3,#0000b3,#0000b3,#0000b3,#0000b3,#0000b5,#0000b9,#0000cd,#0023fc,#00afff,#12feed,#32ffcd,#4effb1,#85ff7a,#f4ed0b,#ffc200,#ffa400,#ff5600,#fc0d00,#ed0000,#e70000,#e70000,#ed0000,#fb0b00,#ff4d00,#ff9100,#ffa000,#ffa600,#ffb300,#ffcc00,#fbf404,#c8ff37,#7fff80,#3cffc3,#11ffee,#01fafe,#00f2ff,#00edff,#01edfe,#02f0fd,#03f5fc,#03fafc,#01fcfe)"></i><i style="top:108px;height:2px;background:linear-gradient(90deg,#ff5f00,#ff2d00,#ff4300,#eec811,#2cfad3,#00ddff,#00d8ff,#00d8ff,#00dfff,#00ecff,#05f4fa,#0af8f5,#0afaf5,#05f5fa,#00deff,#00acff,#0068ff,#0023ff,#0001ed,#0000d0,#0000c1,#0000ba,#0000b7,#0000b5,#0000b4,#0000b3,#0000b3,#0000b3,#0000b3,#0000b3,#0000b3,#0000b3,#0000b3,#0000b5,#0000b8,#0000c8,#001af9,#00a3ff,#0ffcf0,#2fffd0,#48ffb7,#75ff8a,#eef211,#ffc300,#ffb200,#ff9f00,#ff6b00,#ff3300,#fe1c00,#fe1b00,#ff3100,#ff6000,#ff8e00,#ff9e00,#ffa000,#ffa600,#ffb300,#ffcc00,#fbf404,#c6ff39,#7cff83,#39ffc6,#14ffeb,#0afff5,#0dfff2,#12ffed,#15ffea,#16ffe9,#15ffea,#11ffee,#0cfff3)"></i><i style="top:110px;height:2px;background:linear-gradient(90deg,#fabd05,#ff7100,#ff9a00,#b2f94d,#12fced,#00efff,#00e3ff,#00d3ff,#00c2ff,#00b8ff,#00beff,#00d6ff,#05f0fa,#13f5ec,#15eeea,#07d8f8,#009dff,#0048ff,#0009f2,#0000cf,#0000be,#0000b8,#0000b6,#0000b4,#0000b3,#0000b3,#0000b3,#0000b3,#0000b3,#0000b3,#0000b3,#0000b3,#0000b3,#0000b4,#0000b6,#0000c4,#0013f6,#0097ff,#0bf9f4,#28ffd7,#39ffc6,#50ffaf,#d2fb2d,#ffcd00,#ffba00,#ffbd00,#ffb700,#ffa100,#ff9300,#ff9100,#ff9700,#ff9d00,#ff9f00,#ffa000,#ffa300,#ffab00,#ffbc00,#ffdb00,#f1fd0e,#b1ff4e,#68ff97,#2dffd2,#10ffef,#0dfff2,#12ffed,#17ffe8,#19ffe6,#19ffe6,#19ffe6,#16ffe9,#11ffee)"></i><i style="top:112px;height:2px;background:linear-gradient(90deg,#aaff55,#eceb13,#d9fa26,#79ff86,#4bffb4,#47ffb8,#39ffc6,#1efde1,#07ecf8,#00daff,#0be9f4,#3afec5,#7dff82,#a6ff59,#b2ff4d,#a4ff5b,#74ff8b,#29edd6,#0091ff,#001af7,#0000cb,#0000b8,#0000b4,#0000b3,#0000b3,#0000b2,#0000b2,#0000b2,#0000b2,#0000b2,#0000b2,#0000b2,#0000b3,#0000b3,#0000b5,#0000c1,#000df3,#008aff,#06f5f9,#1fffe0,#25ffda,#1effe1,#8eff71,#fce903,#ffd100,#ffde00,#ffd500,#ffbc00,#ffae00,#ffa700,#ffa400,#ffa300,#ffa400,#ffa800,#ffaf00,#ffbd00,#ffd600,#f9f706,#ccff33,#8bff74,#4affb5,#1cffe3,#08fff7,#07fff8,#0dfff2,#12ffed,#14ffeb,#14ffeb,#13ffec,#10ffef,#0cfff3)"></i><i style="top:114px;height:2px;background:linear-gradient(90deg,#50ffaf,#96ff69,#a7ff58,#a7ff58,#b3ff4c,#b9ff46,#afff50,#95ff6a,#6fff90,#5effa1,#81ff7e,#bdff42,#eaff15,#fbfb04,#fef901,#fcfa03,#eefe11,#b9ff46,#47fcb8,#0094ff,#000dee,#0000bc,#0000b2,#0000b1,#0000b1,#0000b1,#0000b1,#0000b1,#0000b1,#0000b1,#0000b1,#0000b1,#0000b1,#0000b1,#0000b2,#0000bd,#0009ee,#007bff,#02ecfd,#15ffea,#10ffef,#00e9ff,#2ef8d1,#c8ff37,#ecfb13,#d6ff29,#e9fc16,#fee801,#ffd000,#ffc200,#ffba00,#ffb800,#ffbb00,#ffc200,#ffd000,#ffe700,#f1fb0e,#c7ff38,#90ff6f,#56ffa9,#26ffd9,#08fef7,#00faff,#00f8ff,#00f6ff,#00f3ff,#00efff,#00edff,#00f0ff,#00f4ff,#00f7ff)"></i><i style="top:116px;height:2px;background:linear-gradient(90deg,#6aff95,#a8ff57,#d2ff2d,#ecff13,#f7fc08,#f9fb06,#f6fc09,#ebff14,#d3ff2c,#c5ff3a,#d4ff2b,#f3ff0c,#fff600,#fff000,#fff000,#fff000,#fff500,#eeff11,#98ff67,#10dcef,#002ffd,#0000c5,#0000b0,#0000af,#0000af,#0000af,#0000af,#0000af,#0000b0,#0000b0,#0000af,#0000af,#0000af,#0000af,#0000af,#0000b8,#0004e7,#0066ff,#00dbff,#07fff8,#02f7fd,#00bfff,#00baff,#46fdb9,#74ff8b,#5effa1,#88ff77,#beff41,#e2fe1d,#f2f60d,#faf005,#fcee03,#faf005,#f4f50b,#e8fd17,#ccff33,#a5ff5a,#78ff87,#4affb5,#22ffdd,#07fef8,#00f6ff,#00ebff,#00dbff,#00c4ff,#00aaff,#0098ff,#0093ff,#009dff,#00b2ff,#00c8ff)"></i><i style="top:118px;height:2px;background:linear-gradient(90deg,#a1ff5e,#daff25,#fafd05,#fff200,#ffeb00,#ffea00,#ffeb00,#fff000,#fcfb03,#f1ff0e,#efff10,#fcfe03,#fff400,#fff000,#fff000,#fff000,#fff500,#eeff11,#98ff67,#10dbef,#002dfc,#0000c2,#0000ad,#0000ac,#0000ac,#0000ad,#0000ad,#0000ae,#0000ae,#0000ae,#0000ae,#0000ad,#0000ad,#0000ac,#0000ac,#0000b3,#0000de,#004dff,#00bfff,#00efff,#00e0ff,#00a0ff,#0072ff,#00b2ff,#00dbff,#01dffe,#19f9e6,#48ffb7,#72ff8d,#90ff6f,#a2ff5d,#a9ff56,#a6ff59,#9aff65,#86ff79,#6aff95,#4bffb4,#2cffd3,#12ffed,#03fcfc,#00f4ff,#00eaff,#00d2ff,#00a9ff,#0077ff,#004eff,#0037ff,#0031ff,#003dff,#005aff,#007fff)"></i><i style="top:120px;height:2px;background:linear-gradient(90deg,#c3ff3c,#f4fe0b,#fff100,#ffe800,#ffe600,#ffe600,#ffe600,#ffe800,#ffef00,#fdfc02,#efff10,#edff12,#f6fe09,#fcfa03,#fff900,#fcfa03,#eefe11,#b9ff46,#46fbb9,#008fff,#0009ea,#0000b4,#0000aa,#0000a9,#0000aa,#0000aa,#0000ab,#0000ab,#0000ac,#0000ac,#0000ab,#0000ab,#0000aa,#0000aa,#0000aa,#0000af,#0000d2,#0030ff,#009cff,#00d0ff,#00c2ff,#0087ff,#0057ff,#0064ff,#0080ff,#0098ff,#00beff,#01e3fe,#0ef7f1,#20ffdf,#31ffce,#3affc5,#3affc5,#34ffcb,#28ffd7,#1affe5,#0cfff3,#03fcfc,#00f6ff,#00f2ff,#00edff,#00dbff,#00aeff,#006dff,#0032ff,#000efe,#0002f9,#0000f7,#0005fa,#0017ff,#003aff)"></i><i style="top:122px;height:2px;background:linear-gradient(90deg,#ceff31,#fafd05,#ffed00,#ffe700,#ffe600,#ffe600,#ffe600,#ffe600,#ffeb00,#fcfb03,#deff21,#bbff44,#acff53,#afff50,#b2ff4d,#a2ff5d,#73ff8c,#28edd7,#008eff,#0016f4,#0000c1,#0000ac,#0000a9,#0000a8,#0000a8,#0000a8,#0000a9,#0000a9,#0000a9,#0000a9,#0000a9,#0000a9,#0000a8,#0000a8,#0000a8,#0000ad,#0000c8,#0019fb,#0076ff,#00aaff,#00a1ff,#0073ff,#0052ff,#0058ff,#0070ff,#0089ff,#00a3ff,#00bbff,#00d0ff,#00e2ff,#00efff,#00f6ff,#02f9fd,#01f9fe,#00f8ff,#00f6ff,#00f3ff,#00f1ff,#00f0ff,#00efff,#00e9ff,#00ccff,#008eff,#0044ff,#000efe,#0000f1,#0000e8,#0000e7,#0000ea,#0001f6,#0013ff)"></i><i style="top:124px;height:2px;background:linear-gradient(90deg,#c3ff3c,#f4fe0b,#fff100,#ffe800,#ffe600,#ffe600,#ffe600,#ffe700,#ffef00,#f6fe09,#c0ff3f,#6cff93,#23f6dc,#10daef,#0accf5,#01b9fe,#0084ff,#003bff,#0008ed,#0000c9,#0000b6,#0000ae,#0000aa,#0000a8,#0000a7,#0000a6,#0000a7,#0000a7,#0000a7,#0000a7,#0000a7,#0000a7,#0000a7,#0000a7,#0000a9,#0000af,#0000c5,#000bf7,#0053ff,#0084ff,#0083ff,#0066ff,#0056ff,#0062ff,#007aff,#0091ff,#00a6ff,#00b9ff,#00c9ff,#00d6ff,#00e0ff,#00e7ff,#00ebff,#00eeff,#00efff,#00efff,#00f0ff,#00f0ff,#00f0ff,#00efff,#00e7ff,#00c5ff,#0081ff,#0036ff,#0005fc,#0000eb,#0000e6,#0000e6,#0000e7,#0000f0,#0008ff)"></i><i style="top:126px;height:2px;background:linear-gradient(90deg,#a1ff5e,#daff25,#fafc05,#fff100,#ffeb00,#ffe900,#ffea00,#fff000,#fbfb04,#daff25,#93ff6c,#2bfdd4,#00b6ff,#0067ff,#0040ff,#0027ff,#000dff,#0000f3,#0000de,#0000ce,#0000c1,#0000b7,#0000b0,#0000ac,#0000a9,#0000a7,#0000a7,#0000a6,#0000a6,#0000a6,#0000a7,#0000a7,#0000a8,#0000ab,#0000af,#0000b8,#0000cc,#0006f6,#003dff,#0069ff,#0070ff,#0063ff,#0062ff,#0072ff,#0089ff,#009eff,#00b1ff,#00c2ff,#00cfff,#00daff,#00e2ff,#00e8ff,#00ebff,#00eeff,#00efff,#00f0ff,#00f0ff,#00f0ff,#00f0ff,#00efff,#00e9ff,#00ccff,#008eff,#0044ff,#000efe,#0000f1,#0000e8,#0000e7,#0000ea,#0001f6,#0013ff)"></i><i style="top:128px;height:2px;background:linear-gradient(90deg,#68ff97,#a4ff5b,#d1ff2e,#edff12,#f8fc07,#fafa05,#f8fb07,#efff10,#d2ff2d,#9eff61,#4dffb2,#05e5fa,#0093ff,#005dff,#0040ff,#002bff,#0018ff,#0007fe,#0000f4,#0000e4,#0000d5,#0000c9,#0000bf,#0000b8,#0000b2,#0000af,#0000ad,#0000ac,#0000ab,#0000ac,#0000ad,#0000af,#0000b2,#0000b8,#0000c1,#0000cd,#0000e2,#000bfd,#0039ff,#005eff,#006bff,#006bff,#0074ff,#0086ff,#009aff,#00adff,#00bfff,#00cdff,#00daff,#00e4ff,#00ebff,#00f1ff,#00f5ff,#00f7ff,#00f9ff,#00faff,#00f9ff,#00f9ff,#00f7ff,#00f5ff,#00f0ff,#00ddff,#00afff,#006eff,#0032ff,#000efe,#0002f9,#0000f7,#0005fa,#0017ff,#003aff)"></i><i style="top:130px;height:2px;background:linear-gradient(90deg,#27ffd8,#55ffaa,#82ff7d,#a4ff5b,#b9ff46,#c0ff3f,#b9ff46,#a4ff5b,#7dff82,#43ffbc,#0af3f5,#00bbff,#008bff,#006eff,#0058ff,#0045ff,#0033ff,#0021ff,#0010ff,#0003fb,#0000ef,#0000e2,#0000d7,#0000cd,#0000c7,#0000c2,#0000bf,#0000bd,#0000bd,#0000be,#0000c0,#0000c5,#0000cc,#0000d5,#0000e2,#0000f1,#0009fc,#0024ff,#0047ff,#0064ff,#0074ff,#007eff,#008cff,#009fff,#00b3ff,#00c6ff,#00d8ff,#00e7ff,#01f4fe,#07fbf8,#0dfff2,#14ffeb,#1affe5,#1effe1,#1fffe0,#1fffe0,#1dffe2,#1affe5,#15ffea,#0ffff0,#08fff7,#02f8fd,#00ddff,#00aeff,#0079ff,#004fff,#0037ff,#0031ff,#003cff,#005aff,#007fff)"></i><i style="top:132px;height:2px;background:linear-gradient(90deg,#02f5fd,#0df8f2,#1cfce3,#2affd5,#34ffcb,#35feca,#30f9cf,#25f1da,#14e7eb,#02d8fd,#00bbff,#00a3ff,#0091ff,#0082ff,#0072ff,#0060ff,#004eff,#003bff,#0028ff,#0016ff,#0006fe,#0000f6,#0000eb,#0000e2,#0000dc,#0000d9,#0000d7,#0000d8,#0000da,#0000de,#0000e4,#0000eb,#0001f4,#0007fa,#000fff,#001fff,#0032ff,#0048ff,#0063ff,#007cff,#0090ff,#00a1ff,#00b6ff,#00cdff,#00e3ff,#05f3fa,#10fdef,#21ffde,#31ffce,#3fffc0,#4affb5,#51ffae,#54ffab,#55ffaa,#52ffad,#4effb1,#48ffb7,#42ffbd,#39ffc6,#30ffcf,#24ffdb,#17ffe8,#07fdf8,#00eaff,#00c9ff,#00aaff,#0095ff,#008fff,#0098ff,#00aeff,#00c5ff)"></i><i style="top:134px;height:2px;background:linear-gradient(90deg,#00a0ff,#0087ff,#0072ff,#005fff,#0051ff,#0045ff,#003dff,#0038ff,#0036ff,#0038ff,#003eff,#0047ff,#0051ff,#005bff,#0061ff,#0060ff,#0057ff,#0047ff,#0031ff,#001bff,#0008ff,#0000f7,#0000ec,#0000e5,#0000e1,#0000e1,#0000e4,#0000ea,#0000f2,#0002fb,#0009ff,#0016ff,#0022ff,#0030ff,#003eff,#004eff,#0061ff,#0077ff,#0092ff,#00aeff,#00c9ff,#01e4fe,#0df4f2,#1efee1,#37ffc8,#4effb1,#63ff9c,#75ff8a,#84ff7b,#90ff6f,#98ff67,#9dff62,#9dff62,#9aff65,#94ff6b,#8bff74,#81ff7e,#74ff8b,#65ff9a,#54ffab,#41ffbe,#2effd1,#1cffe3,#0afff5,#01f6fe,#00e7ff,#00dcff,#00d8ff,#00dbff,#00e2ff,#00e8ff)"></i><i style="top:136px;height:2px;background:linear-gradient(90deg,#003aff,#001cff,#0008fd,#0001f6,#0000ee,#0000ea,#0000e9,#0000e8,#0000e9,#0000eb,#0000ef,#0001f7,#0007fd,#0017ff,#002bff,#003bff,#0040ff,#0038ff,#0025ff,#000dff,#0001f6,#0000e6,#0000db,#0000d5,#0000d3,#0000d5,#0000dc,#0000e6,#0000f5,#0009ff,#001dff,#0033ff,#0047ff,#005aff,#006dff,#0083ff,#009cff,#00b9ff,#00dbff,#0cf3f3,#24ffdb,#47ffb8,#68ff97,#86ff79,#9fff60,#b5ff4a,#c7ff38,#d6ff29,#e1ff1e,#e8fe17,#ebfc14,#edfb12,#ecfc13,#eaff15,#e2ff1d,#d6ff29,#c7ff38,#b4ff4b,#9eff61,#85ff7a,#6bff94,#51ffae,#37ffc8,#21ffde,#0ffff0,#03fdfc,#00f7ff,#00f2ff,#00f0ff,#00efff,#00f0ff)"></i><i style="top:138px;height:2px;background:linear-gradient(90deg,#003aff,#001cff,#0009fd,#0001f7,#0000f1,#0000ee,#0000ee,#0000ee,#0000ee,#0000ef,#0000f2,#0002f8,#000afd,#001bff,#002fff,#003dff,#003dff,#002dff,#0012ff,#0001f4,#0000dd,#0000cd,#0000c4,#0000bf,#0000bf,#0000c2,#0000c9,#0000d6,#0000e8,#0005fc,#0020ff,#0042ff,#0064ff,#0084ff,#00a2ff,#00c2ff,#01e4fe,#13faec,#37ffc8,#61ff9e,#89ff76,#adff52,#cdff32,#e7fd18,#f5f20a,#fee701,#ffd500,#ffc600,#ffb900,#ffaf00,#ffa900,#ffa600,#ffa700,#ffab00,#ffb500,#ffc300,#ffd600,#f9e706,#ecf613,#d5ff2a,#b3ff4c,#90ff6f,#6fff90,#4fffb0,#34ffcb,#1dffe2,#0bfff4,#02fdfd,#00f7ff,#00f3ff,#00f1ff)"></i><i style="top:140px;height:2px;background:linear-gradient(90deg,#00a4ff,#0090ff,#0081ff,#0079ff,#0077ff,#0077ff,#0079ff,#0079ff,#0078ff,#0076ff,#0075ff,#0077ff,#007cff,#0082ff,#0080ff,#006fff,#004fff,#0026ff,#0004f9,#0000dd,#0000c7,#0000ba,#0000b3,#0000b0,#0000b0,#0000b2,#0000b8,#0000c4,#0000d7,#0000f3,#001bff,#004aff,#007cff,#00adff,#00dbff,#0efaf1,#35ffca,#62ff9d,#8fff70,#b9ff46,#dfff20,#f7f408,#ffdb00,#ffbc00,#ffa000,#ff8600,#ff7000,#ff5d00,#ff4e00,#ff4300,#ff3c00,#ff3700,#ff3600,#ff3900,#ff3f00,#ff4900,#ff5800,#ff6d00,#ff8a00,#ffad00,#fed601,#ecf413,#c5ff3a,#96ff69,#6bff94,#46ffb9,#29ffd6,#12ffed,#04fefb,#00f8ff,#00f4ff)"></i><i style="top:142px;height:2px;background:linear-gradient(90deg,#10fdef,#20ffdf,#33ffcc,#45ffba,#54ffab,#5fffa0,#65ff9a,#66ff99,#63ff9c,#5bffa4,#4dffb2,#3bffc4,#23ffdc,#0df4f2,#00d2ff,#0096ff,#0055ff,#001aff,#0000eb,#0000cb,#0000b9,#0000af,#0000ab,#0000aa,#0000aa,#0000ab,#0000af,#0000b8,#0000ca,#0000e8,#0016ff,#0051ff,#0093ff,#00d5ff,#14fdeb,#47ffb8,#78ff87,#a7ff58,#d4ff2b,#f7f808,#ffd700,#ffb000,#ff8a00,#ff6700,#ff4a00,#ff3200,#ff2000,#ff1300,#fe0a00,#fb0600,#fa0300,#f90200,#f80100,#f90200,#f90300,#fb0600,#fe0b00,#ff1400,#ff2500,#ff3d00,#ff6000,#ff8d00,#ffc600,#eef411,#b8ff47,#7eff81,#50ffaf,#2cffd3,#13ffec,#03fefc,#00f9ff)"></i><i style="top:144px;height:2px;background:linear-gradient(90deg,#52ffad,#72ff8d,#8dff72,#a0ff5f,#aeff51,#b6ff49,#baff45,#bbff44,#b9ff46,#b3ff4c,#aaff55,#9aff65,#81ff7e,#5affa5,#21fdde,#00ceff,#0074ff,#0022ff,#0000e7,#0000c5,#0000b3,#0000ab,#0000a9,#0000a8,#0000a8,#0000a9,#0000ab,#0000b3,#0000c5,#0000e5,#0019ff,#005dff,#00abff,#06f2f9,#3dffc2,#76ff89,#a9ff56,#d9ff26,#fcf303,#ffc800,#ff9900,#ff6e00,#ff4800,#ff2a00,#ff1400,#fd0600,#f80000,#f20000,#ee0000,#eb0000,#e90000,#e90000,#e80000,#e90000,#e90000,#eb0000,#ed0000,#f10000,#f80000,#fd0700,#ff1800,#ff3700,#ff6400,#ffa200,#fae705,#c5ff3a,#80ff7f,#4bffb4,#26ffd9,#0efff1,#01fefe)"></i><i style="top:146px;height:2px;background:linear-gradient(90deg,#89ff76,#a6ff59,#b9ff46,#c4ff3b,#cbff34,#cdff32,#cfff30,#cfff30,#ceff31,#cdff32,#c9ff36,#c1ff3e,#b2ff4d,#97ff68,#66ff99,#1dfbe2,#00b3ff,#004bff,#0005f4,#0000ca,#0000b4,#0000ac,#0000a9,#0000a8,#0000a8,#0000a9,#0000ac,#0000b4,#0000c7,#0000eb,#0024ff,#006eff,#00c2ff,#16fde9,#59ffa6,#94ff6b,#c8ff37,#f6fb09,#ffd200,#ff9e00,#ff6d00,#ff4300,#ff2200,#ff0b00,#fa0100,#f10000,#eb0000,#e80000,#e70000,#e60000,#e60000,#e60000,#e60000,#e60000,#e60000,#e60000,#e70000,#e80000,#eb0000,#f00000,#fa0100,#ff0e00,#ff2e00,#ff6000,#ffa500,#f6f009,#b1ff4e,#6aff95,#37ffc8,#17ffe8,#06fff9)"></i><i style="top:148px;height:2px;background:linear-gradient(90deg,#a3ff5c,#baff45,#c7ff38,#cdff32,#d0ff2f,#d1ff2e,#d1ff2e,#d1ff2e,#d1ff2e,#d1ff2e,#cfff30,#ccff33,#c3ff3c,#b0ff4f,#8bff74,#48ffb7,#04e3fb,#0078ff,#001afe,#0000db,#0000bd,#0000b0,#0000ac,#0000aa,#0000aa,#0000ac,#0000b0,#0000bc,#0000d3,#0004f7,#0037ff,#0083ff,#00d5ff,#24ffdb,#67ff98,#a0ff5f,#d4ff2b,#fcf303,#ffc000,#ff8900,#ff5800,#ff3000,#ff1200,#fd0100,#f20000,#ec0000,#e80000,#e60000,#e60000,#e60000,#e60000,#e60000,#e60000,#e60000,#e60000,#e60000,#e60000,#e60000,#e80000,#eb0000,#f10000,#fd0200,#ff1900,#ff4400,#ff8300,#ffd700,#ccff33,#7bff84,#40ffbf,#1bffe4,#08fff7)"></i><i style="top:150px;height:2px;background:linear-gradient(90deg,#a3ff5c,#baff45,#c7ff38,#cdff32,#d0ff2f,#d1ff2e,#d1ff2e,#d1ff2e,#d1ff2e,#d1ff2e,#cfff30,#ccff33,#c3ff3c,#b1ff4e,#8eff71,#52ffad,#09f0f6,#0091ff,#0034ff,#0002f2,#0000d1,#0000bf,#0000b7,#0000b3,#0000b3,#0000b7,#0000bf,#0000d0,#0000ec,#0019ff,#0054ff,#009bff,#00e5ff,#2affd5,#66ff99,#9aff65,#cdff32,#f9f706,#ffc600,#ff8d00,#ff5a00,#ff3100,#ff1300,#fd0200,#f20000,#ec0000,#e80000,#e60000,#e60000,#e60000,#e60000,#e60000,#e60000,#e60000,#e60000,#e60000,#e60000,#e60000,#e80000,#eb0000,#f20000,#fd0300,#ff1b00,#ff4600,#ff8700,#ffdc00,#c6ff39,#76ff89,#3cffc3,#18ffe7,#06fff9)"></i><i style="top:152px;height:2px;background:linear-gradient(90deg,#89ff76,#a6ff59,#b9ff46,#c4ff3b,#cbff34,#cdff32,#cfff30,#cfff30,#ceff31,#cdff32,#c9ff36,#c1ff3e,#b3ff4c,#9cff63,#75ff8a,#3cffc3,#04ebfb,#009bff,#0050ff,#001bff,#0003f4,#0000e1,#0000d4,#0000ce,#0000ce,#0000d4,#0000e1,#0003f4,#0018ff,#0044ff,#0079ff,#00b4ff,#01eefe,#26ffd9,#57ffa8,#85ff7a,#b3ff4c,#e4ff1b,#ffe400,#ffad00,#ff7700,#ff4900,#ff2500,#ff0d00,#fa0100,#f10000,#ec0000,#e90000,#e70000,#e60000,#e60000,#e60000,#e60000,#e60000,#e60000,#e60000,#e70000,#e80000,#eb0000,#f10000,#fb0100,#ff1100,#ff3400,#ff6a00,#ffb300,#edf812,#9eff61,#59ffa6,#2affd5,#0ffff0,#01fefe)"></i><i style="top:154px;height:2px;background:linear-gradient(90deg,#52ffad,#72ff8d,#8dff72,#a0ff5f,#aeff51,#b6ff49,#baff45,#bbff44,#b9ff46,#b3ff4c,#aaff55,#9aff65,#84ff7b,#66ff99,#41ffbe,#14feeb,#00dfff,#00abff,#007cff,#0054ff,#0033ff,#001bff,#000efc,#000af9,#000af9,#000efc,#001bff,#0033ff,#0054ff,#007aff,#00a4ff,#00cdff,#00f3ff,#19ffe6,#3dffc2,#62ff9d,#8bff74,#b6ff49,#e3fe1c,#fde602,#ffb300,#ff8000,#ff5400,#ff3200,#ff1800,#fe0800,#f90100,#f30000,#ee0000,#eb0000,#ea0000,#e90000,#e90000,#e90000,#e90000,#eb0000,#ed0000,#f20000,#f90100,#fe0a00,#ff1f00,#ff4300,#ff7600,#ffba00,#ebf514,#a6ff59,#63ff9c,#33ffcc,#15ffea,#04fefb,#00f9ff)"></i><i style="top:156px;height:2px;background:linear-gradient(90deg,#10fdef,#20ffdf,#32ffcd,#41ffbe,#4dffb2,#53ffac,#55ffaa,#52ffad,#4cffb3,#43ffbc,#37ffc8,#2cfad3,#21f3de,#14eeeb,#07e9f8,#00e0ff,#00d0ff,#00bdff,#00a7ff,#008fff,#0078ff,#0064ff,#0055ff,#004eff,#004dff,#0054ff,#0062ff,#0076ff,#008eff,#00a7ff,#00bfff,#00d4ff,#00e6ff,#04f4fb,#10fcef,#26ffd9,#44ffbb,#66ff99,#8aff75,#b2ff4d,#d8fa27,#efe410,#ffc600,#ff9b00,#ff7500,#ff5600,#ff3d00,#ff2a00,#ff1c00,#fe1300,#fb0d00,#fa0a00,#f90800,#fa0700,#fa0800,#fc0b00,#ff1100,#ff1e00,#ff3200,#ff5000,#ff7900,#ffae00,#f5e40a,#cafe35,#8aff75,#54ffab,#2dffd2,#13ffec,#04fefb,#00f8ff,#00f4ff)"></i><i style="top:158px;height:2px;background:linear-gradient(90deg,#00afff,#00a1ff,#0094ff,#0087ff,#007bff,#0070ff,#0066ff,#005dff,#0056ff,#0050ff,#004cff,#004aff,#004bff,#004eff,#0053ff,#005aff,#0063ff,#006aff,#0071ff,#0074ff,#0074ff,#0073ff,#0070ff,#006eff,#006eff,#0070ff,#0074ff,#0079ff,#007dff,#0081ff,#0082ff,#0082ff,#0082ff,#0082ff,#0085ff,#008dff,#0099ff,#00a9ff,#01bbfe,#0dc6f2,#1cd1e3,#2dddd2,#3febc0,#54faab,#75ff8a,#9bfe64,#b3ef4c,#c7de38,#dace25,#ecc113,#fcb603,#ffa200,#ff9000,#ff8500,#ff7f00,#ff8200,#ff8d00,#ffa100,#ffbf00,#f3db0c,#def421,#b6ff49,#85ff7a,#5affa5,#37ffc8,#1dffe2,#0bfff4,#02fcfd,#00f7ff,#00f3ff,#00f1ff)"></i><i style="top:160px;height:2px;background:linear-gradient(90deg,#0051ff,#003bff,#0029ff,#001bff,#0010ff,#0008ff,#0004fe,#0002fd,#0001fd,#0000fd,#0000fc,#0000fc,#0001fd,#0002fd,#0003fe,#0006ff,#000bff,#0012ff,#001aff,#0022ff,#002aff,#002fff,#0032ff,#0031ff,#002eff,#0028ff,#0020ff,#0019fd,#0015f8,#0011f3,#000dee,#0009ea,#0006e7,#0003e5,#0001e3,#0001e2,#0002e2,#0004e3,#0007e4,#000ce6,#0012e9,#0019ed,#0022f2,#002df8,#003bfe,#0052ff,#006eff,#008cff,#01adfe,#10c2ef,#23d3dc,#35e4ca,#44f4bb,#54feab,#67ff98,#70ff8f,#6fff90,#65ff9a,#54ffab,#3ffec0,#2ff7d0,#21f0de,#14eaeb,#0ae6f5,#03e5fc,#00e3ff,#00e2ff,#00e3ff,#00e6ff,#00e9ff,#00ebff)"></i><i style="top:162px;height:2px;background:linear-gradient(90deg,#0051ff,#003bff,#0029ff,#001bff,#0010ff,#0008ff,#0004fe,#0002fd,#0001fd,#0000fc,#0000fc,#0000fc,#0000fd,#0001fd,#0002fd,#0004ff,#0007ff,#000bff,#000eff,#0011ff,#0012ff,#000fff,#0009ff,#0004fa,#0000f1,#0000e4,#0000d7,#0000ca,#0000c0,#0000b8,#0000b1,#0000ad,#0000a9,#0000a7,#0000a6,#0000a5,#0000a4,#0000a4,#0000a4,#0000a5,#0000a7,#0000aa,#0000ad,#0000b2,#0000b9,#0000c3,#0000cf,#0000de,#0004ec,#0011f5,#0020fe,#0039ff,#0051ff,#0066ff,#0073ff,#0079ff,#0078ff,#0072ff,#0069ff,#0060ff,#0058ff,#0053ff,#0052ff,#0054ff,#005aff,#0064ff,#0072ff,#0084ff,#0099ff,#00aeff,#00bfff)"></i><i style="top:164px;height:2px;background:linear-gradient(90deg,#00acff,#009bff,#008aff,#007aff,#006cff,#005fff,#0055ff,#004dff,#0046ff,#0042ff,#003fff,#003eff,#003dff,#003dff,#003dff,#003cff,#003bff,#0037ff,#0030ff,#0026ff,#0019ff,#000aff,#0000f9,#0000e8,#0000d8,#0000c9,#0000bd,#0000b4,#0000ad,#0000a7,#0000a4,#0000a2,#0000a0,#00009f,#00009f,#00009f,#00009f,#00009f,#00009f,#00009f,#00009f,#0000a0,#0000a1,#0000a2,#0000a5,#0000aa,#0000b0,#0000b9,#0000c5,#0000d4,#0000e6,#0000f8,#000aff,#0016ff,#001bff,#001bff,#0017ff,#0012ff,#000cff,#0007ff,#0005fe,#0004fe,#0004fd,#0005fe,#0008ff,#000dff,#0017ff,#0026ff,#003bff,#0056ff,#0070ff)"></i><i style="top:166px;height:2px;background:linear-gradient(90deg,#00ecff,#00eaff,#00e7ff,#00e4ff,#00e1ff,#00deff,#00dbff,#00d7ff,#00d4ff,#00d1ff,#00ceff,#00c9ff,#00c4ff,#00bcff,#00b3ff,#00a7ff,#0098ff,#0087ff,#0073ff,#005eff,#0048ff,#0032ff,#001dff,#000dfb,#0004f2,#0000e6,#0000d8,#0000cd,#0000c4,#0000bd,#0000b7,#0000b3,#0000b0,#0000ae,#0000ad,#0000ac,#0000ab,#0000ab,#0000ab,#0000ab,#0000ac,#0000ae,#0000b0,#0000b3,#0000b7,#0000bd,#0000c5,#0000cf,#0000dc,#0000eb,#0004f6,#000bfe,#0014ff,#0019ff,#0017ff,#0012ff,#000bff,#0005ff,#0001ff,#0000fd,#0000fc,#0000fc,#0000fc,#0000fc,#0000fc,#0000fe,#0004ff,#000eff,#001eff,#0036ff,#004fff)"></i><i style="top:168px;height:2px;background:linear-gradient(90deg,#00f1ff,#00f2ff,#00f2ff,#00f2ff,#00f3ff,#00f3ff,#00f4ff,#00f4ff,#00f4ff,#00f4ff,#00f4ff,#00f2ff,#00f0ff,#00edff,#00e8ff,#00e1ff,#00d9ff,#00ceff,#00c2ff,#00b4ff,#00a4ff,#0094ff,#0083ff,#0072ff,#0062ff,#0052ff,#0044ff,#0037ff,#002bff,#0024fc,#001ff8,#001cf5,#0019f2,#0017f0,#0015ef,#0014ee,#0013ed,#0012ed,#0012ed,#0012ed,#0013ee,#0014ef,#0015f1,#0018f3,#001bf6,#001efa,#0023fe,#002eff,#003aff,#0047ff,#0052ff,#0059ff,#005aff,#0055ff,#004bff,#003dff,#0030ff,#0024ff,#001cff,#0016ff,#0012ff,#0010ff,#000fff,#000fff,#0010ff,#0014ff,#001dff,#002aff,#003eff,#0058ff,#0071ff)"></i><i style="top:170px;height:2px;background:linear-gradient(90deg,#00f6ff,#00f7ff,#00f9ff,#00faff,#00fcff,#01fcfe,#02fdfd,#03fdfc,#03fefc,#04fffb,#05fffa,#06fff9,#07fff8,#07fff8,#07fff8,#07fff8,#07fef8,#07fcf8,#06faf9,#06f8f9,#05f5fa,#04f1fb,#02edfd,#01e9fe,#00e4ff,#00ddff,#00d7ff,#00d1ff,#00ccff,#00c6ff,#00c2ff,#00beff,#00bbff,#00b8ff,#00b6ff,#00b4ff,#00b3ff,#00b2ff,#00b1ff,#00b0ff,#00afff,#00afff,#00b0ff,#00b1ff,#00b2ff,#00b5ff,#00b8ff,#00bcff,#00c1ff,#00c6ff,#00caff,#00cbff,#00caff,#00c4ff,#00baff,#00aeff,#00a1ff,#0095ff,#008aff,#0081ff,#007aff,#0075ff,#0073ff,#0072ff,#0074ff,#007aff,#0083ff,#0090ff,#00a0ff,#00b2ff,#00c2ff)"></i><i style="top:172px;height:2px;background:linear-gradient(90deg,#03fefc,#05fffa,#07fff8,#0afff5,#0dfff2,#10ffef,#13ffec,#16ffe9,#19ffe6,#1bffe4,#1dffe2,#1fffe0,#21ffde,#23ffdc,#24ffdb,#25ffda,#25ffda,#26ffd9,#26ffd9,#26ffd9,#26ffd9,#26ffd9,#26ffd9,#26ffd9,#25ffda,#26ffd9,#26ffd9,#26ffd9,#27ffd8,#27ffd8,#28ffd7,#29ffd6,#2affd5,#2bffd4,#2bffd4,#2bffd4,#2bffd4,#2affd5,#29ffd6,#27ffd8,#25ffda,#22ffdd,#1fffe0,#1bffe4,#18ffe7,#14ffeb,#10ffef,#0cfff3,#09fff6,#07fef8,#06fef9,#05fefa,#05fefa,#06fdf9,#07fdf8,#08fcf7,#0afbf5,#0bf9f4,#0bf8f4,#0cf6f3,#0bf5f4,#0bf3f4,#0af2f5,#08f1f7,#07f0f8,#05f0fa,#03f1fc,#01f2fe,#00f3ff,#00f3ff,#00f2ff)"></i><i style="top:174px;height:2px;background:linear-gradient(90deg,#11ffee,#15ffea,#1affe5,#1effe1,#22ffdd,#26ffd9,#2affd5,#2effd1,#32ffcd,#35ffca,#38ffc7,#3affc5,#3cffc3,#3effc1,#3fffc0,#40ffbf,#41ffbe,#41ffbe,#42ffbd,#42ffbd,#42ffbd,#42ffbd,#42ffbd,#42ffbd,#42ffbd,#43ffbc,#43ffbc,#44ffbb,#46ffb9,#47ffb8,#49ffb6,#4bffb4,#4dffb2,#4effb1,#50ffaf,#51ffae,#51ffae,#51ffae,#50ffaf,#4fffb0,#4dffb2,#4affb5,#46ffb9,#42ffbd,#3dffc2,#37ffc8,#31ffce,#2affd5,#25ffda,#20ffdf,#1dffe2,#1bffe4,#1cffe3,#1effe1,#21ffde,#26ffd9,#2affd5,#2effd1,#31ffce,#33ffcc,#33ffcc,#33ffcc,#31ffce,#2dffd2,#28ffd7,#22ffdd,#1cffe3,#14ffeb,#0dfff2,#06fff9,#02fefd)"></i><i style="top:176px;height:2px;background:linear-gradient(90deg,#1fffe0,#25ffda,#2affd5,#2fffd0,#34ffcb,#39ffc6,#3dffc2,#41ffbe,#44ffbb,#47ffb8,#4affb5,#4cffb3,#4effb1,#4fffb0,#50ffaf,#51ffae,#51ffae,#52ffad,#52ffad,#51ffae,#51ffae,#51ffae,#51ffae,#50ffaf,#50ffaf,#50ffaf,#51ffae,#51ffae,#53ffac,#54ffab,#56ffa9,#57ffa8,#59ffa6,#5bffa4,#5dffa2,#5effa1,#60ff9f,#60ff9f,#61ff9e,#60ff9f,#5fffa0,#5effa1,#5bffa4,#57ffa8,#52ffad,#4dffb2,#46ffb9,#3fffc0,#39ffc6,#34ffcb,#30ffcf,#2fffd0,#2fffd0,#32ffcd,#37ffc8,#3cffc3,#41ffbe,#45ffba,#48ffb7,#4affb5,#4affb5,#4affb5,#48ffb7,#45ffba,#40ffbf,#39ffc6,#31ffce,#28ffd7,#1effe1,#14ffeb,#0dfff2)"></i><i style="top:178px;height:2px;background:linear-gradient(90deg,#28ffd7,#2dffd2,#33ffcc,#38ffc7,#3effc1,#42ffbd,#46ffb9,#4affb5,#4dffb2,#50ffaf,#52ffad,#53ffac,#54ffab,#55ffaa,#56ffa9,#56ffa9,#56ffa9,#56ffa9,#56ffa9,#56ffa9,#56ffa9,#56ffa9,#55ffaa,#55ffaa,#55ffaa,#54ffab,#55ffaa,#55ffaa,#56ffa9,#57ffa8,#59ffa6,#5affa5,#5cffa3,#5effa1,#60ff9f,#61ff9e,#63ff9c,#64ff9b,#65ff9a,#65ff9a,#65ff9a,#65ff9a,#63ff9c,#60ff9f,#5cffa3,#57ffa8,#51ffae,#4affb5,#44ffbb,#3effc1,#3bffc4,#3affc5,#3bffc4,#3effc1,#43ffbc,#48ffb7,#4dffb2,#51ffae,#53ffac,#54ffab,#55ffaa,#55ffaa,#53ffac,#51ffae,#4dffb2,#47ffb8,#3fffc0,#36ffc9,#2bffd4,#20ffdf,#16ffe9)"></i><i style="top:180px;height:2px;background:linear-gradient(90deg,#28ffd7,#2dffd2,#33ffcc,#38ffc7,#3effc1,#42ffbd,#46ffb9,#4affb5,#4dffb2,#50ffaf,#52ffad,#53ffac,#54ffab,#55ffaa,#56ffa9,#56ffa9,#56ffa9,#56ffa9,#56ffa9,#56ffa9,#56ffa9,#56ffa9,#55ffaa,#55ffaa,#55ffaa,#54ffab,#55ffaa,#55ffaa,#56ffa9,#57ffa8,#59ffa6,#5affa5,#5cffa3,#5effa1,#60ff9f,#61ff9e,#63ff9c,#64ff9b,#65ff9a,#65ff9a,#65ff9a,#65ff9a,#63ff9c,#60ff9f,#5cffa3,#57ffa8,#51ffae,#4affb5,#44ffbb,#3fffc0,#3cffc3,#3cffc3,#3effc1,#42ffbd,#47ffb8,#4cffb3,#50ffaf,#54ffab,#56ffa9,#56ffa9,#57ffa8,#57ffa8,#56ffa9,#54ffab,#51ffae,#4bffb4,#44ffbb,#3affc5,#2fffd0,#24ffdb,#1affe5)"></i><i style="top:182px;height:2px;background:linear-gradient(90deg,#1fffe0,#25ffda,#2affd5,#2fffd0,#34ffcb,#39ffc6,#3dffc2,#41ffbe,#44ffbb,#47ffb8,#4affb5,#4cffb3,#4effb1,#4fffb0,#50ffaf,#51ffae,#51ffae,#52ffad,#52ffad,#51ffae,#51ffae,#51ffae,#51ffae,#50ffaf,#50ffaf,#50ffaf,#51ffae,#51ffae,#53ffac,#54ffab,#56ffa9,#57ffa8,#59ffa6,#5bffa4,#5dffa2,#5effa1,#60ff9f,#60ff9f,#61ff9e,#60ff9f,#5fffa0,#5effa1,#5bffa4,#57ffa8,#52ffad,#4dffb2,#46ffb9,#40ffbf,#3affc5,#36ffc9,#34ffcb,#35ffca,#37ffc8,#3cffc3,#42ffbd,#48ffb7,#4dffb2,#50ffaf,#53ffac,#54ffab,#55ffaa,#55ffaa,#53ffac,#51ffae,#4dffb2,#47ffb8,#3fffc0,#36ffc9,#2bffd4,#20ffdf,#16ffe9)"></i><i style="top:184px;height:2px;background:linear-gradient(90deg,#11ffee,#15ffea,#1affe5,#1effe1,#22ffdd,#26ffd9,#2affd5,#2effd1,#32ffcd,#35ffca,#38ffc7,#3affc5,#3cffc3,#3effc1,#3fffc0,#40ffbf,#41ffbe,#41ffbe,#42ffbd,#42ffbd,#42ffbd,#42ffbd,#42ffbd,#42ffbd,#42ffbd,#43ffbc,#43ffbc,#44ffbb,#46ffb9,#47ffb8,#49ffb6,#4bffb4,#4dffb2,#4effb1,#50ffaf,#51ffae,#51ffae,#51ffae,#51ffae,#4fffb0,#4dffb2,#4affb5,#46ffb9,#42ffbd,#3dffc2,#37ffc8,#31ffce,#2cffd3,#27ffd8,#24ffdb,#23ffdc,#25ffda,#28ffd7,#2dffd2,#34ffcb,#3affc5,#3fffc0,#44ffbb,#47ffb8,#4affb5,#4affb5,#4affb5,#48ffb7,#45ffba,#40ffbf,#39ffc6,#31ffce,#28ffd7,#1effe1,#14ffeb,#0dfff2)"></i><i style="top:186px;height:2px;background:linear-gradient(90deg,#03fefc,#05fffa,#07fff8,#0afff5,#0dfff2,#10ffef,#13ffec,#16ffe9,#19ffe6,#1bffe4,#1dffe2,#1fffe0,#21ffde,#23ffdc,#24ffdb,#25ffda,#25ffda,#26ffd9,#26ffd9,#26ffd9,#27ffd8,#27ffd8,#27ffd8,#27ffd8,#28ffd7,#28ffd7,#29ffd6,#2affd5,#2bffd4,#2dffd2,#2effd1,#30ffcf,#31ffce,#32ffcd,#33ffcc,#33ffcc,#33ffcc,#33ffcc,#32ffcd,#30ffcf,#2effd1,#2bffd4,#27ffd8,#23ffdc,#1fffe0,#1bffe4,#17ffe8,#13ffec,#10ffef,#0efff1,#0efff1,#10ffef,#13ffec,#18ffe7,#1dffe2,#23ffdc,#28ffd7,#2dffd2,#30ffcf,#33ffcc,#33ffcc,#33ffcc,#31ffce,#2dffd2,#29ffd6,#23ffdc,#1cffe3,#15ffea,#0dfff2,#06fff9,#02fefd)"></i></div>
<svg style="left:38px;top:294px" width="212" height="188" viewBox="0 0 212 188"><path d="M86.7 0.5L87.5 2.1L87.8 3.5L88.1 5.5L88.2 7.5L88.0 9.5L87.7 11.5L87.3 12.5L86.5 14.1L85.5 15.2L84.5 15.7L83.1 15.5L81.9 14.5L81.3 13.5L80.5 11.9L80.2 10.5L80.0 8.5L79.9 6.5L80.1 4.5L80.5 2.5L80.9 1.5 M128.9 0.5L129.5 1.5L130.1 3.5L130.4 5.5L130.3 7.5L129.9 9.5L129.5 10.6L128.5 12.1L127.5 13.1L126.5 13.7L124.5 13.8L123.4 13.5L122.2 12.5L121.4 11.5L120.5 9.7L120.2 8.5L120.0 6.5L120.0 4.5L120.4 2.5L120.8 1.5 M154.2 0.5L154.6 1.5L155.0 3.5L155.4 5.5L155.6 6.5L155.7 8.5L155.8 10.5L155.8 12.5L155.7 14.5L155.6 16.5L155.5 18.0L155.2 19.5L154.8 21.5L154.5 22.8L153.8 24.5L153.2 25.5L152.3 26.5L150.6 26.5L149.7 25.5L149.1 24.5L148.5 23.1L148.1 21.5L147.7 19.5L147.5 18.5L147.3 16.5L147.1 14.5L147.1 12.5L147.1 10.5L147.2 8.5L147.4 6.5L147.5 5.2L147.9 3.5L148.3 1.5L148.7 0.5 M22.5 40.7L20.8 40.5L19.5 39.7L18.5 38.5L18.0 37.5L17.5 36.5L17.0 34.5L16.8 32.5L16.9 30.5L17.3 28.5L17.6 27.5L18.5 25.7L19.5 24.5L20.5 23.8L21.5 23.4L22.8 23.5L24.5 24.3L25.5 25.4L26.1 26.5L26.6 27.5L27.1 29.5L27.3 31.5L27.2 33.5L26.9 35.5L26.5 36.8L25.6 38.5L24.8 39.5L23.5 40.5L22.5 40.7 M181.5 41.6L179.5 41.7L178.1 41.5L176.5 41.0L175.4 40.5L174.1 39.5L173.1 38.5L172.4 37.5L171.6 35.5L171.5 34.5L171.5 33.3L172.0 31.5L172.5 30.3L173.5 29.0L174.5 28.1L175.5 27.5L177.5 26.7L178.5 26.4L180.5 26.4L181.8 26.5L183.5 27.1L184.5 27.5L185.9 28.5L186.9 29.5L187.6 30.5L188.3 32.5L188.5 34.5L187.9 36.5L187.5 37.5L186.5 38.9L185.5 39.8L184.5 40.5L182.5 41.3L181.5 41.6 M199.5 72.7L197.8 72.5L196.5 71.7L195.5 70.5L194.9 69.5L194.4 68.5L193.6 66.5L193.3 65.5L192.8 63.5L192.5 61.8L192.3 60.5L192.2 58.5L192.1 56.5L192.2 54.5L192.3 52.5L192.5 50.5L192.6 49.5L193.1 47.5L193.5 45.7L194.0 44.5L194.5 43.2L195.5 41.5L196.3 40.5L197.5 39.6L198.5 39.3L200.0 39.5L201.5 40.5L202.3 41.5L202.9 42.5L203.5 43.5L204.2 45.5L204.6 46.5L205.0 48.5L205.4 50.5L205.5 51.5L205.7 53.5L205.7 55.5L205.7 57.5L205.6 59.5L205.5 60.7L205.2 62.5L204.8 64.5L204.5 65.7L203.9 67.5L203.5 68.5L202.5 70.3L201.5 71.5L200.5 72.3L199.5 72.7 M4.5 52.3L2.7 51.5L2.2 50.5L1.6 48.5L1.4 47.5L1.4 45.5L1.5 43.7L1.9 42.5L2.5 41.2L4.5 40.8L5.7 41.5L6.4 43.5L6.6 44.5L6.6 46.5L6.5 48.2L6.1 49.5L5.5 51.3L4.5 52.3 M154.5 77.5L152.5 77.6L151.5 77.5L150.2 76.5L150.5 75.0L151.5 74.4L153.5 74.3L154.9 74.5L155.9 75.5L155.5 76.8L154.5 77.5 M54.5 93.6L52.5 93.9L50.5 93.8L49.3 93.5L47.5 92.7L46.5 91.9L45.5 90.6L45.2 89.5L45.5 87.5L46.1 86.5L47.2 85.5L48.5 84.8L49.5 84.5L51.5 84.1L53.5 84.2L54.7 84.5L56.5 85.3L57.5 86.0L58.5 87.3L58.9 88.5L58.6 90.5L58.0 91.5L56.9 92.5L55.5 93.2L54.5 93.6 M0.5 101.0L1.4 99.5L2.4 98.5L3.5 97.9L5.5 97.7L7.5 98.4L8.5 99.4L9.2 100.5L9.7 101.5L10.0 103.5L9.9 105.5L9.5 107.0L8.6 108.5L7.6 109.5L6.5 110.0L4.5 110.3L2.5 109.6L1.5 108.6L0.8 107.5 M150.5 109.6L148.5 109.8L146.5 109.8L144.5 109.7L143.0 109.5L141.5 109.2L139.5 108.6L138.5 108.1L137.4 107.5L136.2 106.5L135.8 104.5L136.5 103.5L137.9 102.5L139.5 101.9L140.5 101.5L142.5 101.0L144.5 100.6L145.7 100.5L147.5 100.4L149.3 100.5L150.5 100.6L152.5 101.0L154.5 101.5L155.5 101.9L156.8 102.5L157.9 103.5L158.5 104.5L158.5 105.5L157.5 107.0L156.5 107.7L155.0 108.5L153.5 109.0L151.5 109.4L150.5 109.6 M165.5 158.5L163.5 158.5L161.5 158.5L159.5 158.5L158.5 158.5L156.5 158.4L154.5 158.3L152.5 158.2L150.5 158.0L148.5 157.9L146.5 157.8L144.5 157.7L142.5 157.6L141.5 157.5L139.5 157.2L137.5 157.0L135.5 156.8L133.5 156.5L132.5 156.3L130.5 155.8L129.4 155.5L127.5 154.8L126.5 154.3L124.9 153.5L123.5 152.5L122.6 151.5L122.1 150.5L122.4 148.5L123.1 147.5L124.3 146.5L125.5 145.8L126.5 145.3L128.2 144.5L129.5 144.1L131.2 143.5L132.5 143.2L134.5 142.7L135.5 142.5L137.5 142.1L139.5 141.8L141.1 141.5L142.5 141.3L144.5 141.1L146.5 140.9L148.5 140.8L150.5 140.7L152.5 140.6L154.5 140.5L156.5 140.5L158.5 140.5L160.5 140.6L162.5 140.7L164.5 140.8L166.5 140.9L168.5 141.1L170.5 141.3L172.2 141.5L173.5 141.7L175.5 142.1L177.5 142.4L178.5 142.6L180.5 143.1L182.0 143.5L183.5 144.0L185.0 144.5L186.5 145.2L187.5 145.7L188.9 146.5L190.1 147.5L190.9 148.5L191.1 150.5L190.5 151.7L189.5 152.7L188.4 153.5L186.5 154.5L185.5 154.9L184.0 155.5L182.5 155.9L180.6 156.5L179.5 156.7L177.5 157.2L176.0 157.5L174.5 157.7L172.5 158.0L170.5 158.2L168.5 158.3L166.5 158.5L165.5 158.5" fill="none" stroke="#140500" stroke-width="1.3" stroke-linejoin="round"/><g filter="url(#bl)"><use href="#ar" transform="translate(55.1 4.0) rotate(-80)"/><use href="#ar" transform="translate(62.4 4.0) rotate(-80)"/><use href="#ar" transform="translate(84.3 4.0) rotate(-80)"/><use href="#ar" transform="translate(120.8 4.0) rotate(-80)"/><use href="#ar" transform="translate(128.1 4.0) rotate(-80)"/><use href="#ar" transform="translate(150.0 4.0) rotate(-80)"/><use href="#ar" transform="translate(171.9 4.0) rotate(-80)"/><use href="#ar" transform="translate(186.5 4.0) rotate(-80)"/><use href="#ar" transform="translate(55.1 10.2) rotate(-80)"/><use href="#ar" transform="translate(84.3 10.2) rotate(-80)"/><use href="#ar" transform="translate(120.8 10.2) rotate(-80)"/><use href="#ar" transform="translate(128.1 10.2) rotate(-80)"/><use href="#ar" transform="translate(150.0 10.2) rotate(-80)"/><use href="#ar" transform="translate(186.5 10.2) rotate(-80)"/><use href="#ar" transform="translate(55.1 16.4) rotate(-80)"/><use href="#ar" transform="translate(84.3 16.4) rotate(-80)"/><use href="#ar" transform="translate(150.0 16.4) rotate(-80)"/><use href="#ar" transform="translate(18.6 22.6) rotate(-80)"/><use href="#ar" transform="translate(25.9 22.6) rotate(-80)"/><use href="#ar" transform="translate(135.4 22.6) rotate(-80)"/><use href="#ar" transform="translate(150.0 22.6) rotate(-80)"/><use href="#ar" transform="translate(18.6 28.8) rotate(-80)"/><use href="#ar" transform="translate(25.9 28.8) rotate(-80)"/><use href="#ar" transform="translate(33.2 28.8) rotate(-80)"/><use href="#ar" transform="translate(77.0 28.8) rotate(-80)"/><use href="#ar" transform="translate(135.4 28.8) rotate(-80)"/><use href="#ar" transform="translate(150.0 28.8) rotate(-80)"/><use href="#ar" transform="translate(171.9 28.8) rotate(-80)"/><use href="#ar" transform="translate(179.2 28.8) rotate(-80)"/><use href="#ar" transform="translate(186.5 28.8) rotate(-80)"/><use href="#ar" transform="translate(18.6 35.0) rotate(-80)"/><use href="#ar" transform="translate(25.9 35.0) rotate(-80)"/><use href="#ar" transform="translate(33.2 35.0) rotate(-80)"/><use href="#ar" transform="translate(69.7 35.0) rotate(-80)"/><use href="#ar" transform="translate(77.0 35.0) rotate(-80)"/><use href="#ar" transform="translate(135.4 35.0) rotate(-80)"/><use href="#ar" transform="translate(171.9 35.0) rotate(-80)"/><use href="#ar" transform="translate(179.2 35.0) rotate(-80)"/><use href="#ar" transform="translate(186.5 35.0) rotate(-80)"/><use href="#ar" transform="translate(193.8 35.0) rotate(-80)"/><use href="#ar" transform="translate(201.1 35.0) rotate(-80)"/><use href="#ar" transform="translate(4.0 41.2) rotate(-80)"/><use href="#ar" transform="translate(18.6 41.2) rotate(-80)"/><use href="#ar" transform="translate(25.9 41.2) rotate(-80)"/><use href="#ar" transform="translate(33.2 41.2) rotate(-80)"/><use href="#ar" transform="translate(171.9 41.2) rotate(-80)"/><use href="#ar" transform="translate(179.2 41.2) rotate(-80)"/><use href="#ar" transform="translate(186.5 41.2) rotate(-80)"/><use href="#ar" transform="translate(193.8 41.2) rotate(-80)"/><use href="#ar" transform="translate(201.1 41.2) rotate(-80)"/><use href="#ar" transform="translate(4.0 47.4) rotate(-80)"/><use href="#ar" transform="translate(91.6 47.4) rotate(-80)"/><use href="#ar" transform="translate(193.8 47.4) rotate(-80)"/><use href="#ar" transform="translate(201.1 47.4) rotate(-80)"/><use href="#ar" transform="translate(4.0 53.6) rotate(-80)"/><use href="#ar" transform="translate(40.5 53.6) rotate(-80)"/><use href="#ar" transform="translate(91.6 53.6) rotate(-80)"/><use href="#ar" transform="translate(98.9 53.6) rotate(-80)"/><use href="#ar" transform="translate(128.1 53.6) rotate(-80)"/><use href="#ar" transform="translate(193.8 53.6) rotate(-80)"/><use href="#ar" transform="translate(201.1 53.6) rotate(-80)"/><use href="#ar" transform="translate(47.8 59.8) rotate(-80)"/><use href="#ar" transform="translate(91.6 59.8) rotate(-80)"/><use href="#ar" transform="translate(98.9 59.8) rotate(-80)"/><use href="#ar" transform="translate(120.8 59.8) rotate(-80)"/><use href="#ar" transform="translate(128.1 59.8) rotate(-80)"/><use href="#ar" transform="translate(193.8 59.8) rotate(-80)"/><use href="#ar" transform="translate(201.1 59.8) rotate(-80)"/><use href="#ar" transform="translate(91.6 66.0) rotate(-80)"/><use href="#ar" transform="translate(128.1 66.0) rotate(-80)"/><use href="#ar" transform="translate(150.0 66.0) rotate(-80)"/><use href="#ar" transform="translate(157.3 66.0) rotate(-80)"/><use href="#ar" transform="translate(164.6 66.0) rotate(-80)"/><use href="#ar" transform="translate(171.9 66.0) rotate(-80)"/><use href="#ar" transform="translate(193.8 66.0) rotate(-80)"/><use href="#ar" transform="translate(201.1 66.0) rotate(-80)"/><use href="#ar" transform="translate(150.0 72.2) rotate(-80)"/><use href="#ar" transform="translate(157.3 72.2) rotate(-80)"/><use href="#ar" transform="translate(164.6 72.2) rotate(-80)"/><use href="#ar" transform="translate(171.9 72.2) rotate(-80)"/><use href="#ar" transform="translate(193.8 72.2) rotate(-80)"/><use href="#ar" transform="translate(201.1 72.2) rotate(-80)"/><use href="#ar" transform="translate(150.0 78.4) rotate(-80)"/><use href="#ar" transform="translate(40.5 84.6) rotate(-80)"/><use href="#ar" transform="translate(47.8 84.6) rotate(-80)"/><use href="#ar" transform="translate(55.1 84.6) rotate(-80)"/><use href="#ar" transform="translate(62.4 84.6) rotate(-80)"/><use href="#ar" transform="translate(40.5 90.8) rotate(-80)"/><use href="#ar" transform="translate(47.8 90.8) rotate(-80)"/><use href="#ar" transform="translate(55.1 90.8) rotate(-80)"/><use href="#ar" transform="translate(62.4 90.8) rotate(-80)"/><use href="#ar" transform="translate(4.0 97.0) rotate(-80)"/><use href="#ar" transform="translate(11.3 97.0) rotate(-80)"/><use href="#ar" transform="translate(47.8 97.0) rotate(-80)"/><use href="#ar" transform="translate(55.1 97.0) rotate(-80)"/><use href="#ar" transform="translate(128.1 97.0) rotate(-80)"/><use href="#ar" transform="translate(135.4 97.0) rotate(-80)"/><use href="#ar" transform="translate(150.0 97.0) rotate(-80)"/><use href="#ar" transform="translate(157.3 97.0) rotate(-80)"/><use href="#ar" transform="translate(164.6 97.0) rotate(-80)"/><use href="#ar" transform="translate(4.0 103.2) rotate(-80)"/><use href="#ar" transform="translate(11.3 103.2) rotate(-80)"/><use href="#ar" transform="translate(128.1 103.2) rotate(-80)"/><use href="#ar" transform="translate(135.4 103.2) rotate(-80)"/><use href="#ar" transform="translate(142.7 103.2) rotate(-80)"/><use href="#ar" transform="translate(150.0 103.2) rotate(-80)"/><use href="#ar" transform="translate(157.3 103.2) rotate(-80)"/><use href="#ar" transform="translate(164.6 103.2) rotate(-80)"/><use href="#ar" transform="translate(171.9 103.2) rotate(-80)"/><use href="#ar" transform="translate(179.2 103.2) rotate(-80)"/><use href="#ar" transform="translate(4.0 109.4) rotate(-80)"/><use href="#ar" transform="translate(11.3 109.4) rotate(-80)"/><use href="#ar" transform="translate(128.1 109.4) rotate(-80)"/><use href="#ar" transform="translate(135.4 109.4) rotate(-80)"/><use href="#ar" transform="translate(142.7 109.4) rotate(-80)"/><use href="#ar" transform="translate(150.0 109.4) rotate(-80)"/><use href="#ar" transform="translate(157.3 109.4) rotate(-80)"/><use href="#ar" transform="translate(164.6 109.4) rotate(-80)"/><use href="#ar" transform="translate(171.9 109.4) rotate(-80)"/><use href="#ar" transform="translate(179.2 109.4) rotate(-80)"/><use href="#ar" transform="translate(4.0 115.6) rotate(-80)"/><use href="#ar" transform="translate(11.3 115.6) rotate(-80)"/><use href="#ar" transform="translate(18.6 115.6) rotate(-80)"/><use href="#ar" transform="translate(25.9 115.6) rotate(-80)"/><use href="#ar" transform="translate(33.2 115.6) rotate(-80)"/><use href="#ar" transform="translate(40.5 115.6) rotate(-80)"/><use href="#ar" transform="translate(47.8 115.6) rotate(-80)"/><use href="#ar" transform="translate(135.4 115.6) rotate(-80)"/><use href="#ar" transform="translate(142.7 115.6) rotate(-80)"/><use href="#ar" transform="translate(150.0 115.6) rotate(-80)"/><use href="#ar" transform="translate(157.3 115.6) rotate(-80)"/><use href="#ar" transform="translate(164.6 115.6) rotate(-80)"/><use href="#ar" transform="translate(171.9 115.6) rotate(-80)"/><use href="#ar" transform="translate(4.0 121.8) rotate(-80)"/><use href="#ar" transform="translate(11.3 121.8) rotate(-80)"/><use href="#ar" transform="translate(18.6 121.8) rotate(-80)"/><use href="#ar" transform="translate(25.9 121.8) rotate(-80)"/><use href="#ar" transform="translate(33.2 121.8) rotate(-80)"/><use href="#ar" transform="translate(40.5 121.8) rotate(-80)"/><use href="#ar" transform="translate(47.8 121.8) rotate(-80)"/><use href="#ar" transform="translate(4.0 128.0) rotate(-80)"/><use href="#ar" transform="translate(11.3 128.0) rotate(-80)"/><use href="#ar" transform="translate(18.6 128.0) rotate(-80)"/><use href="#ar" transform="translate(25.9 128.0) rotate(-80)"/><use href="#ar" transform="translate(150.0 134.2) rotate(-80)"/><use href="#ar" transform="translate(157.3 134.2) rotate(-80)"/><use href="#ar" transform="translate(120.8 140.4) rotate(-80)"/><use href="#ar" transform="translate(128.1 140.4) rotate(-80)"/><use href="#ar" transform="translate(135.4 140.4) rotate(-80)"/><use href="#ar" transform="translate(142.7 140.4) rotate(-80)"/><use href="#ar" transform="translate(150.0 140.4) rotate(-80)"/><use href="#ar" transform="translate(157.3 140.4) rotate(-80)"/><use href="#ar" transform="translate(164.6 140.4) rotate(-80)"/><use href="#ar" transform="translate(171.9 140.4) rotate(-80)"/><use href="#ar" transform="translate(179.2 140.4) rotate(-80)"/><use href="#ar" transform="translate(186.5 140.4) rotate(-80)"/><use href="#ar" transform="translate(4.0 146.6) rotate(-80)"/><use href="#ar" transform="translate(11.3 146.6) rotate(-80)"/><use href="#ar" transform="translate(18.6 146.6) rotate(-80)"/><use href="#ar" transform="translate(25.9 146.6) rotate(-80)"/><use href="#ar" transform="translate(33.2 146.6) rotate(-80)"/><use href="#ar" transform="translate(40.5 146.6) rotate(-80)"/><use href="#ar" transform="translate(106.2 146.6) rotate(-80)"/><use href="#ar" transform="translate(113.5 146.6) rotate(-80)"/><use href="#ar" transform="translate(120.8 146.6) rotate(-80)"/><use href="#ar" transform="translate(128.1 146.6) rotate(-80)"/><use href="#ar" transform="translate(135.4 146.6) rotate(-80)"/><use href="#ar" transform="translate(142.7 146.6) rotate(-80)"/><use href="#ar" transform="translate(150.0 146.6) rotate(-80)"/><use href="#ar" transform="translate(157.3 146.6) rotate(-80)"/><use href="#ar" transform="translate(164.6 146.6) rotate(-80)"/><use href="#ar" transform="translate(171.9 146.6) rotate(-80)"/><use href="#ar" transform="translate(179.2 146.6) rotate(-80)"/><use href="#ar" transform="translate(186.5 146.6) rotate(-80)"/><use href="#ar" transform="translate(193.8 146.6) rotate(-80)"/><use href="#ar" transform="translate(4.0 152.8) rotate(-80)"/><use href="#ar" transform="translate(11.3 152.8) rotate(-80)"/><use href="#ar" transform="translate(18.6 152.8) rotate(-80)"/><use href="#ar" transform="translate(25.9 152.8) rotate(-80)"/><use href="#ar" transform="translate(33.2 152.8) rotate(-80)"/><use href="#ar" transform="translate(40.5 152.8) rotate(-80)"/><use href="#ar" transform="translate(106.2 152.8) rotate(-80)"/><use href="#ar" transform="translate(113.5 152.8) rotate(-80)"/><use href="#ar" transform="translate(120.8 152.8) rotate(-80)"/><use href="#ar" transform="translate(128.1 152.8) rotate(-80)"/><use href="#ar" transform="translate(135.4 152.8) rotate(-80)"/><use href="#ar" transform="translate(142.7 152.8) rotate(-80)"/><use href="#ar" transform="translate(150.0 152.8) rotate(-80)"/><use href="#ar" transform="translate(157.3 152.8) rotate(-80)"/><use href="#ar" transform="translate(164.6 152.8) rotate(-80)"/><use href="#ar" transform="translate(171.9 152.8) rotate(-80)"/><use href="#ar" transform="translate(179.2 152.8) rotate(-80)"/><use href="#ar" transform="translate(186.5 152.8) rotate(-80)"/><use href="#ar" transform="translate(193.8 152.8) rotate(-80)"/><use href="#ar" transform="translate(128.1 159.0) rotate(-80)"/><use href="#ar" transform="translate(135.4 159.0) rotate(-80)"/><use href="#ar" transform="translate(142.7 159.0) rotate(-80)"/><use href="#ar" transform="translate(150.0 159.0) rotate(-80)"/><use href="#ar" transform="translate(157.3 159.0) rotate(-80)"/><use href="#ar" transform="translate(164.6 159.0) rotate(-80)"/><use href="#ar" transform="translate(171.9 159.0) rotate(-80)"/><use href="#ar" transform="translate(179.2 159.0) rotate(-80)"/><use href="#ar" transform="translate(186.5 159.0) rotate(-80)"/></g><polygon points="0,189 0,-1.0 1,-1.0 2,-1.0 3,-1.0 4,-1.0 5,14.0 6,25.9 7,35.6 8,43.8 9,51.0 10,57.3 11,62.9 12,68.0 13,72.6 14,76.9 15,80.8 16,84.5 17,88.0 18,91.2 19,94.3 20,97.1 21,99.9 22,102.5 23,105.0 24,107.3 25,109.6 26,111.8 27,113.9 28,115.9 29,117.8 30,119.7 31,121.5 32,123.3 33,125.0 34,126.6 35,128.2 36,129.8 37,131.3 38,132.7 39,134.1 40,135.5 41,136.9 42,138.2 43,139.5 44,140.7 45,142.0 46,143.2 47,144.3 48,145.5 49,146.6 50,147.7 51,148.8 52,149.9 53,150.9 54,151.9 55,152.9 56,153.9 57,154.8 58,155.8 59,156.7 60,157.6 61,158.5 62,159.4 63,160.3 64,161.1 65,162.0 66,162.8 67,163.6 68,164.4 69,165.2 70,166.0 71,166.8 72,167.5 73,168.3 74,169.0 75,169.7 76,170.4 77,171.1 78,171.8 79,172.5 80,173.2 81,173.9 82,174.5 83,175.2 84,175.9 85,176.5 86,177.1 87,177.7 88,178.4 89,179.0 90,179.6 91,180.2 92,180.8 93,181.3 94,181.9 95,182.5 96,183.1 97,183.6 98,184.2 99,184.7 100,185.3 101,185.8 102,186.3 103,186.9 104,187.4 105,187.9 106,188.4 107,188.9 108,189.0 109,189.0 110,189.0 111,188.7 112,188.2 113,187.6 114,187.1 115,186.5 116,186.0 117,185.4 118,184.8 119,184.3 120,183.7 121,183.1 122,182.5 123,181.9 124,181.3 125,180.7 126,180.1 127,179.4 128,178.8 129,178.2 130,177.5 131,176.9 132,176.2 133,175.5 134,174.8 135,174.1 136,173.4 137,172.7 138,172.0 139,171.3 140,170.5 141,169.8 142,169.0 143,168.2 144,167.5 145,166.7 146,165.9 147,165.0 148,164.2 149,163.4 150,162.5 151,161.6 152,160.7 153,159.8 154,158.9 155,158.0 156,157.0 157,156.0 158,155.1 159,154.0 160,153.0 161,152.0 162,150.9 163,149.8 164,148.7 165,147.6 166,146.4 167,145.2 168,144.0 169,142.8 170,141.5 171,140.2 172,138.9 173,137.5 174,136.1 175,134.7 176,133.2 177,131.7 178,130.1 179,128.5 180,126.8 181,125.1 182,123.3 183,121.5 184,119.6 185,117.6 186,115.5 187,113.4 188,111.2 189,108.9 190,106.4 191,103.9 192,101.2 193,98.4 194,95.5 195,92.3 196,89.0 197,85.4 198,81.6 199,77.5 200,73.1 201,68.2 202,62.9 203,57.0 204,50.3 205,42.7 206,33.8 207,23.2 208,9.8 209,-1.0 210,-1.0 211,-1.0 212,-1.0 212,189" fill="#fff" fill-opacity="0.5"/><polyline points="0,-1.0 1,-1.0 2,-1.0 3,-1.0 4,-1.0 5,14.0 6,25.9 7,35.6 8,43.8 9,51.0 10,57.3 11,62.9 12,68.0 13,72.6 14,76.9 15,80.8 16,84.5 17,88.0 18,91.2 19,94.3 20,97.1 21,99.9 22,102.5 23,105.0 24,107.3 25,109.6 26,111.8 27,113.9 28,115.9 29,117.8 30,119.7 31,121.5 32,123.3 33,125.0 34,126.6 35,128.2 36,129.8 37,131.3 38,132.7 39,134.1 40,135.5 41,136.9 42,138.2 43,139.5 44,140.7 45,142.0 46,143.2 47,144.3 48,145.5 49,146.6 50,147.7 51,148.8 52,149.9 53,150.9 54,151.9 55,152.9 56,153.9 57,154.8 58,155.8 59,156.7 60,157.6 61,158.5 62,159.4 63,160.3 64,161.1 65,162.0 66,162.8 67,163.6 68,164.4 69,165.2 70,166.0 71,166.8 72,167.5 73,168.3 74,169.0 75,169.7 76,170.4 77,171.1 78,171.8 79,172.5 80,173.2 81,173.9 82,174.5 83,175.2 84,175.9 85,176.5 86,177.1 87,177.7 88,178.4 89,179.0 90,179.6 91,180.2 92,180.8 93,181.3 94,181.9 95,182.5 96,183.1 97,183.6 98,184.2 99,184.7 100,185.3 101,185.8 102,186.3 103,186.9 104,187.4 105,187.9 106,188.4 107,188.9 108,189.0 109,189.0 110,189.0 111,188.7 112,188.2 113,187.6 114,187.1 115,186.5 116,186.0 117,185.4 118,184.8 119,184.3 120,183.7 121,183.1 122,182.5 123,181.9 124,181.3 125,180.7 126,180.1 127,179.4 128,178.8 129,178.2 130,177.5 131,176.9 132,176.2 133,175.5 134,174.8 135,174.1 136,173.4 137,172.7 138,172.0 139,171.3 140,170.5 141,169.8 142,169.0 143,168.2 144,167.5 145,166.7 146,165.9 147,165.0 148,164.2 149,163.4 150,162.5 151,161.6 152,160.7 153,159.8 154,158.9 155,158.0 156,157.0 157,156.0 158,155.1 159,154.0 160,153.0 161,152.0 162,150.9 163,149.8 164,148.7 165,147.6 166,146.4 167,145.2 168,144.0 169,142.8 170,141.5 171,140.2 172,138.9 173,137.5 174,136.1 175,134.7 176,133.2 177,131.7 178,130.1 179,128.5 180,126.8 181,125.1 182,123.3 183,121.5 184,119.6 185,117.6 186,115.5 187,113.4 188,111.2 189,108.9 190,106.4 191,103.9 192,101.2 193,98.4 194,95.5 195,92.3 196,89.0 197,85.4 198,81.6 199,77.5 200,73.1 201,68.2 202,62.9 203,57.0 204,50.3 205,42.7 206,33.8 207,23.2 208,9.8 209,-1.0 210,-1.0 211,-1.0 212,-1.0" fill="none" stroke="#222" stroke-width="0.6" opacity=".8"/></svg>
<div class="ax" style="left:37.7px;top:293.7px;width:212.6px;height:188.6px"></div>
<div class="cb" style="left:261.5px;top:294.5px;width:11.5px;height:188.5px"></div>
<div class="lb" style="left:276px;top:479.5px">0</div>
<div class="lb" style="left:276px;top:460.6px">0.1</div>
<div class="lb" style="left:276px;top:441.8px">0.2</div>
<div class="lb" style="left:276px;top:422.9px">0.3</div>
<div class="lb" style="left:276px;top:404.1px">0.4</div>
<div class="lb" style="left:276px;top:385.2px">0.5</div>
<div class="lb" style="left:276px;top:366.4px">0.6</div>
<div class="lb" style="left:276px;top:347.6px">0.7</div>
<div class="lb" style="left:276px;top:328.7px">0.8</div>
<div class="lb" style="left:276px;top:309.9px">0.9</div>
<div class="lb" style="left:276px;top:291.0px">1</div>
<div class="lb" style="right:649.0px;top:326.5px">4</div>
<div class="lb" style="right:649.0px;top:363.5px">8</div>
<div class="lb" style="right:649.0px;top:400.5px">16</div>
<div class="lb" style="right:649.0px;top:437.5px">32</div>
<div class="lb" style="right:649.0px;top:474.5px">64</div>
<div class="lb" style="left:5.2px;width:30px;text-align:center;top:387.1px;height:8px;font-size:8px;line-height:8px;transform:rotate(-90deg);transform-origin:50% 50%">Period</div>
<div class="lb" style="left:85.5px;width:12px;text-align:center;top:486.0px">50</div>
<div class="lb" style="left:138.5px;width:12px;text-align:center;top:486.0px">100</div>
<div class="lb" style="left:191.0px;width:12px;text-align:center;top:486.0px">150</div>
<div class="lb" style="left:243.0px;width:12px;text-align:center;top:486.0px">200</div>
<div class="cap" style="left:13.6px;top:520.6px;transform:scaleX(0.875)">NFT (TURBULENT) and CRIX excluding SP500</div>
<div class="card" style="left:369px;top:276px;width:309px;height:232.60000000000002px"></div>
<div class="hm" style="left:403px;top:294px;width:212px;height:188px"><i style="top:0px;height:2px;background:linear-gradient(90deg,#007eff,#00c7ff,#0bf7f4,#3dffc2,#00f2ff,#00f0ff,#00e2ff,#0050ff,#000afb,#0091ff,#9eff61,#adff52,#cfd730,#fe1b00,#fe1b00,#ced731,#1bfee4,#00cfff,#0037ff,#0000ed,#0037ff,#25dbda,#dbff24,#66d899,#0044ff,#64ef9b,#ff7b00,#65f89a,#00f0ff,#00e9ff,#5deea2,#daff25,#11bfee,#00e1ff,#0092ff,#0090ff,#0093ff,#003cff,#009cff,#96ff69,#98ff67,#00f1ff,#009aff,#003eff,#00ceff,#00efff,#00e9ff,#12faed,#c6e539,#fb2700,#dd0000,#f10a00,#f4ad0b,#3fffc0,#9afc65,#fae605,#2dc7d2,#0075ff,#00d6ff,#00f0ff,#00f0ff,#00e3ff,#0085ff,#0040ff,#0085ff,#00e3ff,#84f37b,#ffbf00,#2ff9d0,#00f0ff,#00f0ff)"></i><i style="top:2px;height:2px;background:linear-gradient(90deg,#005fff,#00b6ff,#24fadb,#87ff78,#04f5fb,#00f0ff,#00d9ff,#002ffa,#0000e3,#0077ff,#b2ff4d,#c1ff3e,#e9a816,#f50300,#f50300,#e8a817,#2fffd0,#00c2ff,#001df7,#0000d3,#001df7,#2fd2d0,#e2ff1d,#74d18b,#001eff,#88cd77,#fd1a00,#89da76,#00f0ff,#00e5ff,#56e5a9,#d9ff26,#0ba9f4,#00d0ff,#0055ff,#0052ff,#0068ff,#0010ff,#007fff,#c4ff3b,#c6ff39,#01f4fe,#007fff,#0025ff,#00bdff,#00efff,#00e4ff,#25fbda,#ebb114,#e40400,#c00000,#d00000,#ff6000,#73ff8c,#d1e82e,#ffb400,#51c7ae,#0040ff,#00c2ff,#00efff,#00f0ff,#00dbff,#0061ff,#0017ff,#0061ff,#00dbff,#a5e45a,#ffa400,#50faaf,#00efff,#00efff)"></i><i style="top:4px;height:2px;background:linear-gradient(90deg,#0046ff,#00a5ff,#47fbb8,#c3ff3c,#11f6ee,#00f0ff,#00d1ff,#001bf1,#0000ce,#005dfe,#b1ff4e,#c6ff39,#fa8605,#ec0000,#ec0000,#fb8504,#46ffb9,#00b6ff,#000fec,#0000c5,#000fec,#2ec6d1,#e2ff1d,#72c88d,#000ef7,#a5af5a,#de0000,#afb950,#00f0ff,#00e0ff,#0f95f0,#47ebb8,#004eff,#00baff,#0028ff,#0024ff,#003eff,#0000ec,#0064ff,#d5ff2a,#d8ff27,#04f4fb,#0071ff,#001eff,#00b4ff,#00eeff,#00dcff,#3cfbc3,#fe7e01,#cb0000,#b60000,#bd0000,#f52d00,#a5fa5a,#e9d316,#ffa300,#6ebd91,#0013fd,#00a9ff,#00efff,#00f0ff,#00d1ff,#003fff,#0000f4,#003fff,#00d1ff,#a5e45a,#ffa400,#50f9af,#00eaff,#00edff)"></i><i style="top:6px;height:2px;background:linear-gradient(90deg,#0034ff,#0096ff,#65fd9a,#e4ff1b,#20f8df,#00f0ff,#00c8ff,#0012e7,#0000c4,#0049f9,#9bff64,#c2ff3d,#ff6700,#e80000,#e80000,#ff6600,#5bffa4,#00adff,#0008e3,#0000bf,#0008e3,#23b8dc,#dbff24,#5dbba2,#0008f1,#a98f53,#c20000,#bf903e,#00f0ff,#00dbff,#0026f7,#0007dd,#0026f2,#00a7ff,#0012fe,#000dfe,#0020fb,#0000d5,#004cfc,#d4ff2b,#d8ff27,#04f4fb,#0071ff,#001eff,#00b4ff,#00ecff,#00d1ff,#51fbae,#fa5200,#be0000,#b30000,#b60000,#e91500,#c1e73e,#f3cb0c,#ffa000,#77b388,#0002ea,#008fff,#00eeff,#00efff,#00c6ff,#0026fb,#0000dc,#0026fb,#00c6ff,#83f37c,#ffbf00,#2ef6d1,#00d9ff,#00e3ff)"></i><i style="top:8px;height:2px;background:linear-gradient(90deg,#0029ff,#0089ff,#7aff85,#f2ff0d,#2dfad2,#00f0ff,#00c2ff,#000ce0,#0000bf,#003af4,#64fd9b,#b0ff4f,#fe5400,#e70000,#e70000,#fe5400,#6bff94,#00a8ff,#0004df,#0000bd,#0004df,#0eadf1,#bbff44,#37abc8,#0005ef,#ab7947,#b70000,#c4792f,#00f1ff,#00d7ff,#001ced,#0000be,#001ced,#009aff,#000bfd,#0006fd,#000ff4,#0000c7,#0037f5,#bfff40,#c6ff39,#01f4fe,#007fff,#0025ff,#00bdff,#00eaff,#00c3ff,#61fa9e,#f43b00,#b90000,#b30000,#b40000,#e00b00,#d4d92b,#f5cb0a,#ffa000,#73af8c,#0000d6,#0077ff,#00edff,#00efff,#00baff,#0015f3,#0000cc,#0015f3,#00baff,#37fac8,#bbfb44,#08ebf7,#00baff,#00cdff)"></i><i style="top:10px;height:2px;background:linear-gradient(90deg,#0022ff,#007fff,#87ff78,#f6ff09,#37fac8,#00f0ff,#00beff,#000ade,#0000be,#0034f2,#23f2dc,#8eff71,#fd4e00,#e60000,#e60000,#fd4e00,#75ff8a,#00a7ff,#0003dd,#0000bd,#0003dd,#00a4ff,#69ff96,#1790e8,#0006ee,#b56a38,#b40000,#cc6a21,#00f2ff,#00d5ff,#001aea,#0000bd,#001aea,#0098ff,#000bfd,#0005fd,#0008ef,#0000c1,#0025f0,#8aff75,#98ff67,#00f1ff,#009aff,#003eff,#00ceff,#00e6ff,#00b0ff,#69f796,#f23000,#b70000,#b30000,#b30000,#dc0600,#dcd323,#efd210,#ffa400,#5fada0,#0000c9,#0064ff,#00ecff,#00efff,#00afff,#000dea,#0000c3,#000dea,#00afff,#03f3fc,#17fde8,#00d8ff,#0093ff,#00aeff)"></i><i style="top:12px;height:2px;background:linear-gradient(90deg,#001fff,#0079ff,#8bff74,#f7ff08,#3bfac4,#00f0ff,#00beff,#000ade,#0000be,#0034f2,#06ecf9,#7aff85,#fe5100,#e70000,#e70000,#fe5100,#77ff88,#00aaff,#0004df,#0000bd,#0004df,#009fff,#11fdee,#0188fe,#0008ef,#bf612b,#b30000,#d36117,#00f3ff,#00d5ff,#001aea,#0000bd,#001aea,#00a1ff,#0012fe,#0009fe,#0009ea,#0000be,#001cec,#45eeba,#4afeb5,#00f0ff,#00beff,#0072ff,#00e0ff,#00e1ff,#009aff,#67f298,#f22f00,#b70000,#b30000,#b30000,#dc0600,#dbd224,#dee721,#ffb900,#3c92bb,#0000c3,#0058fe,#00ecff,#00efff,#00a6ff,#0008e3,#0000bf,#0008e3,#00a6ff,#00efff,#00f0ff,#00c5ff,#0071ff,#008dff)"></i><i style="top:14px;height:2px;background:linear-gradient(90deg,#001eff,#0076ff,#87ff78,#f6ff09,#37fac8,#00efff,#00c2ff,#000ce0,#0000bf,#0039f4,#03ecfc,#73ff8c,#ff5f00,#e80000,#e80000,#ff5f00,#72ff8d,#00b1ff,#0008e3,#0000bf,#0008e3,#00a6ff,#00f1ff,#008bff,#000df1,#c65d23,#b30000,#d85d11,#00f4ff,#00d7ff,#001ced,#0000be,#001ded,#00b4ff,#002dff,#001fff,#000ce8,#0000bd,#001ae9,#09e1f6,#0bf9f4,#00f0ff,#00ddff,#00b5ff,#00ecff,#00daff,#0080ff,#5aeaa5,#f43800,#b90000,#b30000,#b40000,#df0900,#d2d72d,#b2fb4d,#efed10,#0d67e1,#0000c1,#0054fc,#00ebff,#00efff,#00a0ff,#0005df,#0000bd,#0005df,#00a0ff,#00efff,#00efff,#00b3ff,#005cff,#0074ff)"></i><i style="top:16px;height:2px;background:linear-gradient(90deg,#001eff,#0076ff,#79ff86,#f2ff0d,#2dfad2,#00eeff,#00c6ff,#0011e7,#0000c4,#0043f8,#01edfe,#67ff98,#ff7b00,#ec0000,#ec0000,#ff7b00,#67ff98,#00bbff,#000fec,#0000c5,#000fec,#00b2ff,#00efff,#0097ff,#0014f7,#ca5d1f,#b30000,#d85d11,#00f4ff,#00dbff,#0026f1,#0000c3,#002df3,#00deff,#007fff,#005dff,#0014ea,#0000bd,#001ae9,#00d6ff,#00f1ff,#00f0ff,#00ecff,#00e5ff,#00f4ff,#00d2ff,#0064ff,#42e0bd,#fa4d00,#be0000,#b30000,#b60000,#e81200,#c4e13b,#64ff9b,#7cff83,#0028e2,#0000c1,#0054fc,#00ecff,#00f1ff,#009fff,#0003de,#0000bd,#0003dd,#009dff,#00eeff,#00efff,#00a4ff,#0052ff,#0064ff)"></i><i style="top:18px;height:2px;background:linear-gradient(90deg,#001fff,#0079ff,#65fd9a,#e4ff1b,#1ff5e0,#00e9ff,#00c7ff,#0019f0,#0000ce,#004ffe,#00ebff,#56ffa9,#f79d08,#f50300,#f50300,#f79d08,#57ffa8,#00c6ff,#001df7,#0000d3,#001df7,#00c0ff,#00efff,#00a9ff,#0023ff,#c96121,#b30000,#d36117,#00f3ff,#00e0ff,#0035f7,#0000d3,#0062fd,#2ffed0,#20f3df,#04d5fb,#0031f3,#0000c0,#001cec,#00d7ff,#00f0ff,#00f0ff,#00f0ff,#05fafa,#06fbf9,#00c9ff,#0046ff,#29ccd6,#ff7300,#ca0000,#b60000,#bd0000,#f42600,#b2f14d,#25ffda,#17d9e8,#0008da,#0000c3,#0059fe,#02f6fd,#0bfef4,#00b4ff,#0007e0,#0000bd,#0003dd,#009dff,#00eeff,#00eeff,#009bff,#004eff,#005cff)"></i><i style="top:20px;height:2px;background:linear-gradient(90deg,#0022ff,#007fff,#46fab9,#c1ff3e,#0eecf1,#00d8ff,#00bbff,#0024f8,#0000df,#005eff,#00dfff,#3effc1,#e8c617,#fe1600,#fe1600,#e8c617,#43ffbc,#00d1ff,#0037ff,#0000ed,#0037ff,#00ceff,#00efff,#00bdff,#0047ff,#c56a27,#b40000,#cc6a21,#00f2ff,#00e5ff,#004bff,#000cf4,#12c1ed,#a5ff5a,#c6fd39,#6eff91,#0178fe,#0000ce,#0022f0,#00daff,#00f0ff,#00f0ff,#00f0ff,#1dffe2,#1dfee2,#00c0ff,#002aff,#13adec,#efa410,#e10300,#bf0000,#ce0000,#fe4f00,#97ff68,#0dfdf2,#00b7ff,#0005de,#0000c9,#0072ff,#27ffd8,#50ffaf,#1be4e4,#001fef,#0000bf,#0005df,#00a0ff,#00efff,#00eeff,#0098ff,#004eff,#005aff)"></i><i style="top:22px;height:2px;background:linear-gradient(90deg,#0029ff,#0088ff,#21f8de,#7fff80,#00d6ff,#00b7ff,#009cff,#002afe,#0001f2,#0063ff,#00c6ff,#23f9dc,#cbec34,#ff4e00,#ff4e00,#cdec32,#2cffd3,#00daff,#005fff,#0014ff,#005eff,#00d9ff,#00efff,#00d0ff,#0076ff,#c07932,#b70000,#c4792f,#00f1ff,#00e9ff,#0071ff,#0055ff,#63f89c,#fca503,#ff6600,#e8d417,#21cade,#000ae7,#002ef5,#00deff,#00f0ff,#00f0ff,#00f2ff,#45ffba,#45ffba,#00b7ff,#0011fd,#0086ff,#cbd934,#f91c00,#d90000,#ee0500,#fe9601,#6cff93,#06f9f9,#00b9ff,#000ce7,#0000d8,#07a3f8,#7bff84,#cffc30,#80ff7f,#006fff,#0000cc,#0008e3,#00a6ff,#00efff,#00eeff,#009bff,#004eff,#005cff)"></i><i style="top:24px;height:2px;background:linear-gradient(90deg,#0034ff,#0093ff,#05eefa,#26fad9,#00aaff,#0086ff,#006aff,#0024ff,#0004fc,#0054ff,#009cff,#0ae3f5,#97ff68,#ffaa00,#ffaa00,#9fff60,#16fae9,#03ebfc,#009aff,#003eff,#0080ff,#00dbff,#00ecff,#00dfff,#00a6ff,#bd903f,#c20000,#bf903e,#00f0ff,#00edff,#009cff,#06b2f9,#c4e13b,#fd2500,#f80500,#ff5900,#6af695,#002ffa,#003ffd,#00e3ff,#00f0ff,#00f0ff,#02f5fd,#73ff8c,#73ff8c,#00b1ff,#0008f0,#004cfe,#80f97f,#ff6c00,#fe1500,#ff3c00,#e3da1c,#3fffc0,#00f3ff,#00c6ff,#0019f5,#000bec,#26d4d9,#dedd21,#ff6700,#f3b50c,#27cbd8,#000ae4,#000dea,#00afff,#00f0ff,#00f0ff,#00a5ff,#0052ff,#0064ff)"></i><i style="top:26px;height:2px;background:linear-gradient(90deg,#0046ff,#009dff,#00d1ff,#00c0ff,#0074ff,#004aff,#002fff,#000dfe,#0002fa,#0032ff,#0069ff,#00b5ff,#4effb1,#dbf824,#def821,#63ff9c,#04eafb,#2ff4d0,#24d2db,#005bff,#008dff,#00caff,#00ddff,#00e1ff,#00caff,#aeb951,#de0000,#afb950,#00f0ff,#00eeff,#00c4ff,#23e8dc,#eda512,#f20300,#e70000,#f91800,#a6e559,#0066ff,#005bff,#00e6ff,#00efff,#00f0ff,#08f6f7,#9eff61,#9dff62,#03aafc,#0002e4,#001ff5,#2addd5,#ecd813,#ff7b00,#ffae00,#9eff61,#13faec,#00e4ff,#00d0ff,#0035fe,#002cfd,#5bf5a4,#ff7200,#f80500,#fe3200,#7ced83,#002bf5,#0016f4,#00bcff,#00f3ff,#00f4ff,#00b6ff,#005cff,#0074ff)"></i><i style="top:28px;height:2px;background:linear-gradient(90deg,#005dff,#009eff,#00a4ff,#006bff,#002fff,#000dfb,#0001f2,#0000e7,#0000e7,#000bfc,#0035ff,#007bff,#16ede9,#7bff84,#84ff7b,#2afdd5,#00c6ff,#6dfc92,#68ec97,#0054ff,#006bff,#0089ff,#009fff,#00b7ff,#00c7ff,#86d779,#fd1a00,#89da76,#00f0ff,#00efff,#00e2ff,#45fdba,#fe8501,#eb0000,#e60000,#f30900,#c9d336,#0096ff,#007aff,#00e5ff,#00edff,#00efff,#11f8ee,#bfff40,#beff41,#0ba2f4,#0000d9,#0006e6,#0197fe,#79ff86,#e3f21c,#bdfd42,#37fdc8,#00d6ff,#00cfff,#00d5ff,#0062ff,#0067ff,#93f96c,#fb2a00,#e80000,#f30700,#bbcd44,#0058fe,#0028fd,#00ccff,#01fbfe,#03fdfc,#00d0ff,#0073ff,#008fff)"></i><i style="top:30px;height:2px;background:linear-gradient(90deg,#0072ff,#0087ff,#005dff,#001bfd,#0001eb,#0000d6,#0000cd,#0000ca,#0000ce,#0000e1,#000bfb,#0046ff,#00b9ff,#28fed7,#37ffc8,#05e7fa,#009bff,#9fff60,#93fe6c,#002aff,#001fff,#0024ff,#0034ff,#0056ff,#0089ff,#57e5a8,#ff7c00,#64f89b,#00f0ff,#00f0ff,#00f2ff,#59ffa6,#ff8500,#eb0000,#e60000,#f30900,#cfd230,#03affc,#008eff,#00d9ff,#00e4ff,#00ecff,#1af9e5,#d6ff29,#d5ff2a,#139bec,#0000d0,#0000d1,#003efe,#0dd9f2,#4dffb2,#2efcd1,#01ccfe,#009cff,#00b5ff,#00d2ff,#008fff,#00a2ff,#aee851,#f61400,#e60000,#ee0000,#d4ae2b,#0082ff,#004aff,#01e2fe,#10ffef,#1affe5,#09eff6,#009eff,#00b4ff)"></i><i style="top:32px;height:2px;background:linear-gradient(90deg,#0078ff,#0057ff,#0016fc,#0000e0,#0000c9,#0000c1,#0000bf,#0000bf,#0000c1,#0000ca,#0000e4,#001dfe,#007cff,#01defe,#04f1fb,#00b4ff,#0071ff,#b9ff46,#b0ff4f,#000bf0,#0000e0,#0000db,#0000e0,#0006f3,#0033ff,#25cada,#e9f016,#29f9d6,#00efff,#00f0ff,#00f6ff,#54ffab,#f3a40c,#f20300,#e70000,#f91800,#bae445,#01b3fe,#008cff,#00baff,#00ceff,#00e2ff,#24f9db,#e4ff1b,#e3ff1c,#1b96e4,#0000ca,#0000c4,#000bf2,#006eff,#00bcff,#00a8ff,#006eff,#0065ff,#0096ff,#00c7ff,#00b4ff,#04cafb,#b4e84b,#f61400,#e60000,#ee0000,#d7ac28,#009dff,#0079ff,#0df6f2,#33ffcc,#4bffb4,#3affc5,#03dffc,#00e3ff)"></i><i style="top:34px;height:2px;background:linear-gradient(90deg,#006eff,#0029ff,#0000e5,#0000c7,#0000bf,#0000bd,#0000bd,#0000bd,#0000bd,#0000c1,#0000d1,#0008f7,#0053ff,#00abff,#00c0ff,#0085ff,#0049ff,#beff41,#b7ff48,#0005dc,#0000c5,#0000c1,#0000c2,#0000cc,#0019f4,#1de2e2,#72ff8d,#05f0fa,#00efff,#00f0ff,#00f4ff,#3cffc3,#d9dd26,#fd2500,#f80500,#ff5900,#88fe77,#0098ff,#006eff,#0089ff,#00a9ff,#00cfff,#2cf6d3,#ebff14,#eaff15,#2191de,#0000c7,#0000bf,#0000d7,#0018fc,#0048ff,#003dff,#0023ff,#0037ff,#0076ff,#00b6ff,#00c9ff,#06e1f9,#a8f957,#fb2a00,#e80000,#f30700,#cbca34,#00aeff,#00b0ff,#2effd1,#6cff93,#9eff61,#9fff60,#4affb5,#20ffdf)"></i><i style="top:36px;height:2px;background:linear-gradient(90deg,#0075ff,#0025fe,#0000d4,#0000c0,#0000bd,#0000bd,#0000bd,#0000bd,#0000bd,#0000be,#0000c9,#0002ee,#003dff,#008dff,#009eff,#0060ff,#0023ff,#aeff51,#a8ff57,#0000d3,#0000bf,#0000bd,#0000bd,#0000c0,#0057f3,#5fffa0,#2bf9d4,#00e0ff,#00eeff,#00f0ff,#00f1ff,#1cfee3,#98ff67,#fca503,#ff6600,#e5d51a,#32f2cd,#0062ff,#003eff,#004eff,#0077ff,#00afff,#2ef0d1,#efff10,#eeff11,#248ddb,#0000c4,#0000bd,#0000c6,#0000df,#0004f4,#0001f2,#0000f1,#0016fe,#0059ff,#00a3ff,#00d0ff,#03ebfc,#7bff84,#ff7200,#f80500,#fe3100,#a4f15b,#00beff,#09e2f6,#61ff9e,#bdff42,#f7eb08,#fce303,#c9fc36,#72ff8d)"></i><i style="top:38px;height:2px;background:linear-gradient(90deg,#01ccfe,#0081ff,#0001db,#0000c0,#0000bd,#0000bd,#0000bd,#0000bd,#0000bd,#0000be,#0000c8,#0001ec,#0038ff,#0082ff,#008aff,#0046ff,#0007fb,#8af275,#89ee76,#0000c8,#0000be,#0000bd,#0000bd,#0000c4,#2aaed5,#b2ff4d,#25eeda,#00dcff,#00eeff,#00f0ff,#00f0ff,#06faf9,#49ffb6,#a9ff56,#cbfc34,#63ff9c,#03acfc,#0026ff,#000cff,#0017ff,#0042ff,#0087ff,#2ce7d3,#f1ff0e,#f0ff0f,#2589da,#0000c3,#0000bd,#0000c0,#0000c8,#0000cf,#0000cf,#0000d8,#0005f7,#003fff,#0091ff,#00cdff,#00edff,#45ffba,#dedd21,#ff6700,#f8b007,#62ff9d,#00d7ff,#2afcd5,#9eff61,#f9dd06,#ff8c00,#ff7b00,#ffb700,#d4fb2b)"></i><i style="top:40px;height:2px;background:linear-gradient(90deg,#7fff80,#54f1ab,#001fee,#0000c5,#0000be,#0000bd,#0000bd,#0000bd,#0000bd,#0000bf,#0000cb,#0003f1,#003fff,#0086ff,#0087ff,#003bff,#0000ee,#4cc8b3,#4bc4b4,#0000c0,#0000be,#0000be,#0000c0,#000bdb,#7af385,#dbff24,#2af0d5,#00e2ff,#00efff,#00f0ff,#00f0ff,#00f3ff,#11feee,#3cffc3,#37ffc8,#06d0f9,#0047ff,#0003f3,#0000e3,#0000ec,#0015fe,#005dff,#2ad5d5,#f0ff0f,#efff10,#2485da,#0000c2,#0000bd,#0000bf,#0000c0,#0000c1,#0000c2,#0000cb,#0000eb,#002cff,#0081ff,#00c7ff,#00e9ff,#18fee7,#7cff83,#cffb30,#a1ff5e,#2affd5,#05f5fa,#5cffa3,#dbf724,#ff8d00,#ff3f00,#ff3100,#ff5c00,#ffc100)"></i><i style="top:42px;height:2px;background:linear-gradient(90deg,#f6c709,#e5d41a,#096ff4,#0000d9,#0000c5,#0000bf,#0000be,#0000bd,#0000be,#0000c3,#0000d6,#000bfa,#0055ff,#00a0ff,#009eff,#0047ff,#0001ea,#0875f2,#0873ef,#0000bd,#0000be,#0000c3,#0000cd,#004df2,#caff35,#e7ff18,#2cf5d3,#00eaff,#00efff,#00f0ff,#00f0ff,#00f0ff,#00f4ff,#03f8fc,#00d6ff,#0071ff,#000ffa,#0000d9,#0000cc,#0000d2,#0002ef,#0035ff,#23bcdc,#edff12,#edff12,#1e80de,#0000c2,#0000bd,#0000bf,#0000be,#0000bd,#0000be,#0000c5,#0000e1,#0020ff,#0076ff,#00c2ff,#00e6ff,#02f7fd,#2affd5,#50ffaf,#3cffc3,#0bfff4,#21ffde,#8aff75,#f9d106,#ff4c00,#ff1100,#fe0700,#ff2200,#ff6f00)"></i><i style="top:44px;height:2px;background:linear-gradient(90deg,#ff6500,#ff6f00,#40bcbf,#000dfa,#0000dd,#0000ca,#0000c3,#0000c2,#0000c4,#0000cf,#0000eb,#0025ff,#0083ff,#00daff,#00d5ff,#006dff,#0007ee,#000de7,#000de1,#0000bd,#0000c0,#0000cc,#0001ea,#2698d9,#efff10,#e7ff18,#23f8dc,#00efff,#00f0ff,#00f0ff,#00f0ff,#00f0ff,#00efff,#00e3ff,#00a8ff,#0041ff,#0001ec,#0000c9,#0000c1,#0000c4,#0000da,#0013fd,#159dea,#e6ff19,#e6ff19,#1477e6,#0000c2,#0000bd,#0000bf,#0000be,#0000bd,#0000bd,#0000c3,#0000dd,#0019ff,#0070ff,#00bfff,#00e5ff,#00f0ff,#02fafd,#0cfff3,#06fdf9,#06fef9,#41ffbe,#b5ff4a,#ff9d00,#ff2100,#f70100,#f20000,#fb0500,#ff3600)"></i><i style="top:46px;height:2px;background:linear-gradient(90deg,#ff3500,#ff3800,#7bd484,#0047ff,#000ffc,#0000e9,#0000d8,#0000d3,#0000d7,#0000e8,#000ffd,#0058ff,#04d1fb,#30ffcf,#23fddc,#00a5ff,#0014f6,#0000ca,#0000c1,#0000bd,#0000c2,#0000d9,#0016fd,#58d6a7,#f8ff07,#dcff23,#15f7ea,#00f0ff,#00f0ff,#00f0ff,#00f0ff,#00f0ff,#00eeff,#00ddff,#0098ff,#002dff,#0000df,#0000c2,#0000bd,#0000bf,#0000cc,#0002f0,#0478fb,#d6ff29,#d7ff28,#046af3,#0000c1,#0000be,#0000c1,#0000be,#0000bd,#0000bd,#0000c3,#0000dd,#0019ff,#0070ff,#00bfff,#00e5ff,#00efff,#00f1ff,#00f2ff,#00f4ff,#0efef1,#5affa5,#d3f82c,#ff6f00,#fc0a00,#ec0000,#e90000,#f10000,#ff1400)"></i><i style="top:48px;height:2px;background:linear-gradient(90deg,#ff2400,#ff2500,#9ad565,#0080ff,#0044ff,#0019ff,#0005f9,#0000f5,#0003f7,#0011fe,#003eff,#00adff,#43febc,#a5ff5a,#77ff88,#0bd7f4,#002afb,#0000cb,#0000bf,#0000bf,#0000c7,#0000e7,#0035ff,#80f77f,#faff05,#c3ff3c,#06f5f9,#00efff,#00efff,#00f0ff,#00f0ff,#00f0ff,#00eeff,#00dbff,#0091ff,#0024ff,#0000d9,#0000c0,#0000bd,#0000be,#0000c6,#0000dd,#0046fb,#b7ff48,#b9ff46,#0048f3,#0000c1,#0000be,#0000c3,#0000bf,#0000bd,#0000be,#0000c5,#0000e1,#0020ff,#0076ff,#00c2ff,#00e6ff,#00efff,#00f0ff,#00f0ff,#00f3ff,#16ffe9,#6dff92,#e7eb18,#ff4e00,#f60200,#e80000,#e60000,#ea0000,#fb0500)"></i><i style="top:50px;height:2px;background:linear-gradient(90deg,#ff2000,#ff2000,#b5cf4a,#00abff,#0078ff,#004eff,#0033ff,#0028ff,#002eff,#0045ff,#0086ff,#25f5da,#caea35,#ff7e00,#edc912,#2ef0d1,#0041ff,#0000d6,#0000c4,#0000c4,#0000d1,#0005f4,#0054ff,#a4ff5b,#f9ff06,#97ff68,#00edff,#00eaff,#00ebff,#00eeff,#00efff,#00f0ff,#00eeff,#00dbff,#0091ff,#0024ff,#0000d8,#0000c0,#0000bd,#0000bd,#0000c3,#0000cf,#0022ed,#84ff7b,#85ff7a,#0025ec,#0000c0,#0000bf,#0000c6,#0000c2,#0000bf,#0000c0,#0000cb,#0000eb,#002cff,#0081ff,#00c7ff,#00e8ff,#00efff,#00f0ff,#00f0ff,#00f4ff,#1dffe2,#7bff84,#f0db0f,#ff3800,#f10000,#e60000,#e60000,#e70000,#f60000)"></i><i style="top:52px;height:2px;background:linear-gradient(90deg,#ff2000,#ff2000,#bece41,#00cbff,#00a2ff,#007eff,#0069ff,#0063ff,#0069ff,#0083ff,#09dbf6,#86ff79,#fe8501,#ff2200,#ff4d00,#6bf994,#005dff,#0000e8,#0000d2,#0000d1,#0000e3,#0012fd,#0075ff,#b8ff47,#f2ff0d,#59faa6,#00d9ff,#00d4ff,#00d9ff,#00e5ff,#00edff,#00efff,#00eeff,#00deff,#0099ff,#002dff,#0000de,#0000c2,#0000bd,#0000be,#0000c2,#0000c7,#000bde,#4becb4,#4bedb4,#000de0,#0000c0,#0000c0,#0000ca,#0000c7,#0000c4,#0000c7,#0000d6,#0005f7,#003fff,#0091ff,#00cfff,#00eaff,#00efff,#00f0ff,#00f0ff,#00f5ff,#22ffdd,#85ff7a,#f5cf0a,#ff2b00,#ed0000,#e60000,#e60000,#e60000,#f10000)"></i><i style="top:54px;height:2px;background:linear-gradient(90deg,#ff2500,#ff2500,#b2d54d,#00cfff,#0093ff,#006aff,#006bff,#0087ff,#00a0ff,#00c4ff,#46fdb9,#d2fb2d,#ff4a00,#ff1a00,#ff2900,#90e46f,#0078ff,#0009fb,#0000ea,#0000e8,#0003f9,#0028ff,#008bff,#b9ff46,#d6ff29,#1cdfe3,#00abff,#009cff,#00a5ff,#00c7ff,#00e4ff,#00edff,#00f1ff,#00e9ff,#00afff,#0043ff,#0001ea,#0000c7,#0000bf,#0000bf,#0000c2,#0000c2,#0000d0,#13c5ec,#13c6ec,#0000d4,#0000bf,#0000c1,#0000d0,#0000d1,#0000ce,#0000d4,#0000e8,#0015fe,#0058ff,#00a4ff,#00d8ff,#00ecff,#00efff,#00f0ff,#00f0ff,#00f6ff,#25ffda,#8aff75,#f7c908,#ff2500,#ec0000,#e60000,#e60000,#e60000,#ee0000)"></i><i style="top:56px;height:2px;background:linear-gradient(90deg,#ff3700,#ff3e00,#8fe870,#009cff,#003eff,#0017ff,#0025ff,#0069ff,#00b8ff,#12f2ed,#93ff6c,#f1f40e,#ff4700,#ff1a00,#ff2800,#99e266,#0093ff,#002bff,#000dff,#0008fe,#0017ff,#0036ff,#008bff,#9dff62,#87ff78,#0095ff,#0061ff,#0048ff,#0055ff,#008dff,#00cbff,#00e9ff,#04fbfb,#0efef1,#02e0fd,#0074ff,#000ef8,#0000d3,#0000c5,#0000c3,#0000c2,#0000c0,#0000c4,#0073ff,#0074ff,#0000c6,#0000bf,#0000c2,#0000d9,#0000e1,#0000e1,#0000ea,#0008fc,#0034ff,#0076ff,#00b7ff,#00dfff,#00edff,#00f0ff,#00f0ff,#00f0ff,#00f6ff,#25ffda,#8aff75,#f7c908,#ff2500,#ec0000,#e60000,#e60000,#e60000,#ee0000)"></i><i style="top:58px;height:2px;background:linear-gradient(90deg,#ff6e00,#ff8d00,#55eaaa,#005aff,#0008f9,#0000eb,#0001f3,#0034ff,#00b2ff,#3effc1,#caff35,#fef501,#ff6e00,#ff2000,#ff4700,#89f976,#00abff,#0054ff,#0031ff,#0023ff,#0026ff,#0032ff,#006dff,#55ffaa,#23d1dc,#003bff,#0016fe,#0006f6,#000cfa,#0044ff,#00a1ff,#00e8ff,#25ffda,#4dffb2,#37ffc8,#04c8fb,#003cff,#0001ea,#0000d1,#0000c9,#0000c5,#0000c0,#0000bf,#0026f5,#0026f5,#0000c1,#0000c0,#0000c5,#0000e7,#0001f8,#0004fa,#000dfe,#002aff,#005aff,#0096ff,#00caff,#00e6ff,#00eeff,#00f0ff,#00f0ff,#00f0ff,#00f5ff,#22ffdd,#85ff7a,#f5cf0a,#ff2b00,#ed0000,#e60000,#e60000,#e60000,#f10000)"></i><i style="top:60px;height:2px;background:linear-gradient(90deg,#f6df09,#c2f33d,#0dbef2,#0038ff,#0000f2,#0000e6,#0000ea,#0021ff,#00b8ff,#72ff8d,#ebfe14,#fff200,#ffc000,#ff6400,#faae05,#62ff9d,#00b9ff,#0073ff,#004aff,#0030ff,#0023ff,#001bff,#003aff,#03d0fc,#0055ff,#0004f7,#0000e1,#0000d1,#0000d6,#000ef7,#0071ff,#09e9f6,#5fffa0,#98ff67,#91ff6e,#3bfcc4,#0091ff,#0016fd,#0000e7,#0000d6,#0000cc,#0000c3,#0000bf,#0002e0,#0002e0,#0000c1,#0000c2,#0000cb,#0005f6,#001bff,#0028ff,#0038ff,#0056ff,#0083ff,#00b4ff,#00d9ff,#00ebff,#00efff,#00f0ff,#00f0ff,#00f0ff,#00f4ff,#1dffe2,#7bff84,#f0db0f,#ff3800,#f10000,#e60000,#e60000,#e70000,#f60000)"></i><i style="top:62px;height:2px;background:linear-gradient(90deg,#67ff98,#1ee3e1,#006fff,#0034ff,#0004f9,#0000eb,#0001f3,#0039ff,#0ed5f1,#a1ff5e,#f9fb06,#fff000,#ffed00,#ffe000,#defb21,#44ffbb,#00bbff,#007fff,#004fff,#002bff,#0010ff,#0002fa,#000af8,#0041ff,#0006eb,#0000d8,#0000c9,#0000c1,#0000c3,#0000df,#0050ff,#20f0df,#9cff63,#d4ff2b,#d3ff2c,#95ff6a,#16e1e9,#0053ff,#0010fe,#0000ef,#0000db,#0000cc,#0000c3,#0000ca,#0000cc,#0000c8,#0000c9,#0000d8,#001dfe,#0046ff,#0059ff,#006aff,#0085ff,#00a9ff,#00cdff,#00e4ff,#00edff,#00efff,#00f0ff,#00f0ff,#00f0ff,#00f3ff,#16ffe9,#6eff91,#e7eb18,#ff4e00,#f60200,#e80000,#e60000,#ea0000,#fb0500)"></i><i style="top:64px;height:2px;background:linear-gradient(90deg,#00c9ff,#0067ff,#0030ff,#0036ff,#002bff,#001aff,#002fff,#0083ff,#33f5cc,#e4eb1b,#ffe800,#fff000,#fff000,#fef701,#c2ff3d,#27f8d8,#00b0ff,#0079ff,#0044ff,#0018ff,#0001f6,#0000e1,#0000db,#0000e2,#0000cc,#0000c6,#0000c0,#0000bd,#0000be,#0000cf,#0048ff,#41fabe,#cdff32,#f7ff08,#f8ff07,#d1ff2e,#52ffad,#009fff,#0045ff,#001bff,#0004f7,#0000e2,#0000d3,#0000cf,#0000d2,#0000da,#0000d8,#0003ec,#0048ff,#0078ff,#008cff,#009bff,#00afff,#00c9ff,#00deff,#00ebff,#00efff,#00f0ff,#00f0ff,#00f0ff,#00f0ff,#00f2ff,#0ffef0,#5cffa3,#d4f82b,#ff6f00,#fc0a00,#ec0000,#e90000,#f10000,#ff1400)"></i><i style="top:66px;height:2px;background:linear-gradient(90deg,#0070ff,#001cff,#0007fe,#0025ff,#0062ff,#0085ff,#009fff,#00d8ff,#9fe860,#ff4f00,#ff8400,#ffed00,#fff000,#f9fb06,#9eff61,#0eebf1,#00a2ff,#0069ff,#0032ff,#0007fc,#0000e3,#0000d0,#0000c7,#0000c4,#0000c0,#0000bf,#0000be,#0000bd,#0000bd,#0000ca,#0058ff,#68ff97,#ebff14,#fff700,#fff600,#f0fe0f,#91ff6e,#0addf5,#0084ff,#0056ff,#002eff,#000efd,#0001f4,#0000ec,#0000f1,#0006f9,#0001f5,#0017fd,#007cff,#00acff,#00c1ff,#00d2ff,#00e2ff,#00eeff,#00f3ff,#00f2ff,#00f1ff,#00f0ff,#00f0ff,#00f0ff,#00f0ff,#00f1ff,#08fdf7,#48ffb7,#b6ff49,#ff9d00,#ff2100,#f70100,#f20000,#fb0500,#ff3600)"></i><i style="top:68px;height:2px;background:linear-gradient(90deg,#0045ff,#0003f8,#0000ef,#000dfd,#0068ff,#00caff,#00e5ff,#08f7f7,#de9a21,#ff1c00,#ff3a00,#ffde00,#fff300,#eafe15,#6eff91,#01d8fe,#0095ff,#005aff,#0022ff,#0001f3,#0000d7,#0000c7,#0000c0,#0000be,#0000bd,#0000bd,#0000bd,#0000bd,#0000bd,#0000cc,#0072ff,#8bff74,#f9fc06,#fff100,#fff100,#fcfb03,#b6ff49,#23f8dc,#00bcff,#0094ff,#006dff,#0048ff,#002eff,#0023ff,#0029ff,#0038ff,#0027ff,#0049ff,#00bbff,#0aeff5,#27fed8,#47ffb8,#58ffa7,#56ffa9,#42ffbd,#23ffdc,#08fcf7,#00f4ff,#00f0ff,#00f0ff,#00f0ff,#00f0ff,#03fafc,#33ffcc,#90ff6f,#f9d106,#ff4c00,#ff1100,#fe0700,#ff2200,#ff6f00)"></i><i style="top:70px;height:2px;background:linear-gradient(90deg,#002dff,#0000ee,#0000e7,#0003f6,#0055ff,#00ccff,#00efff,#13fcec,#f5810a,#ff1a00,#ff2b00,#ffd500,#fef901,#caff35,#3afec5,#00c6ff,#008dff,#0052ff,#0019ff,#0000ed,#0000d1,#0000c3,#0000be,#0000bd,#0000bd,#0000bd,#0000bd,#0000bd,#0000bd,#0000d0,#0089ff,#a1ff5e,#fdf902,#fff000,#fff000,#fff800,#c8ff37,#39ffc6,#00e0ff,#00c5ff,#00a9ff,#008aff,#0072ff,#0068ff,#006dff,#007bff,#0065ff,#0096ff,#23f9dc,#72ff8d,#adff52,#d0ff2f,#ddff22,#d8ff27,#beff41,#8eff71,#4dffb2,#14feeb,#00f6ff,#00f0ff,#00f0ff,#00f0ff,#00f7ff,#1fffe0,#6aff95,#dbf724,#ff8d00,#ff3f00,#ff3100,#ff5c00,#ffc100)"></i><i style="top:72px;height:2px;background:linear-gradient(90deg,#0022ff,#0000ea,#0000e6,#0000f2,#0049ff,#00c7ff,#00efff,#17fde8,#e89617,#ff1c00,#ff3b00,#ffe400,#f1fe0e,#98ff67,#15f6ea,#00c0ff,#008dff,#0052ff,#0019ff,#0000ed,#0000d1,#0000c3,#0000be,#0000bd,#0000bd,#0000bd,#0000bd,#0000bd,#0000be,#0000d6,#0196fe,#aaff55,#fef801,#fff000,#fff000,#fff700,#cdff32,#41ffbe,#00ecff,#00dcff,#00cdff,#00b8ff,#00a3ff,#0099ff,#00a0ff,#00b1ff,#00a9ff,#10e6ef,#82ff7d,#d4ff2b,#f9f406,#ffb400,#ff9200,#ffc800,#fdf402,#e6fe19,#a5ff5a,#4effb1,#0dfef2,#00f3ff,#00f0ff,#00f0ff,#00f3ff,#0dfff2,#46ffb9,#a0ff5f,#f9de06,#ff8f00,#ff7f00,#ffb700,#d4fb2b)"></i><i style="top:74px;height:2px;background:linear-gradient(90deg,#0022ff,#0000ea,#0000e6,#0000f2,#0049ff,#00c7ff,#00efff,#18fee7,#c3df3c,#ff4d00,#ff8a00,#f9fc06,#ceff31,#5dffa2,#03edfc,#00c4ff,#0098ff,#0060ff,#0028ff,#0002f6,#0000d9,#0000c7,#0000c0,#0000be,#0000bd,#0000be,#0000be,#0000bf,#0000c2,#0000e1,#029cfd,#a6ff59,#fdf902,#fff000,#fff000,#fef801,#c6ff39,#33fecc,#00d8ff,#00c8ff,#00bcff,#00a8ff,#0090ff,#0085ff,#0096ff,#00bcff,#00dbff,#42ffbd,#bfff40,#faf905,#ff9f00,#fe1700,#fd0500,#ff3300,#ffc700,#fef101,#dbff24,#82ff7d,#26ffd9,#00f8ff,#00f0ff,#00f0ff,#00f1ff,#03fcfc,#27ffd8,#64ff9b,#b8ff47,#edf012,#f1ea0e,#ccfc33,#74ff8b)"></i><i style="top:76px;height:2px;background:linear-gradient(90deg,#002dff,#0000ee,#0000e7,#0003f6,#0055ff,#00ccff,#00edff,#13fdec,#83ff7c,#ebe814,#f1f50e,#daff25,#95ff6a,#27ffd8,#00f0ff,#00e6ff,#00d5ff,#00b7ff,#0088ff,#004eff,#0018f9,#0000e1,#0000ca,#0000c2,#0000c1,#0000c2,#0000c3,#0000c5,#0000ce,#0006ef,#009fff,#95ff6a,#f9fc06,#fff100,#fff100,#fbfb04,#acff53,#15e8ea,#0096ff,#007dff,#006bff,#0051ff,#0037ff,#0030ff,#004aff,#008cff,#01e1fe,#5effa1,#d2ff2d,#fff100,#ff6a00,#fc0200,#fa0000,#fe0d00,#ffa600,#ffe900,#ebff14,#95ff6a,#32ffcd,#02f9fd,#00f0ff,#00f0ff,#00f0ff,#00f6ff,#0ffff0,#34ffcb,#5bffa4,#75ff8a,#74ff8b,#52ffad,#26ffd9)"></i><i style="top:78px;height:2px;background:linear-gradient(90deg,#0044ff,#0003f8,#0000ef,#000dfd,#006cff,#00d4ff,#00e5ff,#05f3fa,#55ffaa,#a7ff58,#bdff42,#9cff63,#4dffb2,#16ffe9,#2cffd3,#55ffaa,#71ff8e,#77ff88,#61ff9e,#33f4cc,#09c3f6,#005fff,#000ef4,#0000d6,#0000cc,#0000ce,#0000d2,#0000d8,#0000e9,#001bfe,#00a1ff,#79ff86,#edff12,#fff700,#fff700,#ecff13,#76ff89,#00a6ff,#003bff,#001fff,#0010fa,#0004f2,#0000e5,#0000e3,#0005f3,#003cff,#00b4ff,#49ffb6,#c0ff3f,#faf905,#ff9f00,#fe1700,#fd0500,#ff3300,#ffc700,#fef101,#dbff24,#82ff7d,#26ffd9,#00f8ff,#00f0ff,#00f0ff,#00f0ff,#00f2ff,#01fbfe,#0cfff3,#0efbf1,#0beef4,#05e7fa,#01e9fe,#00ecff)"></i><i style="top:80px;height:2px;background:linear-gradient(90deg,#0068ff,#0018ff,#0008fe,#002bff,#008dff,#00d9ff,#00d2ff,#00ccff,#17f9e8,#5affa5,#66ff99,#39ffc6,#12ffed,#41ffbe,#92ff6d,#d0ff2f,#f1e20e,#ffb800,#febb01,#e4e71b,#9dff62,#31f4ce,#008eff,#001bfb,#0000ea,#0000e8,#0000f0,#0005f8,#0019ff,#004aff,#00a9ff,#54ffab,#d0ff2f,#f6ff09,#f4ff0b,#caff35,#6cff93,#09a6f6,#000cf7,#0000dd,#0000d2,#0000c9,#0000c5,#0000c4,#0000cd,#0007f2,#006aff,#18eee7,#85ff7a,#d4ff2b,#faf405,#ffb400,#ff9200,#ffc800,#fdf402,#e6fe19,#acff53,#64ff9b,#23ffdc,#03fafc,#00f1ff,#00f0ff,#00f0ff,#00f0ff,#00f2ff,#00e8ff,#00c3ff,#0099ff,#0089ff,#009bff,#00bcff)"></i><i style="top:82px;height:2px;background:linear-gradient(90deg,#0095ff,#0047ff,#0032ff,#005cff,#00b1ff,#00d7ff,#00b2ff,#008fff,#00b5ff,#05e4fa,#05e0fa,#00c5ff,#0ceef3,#7dff82,#dcff23,#fece01,#ff5800,#ff2b00,#ff2b00,#ff5900,#fad505,#b1ff4e,#2bf6d4,#007eff,#0022ff,#0014ff,#0020ff,#0034ff,#0053ff,#007dff,#00b8ff,#2dfed2,#9fff60,#d0ff2f,#ccff33,#ccff33,#d5ff2a,#9aff65,#086ef3,#0000c6,#0000c0,#0000be,#0000be,#0000bd,#0000c0,#0000d7,#002efe,#00baff,#2cfed3,#78ff87,#b1ff4e,#d2ff2d,#dfff20,#d8ff27,#c2ff3d,#aaff55,#a3ff5c,#9dff62,#84ff7b,#4cffb3,#0efdf1,#00f1ff,#00f0ff,#00f0ff,#00eaff,#00c7ff,#0086ff,#0051ff,#0042ff,#005bff,#008cff)"></i><i style="top:84px;height:2px;background:linear-gradient(90deg,#00bfff,#0083ff,#0070ff,#0095ff,#00cdff,#00ccff,#008bff,#004fff,#0055ff,#006bff,#005dff,#0068ff,#10e1ef,#9cff63,#f5f80a,#ff8b00,#ff2700,#ff1a00,#ff1a00,#ff2700,#ff8d00,#e8fb17,#76ff89,#05d1fa,#0066ff,#004dff,#0059ff,#006fff,#008bff,#00aaff,#00cbff,#10f9ef,#5fffa0,#8bff74,#94ff6b,#d2ff2d,#e5ff1a,#d6ff29,#24afdb,#0000c6,#0000bd,#0000bd,#0000bd,#0000bd,#0000bd,#0000cb,#0017f9,#0090ff,#01e8fe,#16fee9,#39ffc6,#55ffaa,#61ff9e,#5effa1,#6fff90,#a8ff57,#d0ff2f,#dcff23,#d5ff2a,#afff50,#51ffae,#05fafa,#00f0ff,#00efff,#00e1ff,#00a7ff,#0054ff,#001fff,#0013ff,#002bff,#005fff)"></i><i style="top:86px;height:2px;background:linear-gradient(90deg,#00ddff,#00bbff,#00aeff,#00c6ff,#00dcff,#00b9ff,#0061ff,#0017fe,#000bf9,#000df8,#0006f3,#0023fd,#06c2f9,#8bff74,#f2f90d,#ff8b00,#ff2700,#ff1a00,#ff1a00,#ff2700,#ff8c00,#edfa12,#8bff74,#0feef0,#009bff,#0086ff,#0090ff,#00a2ff,#00b7ff,#00cbff,#00dcff,#02f4fd,#21ffde,#39ffc6,#2fffd0,#8dff72,#cbff34,#94ff6b,#0868f1,#0000c0,#0000bd,#0000bd,#0000bd,#0000bd,#0000bd,#0000c8,#0014f7,#008aff,#00dbff,#00f0ff,#00f7ff,#04fafb,#07faf8,#0efef1,#60ff9f,#c3ff3c,#e2ff1d,#e5ff1a,#e4ff1b,#d3ff2c,#83ff7c,#14fdeb,#00f1ff,#00eeff,#00d7ff,#0089ff,#002fff,#0004fc,#0000f7,#000cfe,#003aff)"></i><i style="top:88px;height:2px;background:linear-gradient(90deg,#00ebff,#00deff,#00d8ff,#00dfff,#00d5ff,#0091ff,#002afe,#0000e4,#0000d2,#0000ce,#0000c9,#0002e2,#0062ff,#33f4cc,#beff41,#fbd204,#ff5900,#ff2b00,#ff2b00,#ff5900,#fcd203,#c8ff37,#5bffa4,#04defb,#00a1ff,#009aff,#00a5ff,#00b4ff,#00c4ff,#00d2ff,#00deff,#00e8ff,#01f5fe,#03f6fc,#00d1ff,#00b4ff,#11b4ee,#0069fe,#0004dc,#0000c3,#0000bf,#0000be,#0000bd,#0000bd,#0000be,#0000ce,#001efb,#0098ff,#00dfff,#00eeff,#00f0ff,#00f0ff,#00f0ff,#05f9fa,#5affa5,#c2ff3d,#e2ff1d,#e5ff1a,#e4ff1b,#d3ff2c,#83ff7c,#14fdeb,#00f1ff,#00edff,#00ccff,#0070ff,#0016ff,#0000f0,#0000eb,#0001f6,#0020ff)"></i><i style="top:90px;height:2px;background:linear-gradient(90deg,#00edff,#00e8ff,#00e2ff,#00d7ff,#00acff,#004eff,#0004ec,#0000c7,#0000c0,#0000bf,#0000be,#0000c5,#000aed,#007dff,#30f0cf,#9bff64,#e0e71f,#fcbe03,#fcbe03,#e2e61d,#a6ff59,#48fcb7,#06c7f9,#0078ff,#005fff,#0067ff,#0075ff,#0087ff,#0099ff,#00aaff,#00baff,#00c8ff,#00d4ff,#00d6ff,#00bdff,#0087ff,#0049ff,#0016fe,#0001f0,#0000dc,#0000cf,#0000c5,#0000c0,#0000be,#0000c2,#0000df,#003cff,#00b2ff,#00e7ff,#00efff,#00f0ff,#00f0ff,#00f0ff,#00f5ff,#2effd1,#95ff6a,#ceff31,#dbff24,#d5ff2a,#afff50,#51ffae,#05fafa,#00f0ff,#00ecff,#00c4ff,#005eff,#000bfc,#0000ea,#0000e6,#0000ee,#0010ff)"></i><i style="top:92px;height:2px;background:linear-gradient(90deg,#00e5ff,#00daff,#00caff,#00acff,#0070ff,#0018fd,#0000d4,#0000c0,#0000bd,#0000bd,#0000bd,#0000bd,#0000c6,#0008e9,#004cff,#05b2fa,#27e1d8,#3df6c2,#3df7c2,#29e3d6,#07bbf8,#0068ff,#0023fc,#000df6,#000df9,#0014fe,#0023ff,#0035ff,#0049ff,#0060ff,#0077ff,#008eff,#00a3ff,#00b3ff,#00b5ff,#00a3ff,#0081ff,#0058ff,#0036ff,#001cff,#000af7,#0000e4,#0000d0,#0000cb,#0000d6,#0010f8,#0070ff,#00d0ff,#07f6f8,#08f8f7,#00f2ff,#00f0ff,#00f0ff,#00f0ff,#04f9fb,#34ffcb,#73ff8c,#8fff70,#81ff7e,#4bffb4,#0efdf1,#00f1ff,#00f0ff,#00ebff,#00bfff,#0055ff,#0006fa,#0000e7,#0000e6,#0000eb,#000afe)"></i><i style="top:94px;height:2px;background:linear-gradient(90deg,#00c4ff,#00a3ff,#007fff,#005eff,#0034ff,#0006f9,#0000d6,#0000c4,#0000bf,#0000bd,#0000bd,#0000bd,#0000bd,#0000c2,#0000d2,#0008e9,#0020f4,#002ffb,#002ffb,#0020f4,#0009ea,#0000d8,#0000cd,#0000ce,#0000d4,#0000dc,#0000e8,#0002f5,#000cfd,#0020ff,#0039ff,#0054ff,#006fff,#008aff,#009fff,#00abff,#00a8ff,#009bff,#0088ff,#0076ff,#005bff,#002eff,#000df9,#0005f3,#0011fb,#004cff,#00aaff,#2ff9d0,#98ff67,#99ff66,#36fec9,#00f2ff,#00f0ff,#00f0ff,#00f0ff,#00f5ff,#0afaf5,#13fdec,#0efcf1,#02f8fd,#00f1ff,#00f0ff,#00f0ff,#00ebff,#00bfff,#0055ff,#0006fa,#0000e7,#0000e6,#0000eb,#000afe)"></i><i style="top:96px;height:2px;background:linear-gradient(90deg,#0083ff,#004dff,#002aff,#0017ff,#000cff,#0001fc,#0000e9,#0000d5,#0000c7,#0000bf,#0000bd,#0000bd,#0000bd,#0000be,#0000be,#0000bf,#0000c2,#0000c3,#0000c3,#0000c1,#0000bf,#0000be,#0000be,#0000c0,#0000c4,#0000c9,#0000d1,#0000dd,#0000ec,#0003fc,#0018ff,#0033ff,#0050ff,#006eff,#008bff,#00a4ff,#00b5ff,#00bfff,#00c1ff,#00bfff,#00b3ff,#008eff,#0061ff,#004dff,#0060ff,#0096ff,#04defb,#96ff69,#e1ff1e,#e2ff1d,#98ff67,#09f7f6,#00efff,#00efff,#00efff,#00efff,#00f0ff,#00f0ff,#00f0ff,#00f0ff,#00f0ff,#00f0ff,#00f0ff,#00ecff,#00c4ff,#005eff,#000bfc,#0000ea,#0000e6,#0000ee,#0010ff)"></i><i style="top:98px;height:2px;background:linear-gradient(90deg,#004bff,#001aff,#0005ff,#0000fd,#0000fc,#0000fc,#0000f6,#0000e7,#0000d3,#0000c4,#0000be,#0000be,#0000bf,#0000c0,#0000bf,#0000be,#0000bd,#0000bd,#0000bd,#0000bd,#0000bd,#0000bd,#0000be,#0000c0,#0000c4,#0000c9,#0000d1,#0000dd,#0000ec,#0003fc,#0017ff,#0032ff,#004fff,#006cff,#0089ff,#00a3ff,#00b9ff,#00c9ff,#00d4ff,#00daff,#00daff,#00cbff,#00b0ff,#00a0ff,#00abff,#00c9ff,#07edf8,#96ff69,#e1ff1e,#e1ff1e,#97ff68,#08f6f7,#00edff,#00eeff,#00eeff,#00eeff,#00efff,#00efff,#00efff,#00efff,#00efff,#00efff,#00efff,#00edff,#00ccff,#006fff,#0016ff,#0000f0,#0000eb,#0001f6,#0020ff)"></i><i style="top:100px;height:2px;background:linear-gradient(90deg,#003aff,#000dff,#0000fd,#0000fa,#0000fa,#0000fb,#0000fb,#0000f1,#0000dc,#0000ca,#0000c3,#0000c5,#0000ca,#0000cd,#0000cc,#0000c9,#0000c6,#0000c5,#0000c4,#0000c4,#0000c4,#0000c6,#0000c9,#0000cd,#0000d3,#0000dc,#0000e7,#0001f4,#000afd,#001dff,#0034ff,#004eff,#0068ff,#0081ff,#0099ff,#00adff,#00bdff,#00c9ff,#00d1ff,#00d6ff,#00d9ff,#00d6ff,#00cdff,#00c7ff,#00ccff,#00d6ff,#00e0ff,#2dfbd2,#93ff6c,#94ff6b,#2ffcd0,#00e7ff,#00e6ff,#00e7ff,#00e8ff,#00eaff,#00ebff,#00ecff,#00ecff,#00edff,#00eeff,#00eeff,#00efff,#00edff,#00d6ff,#0088ff,#002fff,#0004fc,#0000f7,#000cfe,#003aff)"></i><i style="top:102px;height:2px;background:linear-gradient(90deg,#0053ff,#001fff,#0007ff,#0001fd,#0001fd,#0003fe,#0007ff,#0003fc,#0000eb,#0000da,#0000d6,#0000e0,#0001ef,#0007f4,#0008f4,#0005f1,#0003ef,#0001ee,#0001ed,#0000ed,#0000ed,#0001ef,#0003f1,#0006f4,#000bf9,#0012fe,#001eff,#002eff,#003fff,#0052ff,#0065ff,#0078ff,#008aff,#0099ff,#00a5ff,#00afff,#00b6ff,#00baff,#00bcff,#00beff,#00beff,#00beff,#00bdff,#00bcff,#00beff,#00c1ff,#00c4ff,#00c8ff,#00daff,#00ddff,#00d0ff,#00d1ff,#00d4ff,#00d7ff,#00daff,#00ddff,#00e0ff,#00e2ff,#00e5ff,#00e7ff,#00e9ff,#00eaff,#00ebff,#00ecff,#00deff,#00a4ff,#0052ff,#001eff,#0012ff,#002bff,#005eff)"></i><i style="top:104px;height:2px;background:linear-gradient(90deg,#0096ff,#0061ff,#003cff,#002aff,#0028ff,#0032ff,#003bff,#0033ff,#001bff,#000efc,#0010fc,#0023ff,#0044ff,#005eff,#0068ff,#006cff,#006fff,#0071ff,#0071ff,#006cff,#0064ff,#005cff,#0056ff,#0055ff,#0058ff,#005fff,#0067ff,#0070ff,#0079ff,#0081ff,#0089ff,#008eff,#0092ff,#0095ff,#0096ff,#0095ff,#0094ff,#0093ff,#0091ff,#0090ff,#008fff,#008eff,#008eff,#008fff,#0091ff,#0093ff,#0096ff,#009aff,#009eff,#00a2ff,#00a7ff,#00adff,#00b2ff,#00b8ff,#00bdff,#00c3ff,#00c9ff,#00ceff,#00d3ff,#00d8ff,#00dcff,#00e0ff,#00e3ff,#00e6ff,#00e1ff,#00beff,#007cff,#0049ff,#003cff,#0057ff,#0089ff)"></i><i style="top:106px;height:2px;background:linear-gradient(90deg,#00d8ff,#00bfff,#00a5ff,#0096ff,#0095ff,#009eff,#00a0ff,#008cff,#006dff,#005bff,#0063ff,#0087ff,#00b8ff,#05dffa,#16ede9,#25f8da,#32fecd,#3dffc2,#3effc1,#34ffcb,#27f7d8,#16ebe9,#03dbfc,#00bfff,#00a6ff,#0096ff,#008eff,#008aff,#0086ff,#0081ff,#007cff,#0077ff,#0071ff,#006cff,#0066ff,#0061ff,#005dff,#0059ff,#0056ff,#0053ff,#0052ff,#0051ff,#0052ff,#0053ff,#0055ff,#0058ff,#005cff,#0060ff,#0066ff,#006cff,#0072ff,#007aff,#0082ff,#008aff,#0093ff,#009cff,#00a4ff,#00adff,#00b6ff,#00beff,#00c6ff,#00cdff,#00d3ff,#00d9ff,#00dbff,#00ccff,#00a3ff,#007cff,#0071ff,#008aff,#00b2ff)"></i><i style="top:108px;height:2px;background:linear-gradient(90deg,#00eeff,#00ebff,#00e7ff,#00e3ff,#00e3ff,#00e4ff,#00deff,#00caff,#00b1ff,#00a6ff,#00b9ff,#04e6fb,#2afed5,#63ff9c,#92ff6d,#b5ff4a,#ceff31,#daff25,#dcff23,#d2ff2d,#bcff43,#97ff68,#63ff9c,#25fdda,#02e0fd,#00aaff,#0085ff,#006fff,#0062ff,#0057ff,#004dff,#0044ff,#003bff,#0033ff,#002cff,#0026ff,#0020ff,#001cff,#0019ff,#0016ff,#0015ff,#0014ff,#0014ff,#0016ff,#0018ff,#001bff,#001fff,#0024ff,#002aff,#0031ff,#0038ff,#0041ff,#004aff,#0055ff,#005fff,#006bff,#0076ff,#0082ff,#008eff,#009aff,#00a5ff,#00b0ff,#00baff,#00c4ff,#00cbff,#00cbff,#00bbff,#00a6ff,#00a1ff,#00b4ff,#00ceff)"></i><i style="top:110px;height:2px;background:linear-gradient(90deg,#00f0ff,#00f0ff,#00f0ff,#00efff,#00efff,#00efff,#00ebff,#00e3ff,#00d9ff,#00e0ff,#0cf8f3,#45ffba,#8bff74,#c7ff38,#effb10,#fee601,#ffc300,#ffaa00,#ffa900,#ffc000,#ffe100,#f4f70b,#ceff31,#88ff77,#2ffed0,#00cdff,#007eff,#004cff,#0033ff,#0024ff,#0019ff,#000fff,#0009fc,#0005f8,#0002f5,#0000f1,#0000ec,#0000e8,#0000e5,#0000e2,#0000e1,#0000e1,#0000e1,#0000e2,#0000e4,#0000e7,#0000ea,#0000ef,#0001f4,#0004f7,#0008fb,#000dff,#0016ff,#0020ff,#002cff,#0038ff,#0045ff,#0053ff,#0061ff,#0070ff,#007eff,#008dff,#009aff,#00a8ff,#00b4ff,#00bdff,#00beff,#00bbff,#00bdff,#00cbff,#00d9ff)"></i><i style="top:112px;height:2px;background:linear-gradient(90deg,#00f0ff,#00f0ff,#00f0ff,#00efff,#00efff,#00efff,#00eeff,#00ecff,#00f0ff,#0bfdf4,#41ffbe,#8bff74,#d1ff2e,#fbf304,#ffbd00,#ff6000,#fc1e00,#f60b00,#f60b00,#fc1d00,#ff5d00,#ffb600,#fdeb02,#d7ff28,#7cff83,#14f3eb,#0091ff,#003bff,#000efe,#0002f7,#0000ed,#0000e4,#0000dc,#0000d5,#0000cf,#0000cb,#0000c7,#0000c3,#0000c1,#0000bf,#0000be,#0000be,#0000be,#0000bf,#0000c0,#0000c3,#0000c6,#0000c9,#0000ce,#0000d3,#0000da,#0000e1,#0000ea,#0000f3,#0005fa,#000cff,#0019ff,#0028ff,#0037ff,#0047ff,#0057ff,#0068ff,#0078ff,#0089ff,#0098ff,#00a6ff,#00b2ff,#00baff,#00c2ff,#00ceff,#00d7ff)"></i><i style="top:114px;height:2px;background:linear-gradient(90deg,#00f0ff,#00f0ff,#00efff,#00efff,#00efff,#00eeff,#00edff,#00eeff,#01f9fe,#22ffdd,#66ff99,#b5ff4a,#f4fb0b,#ffd100,#ff6b00,#fb0b00,#e90000,#e60000,#e60000,#e90000,#fb0b00,#ff6700,#ffc700,#f8f607,#afff50,#35ffca,#00aaff,#0037ff,#0002f3,#0000da,#0000cf,#0000c7,#0000c0,#0000bb,#0000b7,#0000b3,#0000b0,#0000ae,#0000ac,#0000ab,#0000ab,#0000aa,#0000aa,#0000ab,#0000ac,#0000ad,#0000af,#0000b2,#0000b5,#0000b9,#0000be,#0000c5,#0000cc,#0000d4,#0000de,#0000e9,#0000f5,#0006fd,#0013ff,#0024ff,#0035ff,#0047ff,#0059ff,#006bff,#007dff,#008eff,#009eff,#00acff,#00b9ff,#00c5ff,#00cfff)"></i><i style="top:116px;height:2px;background:linear-gradient(90deg,#02f8fd,#08f9f7,#0efaf1,#12faed,#12faed,#0df9f2,#07f7f8,#01f7fe,#04fdfb,#2affd5,#71ff8e,#c1ff3e,#faf705,#ffca00,#ff6800,#fb0b00,#e90000,#e60000,#e60000,#e90000,#fb0a00,#ff6400,#ffc100,#fdef02,#bcff43,#41ffbe,#00adff,#002fff,#0000e4,#0000c6,#0000bc,#0000b5,#0000b0,#0000ac,#0000a9,#0000a7,#0000a5,#0000a4,#0000a3,#0000a2,#0000a2,#0000a1,#0000a1,#0000a2,#0000a2,#0000a3,#0000a4,#0000a6,#0000a8,#0000ab,#0000af,#0000b3,#0000b9,#0000c0,#0000c8,#0000d2,#0000dd,#0000ea,#0001f8,#0009ff,#001aff,#002cff,#003fff,#0052ff,#0066ff,#0079ff,#008bff,#009cff,#00acff,#00baff,#00c4ff)"></i><i style="top:118px;height:2px;background:linear-gradient(90deg,#67ff98,#88ff77,#9eff61,#a8ff57,#a8ff57,#9dff62,#86ff79,#64ff9b,#44ffbb,#3fffc0,#69ff96,#b1ff4e,#f1fc0e,#ffdb00,#ffab00,#ff5800,#fc1b00,#f60a00,#f60a00,#fc1b00,#ff5700,#ffa600,#ffd200,#f4f80b,#a2ff5d,#26fad9,#008eff,#0019fc,#0000d3,#0000ba,#0000b1,#0000ac,#0000a8,#0000a5,#0000a3,#0000a1,#0000a0,#0000a0,#00009f,#00009f,#00009f,#00009f,#00009f,#00009f,#00009f,#00009f,#0000a0,#0000a1,#0000a2,#0000a4,#0000a7,#0000aa,#0000af,#0000b5,#0000bc,#0000c4,#0000ce,#0000da,#0000e8,#0000f7,#0009ff,#001aff,#002dff,#0041ff,#0055ff,#006aff,#007dff,#0090ff,#00a1ff,#00b1ff,#00bcff)"></i><i style="top:120px;height:2px;background:linear-gradient(90deg,#d7ff28,#eaff15,#f2ff0d,#f5ff0a,#f5ff0a,#f2ff0d,#eaff15,#d6ff29,#b1ff4e,#84ff7b,#6fff90,#8dff72,#c9ff36,#f8f807,#ffdb00,#ffc100,#ffa700,#ff9300,#ff9200,#ffa500,#ffbd00,#ffd300,#f9f306,#c2ff3d,#5affa5,#05cffa,#0050ff,#0004ee,#0000c4,#0000b3,#0000ac,#0000a8,#0000a5,#0000a2,#0000a1,#0000a0,#00009f,#00009e,#00009e,#00009e,#00009e,#00009e,#00009e,#00009e,#00009e,#00009e,#00009f,#00009f,#0000a0,#0000a2,#0000a4,#0000a7,#0000ab,#0000b0,#0000b6,#0000be,#0000c8,#0000d3,#0000e0,#0000ee,#0002fd,#0012ff,#0025ff,#0039ff,#004dff,#0062ff,#0076ff,#0089ff,#009bff,#00acff,#00b8ff)"></i><i style="top:122px;height:2px;background:linear-gradient(90deg,#eeff11,#f7ff08,#faff05,#faff05,#faff05,#faff05,#f7ff08,#eeff11,#d3ff2c,#a2ff5d,#6cff93,#5bffa4,#7fff80,#b6ff49,#e4fe1b,#f9f206,#ffe500,#ffdc00,#ffdb00,#ffe200,#faf005,#e3fd1c,#aaff55,#52ffad,#08d8f7,#006bff,#0011fb,#0000d4,#0000bc,#0000b2,#0000ac,#0000a8,#0000a5,#0000a2,#0000a1,#0000a0,#00009f,#00009e,#00009e,#00009e,#00009e,#00009e,#00009e,#00009e,#00009e,#00009e,#00009f,#00009f,#0000a0,#0000a2,#0000a4,#0000a7,#0000ab,#0000b0,#0000b6,#0000be,#0000c8,#0000d3,#0000e0,#0000ee,#0002fd,#0012ff,#0025ff,#0039ff,#004dff,#0062ff,#0076ff,#0089ff,#009bff,#00acff,#00b8ff)"></i><i style="top:124px;height:2px;background:linear-gradient(90deg,#d7ff28,#eaff15,#f2ff0d,#f5ff0a,#f5ff0a,#f2ff0d,#eaff15,#d6ff29,#aeff51,#72ff8d,#32ffcd,#13feec,#21ffde,#4affb5,#76ff89,#9bff64,#b3ff4c,#bfff40,#beff41,#afff50,#8eff71,#5affa5,#1ef2e1,#00b9ff,#005fff,#0017fd,#0000e4,#0000cb,#0000bf,#0000b7,#0000b1,#0000ac,#0000a8,#0000a5,#0000a3,#0000a1,#0000a0,#0000a0,#00009f,#00009f,#00009f,#00009f,#00009f,#00009f,#00009f,#00009f,#0000a0,#0000a1,#0000a2,#0000a4,#0000a7,#0000aa,#0000af,#0000b5,#0000bc,#0000c4,#0000ce,#0000da,#0000e8,#0000f7,#0009ff,#001aff,#002dff,#0041ff,#0055ff,#006aff,#007dff,#0090ff,#00a1ff,#00b1ff,#00bcff)"></i><i style="top:126px;height:2px;background:linear-gradient(90deg,#67ff98,#88ff77,#9eff61,#a8ff57,#a8ff57,#9dff62,#86ff79,#63ff9c,#37ffc8,#11faee,#00ecff,#00dfff,#00e1ff,#01edfe,#0cf4f3,#19fae6,#22fedd,#26ffd9,#23fadc,#19efe6,#07ddf8,#00b4ff,#007dff,#0046ff,#0019ff,#0001f7,#0000e3,#0000d6,#0000cb,#0000c3,#0000bb,#0000b5,#0000b0,#0000ac,#0000a9,#0000a7,#0000a5,#0000a4,#0000a3,#0000a2,#0000a2,#0000a1,#0000a1,#0000a2,#0000a2,#0000a3,#0000a4,#0000a6,#0000a8,#0000ab,#0000af,#0000b3,#0000b9,#0000c0,#0000c8,#0000d2,#0000dd,#0000ea,#0001f8,#0009ff,#001aff,#002cff,#003fff,#0052ff,#0066ff,#0079ff,#008bff,#009cff,#00acff,#00baff,#00c5ff)"></i><i style="top:128px;height:2px;background:linear-gradient(90deg,#02f7fd,#08f7f7,#0ef6f1,#11f5ee,#11f3ee,#0df1f2,#06f0f9,#00eeff,#00e9ff,#00e4ff,#00e0ff,#00dbff,#00d5ff,#00d0ff,#00cbff,#00c8ff,#00c2ff,#00baff,#00acff,#0098ff,#0080ff,#0064ff,#0048ff,#0030ff,#001bff,#000aff,#0002f8,#0000ed,#0000e1,#0000d7,#0000ce,#0000c7,#0000c0,#0000bb,#0000b7,#0000b3,#0000b0,#0000ae,#0000ac,#0000ab,#0000ab,#0000aa,#0000aa,#0000ab,#0000ac,#0000ad,#0000af,#0000b2,#0000b5,#0000b9,#0000be,#0000c5,#0000cc,#0000d4,#0000de,#0000e9,#0000f5,#0006fd,#0013ff,#0024ff,#0035ff,#0046ff,#0057ff,#0068ff,#0079ff,#0089ff,#0099ff,#00a9ff,#00b7ff,#00c4ff,#00ceff)"></i><i style="top:130px;height:2px;background:linear-gradient(90deg,#00d8ff,#00c6ff,#00b1ff,#009fff,#0092ff,#008cff,#008eff,#0098ff,#00a8ff,#00baff,#00caff,#00d5ff,#00d8ff,#00d5ff,#00ceff,#00c5ff,#00baff,#00aeff,#00a0ff,#0090ff,#0080ff,#006eff,#005dff,#004cff,#003cff,#002dff,#001eff,#0010ff,#0007fc,#0001f6,#0000ed,#0000e4,#0000dc,#0000d5,#0000cf,#0000cb,#0000c7,#0000c3,#0000c1,#0000bf,#0000be,#0000be,#0000be,#0000bf,#0000c0,#0000c3,#0000c6,#0000c9,#0000ce,#0000d3,#0000da,#0000e1,#0000ea,#0000f3,#0005fa,#000cff,#0019ff,#0027ff,#0036ff,#0044ff,#004fff,#0056ff,#005aff,#005cff,#0060ff,#0066ff,#0070ff,#0080ff,#0094ff,#00abff,#00bfff)"></i><i style="top:132px;height:2px;background:linear-gradient(90deg,#0087ff,#005bff,#0037ff,#001eff,#0013fc,#0010fa,#0011fb,#0019ff,#002dff,#004cff,#0075ff,#009fff,#00c1ff,#00d3ff,#00d7ff,#00d3ff,#00ccff,#00c2ff,#00b8ff,#00acff,#009fff,#0091ff,#0083ff,#0075ff,#0066ff,#0058ff,#004aff,#003cff,#0030ff,#0024ff,#0019ff,#000fff,#0009fc,#0005f8,#0002f5,#0000f1,#0000ec,#0000e8,#0000e5,#0000e2,#0000e1,#0000e1,#0000e1,#0000e2,#0000e4,#0000e7,#0000ea,#0000ef,#0001f4,#0004f7,#0008fb,#000dff,#0016ff,#0020ff,#002cff,#0038ff,#0045ff,#0050ff,#0056ff,#0054ff,#0049ff,#003aff,#002aff,#001eff,#0017ff,#0016ff,#0019ff,#0023ff,#0036ff,#0053ff,#0073ff)"></i><i style="top:134px;height:2px;background:linear-gradient(90deg,#0043ff,#0016ff,#0001f8,#0000ed,#0000e8,#0000e7,#0000e7,#0000ea,#0000f4,#000cfe,#0031ff,#0066ff,#009cff,#00c6ff,#00daff,#00dfff,#00dbff,#00d6ff,#00cfff,#00c6ff,#00bdff,#00b3ff,#00a9ff,#009eff,#0092ff,#0086ff,#007aff,#006eff,#0063ff,#0058ff,#004eff,#0044ff,#003bff,#0033ff,#002cff,#0026ff,#0020ff,#001cff,#0019ff,#0016ff,#0015ff,#0014ff,#0014ff,#0016ff,#0018ff,#001bff,#001fff,#0024ff,#002aff,#0031ff,#0038ff,#0041ff,#004aff,#0055ff,#005fff,#006aff,#0073ff,#0075ff,#006bff,#0053ff,#0036ff,#001bff,#0009ff,#0001fe,#0000fc,#0000fb,#0000fb,#0001fd,#0008ff,#001cff,#0037ff)"></i><i style="top:136px;height:2px;background:linear-gradient(90deg,#0043ff,#0016ff,#0001f8,#0000ed,#0000e8,#0000e7,#0000e7,#0000ea,#0000f4,#000cfe,#0032ff,#0067ff,#009fff,#00caff,#00e0ff,#00e7ff,#00e6ff,#00e3ff,#00dfff,#00dbff,#00d5ff,#00cfff,#00c8ff,#00c1ff,#00b9ff,#00b0ff,#00a7ff,#009fff,#0096ff,#008dff,#0085ff,#007cff,#0075ff,#006eff,#0067ff,#0062ff,#005dff,#0059ff,#0056ff,#0053ff,#0052ff,#0051ff,#0052ff,#0053ff,#0055ff,#0058ff,#005cff,#0061ff,#0066ff,#006cff,#0073ff,#007aff,#0082ff,#008aff,#0093ff,#009bff,#00a0ff,#009dff,#008aff,#0068ff,#0041ff,#0021ff,#000bff,#0002fe,#0000fc,#0000fb,#0000fb,#0001fd,#0008ff,#001cff,#0038ff)"></i><i style="top:138px;height:2px;background:linear-gradient(90deg,#0087ff,#005bff,#0038ff,#0020ff,#0016fd,#0014fb,#0016fc,#001eff,#0032ff,#0051ff,#007aff,#00a6ff,#00caff,#00e1ff,#00ebff,#00edff,#00ecff,#00ebff,#00e9ff,#00e7ff,#00e4ff,#00e1ff,#00ddff,#00d9ff,#00d5ff,#00d0ff,#00cbff,#00c5ff,#00bfff,#00baff,#00b4ff,#00aeff,#00a9ff,#00a4ff,#009fff,#009bff,#0097ff,#0094ff,#0092ff,#0090ff,#008fff,#008eff,#008fff,#0092ff,#0098ff,#009eff,#00a5ff,#00abff,#00aeff,#00afff,#00afff,#00b0ff,#00b3ff,#00b8ff,#00beff,#00c3ff,#00c8ff,#00c8ff,#00bfff,#00a7ff,#0085ff,#0060ff,#0042ff,#002dff,#0021ff,#001cff,#001fff,#0029ff,#003bff,#0059ff,#0079ff)"></i><i style="top:140px;height:2px;background:linear-gradient(90deg,#00dfff,#00d3ff,#00c8ff,#00c1ff,#00bfff,#00c3ff,#04c7fb,#08cdf7,#0bd6f4,#0ce0f3,#0ceaf3,#09f2f6,#05f7fa,#01f7fe,#00f4ff,#00f1ff,#00efff,#00eeff,#00eeff,#00edff,#00ecff,#00ebff,#00e9ff,#00e7ff,#00e5ff,#00e3ff,#00e0ff,#00ddff,#00daff,#00d7ff,#00d4ff,#00d1ff,#00ceff,#00cbff,#00c9ff,#00c6ff,#00c4ff,#00c2ff,#00c1ff,#00c0ff,#00c0ff,#00c5ff,#00cfff,#00dbff,#04e9fb,#10f1ef,#1af8e5,#1efce1,#1dfce2,#17f8e8,#0df3f2,#02edfd,#00e2ff,#00dcff,#00dbff,#00dfff,#00e9ff,#02f3fd,#08f5f7,#07f2f8,#01e7fe,#00ceff,#00b6ff,#00a4ff,#0098ff,#0093ff,#0096ff,#009cff,#00a6ff,#00b8ff,#00ccff)"></i><i style="top:142px;height:2px;background:linear-gradient(90deg,#23ffdc,#3affc5,#50ffaf,#64ff9b,#75ff8a,#81ff7e,#88ff77,#8bff74,#88ff77,#80ff7f,#73ff8c,#61ff9e,#4bffb4,#33ffcc,#1cffe3,#0afef5,#01fafe,#00f4ff,#00f0ff,#00efff,#00eeff,#00eeff,#00ecff,#00eaff,#00e7ff,#00e3ff,#00dfff,#00dbff,#00d7ff,#00d4ff,#00d2ff,#00d1ff,#00d1ff,#00d3ff,#00d5ff,#00d7ff,#00d9ff,#00dbff,#00dcff,#00ddff,#01eafe,#19fbe6,#3affc5,#4cffb3,#6aff95,#83ff7c,#9aff65,#aaff55,#b3ff4c,#b0ff4f,#9bff64,#72ff8d,#3cffc3,#11fcee,#01f7fe,#08faf7,#24ffdb,#47ffb8,#5cffa3,#5dffa2,#48ffb7,#25ffda,#08faf7,#00eeff,#00e9ff,#00e7ff,#00e4ff,#00d1ff,#00b8ff,#00baff,#00d1ff)"></i><i style="top:144px;height:2px;background:linear-gradient(90deg,#76ff89,#97ff68,#b2ff4d,#c5ff3a,#d2ff2d,#daff25,#dfff20,#e0ff1f,#deff21,#d8ff27,#ceff31,#bfff40,#aaff55,#8dff72,#6aff95,#45ffba,#23ffdc,#0afef5,#00f8ff,#00f0ff,#00eaff,#00e4ff,#00dbff,#00ceff,#00bfff,#00aeff,#009dff,#008fff,#0083ff,#007bff,#0078ff,#0079ff,#007fff,#0089ff,#0096ff,#00a6ff,#00b6ff,#00c5ff,#00d3ff,#00e6ff,#2affd5,#89ff76,#b6ff49,#cbff34,#e9fd16,#eef811,#fce203,#ffbc00,#ff9a00,#ff8900,#ff8d00,#ffac00,#e9dd16,#a0ff5f,#49ffb6,#4bffb4,#81ff7e,#b0ff4f,#c8ff37,#c8ff37,#b0ff4f,#80ff7f,#40ffbf,#0cfef3,#00f3ff,#00efff,#00dfff,#00abff,#007aff,#007aff,#00a0ff)"></i><i style="top:146px;height:2px;background:linear-gradient(90deg,#b6ff49,#d1ff2e,#e3ff1c,#edff12,#f3ff0c,#f6ff09,#f7ff08,#f7ff08,#f7ff08,#f5ff0a,#f2ff0d,#eaff15,#deff21,#c9ff36,#abff54,#83ff7c,#56ffa9,#2bffd4,#08fef7,#00ebff,#00d4ff,#00bbff,#009eff,#007dff,#005cff,#003dff,#0023ff,#0016f7,#000ef0,#0009ec,#0007eb,#0008eb,#000cef,#0013f5,#001dfd,#0033ff,#0051ff,#0072ff,#0097ff,#02d9fd,#73ff8c,#d8ff27,#efff10,#fdf502,#ffe100,#ffc200,#ff8a00,#ff5f00,#ff4800,#ff4000,#ff3f00,#ff4600,#ff6100,#ffb000,#d2fa2d,#adff52,#d5ff2a,#f6fc09,#fef501,#fef501,#f6fc09,#d3ff2c,#8dff72,#38ffc7,#04fbfb,#00eeff,#00c7ff,#0072ff,#0039ff,#0039ff,#0063ff)"></i><i style="top:148px;height:2px;background:linear-gradient(90deg,#d1ff2e,#e6ff19,#f1ff0e,#f7ff08,#f9ff06,#faff05,#faff05,#faff05,#faff05,#faff05,#f8ff07,#f5ff0a,#eeff11,#e0ff1f,#c8ff37,#a4ff5b,#75ff8a,#40ffbf,#0dfdf2,#00d9ff,#00aaff,#007dff,#004fff,#0024ff,#0008f5,#0000e0,#0000ca,#0000bb,#0000b2,#0000ae,#0000ac,#0000ad,#0000b0,#0000b8,#0000c4,#0000d7,#0003ef,#001afe,#004fff,#0ccaf3,#abff54,#f3ff0c,#faff05,#ffe900,#ffdb00,#ffaf00,#ff6500,#ff4500,#ff3a00,#ff3800,#ff3800,#ff3900,#ff4100,#ff7200,#fed701,#f1ff0e,#fdf702,#ffe600,#ffe000,#ffe000,#ffe600,#fbf904,#c8ff37,#6aff95,#15ffea,#00ecff,#00a9ff,#0042ff,#0010ff,#0010ff,#0033ff)"></i><i style="top:150px;height:2px;background:linear-gradient(90deg,#d1ff2e,#e6ff19,#f1ff0e,#f7ff08,#f9ff06,#faff05,#faff05,#faff05,#faff05,#faff05,#f8ff07,#f5ff0a,#eeff11,#e0ff1f,#c8ff37,#a3ff5c,#73ff8c,#3bffc4,#07f7f8,#00c2ff,#0089ff,#0052ff,#0020ff,#0001f2,#0000d2,#0000ba,#0000ac,#0000a4,#0000a0,#00009f,#00009e,#00009f,#0000a0,#0000a2,#0000a8,#0000b5,#0000c9,#0000eb,#002bff,#18cee7,#caff35,#f8ff07,#fcff03,#ffe400,#ffdb00,#ffb600,#ff6400,#ff4500,#ff3a00,#ff3800,#ff3800,#ff3900,#ff4200,#ff7400,#ffd000,#fff700,#ffe800,#ffde00,#ffdc00,#ffdc00,#ffde00,#ffea00,#e7ff18,#8dff72,#28ffd7,#00ebff,#008fff,#0024ff,#0001fe,#0001fe,#0017ff)"></i><i style="top:152px;height:2px;background:linear-gradient(90deg,#b6ff49,#d1ff2e,#e3ff1c,#edff12,#f3ff0c,#f6ff09,#f7ff08,#f7ff08,#f7ff08,#f5ff0a,#f2ff0d,#eaff15,#deff21,#c9ff36,#abff54,#82ff7d,#53ffac,#20ffdf,#01ebfe,#00b9ff,#0085ff,#0051ff,#0020ff,#0001f2,#0000d2,#0000ba,#0000ac,#0000a4,#0000a0,#00009f,#00009e,#00009f,#0000a0,#0000a2,#0000a8,#0000b5,#0000c9,#0000eb,#0030ff,#20d9df,#d5ff2a,#f9ff06,#fcfe03,#ffe200,#ffdb00,#ffc200,#ff7e00,#ff5a00,#ff4600,#ff3e00,#ff3d00,#ff4100,#ff5600,#ff9800,#ffe900,#fff800,#ffe500,#ffdc00,#ffdb00,#ffdb00,#ffdc00,#ffe600,#effd10,#99ff66,#2fffd0,#00e9ff,#0081ff,#0018ff,#0000fb,#0000fb,#000cff)"></i><i style="top:154px;height:2px;background:linear-gradient(90deg,#76ff89,#97ff68,#b2ff4d,#c5ff3a,#d2ff2d,#daff25,#dfff20,#e0ff1f,#deff21,#d8ff27,#ceff31,#bfff40,#aaff55,#8dff72,#6aff95,#44ffbb,#21ffde,#05fbfa,#00e5ff,#00c8ff,#00a5ff,#007cff,#004fff,#0024ff,#0008f5,#0000e0,#0000ca,#0000bb,#0000b2,#0000ae,#0000ac,#0000ad,#0000b0,#0000b8,#0000c4,#0000d7,#0003ef,#001bfe,#0059ff,#1fe4e0,#cfff30,#f9ff06,#fcff03,#ffe400,#ffdb00,#ffc800,#ffa400,#ff8c00,#ff7500,#ff6700,#ff6500,#ff7200,#ff9900,#fce003,#e9ff16,#f7fd08,#ffe900,#ffde00,#ffdc00,#ffdc00,#ffde00,#ffea00,#e7ff18,#8dff72,#28ffd7,#00e7ff,#0081ff,#0018ff,#0000fb,#0000fb,#000cff)"></i><i style="top:156px;height:2px;background:linear-gradient(90deg,#23ffdc,#3bffc4,#53ffac,#68ff97,#79ff86,#85ff7a,#8cff73,#8eff71,#8aff75,#82ff7d,#74ff8b,#61ff9e,#4bffb4,#33ffcc,#1cffe3,#0afef5,#01f9fe,#00f2ff,#00eaff,#00e1ff,#00d1ff,#00baff,#009eff,#007dff,#005cff,#003dff,#0023ff,#0016f7,#000ef0,#000aec,#0008eb,#0009eb,#000cef,#0013f5,#001dfd,#0034ff,#0051ff,#0073ff,#009fff,#1af0e5,#b8ff47,#f4ff0b,#faff05,#ffe900,#ffdc00,#ffc800,#ffb600,#ffb100,#ffac00,#ffaa00,#ffb000,#ffc600,#faee05,#d0ff2f,#b9ff46,#daff25,#fcf803,#ffe600,#ffe000,#ffe000,#ffe600,#fbf904,#c8ff37,#6aff95,#15ffea,#00e7ff,#008fff,#0024ff,#0001fe,#0001fe,#0017ff)"></i><i style="top:158px;height:2px;background:linear-gradient(90deg,#00f6ff,#02f9fd,#08fbf7,#0dfdf2,#13feec,#17ffe8,#1affe5,#1affe5,#19fee6,#15fcea,#10f9ef,#0bf7f4,#05f4fa,#00f2ff,#00eeff,#00ecff,#00ecff,#00ecff,#00ecff,#00ebff,#00e9ff,#00e3ff,#00daff,#00ceff,#00bfff,#00afff,#009eff,#0090ff,#0084ff,#007dff,#007aff,#007bff,#0081ff,#008cff,#0099ff,#00a9ff,#00baff,#00caff,#00dbff,#0df9f2,#82ff7d,#daff25,#f0ff0f,#fdf502,#ffe100,#ffd400,#ffc800,#ffc400,#ffc600,#ffce00,#ffdf00,#f7f808,#cbff34,#8fff70,#76ff89,#9cff63,#d5ff2a,#f6fc09,#fef501,#fef501,#f6fc09,#d3ff2c,#8dff72,#38ffc7,#04fbfb,#00eaff,#00a9ff,#0042ff,#0010ff,#0010ff,#0033ff)"></i><i style="top:160px;height:2px;background:linear-gradient(90deg,#00e5ff,#00e0ff,#00daff,#00d3ff,#00ccff,#00c4ff,#00bcff,#00b4ff,#00adff,#00a8ff,#00a3ff,#00a1ff,#00a0ff,#00a1ff,#00a3ff,#00a8ff,#00adff,#00b4ff,#00bcff,#00c4ff,#00ccff,#00d4ff,#00daff,#00dfff,#00e1ff,#00e2ff,#00e1ff,#00dfff,#00ddff,#00dbff,#00daff,#00dbff,#00dcff,#00dfff,#00e3ff,#00e6ff,#00e9ff,#00ecff,#00eeff,#01f7fe,#33ffcc,#8cff73,#b8ff47,#cdff32,#eafd15,#eefb11,#f7f408,#fbf104,#f9f206,#f1f90e,#dcff23,#b2ff4d,#7cff83,#45ffba,#2cffd3,#48ffb7,#82ff7d,#b1ff4e,#c8ff37,#c8ff37,#b1ff4e,#81ff7e,#41ffbe,#0cfef3,#00f4ff,#00edff,#00c7ff,#0072ff,#0039ff,#0039ff,#0063ff)"></i><i style="top:162px;height:2px;background:linear-gradient(90deg,#00b6ff,#00a4ff,#0092ff,#0080ff,#006fff,#0061ff,#0054ff,#004aff,#0043ff,#003dff,#0039ff,#0037ff,#0037ff,#0038ff,#003bff,#003fff,#0045ff,#004dff,#0058ff,#0065ff,#0075ff,#0086ff,#0098ff,#00aaff,#00bcff,#00cbff,#00d7ff,#00e1ff,#00e7ff,#00ebff,#00edff,#00eeff,#00efff,#00efff,#00efff,#00efff,#00f0ff,#00f0ff,#00f0ff,#00f1ff,#04fafb,#25ffda,#48ffb7,#59ffa6,#76ff89,#8dff72,#a1ff5e,#aaff55,#a6ff59,#95ff6a,#78ff87,#53ffac,#2cffd3,#0efff1,#02fbfd,#0afef5,#28ffd7,#4affb5,#5effa1,#5effa1,#4affb5,#28ffd7,#09fdf6,#00f4ff,#00f0ff,#00efff,#00dfff,#00abff,#007aff,#007aff,#00a0ff)"></i><i style="top:164px;height:2px;background:linear-gradient(90deg,#0085ff,#006eff,#0059ff,#0047ff,#0039ff,#002eff,#0026ff,#0021ff,#001eff,#001cff,#001bff,#001aff,#001aff,#001bff,#001bff,#001cff,#001fff,#0022ff,#0028ff,#0031ff,#003dff,#004dff,#0060ff,#0076ff,#008dff,#00a5ff,#00baff,#00ccff,#00daff,#00e4ff,#00eaff,#00edff,#00efff,#00efff,#00f0ff,#00f0ff,#00f0ff,#00f0ff,#00f0ff,#00f0ff,#00f1ff,#00f6ff,#04fbfb,#0afef5,#18ffe7,#29ffd6,#36ffc9,#3cffc3,#39ffc6,#2effd1,#1effe1,#0dfff2,#02fbfd,#00f4ff,#00f1ff,#00f2ff,#01f8fe,#07fcf8,#0cfef3,#0cfef3,#07fcf8,#01f8fe,#00f2ff,#00f0ff,#00f0ff,#00f0ff,#00ecff,#00d7ff,#00bcff,#00bcff,#00d2ff)"></i><i style="top:166px;height:2px;background:linear-gradient(90deg,#0085ff,#006eff,#0059ff,#0047ff,#0039ff,#002eff,#0026ff,#0021ff,#001eff,#001cff,#001bff,#001bff,#001bff,#001bff,#001cff,#001dff,#001fff,#0023ff,#0029ff,#0031ff,#003dff,#004dff,#0060ff,#0076ff,#008dff,#00a5ff,#00baff,#00ccff,#00daff,#00e4ff,#00eaff,#00edff,#00efff,#00efff,#00f0ff,#00f0ff,#00f0ff,#00f0ff,#00f0ff,#00f0ff,#00f0ff,#00f0ff,#00f0ff,#00f2ff,#00f5ff,#00f9ff,#02fafd,#03fbfc,#02fafd,#00f9ff,#00f6ff,#00f3ff,#00f1ff,#00f0ff,#00f0ff,#00f0ff,#00f0ff,#00f1ff,#00f2ff,#00f2ff,#00f1ff,#00f0ff,#00f0ff,#00f0ff,#00f0ff,#00f0ff,#00efff,#00ebff,#00e3ff,#00e3ff,#00e9ff)"></i><i style="top:168px;height:2px;background:linear-gradient(90deg,#00b6ff,#00a5ff,#0093ff,#0081ff,#0071ff,#0062ff,#0057ff,#004dff,#0046ff,#0041ff,#003dff,#003bff,#003bff,#003cff,#003eff,#0042ff,#0048ff,#0050ff,#005aff,#0067ff,#0076ff,#0087ff,#0099ff,#00abff,#00bcff,#00cbff,#00d8ff,#00e1ff,#00e8ff,#00ecff,#00eeff,#00efff,#00efff,#00f0ff,#00f0ff,#00f0ff,#00f0ff,#00f0ff,#00f0ff,#00f0ff,#00f0ff,#00f0ff,#00f0ff,#00f0ff,#00f0ff,#00f0ff,#00f0ff,#00f0ff,#00f0ff,#00f0ff,#00f0ff,#00f0ff,#00f0ff,#00f0ff,#00f0ff,#00f0ff,#00f0ff,#00f0ff,#00f0ff,#00f0ff,#00f0ff,#00f0ff,#00f0ff,#00f0ff,#00f0ff,#00f0ff,#00f0ff,#00efff,#00eeff,#00eeff,#00efff)"></i><i style="top:170px;height:2px;background:linear-gradient(90deg,#00e7ff,#00e2ff,#00dcff,#00d6ff,#00cfff,#00c7ff,#00c1ff,#00baff,#00b5ff,#00b1ff,#00aeff,#00acff,#00acff,#00adff,#00afff,#00b2ff,#00b7ff,#00bcff,#00c3ff,#00caff,#00d1ff,#00d8ff,#00deff,#00e4ff,#00e8ff,#00ebff,#00edff,#00efff,#00efff,#00f0ff,#00f0ff,#00f0ff,#00f0ff,#00f0ff,#00f0ff,#00f0ff,#00f0ff,#00f0ff,#00f0ff,#00f0ff,#00f0ff,#00f0ff,#00f0ff,#00f0ff,#00f0ff,#00f0ff,#00f0ff,#00f0ff,#00f0ff,#00f0ff,#00f0ff,#00f0ff,#00f0ff,#00f0ff,#00f0ff,#00f0ff,#00f0ff,#00f0ff,#00f0ff,#00f0ff,#00f0ff,#00f0ff,#00f0ff,#00f0ff,#00f0ff,#00f0ff,#00f0ff,#00f0ff,#00f0ff,#00f0ff,#00f0ff)"></i><i style="top:172px;height:2px;background:linear-gradient(90deg,#00f4ff,#00f6ff,#00f7ff,#00f9ff,#00faff,#01fbfe,#02fbfd,#03fbfc,#04fbfb,#05fbfa,#05fbfa,#06fbf9,#06fbf9,#06fbf9,#05fbfa,#05fbfa,#04fbfb,#03fbfc,#02fbfd,#01fafe,#00faff,#00f8ff,#00f7ff,#00f5ff,#00f4ff,#00f3ff,#00f2ff,#00f1ff,#00f1ff,#00f0ff,#00f0ff,#00f0ff,#00f0ff,#00f1ff,#00f1ff,#00f1ff,#00f1ff,#00f1ff,#00f0ff,#00f0ff,#00f0ff,#00f0ff,#00f0ff,#00f0ff,#00f0ff,#00f0ff,#00f0ff,#00f0ff,#00f0ff,#00f0ff,#00f0ff,#00f0ff,#00f0ff,#00f0ff,#00f0ff,#00f0ff,#00f0ff,#00f0ff,#00f0ff,#00f0ff,#00f0ff,#00f0ff,#00f0ff,#00f0ff,#00f0ff,#00f0ff,#00f0ff,#00f0ff,#00f0ff,#00f0ff,#00f0ff)"></i><i style="top:174px;height:2px;background:linear-gradient(90deg,#00fdff,#02fefd,#05fffa,#09fff6,#0dfff2,#11ffee,#15ffea,#18ffe7,#1bffe4,#1dffe2,#1effe1,#1fffe0,#20ffdf,#1fffe0,#1effe1,#1cffe3,#1affe5,#17ffe8,#14ffeb,#10ffef,#0cfff3,#08fff7,#04fffb,#02fefd,#00fcff,#00f9ff,#00f7ff,#00f5ff,#00f4ff,#00f6ff,#02f9fd,#09fbf6,#11fdee,#19ffe6,#21ffde,#24ffdb,#22ffdd,#1cffe3,#13feec,#0bfbf4,#04f9fb,#00f6ff,#00f2ff,#00f0ff,#00f0ff,#00f0ff,#00f0ff,#00f1ff,#00f2ff,#00f3ff,#00f5ff,#00f6ff,#00f8ff,#01f8fe,#03f9fc,#04f9fb,#05f9fa,#05f9fa,#04f9fb,#04f9fb,#02f9fd,#01f8fe,#00f8ff,#00f6ff,#00f4ff,#00f3ff,#00f1ff,#00f1ff,#00f0ff,#00f0ff,#00f0ff)"></i><i style="top:176px;height:2px;background:linear-gradient(90deg,#0afff5,#10ffef,#16ffe9,#1cffe3,#21ffde,#27ffd8,#2bffd4,#2fffd0,#33ffcc,#35ffca,#37ffc8,#38ffc7,#38ffc7,#38ffc7,#36ffc9,#34ffcb,#32ffcd,#2effd1,#2affd5,#25ffda,#20ffdf,#1affe5,#14ffeb,#0efff1,#08fff7,#04fffb,#02fefd,#05fefa,#10ffef,#28ffd7,#49ffb6,#6dff92,#8dff72,#a5ff5a,#b5ff4a,#bbff44,#b8ff47,#acff53,#97ff68,#79ff86,#56ffa9,#32ffcd,#15ffea,#07fbf8,#02f9fd,#05fafa,#0bfcf4,#13ffec,#1fffe0,#2cffd3,#3affc5,#48ffb7,#54ffab,#5fffa0,#67ff98,#6dff92,#71ff8e,#72ff8d,#70ff8f,#6cff93,#65ff9a,#5bffa4,#50ffaf,#43ffbc,#36ffc9,#28ffd7,#1affe5,#10feef,#08fbf7,#02fafd,#00f7ff)"></i><i style="top:178px;height:2px;background:linear-gradient(90deg,#16ffe9,#1dffe2,#25ffda,#2bffd4,#32ffcd,#37ffc8,#3cffc3,#40ffbf,#43ffbc,#45ffba,#46ffb9,#47ffb8,#47ffb8,#47ffb8,#46ffb9,#44ffbb,#42ffbd,#3fffc0,#3bffc4,#36ffc9,#30ffcf,#29ffd6,#22ffdd,#1bffe4,#14ffeb,#10ffef,#15ffea,#2bffd4,#54ffab,#89ff76,#bcff43,#e4fe1b,#f7f508,#ffeb00,#ffe200,#ffde00,#ffdf00,#ffe500,#fcef03,#f0f90f,#d4ff2b,#a8ff57,#78ff87,#54ffab,#46ffb9,#50ffaf,#67ff98,#83ff7c,#9fff60,#b8ff47,#ceff31,#dffd20,#e7f718,#eef211,#f3ef0c,#f6ec09,#f8eb07,#f8eb07,#f7eb08,#f5ed0a,#f1f00e,#ecf413,#e5f91a,#daff25,#c7ff38,#b0ff4f,#96ff69,#7aff85,#5dffa2,#41ffbe,#2cffd3)"></i><i style="top:180px;height:2px;background:linear-gradient(90deg,#1dffe2,#25ffda,#2dffd2,#34ffcb,#3affc5,#40ffbf,#44ffbb,#47ffb8,#49ffb6,#4bffb4,#4cffb3,#4cffb3,#4cffb3,#4cffb3,#4cffb3,#4bffb4,#49ffb6,#46ffb9,#43ffbc,#3effc1,#38ffc7,#32ffcd,#2affd5,#23ffdc,#1cffe3,#1dffe2,#2fffd0,#59ffa6,#92ff6d,#ccff33,#f7fc08,#ffe700,#ffd700,#ffcf00,#ffcb00,#ffc900,#ffc900,#ffca00,#ffcd00,#ffd600,#ffe700,#f6fb09,#d8ff27,#bbff44,#b0ff4f,#bbff44,#d5ff2a,#eefc11,#fbf204,#ffe200,#ffd400,#ffca00,#ffc300,#ffbf00,#ffbc00,#ffba00,#ffb900,#ffb900,#ffb900,#ffba00,#ffbd00,#ffc000,#ffc500,#ffcd00,#ffd900,#ffe800,#f7f508,#e6fe19,#c8ff37,#a4ff5b,#84ff7b)"></i><i style="top:182px;height:2px;background:linear-gradient(90deg,#1dffe2,#25ffda,#2dffd2,#34ffcb,#3affc5,#40ffbf,#44ffbb,#47ffb8,#49ffb6,#4bffb4,#4cffb3,#4cffb3,#4cffb3,#4cffb3,#4cffb3,#4bffb4,#49ffb6,#46ffb9,#43ffbc,#3effc1,#38ffc7,#32ffcd,#2affd5,#23ffdc,#1dffe2,#21ffde,#3affc5,#6bff94,#a9ff56,#e1ff1e,#fff500,#ffdd00,#ffd100,#ffcc00,#ffc900,#ffc800,#ffc700,#ffc700,#ffc800,#ffcc00,#ffd600,#ffe900,#fbfd04,#eaff15,#e5ff1a,#f2ff0d,#fef501,#ffe000,#ffcf00,#ffc300,#ffbc00,#ffb700,#ffb500,#ffb300,#ffb300,#ffb300,#ffb300,#ffb300,#ffb300,#ffb300,#ffb300,#ffb400,#ffb500,#ffb800,#ffbe00,#ffc700,#ffd400,#ffe700,#fafc05,#dcff23,#bcff43)"></i><i style="top:184px;height:2px;background:linear-gradient(90deg,#16ffe9,#1dffe2,#25ffda,#2bffd4,#32ffcd,#37ffc8,#3cffc3,#40ffbf,#43ffbc,#45ffba,#46ffb9,#47ffb8,#47ffb8,#47ffb8,#46ffb9,#44ffbb,#42ffbd,#3fffc0,#3bffc4,#36ffc9,#30ffcf,#29ffd6,#22ffdd,#1bffe4,#16ffe9,#18ffe7,#2cffd3,#59ffa6,#95ff6a,#d0ff2f,#f9fb06,#ffe500,#ffd500,#ffcd00,#ffca00,#ffc900,#ffc900,#ffc900,#ffcc00,#ffd400,#ffe300,#fcf603,#edff12,#ddff22,#ddff22,#efff10,#fef601,#ffe000,#ffcf00,#ffc300,#ffbc00,#ffb700,#ffb500,#ffb300,#ffb300,#ffb300,#ffb300,#ffb300,#ffb300,#ffb300,#ffb300,#ffb400,#ffb500,#ffb800,#ffbe00,#ffc700,#ffd400,#ffe700,#fafc05,#dcff23,#bcff43)"></i><i style="top:186px;height:2px;background:linear-gradient(90deg,#0afff5,#10ffef,#16ffe9,#1cffe3,#21ffde,#27ffd8,#2bffd4,#2fffd0,#33ffcc,#35ffca,#37ffc8,#38ffc7,#38ffc7,#38ffc7,#36ffc9,#34ffcb,#32ffcd,#2effd1,#2affd5,#25ffda,#20ffdf,#1affe5,#14ffeb,#0efff1,#09fff6,#07fff8,#0ffff0,#28ffd7,#55ffaa,#8bff74,#bfff40,#e6fe19,#f8f407,#ffea00,#ffe100,#ffde00,#ffdf00,#ffe500,#fdef02,#f1f70e,#dcff23,#baff45,#9dff62,#90ff6f,#9aff65,#b4ff4b,#d3ff2c,#eefc11,#fbf204,#ffe200,#ffd400,#ffca00,#ffc300,#ffbf00,#ffbc00,#ffba00,#ffb900,#ffb900,#ffb900,#ffba00,#ffbd00,#ffc000,#ffc500,#ffcd00,#ffd900,#ffe800,#f7f508,#e6fe19,#c8ff37,#a4ff5b,#84ff7b)"></i></div>
<svg style="left:403px;top:294px" width="212" height="188" viewBox="0 0 212 188"><path d="M44.5 0.5L45.4 2.5L45.7 3.5L46.2 5.5L46.5 7.3L46.6 8.5L46.7 10.5L46.7 12.5L46.6 14.5L46.4 15.5L46.0 17.5L45.6 19.5L45.2 20.5L44.5 21.9L43.5 23.2L42.5 23.8L40.9 23.5L39.9 22.5L39.3 21.5L38.5 19.7L38.2 18.5L37.8 16.5L37.5 15.1L37.4 13.5L37.3 11.5L37.3 9.5L37.5 7.5L37.6 6.5L38.1 4.5L38.5 2.7L39.0 1.5 M79.5 30.6L78.5 29.9L77.9 28.5L77.5 27.5L77.1 25.5L76.8 23.5L76.5 21.7L76.4 20.5L76.4 18.5L76.3 16.5L76.3 14.5L76.4 12.5L76.5 10.5L76.6 9.5L77.0 7.5L77.3 5.5L77.5 4.4L78.3 2.5L79.3 1.5L79.7 1.5L80.7 2.5L81.5 4.4L81.7 5.5L82.0 7.5L82.4 9.5L82.5 10.5L82.6 12.5L82.7 14.5L82.7 16.5L82.7 18.5L82.6 20.5L82.5 21.7L82.2 23.5L81.9 25.5L81.5 27.5L81.1 28.5L80.5 29.9L79.5 30.6 M156.0 0.5L156.7 1.5L157.5 3.2L157.9 4.5L158.5 6.3L158.7 7.5L159.0 9.5L159.1 11.5L159.1 13.5L158.9 15.5L158.6 17.5L158.4 18.5L157.8 20.5L157.4 21.5L156.5 23.2L155.6 24.5L154.5 25.5L153.5 26.0L151.5 26.3L149.5 25.5L148.5 24.6L147.7 23.5L147.1 22.5L146.5 21.2L145.9 19.5L145.5 18.0L145.2 16.5L145.0 14.5L144.9 12.5L145.0 10.5L145.2 8.5L145.5 6.5L145.7 5.5L146.4 3.5L146.8 2.5L147.5 1.2 M104.5 36.6L102.5 36.8L101.4 36.5L100.0 35.5L99.2 34.5L98.5 33.4L98.0 31.5L97.9 29.5L98.2 27.5L98.6 26.5L99.5 25.0L100.5 24.0L101.5 23.4L103.5 23.2L104.6 23.5L106.0 24.5L106.8 25.5L107.5 26.6L108.0 28.5L108.1 30.5L107.8 32.5L107.4 33.5L106.5 35.0L105.5 35.9L104.5 36.6 M183.5 38.5L181.5 38.8L180.5 38.5L179.2 37.5L178.4 36.5L177.6 34.5L177.4 33.5L177.3 31.5L177.5 29.9L178.0 28.5L178.5 27.4L179.5 26.2L180.5 25.5L182.5 25.2L183.5 25.5L184.7 26.5L185.5 27.5L186.3 29.5L186.6 30.5L186.7 32.5L186.5 34.0L186.0 35.5L185.5 36.6L184.5 37.8L183.5 38.5 M211.5 67.2L210.6 68.5L209.8 69.5L208.7 70.5L207.5 71.3L206.5 71.7L204.5 71.9L202.5 71.5L201.5 70.9L200.5 70.2L199.5 69.2L198.5 67.8L197.8 66.5L197.3 65.5L196.6 63.5L196.3 62.5L195.9 60.5L195.6 58.5L195.5 56.9L195.5 55.5L195.5 54.5L195.7 52.5L196.1 50.5L196.5 48.7L196.9 47.5L197.5 46.0L198.3 44.5L199.0 43.5L199.8 42.5L200.9 41.5L202.5 40.5L203.5 40.2L205.5 40.1L207.1 40.5L208.5 41.3L209.5 42.2L210.5 43.3L211.3 44.5 M0.5 47.3L1.4 45.5L2.5 44.6L4.5 45.5L5.0 46.5L5.5 47.5L5.9 49.5L6.0 51.5L6.0 53.5L5.7 55.5L5.5 56.5L4.5 57.8L3.5 58.6L1.5 58.5L0.9 57.5 M41.5 60.7L39.6 60.5L38.5 59.7L37.6 58.5L37.3 57.5L37.2 55.5L37.5 54.0L38.5 52.5L39.5 51.8L40.5 51.5L41.7 51.5L43.4 52.5L44.1 53.5L44.6 54.5L44.7 56.5L44.5 57.8L43.6 59.5L42.5 60.4L41.5 60.7 M30.5 74.9L28.5 75.1L27.2 74.5L26.4 73.5L25.8 71.5L26.1 69.5L26.5 68.3L27.5 67.3L29.5 66.8L31.1 67.5L31.9 68.5L32.5 70.0L32.6 71.5L32.3 72.5L31.5 74.1L30.5 74.9 M160.5 79.6L158.5 80.3L156.5 80.5L154.5 80.0L153.4 79.5L152.3 78.5L151.9 76.5L152.5 75.3L153.5 74.4L155.5 73.7L157.5 73.5L159.5 74.0L160.6 74.5L161.7 75.5L162.1 77.5L161.5 78.7L160.5 79.6 M56.5 89.7L54.5 89.9L52.5 89.8L50.7 89.5L49.5 88.8L48.5 88.1L47.5 86.5L48.0 84.5L48.9 83.5L50.5 82.6L51.5 82.3L53.5 82.1L55.5 82.2L57.2 82.5L58.5 83.2L59.5 83.9L60.5 85.5L60.0 87.5L59.1 88.5L57.5 89.4L56.5 89.7 M59.5 119.6L57.5 119.9L55.5 120.1L53.5 120.2L51.5 120.1L49.5 119.8L48.3 119.5L46.5 118.8L45.5 118.3L44.4 117.5L43.9 115.5L44.5 114.5L45.9 113.5L47.5 112.9L48.5 112.5L50.5 112.1L52.5 111.9L54.5 111.9L56.5 112.0L58.5 112.3L59.6 112.5L61.5 113.2L62.5 113.7L63.6 114.5L64.2 116.5L63.5 117.6L62.3 118.5L60.5 119.2L59.5 119.6 M155.5 153.6L153.5 154.0L151.5 154.2L149.5 154.1L147.5 153.9L145.5 153.5L144.5 153.2L143.0 152.5L141.7 151.5L141.1 150.5L141.5 148.9L142.5 148.0L143.5 147.4L145.5 146.7L146.5 146.4L148.5 146.3L150.5 146.2L152.5 146.3L154.4 146.5L155.5 146.9L157.4 147.5L158.5 148.4L158.9 149.5L158.5 151.5L157.7 152.5L156.5 153.2L155.5 153.6" fill="none" stroke="#140500" stroke-width="1.3" stroke-linejoin="round"/><g filter="url(#bl)"><use href="#ar" transform="translate(11.3 4.0) rotate(70)"/><use href="#ar" transform="translate(33.2 4.0) rotate(70)"/><use href="#ar" transform="translate(40.5 4.0) rotate(70)"/><use href="#ar" transform="translate(47.8 4.0) rotate(70)"/><use href="#ar" transform="translate(69.7 4.0) rotate(70)"/><use href="#ar" transform="translate(77.0 4.0) rotate(70)"/><use href="#ar" transform="translate(120.8 4.0) rotate(70)"/><use href="#ar" transform="translate(150.0 4.0) rotate(70)"/><use href="#ar" transform="translate(157.3 4.0) rotate(70)"/><use href="#ar" transform="translate(164.6 4.0) rotate(70)"/><use href="#ar" transform="translate(201.1 4.0) rotate(70)"/><use href="#ar" transform="translate(11.3 10.2) rotate(70)"/><use href="#ar" transform="translate(40.5 10.2) rotate(70)"/><use href="#ar" transform="translate(47.8 10.2) rotate(70)"/><use href="#ar" transform="translate(77.0 10.2) rotate(70)"/><use href="#ar" transform="translate(120.8 10.2) rotate(70)"/><use href="#ar" transform="translate(150.0 10.2) rotate(70)"/><use href="#ar" transform="translate(157.3 10.2) rotate(70)"/><use href="#ar" transform="translate(164.6 10.2) rotate(70)"/><use href="#ar" transform="translate(11.3 16.4) rotate(70)"/><use href="#ar" transform="translate(40.5 16.4) rotate(70)"/><use href="#ar" transform="translate(47.8 16.4) rotate(70)"/><use href="#ar" transform="translate(77.0 16.4) rotate(70)"/><use href="#ar" transform="translate(150.0 16.4) rotate(70)"/><use href="#ar" transform="translate(157.3 16.4) rotate(70)"/><use href="#ar" transform="translate(164.6 16.4) rotate(70)"/><use href="#ar" transform="translate(40.5 22.6) rotate(70)"/><use href="#ar" transform="translate(47.8 22.6) rotate(70)"/><use href="#ar" transform="translate(77.0 22.6) rotate(70)"/><use href="#ar" transform="translate(98.9 22.6) rotate(70)"/><use href="#ar" transform="translate(106.2 22.6) rotate(70)"/><use href="#ar" transform="translate(150.0 22.6) rotate(70)"/><use href="#ar" transform="translate(157.3 22.6) rotate(70)"/><use href="#ar" transform="translate(179.2 22.6) rotate(70)"/><use href="#ar" transform="translate(40.5 28.8) rotate(70)"/><use href="#ar" transform="translate(77.0 28.8) rotate(70)"/><use href="#ar" transform="translate(98.9 28.8) rotate(70)"/><use href="#ar" transform="translate(106.2 28.8) rotate(70)"/><use href="#ar" transform="translate(150.0 28.8) rotate(70)"/><use href="#ar" transform="translate(179.2 28.8) rotate(70)"/><use href="#ar" transform="translate(186.5 28.8) rotate(70)"/><use href="#ar" transform="translate(55.1 35.0) rotate(70)"/><use href="#ar" transform="translate(98.9 35.0) rotate(70)"/><use href="#ar" transform="translate(106.2 35.0) rotate(70)"/><use href="#ar" transform="translate(179.2 35.0) rotate(70)"/><use href="#ar" transform="translate(186.5 35.0) rotate(70)"/><use href="#ar" transform="translate(201.1 35.0) rotate(70)"/><use href="#ar" transform="translate(4.0 41.2) rotate(70)"/><use href="#ar" transform="translate(77.0 41.2) rotate(70)"/><use href="#ar" transform="translate(179.2 41.2) rotate(70)"/><use href="#ar" transform="translate(201.1 41.2) rotate(70)"/><use href="#ar" transform="translate(208.4 41.2) rotate(70)"/><use href="#ar" transform="translate(4.0 47.4) rotate(70)"/><use href="#ar" transform="translate(77.0 47.4) rotate(70)"/><use href="#ar" transform="translate(193.8 47.4) rotate(70)"/><use href="#ar" transform="translate(201.1 47.4) rotate(70)"/><use href="#ar" transform="translate(208.4 47.4) rotate(70)"/><use href="#ar" transform="translate(4.0 53.6) rotate(70)"/><use href="#ar" transform="translate(40.5 53.6) rotate(70)"/><use href="#ar" transform="translate(193.8 53.6) rotate(70)"/><use href="#ar" transform="translate(201.1 53.6) rotate(70)"/><use href="#ar" transform="translate(208.4 53.6) rotate(70)"/><use href="#ar" transform="translate(4.0 59.8) rotate(70)"/><use href="#ar" transform="translate(33.2 59.8) rotate(70)"/><use href="#ar" transform="translate(40.5 59.8) rotate(70)"/><use href="#ar" transform="translate(193.8 59.8) rotate(70)"/><use href="#ar" transform="translate(201.1 59.8) rotate(70)"/><use href="#ar" transform="translate(208.4 59.8) rotate(70)"/><use href="#ar" transform="translate(33.2 66.0) rotate(70)"/><use href="#ar" transform="translate(40.5 66.0) rotate(70)"/><use href="#ar" transform="translate(98.9 66.0) rotate(70)"/><use href="#ar" transform="translate(106.2 66.0) rotate(70)"/><use href="#ar" transform="translate(193.8 66.0) rotate(70)"/><use href="#ar" transform="translate(201.1 66.0) rotate(70)"/><use href="#ar" transform="translate(208.4 66.0) rotate(70)"/><use href="#ar" transform="translate(25.9 72.2) rotate(70)"/><use href="#ar" transform="translate(33.2 72.2) rotate(70)"/><use href="#ar" transform="translate(40.5 72.2) rotate(70)"/><use href="#ar" transform="translate(98.9 72.2) rotate(70)"/><use href="#ar" transform="translate(106.2 72.2) rotate(70)"/><use href="#ar" transform="translate(150.0 72.2) rotate(70)"/><use href="#ar" transform="translate(157.3 72.2) rotate(70)"/><use href="#ar" transform="translate(164.6 72.2) rotate(70)"/><use href="#ar" transform="translate(201.1 72.2) rotate(70)"/><use href="#ar" transform="translate(208.4 72.2) rotate(70)"/><use href="#ar" transform="translate(33.2 78.4) rotate(70)"/><use href="#ar" transform="translate(98.9 78.4) rotate(70)"/><use href="#ar" transform="translate(106.2 78.4) rotate(70)"/><use href="#ar" transform="translate(150.0 78.4) rotate(70)"/><use href="#ar" transform="translate(157.3 78.4) rotate(70)"/><use href="#ar" transform="translate(164.6 78.4) rotate(70)"/><use href="#ar" transform="translate(171.9 78.4) rotate(70)"/><use href="#ar" transform="translate(40.5 84.6) rotate(70)"/><use href="#ar" transform="translate(47.8 84.6) rotate(70)"/><use href="#ar" transform="translate(55.1 84.6) rotate(70)"/><use href="#ar" transform="translate(62.4 84.6) rotate(70)"/><use href="#ar" transform="translate(98.9 84.6) rotate(70)"/><use href="#ar" transform="translate(106.2 84.6) rotate(70)"/><use href="#ar" transform="translate(113.5 84.6) rotate(70)"/><use href="#ar" transform="translate(157.3 84.6) rotate(70)"/><use href="#ar" transform="translate(164.6 84.6) rotate(70)"/><use href="#ar" transform="translate(171.9 84.6) rotate(70)"/><use href="#ar" transform="translate(179.2 84.6) rotate(70)"/><use href="#ar" transform="translate(47.8 90.8) rotate(70)"/><use href="#ar" transform="translate(55.1 90.8) rotate(70)"/><use href="#ar" transform="translate(62.4 90.8) rotate(70)"/><use href="#ar" transform="translate(171.9 90.8) rotate(70)"/><use href="#ar" transform="translate(179.2 90.8) rotate(70)"/><use href="#ar" transform="translate(142.7 97.0) rotate(70)"/><use href="#ar" transform="translate(150.0 97.0) rotate(70)"/><use href="#ar" transform="translate(40.5 109.4) rotate(70)"/><use href="#ar" transform="translate(47.8 109.4) rotate(70)"/><use href="#ar" transform="translate(55.1 109.4) rotate(70)"/><use href="#ar" transform="translate(62.4 109.4) rotate(70)"/><use href="#ar" transform="translate(33.2 115.6) rotate(70)"/><use href="#ar" transform="translate(40.5 115.6) rotate(70)"/><use href="#ar" transform="translate(47.8 115.6) rotate(70)"/><use href="#ar" transform="translate(55.1 115.6) rotate(70)"/><use href="#ar" transform="translate(62.4 115.6) rotate(70)"/><use href="#ar" transform="translate(69.7 115.6) rotate(70)"/><use href="#ar" transform="translate(4.0 121.8) rotate(70)"/><use href="#ar" transform="translate(11.3 121.8) rotate(70)"/><use href="#ar" transform="translate(18.6 121.8) rotate(70)"/><use href="#ar" transform="translate(25.9 121.8) rotate(70)"/><use href="#ar" transform="translate(40.5 121.8) rotate(70)"/><use href="#ar" transform="translate(47.8 121.8) rotate(70)"/><use href="#ar" transform="translate(55.1 121.8) rotate(70)"/><use href="#ar" transform="translate(62.4 121.8) rotate(70)"/><use href="#ar" transform="translate(69.7 121.8) rotate(70)"/><use href="#ar" transform="translate(4.0 146.6) rotate(70)"/><use href="#ar" transform="translate(11.3 146.6) rotate(70)"/><use href="#ar" transform="translate(18.6 146.6) rotate(70)"/><use href="#ar" transform="translate(25.9 146.6) rotate(70)"/><use href="#ar" transform="translate(33.2 146.6) rotate(70)"/><use href="#ar" transform="translate(40.5 146.6) rotate(70)"/><use href="#ar" transform="translate(128.1 146.6) rotate(70)"/><use href="#ar" transform="translate(135.4 146.6) rotate(70)"/><use href="#ar" transform="translate(142.7 146.6) rotate(70)"/><use href="#ar" transform="translate(150.0 146.6) rotate(70)"/><use href="#ar" transform="translate(157.3 146.6) rotate(70)"/><use href="#ar" transform="translate(164.6 146.6) rotate(70)"/><use href="#ar" transform="translate(171.9 146.6) rotate(70)"/><use href="#ar" transform="translate(179.2 146.6) rotate(70)"/><use href="#ar" transform="translate(186.5 146.6) rotate(70)"/><use href="#ar" transform="translate(4.0 152.8) rotate(70)"/><use href="#ar" transform="translate(11.3 152.8) rotate(70)"/><use href="#ar" transform="translate(18.6 152.8) rotate(70)"/><use href="#ar" transform="translate(25.9 152.8) rotate(70)"/><use href="#ar" transform="translate(33.2 152.8) rotate(70)"/><use href="#ar" transform="translate(40.5 152.8) rotate(70)"/><use href="#ar" transform="translate(47.8 152.8) rotate(70)"/><use href="#ar" transform="translate(120.8 152.8) rotate(70)"/><use href="#ar" transform="translate(128.1 152.8) rotate(70)"/><use href="#ar" transform="translate(135.4 152.8) rotate(70)"/><use href="#ar" transform="translate(142.7 152.8) rotate(70)"/><use href="#ar" transform="translate(150.0 152.8) rotate(70)"/><use href="#ar" transform="translate(157.3 152.8) rotate(70)"/><use href="#ar" transform="translate(164.6 152.8) rotate(70)"/><use href="#ar" transform="translate(171.9 152.8) rotate(70)"/><use href="#ar" transform="translate(179.2 152.8) rotate(70)"/><use href="#ar" transform="translate(186.5 152.8) rotate(70)"/><use href="#ar" transform="translate(128.1 159.0) rotate(70)"/><use href="#ar" transform="translate(135.4 159.0) rotate(70)"/><use href="#ar" transform="translate(142.7 159.0) rotate(70)"/><use href="#ar" transform="translate(150.0 159.0) rotate(70)"/><use href="#ar" transform="translate(157.3 159.0) rotate(70)"/><use href="#ar" transform="translate(164.6 159.0) rotate(70)"/><use href="#ar" transform="translate(171.9 159.0) rotate(70)"/><use href="#ar" transform="translate(179.2 159.0) rotate(70)"/><use href="#ar" transform="translate(186.5 159.0) rotate(70)"/><use href="#ar" transform="translate(98.9 177.6) rotate(70)"/><use href="#ar" transform="translate(106.2 177.6) rotate(70)"/><use href="#ar" transform="translate(113.5 177.6) rotate(70)"/><use href="#ar" transform="translate(120.8 177.6) rotate(70)"/><use href="#ar" transform="translate(164.6 177.6) rotate(70)"/><use href="#ar" transform="translate(171.9 177.6) rotate(70)"/><use href="#ar" transform="translate(179.2 177.6) rotate(70)"/><use href="#ar" transform="translate(84.3 183.8) rotate(70)"/><use href="#ar" transform="translate(91.6 183.8) rotate(70)"/><use href="#ar" transform="translate(98.9 183.8) rotate(70)"/><use href="#ar" transform="translate(106.2 183.8) rotate(70)"/><use href="#ar" transform="translate(113.5 183.8) rotate(70)"/><use href="#ar" transform="translate(120.8 183.8) rotate(70)"/><use href="#ar" transform="translate(128.1 183.8) rotate(70)"/><use href="#ar" transform="translate(135.4 183.8) rotate(70)"/><use href="#ar" transform="translate(142.7 183.8) rotate(70)"/><use href="#ar" transform="translate(150.0 183.8) rotate(70)"/><use href="#ar" transform="translate(157.3 183.8) rotate(70)"/><use href="#ar" transform="translate(164.6 183.8) rotate(70)"/><use href="#ar" transform="translate(171.9 183.8) rotate(70)"/><use href="#ar" transform="translate(179.2 183.8) rotate(70)"/><use href="#ar" transform="translate(186.5 183.8) rotate(70)"/><use href="#ar" transform="translate(193.8 183.8) rotate(70)"/><use href="#ar" transform="translate(201.1 183.8) rotate(70)"/><use href="#ar" transform="translate(208.4 183.8) rotate(70)"/></g><polygon points="0,189 0,-1.0 1,-1.0 2,-1.0 3,-1.0 4,1.8 5,16.5 6,28.0 7,37.4 8,45.4 9,52.4 10,58.6 11,64.1 12,69.1 13,73.7 14,77.9 15,81.8 16,85.5 17,88.9 18,92.1 19,95.1 20,98.0 21,100.7 22,103.3 23,105.7 24,108.1 25,110.3 26,112.5 27,114.6 28,116.6 29,118.5 30,120.4 31,122.2 32,123.9 33,125.6 34,127.2 35,128.8 36,130.4 37,131.8 38,133.3 39,134.7 40,136.1 41,137.4 42,138.8 43,140.0 44,141.3 45,142.5 46,143.7 47,144.9 48,146.0 49,147.1 50,148.2 51,149.3 52,150.4 53,151.4 54,152.4 55,153.4 56,154.4 57,155.3 58,156.3 59,157.2 60,158.1 61,159.0 62,159.9 63,160.8 64,161.6 65,162.5 66,163.3 67,164.1 68,164.9 69,165.7 70,166.5 71,167.2 72,168.0 73,168.7 74,169.5 75,170.2 76,170.9 77,171.6 78,172.3 79,173.0 80,173.7 81,174.3 82,175.0 83,175.7 84,176.3 85,176.9 86,177.6 87,178.2 88,178.8 89,179.4 90,180.0 91,180.6 92,181.2 93,181.8 94,182.4 95,182.9 96,183.5 97,184.0 98,184.6 99,185.1 100,185.7 101,186.2 102,186.8 103,187.3 104,187.8 105,188.3 106,188.8 107,189.0 108,188.7 109,188.2 110,187.6 111,187.1 112,186.5 113,186.0 114,185.4 115,184.8 116,184.3 117,183.7 118,183.1 119,182.5 120,181.9 121,181.3 122,180.7 123,180.0 124,179.4 125,178.8 126,178.1 127,177.5 128,176.8 129,176.1 130,175.5 131,174.8 132,174.1 133,173.4 134,172.6 135,171.9 136,171.2 137,170.4 138,169.7 139,168.9 140,168.1 141,167.3 142,166.5 143,165.7 144,164.9 145,164.0 146,163.2 147,162.3 148,161.4 149,160.5 150,159.6 151,158.7 152,157.7 153,156.8 154,155.8 155,154.8 156,153.8 157,152.7 158,151.7 159,150.6 160,149.5 161,148.4 162,147.2 163,146.1 164,144.9 165,143.6 166,142.4 167,141.1 168,139.8 169,138.4 170,137.0 171,135.6 172,134.1 173,132.6 174,131.1 175,129.5 176,127.8 177,126.1 178,124.4 179,122.6 180,120.7 181,118.7 182,116.7 183,114.6 184,112.4 185,110.2 186,107.8 187,105.3 188,102.7 189,99.9 190,97.0 191,94.0 192,90.7 193,87.3 194,83.6 195,79.6 196,75.3 197,70.6 198,65.5 199,59.8 200,53.5 201,46.3 202,38.0 203,28.1 204,16.1 205,0.4 206,-1.0 207,-1.0 208,-1.0 209,-1.0 210,-1.0 211,-1.0 212,-1.0 212,189" fill="#fff" fill-opacity="0.5"/><polyline points="0,-1.0 1,-1.0 2,-1.0 3,-1.0 4,1.8 5,16.5 6,28.0 7,37.4 8,45.4 9,52.4 10,58.6 11,64.1 12,69.1 13,73.7 14,77.9 15,81.8 16,85.5 17,88.9 18,92.1 19,95.1 20,98.0 21,100.7 22,103.3 23,105.7 24,108.1 25,110.3 26,112.5 27,114.6 28,116.6 29,118.5 30,120.4 31,122.2 32,123.9 33,125.6 34,127.2 35,128.8 36,130.4 37,131.8 38,133.3 39,134.7 40,136.1 41,137.4 42,138.8 43,140.0 44,141.3 45,142.5 46,143.7 47,144.9 48,146.0 49,147.1 50,148.2 51,149.3 52,150.4 53,151.4 54,152.4 55,153.4 56,154.4 57,155.3 58,156.3 59,157.2 60,158.1 61,159.0 62,159.9 63,160.8 64,161.6 65,162.5 66,163.3 67,164.1 68,164.9 69,165.7 70,166.5 71,167.2 72,168.0 73,168.7 74,169.5 75,170.2 76,170.9 77,171.6 78,172.3 79,173.0 80,173.7 81,174.3 82,175.0 83,175.7 84,176.3 85,176.9 86,177.6 87,178.2 88,178.8 89,179.4 90,180.0 91,180.6 92,181.2 93,181.8 94,182.4 95,182.9 96,183.5 97,184.0 98,184.6 99,185.1 100,185.7 101,186.2 102,186.8 103,187.3 104,187.8 105,188.3 106,188.8 107,189.0 108,188.7 109,188.2 110,187.6 111,187.1 112,186.5 113,186.0 114,185.4 115,184.8 116,184.3 117,183.7 118,183.1 119,182.5 120,181.9 121,181.3 122,180.7 123,180.0 124,179.4 125,178.8 126,178.1 127,177.5 128,176.8 129,176.1 130,175.5 131,174.8 132,174.1 133,173.4 134,172.6 135,171.9 136,171.2 137,170.4 138,169.7 139,168.9 140,168.1 141,167.3 142,166.5 143,165.7 144,164.9 145,164.0 146,163.2 147,162.3 148,161.4 149,160.5 150,159.6 151,158.7 152,157.7 153,156.8 154,155.8 155,154.8 156,153.8 157,152.7 158,151.7 159,150.6 160,149.5 161,148.4 162,147.2 163,146.1 164,144.9 165,143.6 166,142.4 167,141.1 168,139.8 169,138.4 170,137.0 171,135.6 172,134.1 173,132.6 174,131.1 175,129.5 176,127.8 177,126.1 178,124.4 179,122.6 180,120.7 181,118.7 182,116.7 183,114.6 184,112.4 185,110.2 186,107.8 187,105.3 188,102.7 189,99.9 190,97.0 191,94.0 192,90.7 193,87.3 194,83.6 195,79.6 196,75.3 197,70.6 198,65.5 199,59.8 200,53.5 201,46.3 202,38.0 203,28.1 204,16.1 205,0.4 206,-1.0 207,-1.0 208,-1.0 209,-1.0 210,-1.0 211,-1.0 212,-1.0" fill="none" stroke="#222" stroke-width="0.6" opacity=".8"/></svg>
<div class="ax" style="left:402.7px;top:293.7px;width:212.6px;height:188.6px"></div>
<div class="cb" style="left:626.3px;top:294.5px;width:11.300000000000068px;height:188.5px"></div>
<div class="lb" style="left:640.6px;top:479.5px">0</div>
<div class="lb" style="left:640.6px;top:460.6px">0.1</div>
<div class="lb" style="left:640.6px;top:441.8px">0.2</div>
<div class="lb" style="left:640.6px;top:422.9px">0.3</div>
<div class="lb" style="left:640.6px;top:404.1px">0.4</div>
<div class="lb" style="left:640.6px;top:385.2px">0.5</div>
<div class="lb" style="left:640.6px;top:366.4px">0.6</div>
<div class="lb" style="left:640.6px;top:347.6px">0.7</div>
<div class="lb" style="left:640.6px;top:328.7px">0.8</div>
<div class="lb" style="left:640.6px;top:309.9px">0.9</div>
<div class="lb" style="left:640.6px;top:291.0px">1</div>
<div class="lb" style="right:284.0px;top:326.5px">4</div>
<div class="lb" style="right:284.0px;top:363.5px">8</div>
<div class="lb" style="right:284.0px;top:400.5px">16</div>
<div class="lb" style="right:284.0px;top:437.5px">32</div>
<div class="lb" style="right:284.0px;top:474.5px">64</div>
<div class="lb" style="left:370.2px;width:30px;text-align:center;top:387.1px;height:8px;font-size:8px;line-height:8px;transform:rotate(-90deg);transform-origin:50% 50%">Period</div>
<div class="lb" style="left:450.0px;width:12px;text-align:center;top:486.0px">50</div>
<div class="lb" style="left:502.7px;width:12px;text-align:center;top:486.0px">100</div>
<div class="lb" style="left:555.0px;width:12px;text-align:center;top:486.0px">150</div>
<div class="lb" style="left:606.5px;width:12px;text-align:center;top:486.0px">200</div>
<div class="cap" style="left:378.8px;top:520.6px;transform:scaleX(0.875)">NFT (TURBULENT) and SP500 excluding CRIX</div>
</body></html>
